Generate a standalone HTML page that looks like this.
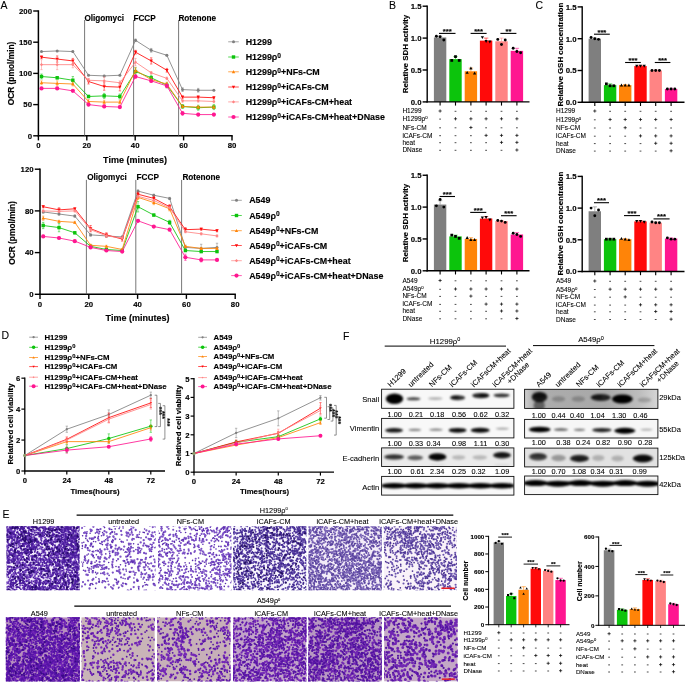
<!DOCTYPE html>
<html><head><meta charset="utf-8"><title>Figure</title>
<style>html,body{margin:0;padding:0;background:#fff}svg{display:block}text{font-family:"Liberation Sans",Arial,sans-serif;stroke:#000;stroke-width:0.08px}text[font-weight]{stroke-width:0.14px}</style></head><body>
<svg width="685" height="684" viewBox="0 0 685 684">
<defs><filter id="blur" x="-20%" y="-50%" width="140%" height="200%"><feGaussianBlur stdDeviation="0.9"/></filter><linearGradient id="gr1" x1="0" x2="1" y1="0" y2="0"><stop offset="0" stop-color="#cfcfcf"/><stop offset="0.07" stop-color="#adadad"/><stop offset="0.6" stop-color="#a8a8a8"/><stop offset="0.86" stop-color="#bdbdbd"/><stop offset="1" stop-color="#d6d6d6"/></linearGradient></defs>
<rect width="685" height="684" fill="#fff"/>
<text x="0.6" y="8.7" font-size="10.5">A</text>
<line x1="38.4" y1="10.3" x2="38.4" y2="136.5" stroke="#000" stroke-width="1.5"/>
<line x1="37.7" y1="135.8" x2="232.7" y2="135.8" stroke="#000" stroke-width="1.5"/>
<line x1="33.2" y1="135.8" x2="38.4" y2="135.8" stroke="#000" stroke-width="1.4"/>
<text x="32" y="138.6" font-size="7.8" text-anchor="end" font-weight="bold">0</text>
<line x1="33.2" y1="104.6" x2="38.4" y2="104.6" stroke="#000" stroke-width="1.4"/>
<text x="32" y="107.4" font-size="7.8" text-anchor="end" font-weight="bold">50</text>
<line x1="33.2" y1="73.4" x2="38.4" y2="73.4" stroke="#000" stroke-width="1.4"/>
<text x="32" y="76.2" font-size="7.8" text-anchor="end" font-weight="bold">100</text>
<line x1="33.2" y1="42.2" x2="38.4" y2="42.2" stroke="#000" stroke-width="1.4"/>
<text x="32" y="45" font-size="7.8" text-anchor="end" font-weight="bold">150</text>
<line x1="33.2" y1="11" x2="38.4" y2="11" stroke="#000" stroke-width="1.4"/>
<text x="32" y="13.8" font-size="7.8" text-anchor="end" font-weight="bold">200</text>
<line x1="38.4" y1="135.8" x2="38.4" y2="140.4" stroke="#000" stroke-width="1.4"/>
<text x="38.4" y="148.2" font-size="7.8" text-anchor="middle" font-weight="bold">0</text>
<line x1="86.8" y1="135.8" x2="86.8" y2="140.4" stroke="#000" stroke-width="1.4"/>
<text x="86.8" y="148.2" font-size="7.8" text-anchor="middle" font-weight="bold">20</text>
<line x1="135.2" y1="135.8" x2="135.2" y2="140.4" stroke="#000" stroke-width="1.4"/>
<text x="135.2" y="148.2" font-size="7.8" text-anchor="middle" font-weight="bold">40</text>
<line x1="183.6" y1="135.8" x2="183.6" y2="140.4" stroke="#000" stroke-width="1.4"/>
<text x="183.6" y="148.2" font-size="7.8" text-anchor="middle" font-weight="bold">60</text>
<line x1="232" y1="135.8" x2="232" y2="140.4" stroke="#000" stroke-width="1.4"/>
<text x="232" y="148.2" font-size="7.8" text-anchor="middle" font-weight="bold">80</text>
<line x1="84.6" y1="20" x2="84.6" y2="135.8" stroke="#555" stroke-width="0.8"/>
<text x="84.4" y="20.6" font-size="8.2" font-weight="bold">Oligomyci</text>
<line x1="133.6" y1="20" x2="133.6" y2="135.8" stroke="#555" stroke-width="0.8"/>
<text x="133.4" y="20.6" font-size="8.2" font-weight="bold">FCCP</text>
<line x1="178.6" y1="20" x2="178.6" y2="135.8" stroke="#555" stroke-width="0.8"/>
<text x="178.4" y="20.6" font-size="8.2" font-weight="bold">Rotenone</text>
<polyline fill="none" stroke="#7f7f7f" stroke-width="0.85" points="41.5,51.56 57.17,50.94 72.84,51.56 88.51,75.27 104.18,75.9 119.85,75.27 135.52,40.33 151.19,50.31 166.86,55.3 182.53,89.62 198.2,90.25 213.87,90.25"/>
<path d="M72.84 50.94V52.18M71.64 50.94h2.4M71.64 52.18h2.4M104.18 75.27V76.52M102.98 75.27h2.4M102.98 76.52h2.4M135.52 39.08V41.58M134.32 39.08h2.4M134.32 41.58h2.4M151.19 48.44V52.18M149.99 48.44h2.4M149.99 52.18h2.4M166.86 54.68V55.93M165.66 54.68h2.4M165.66 55.93h2.4M182.53 87.75V91.5M181.33 87.75h2.4M181.33 91.5h2.4M198.2 88.38V92.12M197 88.38h2.4M197 92.12h2.4" stroke="#7f7f7f" stroke-width="0.5" fill="none"/>
<circle cx="41.5" cy="51.56" r="1.5" fill="#7f7f7f"/>
<circle cx="57.17" cy="50.94" r="1.5" fill="#7f7f7f"/>
<circle cx="72.84" cy="51.56" r="1.5" fill="#7f7f7f"/>
<circle cx="88.51" cy="75.27" r="1.5" fill="#7f7f7f"/>
<circle cx="104.18" cy="75.9" r="1.5" fill="#7f7f7f"/>
<circle cx="119.85" cy="75.27" r="1.5" fill="#7f7f7f"/>
<circle cx="135.52" cy="40.33" r="1.5" fill="#7f7f7f"/>
<circle cx="151.19" cy="50.31" r="1.5" fill="#7f7f7f"/>
<circle cx="166.86" cy="55.3" r="1.5" fill="#7f7f7f"/>
<circle cx="182.53" cy="89.62" r="1.5" fill="#7f7f7f"/>
<circle cx="198.2" cy="90.25" r="1.5" fill="#7f7f7f"/>
<circle cx="213.87" cy="90.25" r="1.5" fill="#7f7f7f"/>
<polyline fill="none" stroke="#0cc40c" stroke-width="0.85" points="41.5,76.52 57.17,77.77 72.84,80.26 88.51,96.49 104.18,95.86 119.85,96.49 135.52,71.53 151.19,77.77 166.86,85.26 182.53,106.47 198.2,107.72 213.87,107.1"/>
<path d="M41.5 74.02V79.02M40.3 74.02h2.4M40.3 79.02h2.4M57.17 76.52V79.02M55.97 76.52h2.4M55.97 79.02h2.4M72.84 76.52V84.01M71.64 76.52h2.4M71.64 84.01h2.4M88.51 95.24V97.74M87.31 95.24h2.4M87.31 97.74h2.4M104.18 93.37V98.36M102.98 93.37h2.4M102.98 98.36h2.4M119.85 93.99V98.98M118.65 93.99h2.4M118.65 98.98h2.4M135.52 67.78V75.27M134.32 67.78h2.4M134.32 75.27h2.4M151.19 75.27V80.26M149.99 75.27h2.4M149.99 80.26h2.4M166.86 82.76V87.75M165.66 82.76h2.4M165.66 87.75h2.4M182.53 104.6V108.34M181.33 104.6h2.4M181.33 108.34h2.4M198.2 105.22V110.22M197 105.22h2.4M197 110.22h2.4M213.87 104.6V109.59M212.67 104.6h2.4M212.67 109.59h2.4" stroke="#0cc40c" stroke-width="0.5" fill="none"/>
<rect x="39.8" y="74.82" width="3.4" height="3.4" fill="#0cc40c"/>
<rect x="55.47" y="76.07" width="3.4" height="3.4" fill="#0cc40c"/>
<rect x="71.14" y="78.56" width="3.4" height="3.4" fill="#0cc40c"/>
<rect x="86.81" y="94.79" width="3.4" height="3.4" fill="#0cc40c"/>
<rect x="102.48" y="94.16" width="3.4" height="3.4" fill="#0cc40c"/>
<rect x="118.15" y="94.79" width="3.4" height="3.4" fill="#0cc40c"/>
<rect x="133.82" y="69.83" width="3.4" height="3.4" fill="#0cc40c"/>
<rect x="149.49" y="76.07" width="3.4" height="3.4" fill="#0cc40c"/>
<rect x="165.16" y="83.56" width="3.4" height="3.4" fill="#0cc40c"/>
<rect x="180.83" y="104.77" width="3.4" height="3.4" fill="#0cc40c"/>
<rect x="196.5" y="106.02" width="3.4" height="3.4" fill="#0cc40c"/>
<rect x="212.17" y="105.4" width="3.4" height="3.4" fill="#0cc40c"/>
<polyline fill="none" stroke="#ff8408" stroke-width="0.85" points="41.5,82.76 57.17,83.38 72.84,84.01 88.51,101.48 104.18,102.1 119.85,102.1 135.52,70.28 151.19,79.64 166.86,84.01 182.53,106.47 198.2,107.1 213.87,107.1"/>
<path d="M41.5 80.89V84.63M40.3 80.89h2.4M40.3 84.63h2.4M57.17 80.89V85.88M55.97 80.89h2.4M55.97 85.88h2.4M72.84 82.14V85.88M71.64 82.14h2.4M71.64 85.88h2.4M88.51 99.61V103.35M87.31 99.61h2.4M87.31 103.35h2.4M104.18 100.23V103.98M102.98 100.23h2.4M102.98 103.98h2.4M119.85 100.23V103.98M118.65 100.23h2.4M118.65 103.98h2.4M135.52 67.78V72.78M134.32 67.78h2.4M134.32 72.78h2.4M151.19 77.77V81.51M149.99 77.77h2.4M149.99 81.51h2.4M166.86 82.14V85.88M165.66 82.14h2.4M165.66 85.88h2.4M182.53 105.22V107.72M181.33 105.22h2.4M181.33 107.72h2.4M198.2 105.85V108.34M197 105.85h2.4M197 108.34h2.4M213.87 105.85V108.34M212.67 105.85h2.4M212.67 108.34h2.4" stroke="#ff8408" stroke-width="0.5" fill="none"/>
<path d="M41.5 81.06L43.2 84.12L39.8 84.12Z" fill="#ff8408"/>
<path d="M57.17 81.68L58.87 84.74L55.47 84.74Z" fill="#ff8408"/>
<path d="M72.84 82.31L74.54 85.37L71.14 85.37Z" fill="#ff8408"/>
<path d="M88.51 99.78L90.21 102.84L86.81 102.84Z" fill="#ff8408"/>
<path d="M104.18 100.4L105.88 103.46L102.48 103.46Z" fill="#ff8408"/>
<path d="M119.85 100.4L121.55 103.46L118.15 103.46Z" fill="#ff8408"/>
<path d="M135.52 68.58L137.22 71.64L133.82 71.64Z" fill="#ff8408"/>
<path d="M151.19 77.94L152.89 81L149.49 81Z" fill="#ff8408"/>
<path d="M166.86 82.31L168.56 85.37L165.16 85.37Z" fill="#ff8408"/>
<path d="M182.53 104.77L184.23 107.83L180.83 107.83Z" fill="#ff8408"/>
<path d="M198.2 105.4L199.9 108.46L196.5 108.46Z" fill="#ff8408"/>
<path d="M213.87 105.4L215.57 108.46L212.17 108.46Z" fill="#ff8408"/>
<polyline fill="none" stroke="#ff0a0a" stroke-width="0.85" points="41.5,57.18 57.17,59.05 72.84,60.92 88.51,81.51 104.18,86.5 119.85,87.13 135.52,52.18 151.19,60.92 166.86,70.28 182.53,97.11 198.2,97.11 213.87,97.74"/>
<path d="M41.5 55.93V58.42M40.3 55.93h2.4M40.3 58.42h2.4M57.17 55.93V62.17M55.97 55.93h2.4M55.97 62.17h2.4M72.84 58.42V63.42M71.64 58.42h2.4M71.64 63.42h2.4M88.51 79.02V84.01M87.31 79.02h2.4M87.31 84.01h2.4M104.18 82.76V90.25M102.98 82.76h2.4M102.98 90.25h2.4M119.85 83.38V90.87M118.65 83.38h2.4M118.65 90.87h2.4M135.52 50.31V54.06M134.32 50.31h2.4M134.32 54.06h2.4M151.19 57.8V64.04M149.99 57.8h2.4M149.99 64.04h2.4M166.86 68.41V72.15M165.66 68.41h2.4M165.66 72.15h2.4M182.53 95.86V98.36M181.33 95.86h2.4M181.33 98.36h2.4M198.2 95.86V98.36M197 95.86h2.4M197 98.36h2.4M213.87 96.49V98.98M212.67 96.49h2.4M212.67 98.98h2.4" stroke="#ff0a0a" stroke-width="0.5" fill="none"/>
<path d="M41.5 58.88L43.2 55.82L39.8 55.82Z" fill="#ff0a0a"/>
<path d="M57.17 60.75L58.87 57.69L55.47 57.69Z" fill="#ff0a0a"/>
<path d="M72.84 62.62L74.54 59.56L71.14 59.56Z" fill="#ff0a0a"/>
<path d="M88.51 83.21L90.21 80.15L86.81 80.15Z" fill="#ff0a0a"/>
<path d="M104.18 88.2L105.88 85.14L102.48 85.14Z" fill="#ff0a0a"/>
<path d="M119.85 88.83L121.55 85.77L118.15 85.77Z" fill="#ff0a0a"/>
<path d="M135.52 53.88L137.22 50.82L133.82 50.82Z" fill="#ff0a0a"/>
<path d="M151.19 62.62L152.89 59.56L149.49 59.56Z" fill="#ff0a0a"/>
<path d="M166.86 71.98L168.56 68.92L165.16 68.92Z" fill="#ff0a0a"/>
<path d="M182.53 98.81L184.23 95.75L180.83 95.75Z" fill="#ff0a0a"/>
<path d="M198.2 98.81L199.9 95.75L196.5 95.75Z" fill="#ff0a0a"/>
<path d="M213.87 99.44L215.57 96.38L212.17 96.38Z" fill="#ff0a0a"/>
<polyline fill="none" stroke="#ff8484" stroke-width="0.85" points="41.5,64.66 57.17,64.66 72.84,64.66 88.51,80.26 104.18,80.89 119.85,82.76 135.52,62.17 151.19,72.78 166.86,78.39 182.53,100.86 198.2,100.86 213.87,101.48"/>
<path d="M41.5 59.67V69.66M40.3 59.67h2.4M40.3 69.66h2.4M57.17 59.67V69.66M55.97 59.67h2.4M55.97 69.66h2.4M72.84 61.54V67.78M71.64 61.54h2.4M71.64 67.78h2.4M88.51 78.39V82.14M87.31 78.39h2.4M87.31 82.14h2.4M104.18 77.14V84.63M102.98 77.14h2.4M102.98 84.63h2.4M119.85 80.89V84.63M118.65 80.89h2.4M118.65 84.63h2.4M135.52 58.42V65.91M134.32 58.42h2.4M134.32 65.91h2.4M151.19 71.53V74.02M149.99 71.53h2.4M149.99 74.02h2.4M166.86 77.14V79.64M165.66 77.14h2.4M165.66 79.64h2.4M182.53 99.61V102.1M181.33 99.61h2.4M181.33 102.1h2.4M198.2 99.61V102.1M197 99.61h2.4M197 102.1h2.4M213.87 100.23V102.73M212.67 100.23h2.4M212.67 102.73h2.4" stroke="#ff8484" stroke-width="0.5" fill="none"/>
<path d="M41.5 63.06L43.1 64.66L41.5 66.26L39.9 64.66Z" fill="#ff8484"/>
<path d="M57.17 63.06L58.77 64.66L57.17 66.26L55.57 64.66Z" fill="#ff8484"/>
<path d="M72.84 63.06L74.44 64.66L72.84 66.26L71.24 64.66Z" fill="#ff8484"/>
<path d="M88.51 78.66L90.11 80.26L88.51 81.86L86.91 80.26Z" fill="#ff8484"/>
<path d="M104.18 79.29L105.78 80.89L104.18 82.49L102.58 80.89Z" fill="#ff8484"/>
<path d="M119.85 81.16L121.45 82.76L119.85 84.36L118.25 82.76Z" fill="#ff8484"/>
<path d="M135.52 60.57L137.12 62.17L135.52 63.77L133.92 62.17Z" fill="#ff8484"/>
<path d="M151.19 71.18L152.79 72.78L151.19 74.38L149.59 72.78Z" fill="#ff8484"/>
<path d="M166.86 76.79L168.46 78.39L166.86 79.99L165.26 78.39Z" fill="#ff8484"/>
<path d="M182.53 99.26L184.13 100.86L182.53 102.46L180.93 100.86Z" fill="#ff8484"/>
<path d="M198.2 99.26L199.8 100.86L198.2 102.46L196.6 100.86Z" fill="#ff8484"/>
<path d="M213.87 99.88L215.47 101.48L213.87 103.08L212.27 101.48Z" fill="#ff8484"/>
<polyline fill="none" stroke="#ff1690" stroke-width="0.85" points="41.5,88.38 57.17,88.38 72.84,90.87 88.51,104.6 104.18,106.47 119.85,107.1 135.52,76.52 151.19,80.89 166.86,85.88 182.53,113.34 198.2,114.58 213.87,114.58"/>
<path d="M41.5 87.75V89M40.3 87.75h2.4M40.3 89h2.4M57.17 87.75V89M55.97 87.75h2.4M55.97 89h2.4M72.84 90.25V91.5M71.64 90.25h2.4M71.64 91.5h2.4M88.51 103.35V105.85M87.31 103.35h2.4M87.31 105.85h2.4M104.18 105.22V107.72M102.98 105.22h2.4M102.98 107.72h2.4M119.85 105.85V108.34M118.65 105.85h2.4M118.65 108.34h2.4M135.52 74.65V78.39M134.32 74.65h2.4M134.32 78.39h2.4M151.19 79.64V82.14M149.99 79.64h2.4M149.99 82.14h2.4M166.86 84.01V87.75M165.66 84.01h2.4M165.66 87.75h2.4M182.53 111.46V115.21M181.33 111.46h2.4M181.33 115.21h2.4M198.2 113.34V115.83M197 113.34h2.4M197 115.83h2.4M213.87 113.34V115.83M212.67 113.34h2.4M212.67 115.83h2.4" stroke="#ff1690" stroke-width="0.5" fill="none"/>
<circle cx="41.5" cy="88.38" r="2.1" fill="#ff1690"/>
<circle cx="57.17" cy="88.38" r="2.1" fill="#ff1690"/>
<circle cx="72.84" cy="90.87" r="2.1" fill="#ff1690"/>
<circle cx="88.51" cy="104.6" r="2.1" fill="#ff1690"/>
<circle cx="104.18" cy="106.47" r="2.1" fill="#ff1690"/>
<circle cx="119.85" cy="107.1" r="2.1" fill="#ff1690"/>
<circle cx="135.52" cy="76.52" r="2.1" fill="#ff1690"/>
<circle cx="151.19" cy="80.89" r="2.1" fill="#ff1690"/>
<circle cx="166.86" cy="85.88" r="2.1" fill="#ff1690"/>
<circle cx="182.53" cy="113.34" r="2.1" fill="#ff1690"/>
<circle cx="198.2" cy="114.58" r="2.1" fill="#ff1690"/>
<circle cx="213.87" cy="114.58" r="2.1" fill="#ff1690"/>
<line x1="228.2" y1="41.8" x2="238.8" y2="41.8" stroke="#7f7f7f" stroke-width="0.7"/>
<circle cx="233.5" cy="41.8" r="1.5" fill="#7f7f7f"/>
<text x="245.7" y="44.9" font-size="8.9" font-weight="bold">H1299</text>
<line x1="228.2" y1="57" x2="238.8" y2="57" stroke="#0cc40c" stroke-width="0.7"/>
<rect x="231.8" y="55.3" width="3.4" height="3.4" fill="#0cc40c"/>
<text x="245.7" y="60.1" font-size="8.9" font-weight="bold">H1299ρ<tspan dy="-2.4" font-size="75%">0</tspan><tspan dy="2.4"></tspan></text>
<line x1="228.2" y1="71.8" x2="238.8" y2="71.8" stroke="#ff8408" stroke-width="0.7"/>
<path d="M233.5 70.1L235.2 73.16L231.8 73.16Z" fill="#ff8408"/>
<text x="245.7" y="74.9" font-size="8.9" font-weight="bold">H1299ρ<tspan dy="-2.4" font-size="75%">0</tspan><tspan dy="2.4">+NFs-CM</tspan></text>
<line x1="228.2" y1="87" x2="238.8" y2="87" stroke="#ff0a0a" stroke-width="0.7"/>
<path d="M233.5 88.7L235.2 85.64L231.8 85.64Z" fill="#ff0a0a"/>
<text x="245.7" y="90.1" font-size="8.9" font-weight="bold">H1299ρ<tspan dy="-2.4" font-size="75%">0</tspan><tspan dy="2.4">+iCAFs-CM</tspan></text>
<line x1="228.2" y1="101.9" x2="238.8" y2="101.9" stroke="#ff8484" stroke-width="0.7"/>
<path d="M233.5 100.3L235.1 101.9L233.5 103.5L231.9 101.9Z" fill="#ff8484"/>
<text x="245.7" y="105" font-size="8.9" font-weight="bold">H1299ρ<tspan dy="-2.4" font-size="75%">0</tspan><tspan dy="2.4">+iCAFs-CM+heat</tspan></text>
<line x1="228.2" y1="117" x2="238.8" y2="117" stroke="#ff1690" stroke-width="0.7"/>
<circle cx="233.5" cy="117" r="2.1" fill="#ff1690"/>
<text x="245.7" y="120.1" font-size="8.9" font-weight="bold">H1299ρ<tspan dy="-2.4" font-size="75%">0</tspan><tspan dy="2.4">+iCAFs-CM+heat+DNase</tspan></text>
<text x="13.7" y="73.5" font-size="8.4" text-anchor="middle" font-weight="bold" transform="rotate(-90 13.7 73.5)">OCR (pmol/min)</text>
<text x="135" y="162.5" font-size="9" text-anchor="middle" font-weight="bold">Time (minutes)</text>
<line x1="40" y1="168.5" x2="40" y2="295" stroke="#000" stroke-width="1.5"/>
<line x1="39.3" y1="294.3" x2="235.9" y2="294.3" stroke="#000" stroke-width="1.5"/>
<line x1="34.8" y1="294.3" x2="40" y2="294.3" stroke="#000" stroke-width="1.4"/>
<text x="33.6" y="297.1" font-size="7.8" text-anchor="end" font-weight="bold">0</text>
<line x1="34.8" y1="252.6" x2="40" y2="252.6" stroke="#000" stroke-width="1.4"/>
<text x="33.6" y="255.4" font-size="7.8" text-anchor="end" font-weight="bold">40</text>
<line x1="34.8" y1="210.9" x2="40" y2="210.9" stroke="#000" stroke-width="1.4"/>
<text x="33.6" y="213.7" font-size="7.8" text-anchor="end" font-weight="bold">80</text>
<line x1="34.8" y1="169.2" x2="40" y2="169.2" stroke="#000" stroke-width="1.4"/>
<text x="33.6" y="172" font-size="7.8" text-anchor="end" font-weight="bold">120</text>
<line x1="40" y1="294.3" x2="40" y2="298.9" stroke="#000" stroke-width="1.4"/>
<text x="40" y="306.7" font-size="7.8" text-anchor="middle" font-weight="bold">0</text>
<line x1="88.8" y1="294.3" x2="88.8" y2="298.9" stroke="#000" stroke-width="1.4"/>
<text x="88.8" y="306.7" font-size="7.8" text-anchor="middle" font-weight="bold">20</text>
<line x1="137.6" y1="294.3" x2="137.6" y2="298.9" stroke="#000" stroke-width="1.4"/>
<text x="137.6" y="306.7" font-size="7.8" text-anchor="middle" font-weight="bold">40</text>
<line x1="186.4" y1="294.3" x2="186.4" y2="298.9" stroke="#000" stroke-width="1.4"/>
<text x="186.4" y="306.7" font-size="7.8" text-anchor="middle" font-weight="bold">60</text>
<line x1="235.2" y1="294.3" x2="235.2" y2="298.9" stroke="#000" stroke-width="1.4"/>
<text x="235.2" y="306.7" font-size="7.8" text-anchor="middle" font-weight="bold">80</text>
<line x1="86.4" y1="179.9" x2="86.4" y2="294.3" stroke="#555" stroke-width="0.8"/>
<text x="87.2" y="179.9" font-size="8.2" font-weight="bold">Oligomyci</text>
<line x1="135.8" y1="179.9" x2="135.8" y2="294.3" stroke="#555" stroke-width="0.8"/>
<text x="136.6" y="179.9" font-size="8.2" font-weight="bold">FCCP</text>
<line x1="181.6" y1="179.9" x2="181.6" y2="294.3" stroke="#555" stroke-width="0.8"/>
<text x="182.4" y="179.9" font-size="8.2" font-weight="bold">Rotenone</text>
<polyline fill="none" stroke="#7f7f7f" stroke-width="0.85" points="43.2,211.94 59,214.03 74.8,216.11 90.6,234.88 106.4,235.92 122.2,236.96 138,191.09 153.8,195.26 169.6,198.39 185.4,247.39 201.2,248.43 217,247.39"/>
<path d="M43.2 210.9V212.98M42 210.9h2.4M42 212.98h2.4M59 212.99V215.07M57.8 212.99h2.4M57.8 215.07h2.4M74.8 215.07V217.16M73.6 215.07h2.4M73.6 217.16h2.4M90.6 233.84V235.92M89.4 233.84h2.4M89.4 235.92h2.4M106.4 234.88V236.96M105.2 234.88h2.4M105.2 236.96h2.4M122.2 235.92V238M121 235.92h2.4M121 238h2.4M138 190.05V192.14M136.8 190.05h2.4M136.8 192.14h2.4M153.8 194.22V196.31M152.6 194.22h2.4M152.6 196.31h2.4M169.6 197.35V199.43M168.4 197.35h2.4M168.4 199.43h2.4M185.4 245.3V249.47M184.2 245.3h2.4M184.2 249.47h2.4M201.2 244.26V252.6M200 244.26h2.4M200 252.6h2.4M217 243.22V251.56M215.8 243.22h2.4M215.8 251.56h2.4" stroke="#7f7f7f" stroke-width="0.5" fill="none"/>
<circle cx="43.2" cy="211.94" r="1.5" fill="#7f7f7f"/>
<circle cx="59" cy="214.03" r="1.5" fill="#7f7f7f"/>
<circle cx="74.8" cy="216.11" r="1.5" fill="#7f7f7f"/>
<circle cx="90.6" cy="234.88" r="1.5" fill="#7f7f7f"/>
<circle cx="106.4" cy="235.92" r="1.5" fill="#7f7f7f"/>
<circle cx="122.2" cy="236.96" r="1.5" fill="#7f7f7f"/>
<circle cx="138" cy="191.09" r="1.5" fill="#7f7f7f"/>
<circle cx="153.8" cy="195.26" r="1.5" fill="#7f7f7f"/>
<circle cx="169.6" cy="198.39" r="1.5" fill="#7f7f7f"/>
<circle cx="185.4" cy="247.39" r="1.5" fill="#7f7f7f"/>
<circle cx="201.2" cy="248.43" r="1.5" fill="#7f7f7f"/>
<circle cx="217" cy="247.39" r="1.5" fill="#7f7f7f"/>
<polyline fill="none" stroke="#0cc40c" stroke-width="0.85" points="43.2,225.5 59,227.58 74.8,232.79 90.6,246.35 106.4,249.47 122.2,250.52 138,206.73 153.8,215.07 169.6,222.37 185.4,250.52 201.2,251.56 217,251.56"/>
<path d="M43.2 222.37V228.62M42 222.37h2.4M42 228.62h2.4M59 223.41V231.75M57.8 223.41h2.4M57.8 231.75h2.4M74.8 231.75V233.84M73.6 231.75h2.4M73.6 233.84h2.4M90.6 245.3V247.39M89.4 245.3h2.4M89.4 247.39h2.4M106.4 248.43V250.52M105.2 248.43h2.4M105.2 250.52h2.4M122.2 249.47V251.56M121 249.47h2.4M121 251.56h2.4M138 201.52V211.94M136.8 201.52h2.4M136.8 211.94h2.4M153.8 214.03V216.11M152.6 214.03h2.4M152.6 216.11h2.4M169.6 220.28V224.45M168.4 220.28h2.4M168.4 224.45h2.4M185.4 249.47V251.56M184.2 249.47h2.4M184.2 251.56h2.4M201.2 250.52V252.6M200 250.52h2.4M200 252.6h2.4M217 250.52V252.6M215.8 250.52h2.4M215.8 252.6h2.4" stroke="#0cc40c" stroke-width="0.5" fill="none"/>
<rect x="41.5" y="223.8" width="3.4" height="3.4" fill="#0cc40c"/>
<rect x="57.3" y="225.88" width="3.4" height="3.4" fill="#0cc40c"/>
<rect x="73.1" y="231.09" width="3.4" height="3.4" fill="#0cc40c"/>
<rect x="88.9" y="244.65" width="3.4" height="3.4" fill="#0cc40c"/>
<rect x="104.7" y="247.77" width="3.4" height="3.4" fill="#0cc40c"/>
<rect x="120.5" y="248.82" width="3.4" height="3.4" fill="#0cc40c"/>
<rect x="136.3" y="205.03" width="3.4" height="3.4" fill="#0cc40c"/>
<rect x="152.1" y="213.37" width="3.4" height="3.4" fill="#0cc40c"/>
<rect x="167.9" y="220.67" width="3.4" height="3.4" fill="#0cc40c"/>
<rect x="183.7" y="248.82" width="3.4" height="3.4" fill="#0cc40c"/>
<rect x="199.5" y="249.86" width="3.4" height="3.4" fill="#0cc40c"/>
<rect x="215.3" y="249.86" width="3.4" height="3.4" fill="#0cc40c"/>
<polyline fill="none" stroke="#ff8408" stroke-width="0.85" points="43.2,218.2 59,221.33 74.8,222.37 90.6,245.3 106.4,246.35 122.2,249.47 138,197.35 153.8,202.56 169.6,208.81 185.4,246.35 201.2,248.43 217,248.43"/>
<path d="M43.2 216.11V220.28M42 216.11h2.4M42 220.28h2.4M59 220.28V222.37M57.8 220.28h2.4M57.8 222.37h2.4M74.8 221.33V223.41M73.6 221.33h2.4M73.6 223.41h2.4M90.6 244.26V246.34M89.4 244.26h2.4M89.4 246.34h2.4M106.4 245.3V247.39M105.2 245.3h2.4M105.2 247.39h2.4M122.2 248.43V250.52M121 248.43h2.4M121 250.52h2.4M138 195.26V199.43M136.8 195.26h2.4M136.8 199.43h2.4M153.8 200.47V204.65M152.6 200.47h2.4M152.6 204.65h2.4M169.6 206.73V210.9M168.4 206.73h2.4M168.4 210.9h2.4M185.4 245.3V247.39M184.2 245.3h2.4M184.2 247.39h2.4M201.2 247.39V249.47M200 247.39h2.4M200 249.47h2.4M217 247.39V249.47M215.8 247.39h2.4M215.8 249.47h2.4" stroke="#ff8408" stroke-width="0.5" fill="none"/>
<path d="M43.2 216.5L44.9 219.56L41.5 219.56Z" fill="#ff8408"/>
<path d="M59 219.63L60.7 222.69L57.3 222.69Z" fill="#ff8408"/>
<path d="M74.8 220.67L76.5 223.73L73.1 223.73Z" fill="#ff8408"/>
<path d="M90.6 243.6L92.3 246.66L88.9 246.66Z" fill="#ff8408"/>
<path d="M106.4 244.65L108.1 247.71L104.7 247.71Z" fill="#ff8408"/>
<path d="M122.2 247.77L123.9 250.83L120.5 250.83Z" fill="#ff8408"/>
<path d="M138 195.65L139.7 198.71L136.3 198.71Z" fill="#ff8408"/>
<path d="M153.8 200.86L155.5 203.92L152.1 203.92Z" fill="#ff8408"/>
<path d="M169.6 207.12L171.3 210.18L167.9 210.18Z" fill="#ff8408"/>
<path d="M185.4 244.65L187.1 247.71L183.7 247.71Z" fill="#ff8408"/>
<path d="M201.2 246.73L202.9 249.79L199.5 249.79Z" fill="#ff8408"/>
<path d="M217 246.73L218.7 249.79L215.3 249.79Z" fill="#ff8408"/>
<polyline fill="none" stroke="#ff0a0a" stroke-width="0.85" points="43.2,206.73 59,209.86 74.8,208.81 90.6,228.62 106.4,234.88 122.2,239.05 138,194.22 153.8,198.39 169.6,206.73 185.4,229.67 201.2,229.14 217,230.71"/>
<path d="M43.2 205.69V207.77M42 205.69h2.4M42 207.77h2.4M59 207.77V211.94M57.8 207.77h2.4M57.8 211.94h2.4M74.8 207.77V209.86M73.6 207.77h2.4M73.6 209.86h2.4M90.6 225.5V231.75M89.4 225.5h2.4M89.4 231.75h2.4M106.4 232.79V236.96M105.2 232.79h2.4M105.2 236.96h2.4M122.2 236.96V241.13M121 236.96h2.4M121 241.13h2.4M138 192.14V196.31M136.8 192.14h2.4M136.8 196.31h2.4M153.8 196.31V200.48M152.6 196.31h2.4M152.6 200.48h2.4M169.6 204.65V208.82M168.4 204.65h2.4M168.4 208.82h2.4M185.4 227.58V231.75M184.2 227.58h2.4M184.2 231.75h2.4M201.2 228.1V230.19M200 228.1h2.4M200 230.19h2.4M217 229.67V231.75M215.8 229.67h2.4M215.8 231.75h2.4" stroke="#ff0a0a" stroke-width="0.5" fill="none"/>
<path d="M43.2 208.43L44.9 205.37L41.5 205.37Z" fill="#ff0a0a"/>
<path d="M59 211.56L60.7 208.5L57.3 208.5Z" fill="#ff0a0a"/>
<path d="M74.8 210.51L76.5 207.45L73.1 207.45Z" fill="#ff0a0a"/>
<path d="M90.6 230.32L92.3 227.26L88.9 227.26Z" fill="#ff0a0a"/>
<path d="M106.4 236.58L108.1 233.52L104.7 233.52Z" fill="#ff0a0a"/>
<path d="M122.2 240.75L123.9 237.69L120.5 237.69Z" fill="#ff0a0a"/>
<path d="M138 195.92L139.7 192.86L136.3 192.86Z" fill="#ff0a0a"/>
<path d="M153.8 200.09L155.5 197.03L152.1 197.03Z" fill="#ff0a0a"/>
<path d="M169.6 208.43L171.3 205.37L167.9 205.37Z" fill="#ff0a0a"/>
<path d="M185.4 231.37L187.1 228.31L183.7 228.31Z" fill="#ff0a0a"/>
<path d="M201.2 230.84L202.9 227.78L199.5 227.78Z" fill="#ff0a0a"/>
<path d="M217 232.41L218.7 229.35L215.3 229.35Z" fill="#ff0a0a"/>
<polyline fill="none" stroke="#ff8484" stroke-width="0.85" points="43.2,210.9 59,211.42 74.8,210.9 90.6,229.67 106.4,235.92 122.2,238 138,196.31 153.8,200.48 169.6,207.77 185.4,231.75 201.2,233.84 217,235.92"/>
<path d="M43.2 209.86V211.94M42 209.86h2.4M42 211.94h2.4M59 210.38V212.46M57.8 210.38h2.4M57.8 212.46h2.4M74.8 209.86V211.94M73.6 209.86h2.4M73.6 211.94h2.4M90.6 228.62V230.71M89.4 228.62h2.4M89.4 230.71h2.4M106.4 234.88V236.96M105.2 234.88h2.4M105.2 236.96h2.4M122.2 236.96V239.05M121 236.96h2.4M121 239.05h2.4M138 195.26V197.35M136.8 195.26h2.4M136.8 197.35h2.4M153.8 199.43V201.52M152.6 199.43h2.4M152.6 201.52h2.4M169.6 206.73V208.81M168.4 206.73h2.4M168.4 208.81h2.4M185.4 230.71V232.79M184.2 230.71h2.4M184.2 232.79h2.4M201.2 232.79V234.88M200 232.79h2.4M200 234.88h2.4M217 234.88V236.96M215.8 234.88h2.4M215.8 236.96h2.4" stroke="#ff8484" stroke-width="0.5" fill="none"/>
<path d="M43.2 209.3L44.8 210.9L43.2 212.5L41.6 210.9Z" fill="#ff8484"/>
<path d="M59 209.82L60.6 211.42L59 213.02L57.4 211.42Z" fill="#ff8484"/>
<path d="M74.8 209.3L76.4 210.9L74.8 212.5L73.2 210.9Z" fill="#ff8484"/>
<path d="M90.6 228.07L92.2 229.67L90.6 231.27L89 229.67Z" fill="#ff8484"/>
<path d="M106.4 234.32L108 235.92L106.4 237.52L104.8 235.92Z" fill="#ff8484"/>
<path d="M122.2 236.41L123.8 238L122.2 239.6L120.6 238Z" fill="#ff8484"/>
<path d="M138 194.71L139.6 196.31L138 197.91L136.4 196.31Z" fill="#ff8484"/>
<path d="M153.8 198.88L155.4 200.48L153.8 202.08L152.2 200.48Z" fill="#ff8484"/>
<path d="M169.6 206.17L171.2 207.77L169.6 209.37L168 207.77Z" fill="#ff8484"/>
<path d="M185.4 230.15L187 231.75L185.4 233.35L183.8 231.75Z" fill="#ff8484"/>
<path d="M201.2 232.24L202.8 233.84L201.2 235.44L199.6 233.84Z" fill="#ff8484"/>
<path d="M217 234.32L218.6 235.92L217 237.52L215.4 235.92Z" fill="#ff8484"/>
<polyline fill="none" stroke="#ff1690" stroke-width="0.85" points="43.2,236.44 59,238 74.8,241.13 90.6,247.39 106.4,250.52 122.2,251.56 138,220.8 153.8,226.54 169.6,229.67 185.4,257.29 201.2,259.9 217,259.9"/>
<path d="M43.2 235.4V237.48M42 235.4h2.4M42 237.48h2.4M59 236.96V239.05M57.8 236.96h2.4M57.8 239.05h2.4M74.8 240.09V242.18M73.6 240.09h2.4M73.6 242.18h2.4M90.6 246.35V248.43M89.4 246.35h2.4M89.4 248.43h2.4M106.4 249.47V251.56M105.2 249.47h2.4M105.2 251.56h2.4M122.2 250.52V252.6M121 250.52h2.4M121 252.6h2.4M138 219.76V221.85M136.8 219.76h2.4M136.8 221.85h2.4M153.8 225.5V227.58M152.6 225.5h2.4M152.6 227.58h2.4M169.6 228.62V230.71M168.4 228.62h2.4M168.4 230.71h2.4M185.4 254.16V260.42M184.2 254.16h2.4M184.2 260.42h2.4M201.2 257.81V261.98M200 257.81h2.4M200 261.98h2.4M217 258.86V260.94M215.8 258.86h2.4M215.8 260.94h2.4" stroke="#ff1690" stroke-width="0.5" fill="none"/>
<circle cx="43.2" cy="236.44" r="2.1" fill="#ff1690"/>
<circle cx="59" cy="238" r="2.1" fill="#ff1690"/>
<circle cx="74.8" cy="241.13" r="2.1" fill="#ff1690"/>
<circle cx="90.6" cy="247.39" r="2.1" fill="#ff1690"/>
<circle cx="106.4" cy="250.52" r="2.1" fill="#ff1690"/>
<circle cx="122.2" cy="251.56" r="2.1" fill="#ff1690"/>
<circle cx="138" cy="220.8" r="2.1" fill="#ff1690"/>
<circle cx="153.8" cy="226.54" r="2.1" fill="#ff1690"/>
<circle cx="169.6" cy="229.67" r="2.1" fill="#ff1690"/>
<circle cx="185.4" cy="257.29" r="2.1" fill="#ff1690"/>
<circle cx="201.2" cy="259.9" r="2.1" fill="#ff1690"/>
<circle cx="217" cy="259.9" r="2.1" fill="#ff1690"/>
<line x1="231.2" y1="200.3" x2="241.8" y2="200.3" stroke="#7f7f7f" stroke-width="0.7"/>
<circle cx="236.5" cy="200.3" r="1.5" fill="#7f7f7f"/>
<text x="249.2" y="203.4" font-size="8.9" font-weight="bold">A549</text>
<line x1="231.2" y1="215.5" x2="241.8" y2="215.5" stroke="#0cc40c" stroke-width="0.7"/>
<rect x="234.8" y="213.8" width="3.4" height="3.4" fill="#0cc40c"/>
<text x="249.2" y="218.6" font-size="8.9" font-weight="bold">A549ρ<tspan dy="-2.4" font-size="75%">0</tspan><tspan dy="2.4"></tspan></text>
<line x1="231.2" y1="230.7" x2="241.8" y2="230.7" stroke="#ff8408" stroke-width="0.7"/>
<path d="M236.5 229L238.2 232.06L234.8 232.06Z" fill="#ff8408"/>
<text x="249.2" y="233.8" font-size="8.9" font-weight="bold">A549ρ<tspan dy="-2.4" font-size="75%">0</tspan><tspan dy="2.4">+NFs-CM</tspan></text>
<line x1="231.2" y1="245.5" x2="241.8" y2="245.5" stroke="#ff0a0a" stroke-width="0.7"/>
<path d="M236.5 247.2L238.2 244.14L234.8 244.14Z" fill="#ff0a0a"/>
<text x="249.2" y="248.6" font-size="8.9" font-weight="bold">A549ρ<tspan dy="-2.4" font-size="75%">0</tspan><tspan dy="2.4">+iCAFs-CM</tspan></text>
<line x1="231.2" y1="260.7" x2="241.8" y2="260.7" stroke="#ff8484" stroke-width="0.7"/>
<path d="M236.5 259.1L238.1 260.7L236.5 262.3L234.9 260.7Z" fill="#ff8484"/>
<text x="249.2" y="263.8" font-size="8.9" font-weight="bold">A549ρ<tspan dy="-2.4" font-size="75%">0</tspan><tspan dy="2.4">+iCAFs-CM+heat</tspan></text>
<line x1="231.2" y1="275.6" x2="241.8" y2="275.6" stroke="#ff1690" stroke-width="0.7"/>
<circle cx="236.5" cy="275.6" r="2.1" fill="#ff1690"/>
<text x="249.2" y="278.7" font-size="8.9" font-weight="bold">A549ρ<tspan dy="-2.4" font-size="75%">0</tspan><tspan dy="2.4">+iCAFs-CM+heat+DNase</tspan></text>
<text x="15.3" y="233" font-size="8.4" text-anchor="middle" font-weight="bold" transform="rotate(-90 15.3 233)">OCR (pmol/min)</text>
<text x="137.5" y="320.8" font-size="9" text-anchor="middle" font-weight="bold">Time (minutes)</text>
<text x="389" y="9.4" font-size="10.5">B</text>
<text x="535.4" y="8.8" font-size="10.5">C</text>
<rect x="433.9" y="37.46" width="12.4" height="64.44" fill="#7f7f7f"/>
<rect x="449.3" y="59.15" width="12.4" height="42.75" fill="#0cc40c"/>
<rect x="464.7" y="71.28" width="12.4" height="30.62" fill="#ff8408"/>
<rect x="479.9" y="40.65" width="12.4" height="61.25" fill="#ff0a0a"/>
<rect x="495.3" y="41.29" width="12.4" height="60.61" fill="#ff8484"/>
<rect x="510.7" y="50.86" width="12.4" height="51.04" fill="#ff1690"/>
<path d="M440.1 37.46V36.19M437.9 36.19h4.4" stroke="#7f7f7f" stroke-width="0.6" fill="none"/>
<circle cx="436.38" cy="36.19" r="1.45" fill="#000"/>
<circle cx="440.1" cy="36.82" r="1.45" fill="#000"/>
<circle cx="443.82" cy="40.01" r="1.45" fill="#000"/>
<path d="M455.5 59.15V56.6M453.3 56.6h4.4" stroke="#0cc40c" stroke-width="0.6" fill="none"/>
<rect x="450.4" y="59.05" width="2.75" height="2.75" fill="#000"/>
<rect x="454.12" y="55.22" width="2.75" height="2.75" fill="#000"/>
<rect x="457.84" y="59.05" width="2.75" height="2.75" fill="#000"/>
<path d="M470.9 71.28V68.09M468.7 68.09h4.4" stroke="#ff8408" stroke-width="0.6" fill="none"/>
<path d="M467.18 70.96L468.77 73.86L465.58 73.86Z" fill="#000"/>
<path d="M470.9 66.49L472.5 69.39L469.3 69.39Z" fill="#000"/>
<path d="M474.62 71.59L476.22 74.5L473.02 74.5Z" fill="#000"/>
<path d="M486.1 40.65V38.1M483.9 38.1h4.4" stroke="#ff0a0a" stroke-width="0.6" fill="none"/>
<path d="M482.38 39.06L483.97 36.16L480.78 36.16Z" fill="#000"/>
<path d="M486.1 42.89L487.69 39.99L484.5 39.99Z" fill="#000"/>
<path d="M489.82 43.52L491.42 40.62L488.22 40.62Z" fill="#000"/>
<path d="M501.5 41.29V38.1M499.3 38.1h4.4" stroke="#ff8484" stroke-width="0.6" fill="none"/>
<circle cx="497.78" cy="39.38" r="1.45" fill="#000"/>
<circle cx="501.5" cy="44.48" r="1.45" fill="#000"/>
<circle cx="505.22" cy="40.01" r="1.45" fill="#000"/>
<path d="M516.9 50.86V48.31M514.7 48.31h4.4" stroke="#ff1690" stroke-width="0.6" fill="none"/>
<circle cx="513.18" cy="48.31" r="1.45" fill="#000"/>
<circle cx="516.9" cy="51.5" r="1.45" fill="#000"/>
<circle cx="520.62" cy="52.77" r="1.45" fill="#000"/>
<line x1="427.2" y1="5.5" x2="427.2" y2="102.6" stroke="#000" stroke-width="1.4"/>
<line x1="426.5" y1="101.9" x2="529.5" y2="101.9" stroke="#000" stroke-width="1.4"/>
<line x1="422.6" y1="101.9" x2="427.2" y2="101.9" stroke="#000" stroke-width="1.4"/>
<text x="421.6" y="104.71" font-size="7.8" text-anchor="end" font-weight="bold">0.0</text>
<line x1="422.6" y1="70" x2="427.2" y2="70" stroke="#000" stroke-width="1.4"/>
<text x="421.6" y="72.81" font-size="7.8" text-anchor="end" font-weight="bold">0.5</text>
<line x1="422.6" y1="38.1" x2="427.2" y2="38.1" stroke="#000" stroke-width="1.4"/>
<text x="421.6" y="40.91" font-size="7.8" text-anchor="end" font-weight="bold">1.0</text>
<line x1="422.6" y1="6.2" x2="427.2" y2="6.2" stroke="#000" stroke-width="1.4"/>
<text x="421.6" y="9.01" font-size="7.8" text-anchor="end" font-weight="bold">1.5</text>
<line x1="440.1" y1="101.9" x2="440.1" y2="105.58" stroke="#000" stroke-width="1.12"/>
<line x1="455.5" y1="101.9" x2="455.5" y2="105.58" stroke="#000" stroke-width="1.12"/>
<line x1="470.9" y1="101.9" x2="470.9" y2="105.58" stroke="#000" stroke-width="1.12"/>
<line x1="486.1" y1="101.9" x2="486.1" y2="105.58" stroke="#000" stroke-width="1.12"/>
<line x1="501.5" y1="101.9" x2="501.5" y2="105.58" stroke="#000" stroke-width="1.12"/>
<line x1="516.9" y1="101.9" x2="516.9" y2="105.58" stroke="#000" stroke-width="1.12"/>
<line x1="439" y1="33.4" x2="455.5" y2="33.4" stroke="#000" stroke-width="1.1"/>
<text x="447.25" y="33.75" font-size="7.6" text-anchor="middle" font-weight="bold">***</text>
<line x1="470.6" y1="33.4" x2="486.6" y2="33.4" stroke="#000" stroke-width="1.1"/>
<text x="478.6" y="33.75" font-size="7.6" text-anchor="middle" font-weight="bold">***</text>
<line x1="500.4" y1="33.4" x2="516.4" y2="33.4" stroke="#000" stroke-width="1.1"/>
<text x="508.4" y="33.75" font-size="7.6" text-anchor="middle" font-weight="bold">**</text>
<text x="402.4" y="113.34" font-size="6.5">H1299</text>
<path d="M438.5 111h3.2M440.1 109.4v3.2" stroke="#000" stroke-width="0.7" fill="none"/>
<path d="M454.6 111.3h1.8" stroke="#000" stroke-width="0.7" fill="none"/>
<path d="M470 111.3h1.8" stroke="#000" stroke-width="0.7" fill="none"/>
<path d="M485.2 111.3h1.8" stroke="#000" stroke-width="0.7" fill="none"/>
<path d="M500.6 111.3h1.8" stroke="#000" stroke-width="0.7" fill="none"/>
<path d="M516 111.3h1.8" stroke="#000" stroke-width="0.7" fill="none"/>
<text x="402.4" y="121.14" font-size="6.5">H1299ρ<tspan dy="-2" font-size="65%">0</tspan></text>
<path d="M439.2 119.1h1.8" stroke="#000" stroke-width="0.7" fill="none"/>
<path d="M453.9 118.8h3.2M455.5 117.2v3.2" stroke="#000" stroke-width="0.7" fill="none"/>
<path d="M469.3 118.8h3.2M470.9 117.2v3.2" stroke="#000" stroke-width="0.7" fill="none"/>
<path d="M484.5 118.8h3.2M486.1 117.2v3.2" stroke="#000" stroke-width="0.7" fill="none"/>
<path d="M499.9 118.8h3.2M501.5 117.2v3.2" stroke="#000" stroke-width="0.7" fill="none"/>
<path d="M515.3 118.8h3.2M516.9 117.2v3.2" stroke="#000" stroke-width="0.7" fill="none"/>
<text x="402.4" y="129.84" font-size="6.5">NFs-CM</text>
<path d="M439.2 127.8h1.8" stroke="#000" stroke-width="0.7" fill="none"/>
<path d="M454.6 127.8h1.8" stroke="#000" stroke-width="0.7" fill="none"/>
<path d="M469.3 127.5h3.2M470.9 125.9v3.2" stroke="#000" stroke-width="0.7" fill="none"/>
<path d="M485.2 127.8h1.8" stroke="#000" stroke-width="0.7" fill="none"/>
<path d="M500.6 127.8h1.8" stroke="#000" stroke-width="0.7" fill="none"/>
<path d="M516 127.8h1.8" stroke="#000" stroke-width="0.7" fill="none"/>
<text x="402.4" y="137.74" font-size="6.5">iCAFs-CM</text>
<path d="M439.2 135.7h1.8" stroke="#000" stroke-width="0.7" fill="none"/>
<path d="M454.6 135.7h1.8" stroke="#000" stroke-width="0.7" fill="none"/>
<path d="M470 135.7h1.8" stroke="#000" stroke-width="0.7" fill="none"/>
<path d="M484.5 135.4h3.2M486.1 133.8v3.2" stroke="#000" stroke-width="0.7" fill="none"/>
<path d="M499.9 135.4h3.2M501.5 133.8v3.2" stroke="#000" stroke-width="0.7" fill="none"/>
<path d="M515.3 135.4h3.2M516.9 133.8v3.2" stroke="#000" stroke-width="0.7" fill="none"/>
<text x="402.4" y="144.74" font-size="6.5">heat</text>
<path d="M439.2 142.7h1.8" stroke="#000" stroke-width="0.7" fill="none"/>
<path d="M454.6 142.7h1.8" stroke="#000" stroke-width="0.7" fill="none"/>
<path d="M470 142.7h1.8" stroke="#000" stroke-width="0.7" fill="none"/>
<path d="M485.2 142.7h1.8" stroke="#000" stroke-width="0.7" fill="none"/>
<path d="M499.9 142.4h3.2M501.5 140.8v3.2" stroke="#000" stroke-width="0.7" fill="none"/>
<path d="M515.3 142.4h3.2M516.9 140.8v3.2" stroke="#000" stroke-width="0.7" fill="none"/>
<text x="402.4" y="152.34" font-size="6.5">DNase</text>
<path d="M439.2 150.3h1.8" stroke="#000" stroke-width="0.7" fill="none"/>
<path d="M454.6 150.3h1.8" stroke="#000" stroke-width="0.7" fill="none"/>
<path d="M470 150.3h1.8" stroke="#000" stroke-width="0.7" fill="none"/>
<path d="M485.2 150.3h1.8" stroke="#000" stroke-width="0.7" fill="none"/>
<path d="M500.6 150.3h1.8" stroke="#000" stroke-width="0.7" fill="none"/>
<path d="M515.3 150h3.2M516.9 148.4v3.2" stroke="#000" stroke-width="0.7" fill="none"/>
<text x="408.4" y="54" font-size="7.9" text-anchor="middle" font-weight="bold" transform="rotate(-90 408.4 54)">Relative SDH activity</text>
<rect x="588.6" y="38.7" width="12.4" height="63.6" fill="#7f7f7f"/>
<rect x="603.9" y="85.13" width="12.4" height="17.17" fill="#0cc40c"/>
<rect x="619" y="85.13" width="12.4" height="17.17" fill="#ff8408"/>
<rect x="634.3" y="66.05" width="12.4" height="36.25" fill="#ff0a0a"/>
<rect x="649.5" y="70.5" width="12.4" height="31.8" fill="#ff8484"/>
<rect x="664.9" y="88.94" width="12.4" height="13.36" fill="#ff1690"/>
<path d="M594.8 38.7V38.06M592.6 38.06h4.4" stroke="#7f7f7f" stroke-width="0.6" fill="none"/>
<circle cx="591.08" cy="37.43" r="1.45" fill="#000"/>
<circle cx="594.8" cy="38.7" r="1.45" fill="#000"/>
<circle cx="598.52" cy="39.34" r="1.45" fill="#000"/>
<path d="M610.1 85.13V83.86M607.9 83.86h4.4" stroke="#0cc40c" stroke-width="0.6" fill="none"/>
<rect x="605" y="82.48" width="2.75" height="2.75" fill="#000"/>
<rect x="608.72" y="84.39" width="2.75" height="2.75" fill="#000"/>
<rect x="612.44" y="84.39" width="2.75" height="2.75" fill="#000"/>
<path d="M625.2 85.13V84.49M623 84.49h4.4" stroke="#ff8408" stroke-width="0.6" fill="none"/>
<path d="M621.48 83.53L623.08 86.43L619.88 86.43Z" fill="#000"/>
<path d="M625.2 83.53L626.8 86.43L623.61 86.43Z" fill="#000"/>
<path d="M628.92 83.53L630.52 86.43L627.33 86.43Z" fill="#000"/>
<path d="M640.5 66.05V65.41M638.3 65.41h4.4" stroke="#ff0a0a" stroke-width="0.6" fill="none"/>
<path d="M636.78 67.64L638.38 64.74L635.18 64.74Z" fill="#000"/>
<path d="M640.5 67.64L642.1 64.74L638.9 64.74Z" fill="#000"/>
<path d="M644.22 67.64L645.82 64.74L642.62 64.74Z" fill="#000"/>
<path d="M655.7 70.5V69.86M653.5 69.86h4.4" stroke="#ff8484" stroke-width="0.6" fill="none"/>
<circle cx="651.98" cy="70.5" r="1.45" fill="#000"/>
<circle cx="655.7" cy="70.5" r="1.45" fill="#000"/>
<circle cx="659.42" cy="70.5" r="1.45" fill="#000"/>
<path d="M671.1 88.94V88.31M668.9 88.31h4.4" stroke="#ff1690" stroke-width="0.6" fill="none"/>
<circle cx="667.38" cy="88.94" r="1.45" fill="#000"/>
<circle cx="671.1" cy="88.94" r="1.45" fill="#000"/>
<circle cx="674.82" cy="88.94" r="1.45" fill="#000"/>
<line x1="582.2" y1="6.2" x2="582.2" y2="103" stroke="#000" stroke-width="1.4"/>
<line x1="581.5" y1="102.3" x2="684.5" y2="102.3" stroke="#000" stroke-width="1.4"/>
<line x1="577.6" y1="102.3" x2="582.2" y2="102.3" stroke="#000" stroke-width="1.4"/>
<text x="576.6" y="105.11" font-size="7.8" text-anchor="end" font-weight="bold">0.0</text>
<line x1="577.6" y1="70.5" x2="582.2" y2="70.5" stroke="#000" stroke-width="1.4"/>
<text x="576.6" y="73.31" font-size="7.8" text-anchor="end" font-weight="bold">0.5</text>
<line x1="577.6" y1="38.7" x2="582.2" y2="38.7" stroke="#000" stroke-width="1.4"/>
<text x="576.6" y="41.51" font-size="7.8" text-anchor="end" font-weight="bold">1.0</text>
<line x1="577.6" y1="6.9" x2="582.2" y2="6.9" stroke="#000" stroke-width="1.4"/>
<text x="576.6" y="9.71" font-size="7.8" text-anchor="end" font-weight="bold">1.5</text>
<line x1="594.8" y1="102.3" x2="594.8" y2="105.98" stroke="#000" stroke-width="1.12"/>
<line x1="610.1" y1="102.3" x2="610.1" y2="105.98" stroke="#000" stroke-width="1.12"/>
<line x1="625.2" y1="102.3" x2="625.2" y2="105.98" stroke="#000" stroke-width="1.12"/>
<line x1="640.5" y1="102.3" x2="640.5" y2="105.98" stroke="#000" stroke-width="1.12"/>
<line x1="655.7" y1="102.3" x2="655.7" y2="105.98" stroke="#000" stroke-width="1.12"/>
<line x1="671.1" y1="102.3" x2="671.1" y2="105.98" stroke="#000" stroke-width="1.12"/>
<line x1="594" y1="34.2" x2="609.8" y2="34.2" stroke="#000" stroke-width="1.1"/>
<text x="601.9" y="34.55" font-size="7.6" text-anchor="middle" font-weight="bold">***</text>
<line x1="625.1" y1="62.5" x2="640.8" y2="62.5" stroke="#000" stroke-width="1.1"/>
<text x="632.95" y="62.85" font-size="7.6" text-anchor="middle" font-weight="bold">***</text>
<line x1="654.8" y1="62.5" x2="670.4" y2="62.5" stroke="#000" stroke-width="1.1"/>
<text x="662.6" y="62.85" font-size="7.6" text-anchor="middle" font-weight="bold">***</text>
<text x="556" y="113.34" font-size="6.5">H1299</text>
<path d="M593.2 111h3.2M594.8 109.4v3.2" stroke="#000" stroke-width="0.7" fill="none"/>
<path d="M609.2 111.3h1.8" stroke="#000" stroke-width="0.7" fill="none"/>
<path d="M624.3 111.3h1.8" stroke="#000" stroke-width="0.7" fill="none"/>
<path d="M639.6 111.3h1.8" stroke="#000" stroke-width="0.7" fill="none"/>
<path d="M654.8 111.3h1.8" stroke="#000" stroke-width="0.7" fill="none"/>
<path d="M670.2 111.3h1.8" stroke="#000" stroke-width="0.7" fill="none"/>
<text x="556" y="121.84" font-size="6.5">H1299ρ<tspan dy="-2" font-size="65%">0</tspan></text>
<path d="M593.9 119.8h1.8" stroke="#000" stroke-width="0.7" fill="none"/>
<path d="M608.5 119.5h3.2M610.1 117.9v3.2" stroke="#000" stroke-width="0.7" fill="none"/>
<path d="M623.6 119.5h3.2M625.2 117.9v3.2" stroke="#000" stroke-width="0.7" fill="none"/>
<path d="M638.9 119.5h3.2M640.5 117.9v3.2" stroke="#000" stroke-width="0.7" fill="none"/>
<path d="M654.1 119.5h3.2M655.7 117.9v3.2" stroke="#000" stroke-width="0.7" fill="none"/>
<path d="M669.5 119.5h3.2M671.1 117.9v3.2" stroke="#000" stroke-width="0.7" fill="none"/>
<text x="556" y="130.04" font-size="6.5">NFs-CM</text>
<path d="M593.9 128h1.8" stroke="#000" stroke-width="0.7" fill="none"/>
<path d="M609.2 128h1.8" stroke="#000" stroke-width="0.7" fill="none"/>
<path d="M623.6 127.7h3.2M625.2 126.1v3.2" stroke="#000" stroke-width="0.7" fill="none"/>
<path d="M639.6 128h1.8" stroke="#000" stroke-width="0.7" fill="none"/>
<path d="M654.8 128h1.8" stroke="#000" stroke-width="0.7" fill="none"/>
<path d="M670.2 128h1.8" stroke="#000" stroke-width="0.7" fill="none"/>
<text x="556" y="138.24" font-size="6.5">iCAFs-CM</text>
<path d="M593.9 136.2h1.8" stroke="#000" stroke-width="0.7" fill="none"/>
<path d="M609.2 136.2h1.8" stroke="#000" stroke-width="0.7" fill="none"/>
<path d="M624.3 136.2h1.8" stroke="#000" stroke-width="0.7" fill="none"/>
<path d="M638.9 135.9h3.2M640.5 134.3v3.2" stroke="#000" stroke-width="0.7" fill="none"/>
<path d="M654.1 135.9h3.2M655.7 134.3v3.2" stroke="#000" stroke-width="0.7" fill="none"/>
<path d="M669.5 135.9h3.2M671.1 134.3v3.2" stroke="#000" stroke-width="0.7" fill="none"/>
<text x="556" y="145.64" font-size="6.5">heat</text>
<path d="M593.9 143.6h1.8" stroke="#000" stroke-width="0.7" fill="none"/>
<path d="M609.2 143.6h1.8" stroke="#000" stroke-width="0.7" fill="none"/>
<path d="M624.3 143.6h1.8" stroke="#000" stroke-width="0.7" fill="none"/>
<path d="M639.6 143.6h1.8" stroke="#000" stroke-width="0.7" fill="none"/>
<path d="M654.1 143.3h3.2M655.7 141.7v3.2" stroke="#000" stroke-width="0.7" fill="none"/>
<path d="M669.5 143.3h3.2M671.1 141.7v3.2" stroke="#000" stroke-width="0.7" fill="none"/>
<text x="556" y="153.14" font-size="6.5">DNase</text>
<path d="M593.9 151.1h1.8" stroke="#000" stroke-width="0.7" fill="none"/>
<path d="M609.2 151.1h1.8" stroke="#000" stroke-width="0.7" fill="none"/>
<path d="M624.3 151.1h1.8" stroke="#000" stroke-width="0.7" fill="none"/>
<path d="M639.6 151.1h1.8" stroke="#000" stroke-width="0.7" fill="none"/>
<path d="M654.8 151.1h1.8" stroke="#000" stroke-width="0.7" fill="none"/>
<path d="M669.5 150.8h3.2M671.1 149.2v3.2" stroke="#000" stroke-width="0.7" fill="none"/>
<text x="562.6" y="54.5" font-size="7.9" text-anchor="middle" font-weight="bold" transform="rotate(-90 562.6 54.5)">Relative GSH concentration</text>
<rect x="433.9" y="204.55" width="12.4" height="66.25" fill="#7f7f7f"/>
<rect x="449.3" y="236.4" width="12.4" height="34.4" fill="#0cc40c"/>
<rect x="464.7" y="238.95" width="12.4" height="31.85" fill="#ff8408"/>
<rect x="479.9" y="218.57" width="12.4" height="52.23" fill="#ff0a0a"/>
<rect x="495.3" y="221.11" width="12.4" height="49.69" fill="#ff8484"/>
<rect x="510.7" y="234.49" width="12.4" height="36.31" fill="#ff1690"/>
<path d="M440.1 204.55V200.73M437.9 200.73h4.4" stroke="#7f7f7f" stroke-width="0.6" fill="none"/>
<circle cx="436.38" cy="205.83" r="1.45" fill="#000"/>
<circle cx="440.1" cy="199.46" r="1.45" fill="#000"/>
<circle cx="443.82" cy="207.1" r="1.45" fill="#000"/>
<path d="M455.5 236.4V235.13M453.3 235.13h4.4" stroke="#0cc40c" stroke-width="0.6" fill="none"/>
<rect x="450.4" y="233.75" width="2.75" height="2.75" fill="#000"/>
<rect x="454.12" y="235.02" width="2.75" height="2.75" fill="#000"/>
<rect x="457.84" y="236.94" width="2.75" height="2.75" fill="#000"/>
<path d="M470.9 238.95V237.68M468.7 237.68h4.4" stroke="#ff8408" stroke-width="0.6" fill="none"/>
<path d="M467.18 236.08L468.77 238.98L465.58 238.98Z" fill="#000"/>
<path d="M470.9 237.99L472.5 240.89L469.3 240.89Z" fill="#000"/>
<path d="M474.62 237.99L476.22 240.89L473.02 240.89Z" fill="#000"/>
<path d="M486.1 218.57V216.66M483.9 216.66h4.4" stroke="#ff0a0a" stroke-width="0.6" fill="none"/>
<path d="M482.38 219.52L483.97 216.62L480.78 216.62Z" fill="#000"/>
<path d="M486.1 218.89L487.69 215.99L484.5 215.99Z" fill="#000"/>
<path d="M489.82 221.44L491.42 218.53L488.22 218.53Z" fill="#000"/>
<path d="M501.5 221.11V220.48M499.3 220.48h4.4" stroke="#ff8484" stroke-width="0.6" fill="none"/>
<circle cx="497.78" cy="220.48" r="1.45" fill="#000"/>
<circle cx="501.5" cy="221.11" r="1.45" fill="#000"/>
<circle cx="505.22" cy="222.39" r="1.45" fill="#000"/>
<path d="M516.9 234.49V232.58M514.7 232.58h4.4" stroke="#ff1690" stroke-width="0.6" fill="none"/>
<circle cx="513.18" cy="233.22" r="1.45" fill="#000"/>
<circle cx="516.9" cy="234.49" r="1.45" fill="#000"/>
<circle cx="520.62" cy="236.4" r="1.45" fill="#000"/>
<line x1="427.2" y1="174.55" x2="427.2" y2="271.5" stroke="#000" stroke-width="1.4"/>
<line x1="426.5" y1="270.8" x2="529.5" y2="270.8" stroke="#000" stroke-width="1.4"/>
<line x1="422.6" y1="270.8" x2="427.2" y2="270.8" stroke="#000" stroke-width="1.4"/>
<text x="421.6" y="273.61" font-size="7.8" text-anchor="end" font-weight="bold">0.0</text>
<line x1="422.6" y1="238.95" x2="427.2" y2="238.95" stroke="#000" stroke-width="1.4"/>
<text x="421.6" y="241.76" font-size="7.8" text-anchor="end" font-weight="bold">0.5</text>
<line x1="422.6" y1="207.1" x2="427.2" y2="207.1" stroke="#000" stroke-width="1.4"/>
<text x="421.6" y="209.91" font-size="7.8" text-anchor="end" font-weight="bold">1.0</text>
<line x1="422.6" y1="175.25" x2="427.2" y2="175.25" stroke="#000" stroke-width="1.4"/>
<text x="421.6" y="178.06" font-size="7.8" text-anchor="end" font-weight="bold">1.5</text>
<line x1="440.1" y1="270.8" x2="440.1" y2="274.48" stroke="#000" stroke-width="1.12"/>
<line x1="455.5" y1="270.8" x2="455.5" y2="274.48" stroke="#000" stroke-width="1.12"/>
<line x1="470.9" y1="270.8" x2="470.9" y2="274.48" stroke="#000" stroke-width="1.12"/>
<line x1="486.1" y1="270.8" x2="486.1" y2="274.48" stroke="#000" stroke-width="1.12"/>
<line x1="501.5" y1="270.8" x2="501.5" y2="274.48" stroke="#000" stroke-width="1.12"/>
<line x1="516.9" y1="270.8" x2="516.9" y2="274.48" stroke="#000" stroke-width="1.12"/>
<line x1="439.6" y1="196.5" x2="455" y2="196.5" stroke="#000" stroke-width="1.1"/>
<text x="447.3" y="196.85" font-size="7.6" text-anchor="middle" font-weight="bold">***</text>
<line x1="470.2" y1="212.4" x2="486.3" y2="212.4" stroke="#000" stroke-width="1.1"/>
<text x="478.25" y="212.75" font-size="7.6" text-anchor="middle" font-weight="bold">***</text>
<line x1="501" y1="215.7" x2="516.6" y2="215.7" stroke="#000" stroke-width="1.1"/>
<text x="508.8" y="216.05" font-size="7.6" text-anchor="middle" font-weight="bold">***</text>
<text x="402.4" y="282.84" font-size="6.5">A549</text>
<path d="M438.5 280.5h3.2M440.1 278.9v3.2" stroke="#000" stroke-width="0.7" fill="none"/>
<path d="M454.6 280.8h1.8" stroke="#000" stroke-width="0.7" fill="none"/>
<path d="M470 280.8h1.8" stroke="#000" stroke-width="0.7" fill="none"/>
<path d="M485.2 280.8h1.8" stroke="#000" stroke-width="0.7" fill="none"/>
<path d="M500.6 280.8h1.8" stroke="#000" stroke-width="0.7" fill="none"/>
<path d="M516 280.8h1.8" stroke="#000" stroke-width="0.7" fill="none"/>
<text x="402.4" y="291.34" font-size="6.5">A549ρ<tspan dy="-2" font-size="65%">0</tspan></text>
<path d="M439.2 289.3h1.8" stroke="#000" stroke-width="0.7" fill="none"/>
<path d="M453.9 289h3.2M455.5 287.4v3.2" stroke="#000" stroke-width="0.7" fill="none"/>
<path d="M469.3 289h3.2M470.9 287.4v3.2" stroke="#000" stroke-width="0.7" fill="none"/>
<path d="M484.5 289h3.2M486.1 287.4v3.2" stroke="#000" stroke-width="0.7" fill="none"/>
<path d="M499.9 289h3.2M501.5 287.4v3.2" stroke="#000" stroke-width="0.7" fill="none"/>
<path d="M515.3 289h3.2M516.9 287.4v3.2" stroke="#000" stroke-width="0.7" fill="none"/>
<text x="402.4" y="298.44" font-size="6.5">NFs-CM</text>
<path d="M439.2 296.4h1.8" stroke="#000" stroke-width="0.7" fill="none"/>
<path d="M454.6 296.4h1.8" stroke="#000" stroke-width="0.7" fill="none"/>
<path d="M469.3 296.1h3.2M470.9 294.5v3.2" stroke="#000" stroke-width="0.7" fill="none"/>
<path d="M485.2 296.4h1.8" stroke="#000" stroke-width="0.7" fill="none"/>
<path d="M500.6 296.4h1.8" stroke="#000" stroke-width="0.7" fill="none"/>
<path d="M516 296.4h1.8" stroke="#000" stroke-width="0.7" fill="none"/>
<text x="402.4" y="306.44" font-size="6.5">iCAFs-CM</text>
<path d="M439.2 304.4h1.8" stroke="#000" stroke-width="0.7" fill="none"/>
<path d="M454.6 304.4h1.8" stroke="#000" stroke-width="0.7" fill="none"/>
<path d="M470 304.4h1.8" stroke="#000" stroke-width="0.7" fill="none"/>
<path d="M484.5 304.1h3.2M486.1 302.5v3.2" stroke="#000" stroke-width="0.7" fill="none"/>
<path d="M499.9 304.1h3.2M501.5 302.5v3.2" stroke="#000" stroke-width="0.7" fill="none"/>
<path d="M515.3 304.1h3.2M516.9 302.5v3.2" stroke="#000" stroke-width="0.7" fill="none"/>
<text x="402.4" y="313.34" font-size="6.5">heat</text>
<path d="M439.2 311.3h1.8" stroke="#000" stroke-width="0.7" fill="none"/>
<path d="M454.6 311.3h1.8" stroke="#000" stroke-width="0.7" fill="none"/>
<path d="M470 311.3h1.8" stroke="#000" stroke-width="0.7" fill="none"/>
<path d="M485.2 311.3h1.8" stroke="#000" stroke-width="0.7" fill="none"/>
<path d="M499.9 311h3.2M501.5 309.4v3.2" stroke="#000" stroke-width="0.7" fill="none"/>
<path d="M515.3 311h3.2M516.9 309.4v3.2" stroke="#000" stroke-width="0.7" fill="none"/>
<text x="402.4" y="320.84" font-size="6.5">DNase</text>
<path d="M439.2 318.8h1.8" stroke="#000" stroke-width="0.7" fill="none"/>
<path d="M454.6 318.8h1.8" stroke="#000" stroke-width="0.7" fill="none"/>
<path d="M470 318.8h1.8" stroke="#000" stroke-width="0.7" fill="none"/>
<path d="M485.2 318.8h1.8" stroke="#000" stroke-width="0.7" fill="none"/>
<path d="M500.6 318.8h1.8" stroke="#000" stroke-width="0.7" fill="none"/>
<path d="M515.3 318.5h3.2M516.9 316.9v3.2" stroke="#000" stroke-width="0.7" fill="none"/>
<text x="408.4" y="223" font-size="7.9" text-anchor="middle" font-weight="bold" transform="rotate(-90 408.4 223)">Relative SDH activity</text>
<rect x="588.6" y="211.27" width="12.4" height="60.23" fill="#7f7f7f"/>
<rect x="603.9" y="239.17" width="12.4" height="32.33" fill="#0cc40c"/>
<rect x="619" y="239.17" width="12.4" height="32.33" fill="#ff8408"/>
<rect x="634.3" y="221.41" width="12.4" height="50.09" fill="#ff0a0a"/>
<rect x="649.5" y="222.68" width="12.4" height="48.82" fill="#ff8484"/>
<rect x="664.9" y="238.53" width="12.4" height="32.97" fill="#ff1690"/>
<path d="M594.8 211.27V206.83M592.6 206.83h4.4" stroke="#7f7f7f" stroke-width="0.6" fill="none"/>
<circle cx="591.08" cy="208.1" r="1.45" fill="#000"/>
<circle cx="594.8" cy="215.71" r="1.45" fill="#000"/>
<circle cx="598.52" cy="210" r="1.45" fill="#000"/>
<path d="M610.1 239.17V238.53M607.9 238.53h4.4" stroke="#0cc40c" stroke-width="0.6" fill="none"/>
<rect x="605" y="237.79" width="2.75" height="2.75" fill="#000"/>
<rect x="608.72" y="237.79" width="2.75" height="2.75" fill="#000"/>
<rect x="612.44" y="237.79" width="2.75" height="2.75" fill="#000"/>
<path d="M625.2 239.17V238.53M623 238.53h4.4" stroke="#ff8408" stroke-width="0.6" fill="none"/>
<path d="M621.48 236.94L623.08 239.84L619.88 239.84Z" fill="#000"/>
<path d="M625.2 237.57L626.8 240.47L623.61 240.47Z" fill="#000"/>
<path d="M628.92 238.21L630.52 241.11L627.33 241.11Z" fill="#000"/>
<path d="M640.5 221.41V220.78M638.3 220.78h4.4" stroke="#ff0a0a" stroke-width="0.6" fill="none"/>
<path d="M636.78 223.01L638.38 220.11L635.18 220.11Z" fill="#000"/>
<path d="M640.5 223.01L642.1 220.11L638.9 220.11Z" fill="#000"/>
<path d="M644.22 223.64L645.82 220.74L642.62 220.74Z" fill="#000"/>
<path d="M655.7 222.68V222.05M653.5 222.05h4.4" stroke="#ff8484" stroke-width="0.6" fill="none"/>
<circle cx="651.98" cy="222.05" r="1.45" fill="#000"/>
<circle cx="655.7" cy="222.68" r="1.45" fill="#000"/>
<circle cx="659.42" cy="222.68" r="1.45" fill="#000"/>
<path d="M671.1 238.53V237.9M668.9 237.9h4.4" stroke="#ff1690" stroke-width="0.6" fill="none"/>
<circle cx="667.38" cy="237.9" r="1.45" fill="#000"/>
<circle cx="671.1" cy="239.17" r="1.45" fill="#000"/>
<circle cx="674.82" cy="239.17" r="1.45" fill="#000"/>
<line x1="582.2" y1="175.7" x2="582.2" y2="272.2" stroke="#000" stroke-width="1.4"/>
<line x1="581.5" y1="271.5" x2="684.5" y2="271.5" stroke="#000" stroke-width="1.4"/>
<line x1="577.6" y1="271.5" x2="582.2" y2="271.5" stroke="#000" stroke-width="1.4"/>
<text x="576.6" y="274.31" font-size="7.8" text-anchor="end" font-weight="bold">0.0</text>
<line x1="577.6" y1="239.8" x2="582.2" y2="239.8" stroke="#000" stroke-width="1.4"/>
<text x="576.6" y="242.61" font-size="7.8" text-anchor="end" font-weight="bold">0.5</text>
<line x1="577.6" y1="208.1" x2="582.2" y2="208.1" stroke="#000" stroke-width="1.4"/>
<text x="576.6" y="210.91" font-size="7.8" text-anchor="end" font-weight="bold">1.0</text>
<line x1="577.6" y1="176.4" x2="582.2" y2="176.4" stroke="#000" stroke-width="1.4"/>
<text x="576.6" y="179.21" font-size="7.8" text-anchor="end" font-weight="bold">1.5</text>
<line x1="594.8" y1="271.5" x2="594.8" y2="275.18" stroke="#000" stroke-width="1.12"/>
<line x1="610.1" y1="271.5" x2="610.1" y2="275.18" stroke="#000" stroke-width="1.12"/>
<line x1="625.2" y1="271.5" x2="625.2" y2="275.18" stroke="#000" stroke-width="1.12"/>
<line x1="640.5" y1="271.5" x2="640.5" y2="275.18" stroke="#000" stroke-width="1.12"/>
<line x1="655.7" y1="271.5" x2="655.7" y2="275.18" stroke="#000" stroke-width="1.12"/>
<line x1="671.1" y1="271.5" x2="671.1" y2="275.18" stroke="#000" stroke-width="1.12"/>
<line x1="594" y1="202.7" x2="609" y2="202.7" stroke="#000" stroke-width="1.1"/>
<text x="601.5" y="203.05" font-size="7.6" text-anchor="middle" font-weight="bold">***</text>
<line x1="624" y1="215.6" x2="640" y2="215.6" stroke="#000" stroke-width="1.1"/>
<text x="632" y="215.95" font-size="7.6" text-anchor="middle" font-weight="bold">***</text>
<line x1="653.5" y1="218.9" x2="669.6" y2="218.9" stroke="#000" stroke-width="1.1"/>
<text x="661.55" y="219.25" font-size="7.6" text-anchor="middle" font-weight="bold">***</text>
<text x="556" y="283.34" font-size="6.5">A549</text>
<path d="M593.2 281h3.2M594.8 279.4v3.2" stroke="#000" stroke-width="0.7" fill="none"/>
<path d="M609.2 281.3h1.8" stroke="#000" stroke-width="0.7" fill="none"/>
<path d="M624.3 281.3h1.8" stroke="#000" stroke-width="0.7" fill="none"/>
<path d="M639.6 281.3h1.8" stroke="#000" stroke-width="0.7" fill="none"/>
<path d="M654.8 281.3h1.8" stroke="#000" stroke-width="0.7" fill="none"/>
<path d="M670.2 281.3h1.8" stroke="#000" stroke-width="0.7" fill="none"/>
<text x="556" y="291.54" font-size="6.5">A549ρ<tspan dy="-2" font-size="65%">0</tspan></text>
<path d="M593.9 289.5h1.8" stroke="#000" stroke-width="0.7" fill="none"/>
<path d="M608.5 289.2h3.2M610.1 287.6v3.2" stroke="#000" stroke-width="0.7" fill="none"/>
<path d="M623.6 289.2h3.2M625.2 287.6v3.2" stroke="#000" stroke-width="0.7" fill="none"/>
<path d="M638.9 289.2h3.2M640.5 287.6v3.2" stroke="#000" stroke-width="0.7" fill="none"/>
<path d="M654.1 289.2h3.2M655.7 287.6v3.2" stroke="#000" stroke-width="0.7" fill="none"/>
<path d="M669.5 289.2h3.2M671.1 287.6v3.2" stroke="#000" stroke-width="0.7" fill="none"/>
<text x="556" y="299.24" font-size="6.5">NFs-CM</text>
<path d="M593.9 297.2h1.8" stroke="#000" stroke-width="0.7" fill="none"/>
<path d="M609.2 297.2h1.8" stroke="#000" stroke-width="0.7" fill="none"/>
<path d="M623.6 296.9h3.2M625.2 295.3v3.2" stroke="#000" stroke-width="0.7" fill="none"/>
<path d="M639.6 297.2h1.8" stroke="#000" stroke-width="0.7" fill="none"/>
<path d="M654.8 297.2h1.8" stroke="#000" stroke-width="0.7" fill="none"/>
<path d="M670.2 297.2h1.8" stroke="#000" stroke-width="0.7" fill="none"/>
<text x="556" y="307.14" font-size="6.5">iCAFs-CM</text>
<path d="M593.9 305.1h1.8" stroke="#000" stroke-width="0.7" fill="none"/>
<path d="M609.2 305.1h1.8" stroke="#000" stroke-width="0.7" fill="none"/>
<path d="M624.3 305.1h1.8" stroke="#000" stroke-width="0.7" fill="none"/>
<path d="M638.9 304.8h3.2M640.5 303.2v3.2" stroke="#000" stroke-width="0.7" fill="none"/>
<path d="M654.1 304.8h3.2M655.7 303.2v3.2" stroke="#000" stroke-width="0.7" fill="none"/>
<path d="M669.5 304.8h3.2M671.1 303.2v3.2" stroke="#000" stroke-width="0.7" fill="none"/>
<text x="556" y="313.84" font-size="6.5">heat</text>
<path d="M593.9 311.8h1.8" stroke="#000" stroke-width="0.7" fill="none"/>
<path d="M609.2 311.8h1.8" stroke="#000" stroke-width="0.7" fill="none"/>
<path d="M624.3 311.8h1.8" stroke="#000" stroke-width="0.7" fill="none"/>
<path d="M639.6 311.8h1.8" stroke="#000" stroke-width="0.7" fill="none"/>
<path d="M654.1 311.5h3.2M655.7 309.9v3.2" stroke="#000" stroke-width="0.7" fill="none"/>
<path d="M669.5 311.5h3.2M671.1 309.9v3.2" stroke="#000" stroke-width="0.7" fill="none"/>
<text x="556" y="321.54" font-size="6.5">DNase</text>
<path d="M593.9 319.5h1.8" stroke="#000" stroke-width="0.7" fill="none"/>
<path d="M609.2 319.5h1.8" stroke="#000" stroke-width="0.7" fill="none"/>
<path d="M624.3 319.5h1.8" stroke="#000" stroke-width="0.7" fill="none"/>
<path d="M639.6 319.5h1.8" stroke="#000" stroke-width="0.7" fill="none"/>
<path d="M654.8 319.5h1.8" stroke="#000" stroke-width="0.7" fill="none"/>
<path d="M669.5 319.2h3.2M671.1 317.6v3.2" stroke="#000" stroke-width="0.7" fill="none"/>
<text x="562.6" y="223.5" font-size="7.9" text-anchor="middle" font-weight="bold" transform="rotate(-90 562.6 223.5)">Relative GSH concentration</text>
<text x="1.4" y="339.2" font-size="10.5">D</text>
<line x1="24.8" y1="377.58" x2="24.8" y2="471.6" stroke="#000" stroke-width="1.3"/>
<line x1="24.2" y1="471" x2="165" y2="471" stroke="#000" stroke-width="1.3"/>
<line x1="21.4" y1="471" x2="24.8" y2="471" stroke="#000" stroke-width="1.2"/>
<text x="20.4" y="473.8" font-size="7.7" text-anchor="end" font-weight="bold">0</text>
<line x1="21.4" y1="440.06" x2="24.8" y2="440.06" stroke="#000" stroke-width="1.2"/>
<text x="20.4" y="442.86" font-size="7.7" text-anchor="end" font-weight="bold">2</text>
<line x1="21.4" y1="409.12" x2="24.8" y2="409.12" stroke="#000" stroke-width="1.2"/>
<text x="20.4" y="411.92" font-size="7.7" text-anchor="end" font-weight="bold">4</text>
<line x1="21.4" y1="378.18" x2="24.8" y2="378.18" stroke="#000" stroke-width="1.2"/>
<text x="20.4" y="380.98" font-size="7.7" text-anchor="end" font-weight="bold">6</text>
<line x1="24.8" y1="471" x2="24.8" y2="474.4" stroke="#000" stroke-width="1.2"/>
<text x="24.8" y="483" font-size="7.7" text-anchor="middle" font-weight="bold">0</text>
<line x1="66.8" y1="471" x2="66.8" y2="474.4" stroke="#000" stroke-width="1.2"/>
<text x="66.8" y="483" font-size="7.7" text-anchor="middle" font-weight="bold">24</text>
<line x1="108.8" y1="471" x2="108.8" y2="474.4" stroke="#000" stroke-width="1.2"/>
<text x="108.8" y="483" font-size="7.7" text-anchor="middle" font-weight="bold">48</text>
<line x1="150.8" y1="471" x2="150.8" y2="474.4" stroke="#000" stroke-width="1.2"/>
<text x="150.8" y="483" font-size="7.7" text-anchor="middle" font-weight="bold">72</text>
<polyline fill="none" stroke="#7f7f7f" stroke-width="0.85" points="24.8,455.53 66.8,429.23 108.8,414.53 150.8,395.2"/>
<path d="M66.8 426.14V432.32M65.6 426.14h2.4M65.6 432.32h2.4M108.8 409.89V419.18M107.6 409.89h2.4M107.6 419.18h2.4M150.8 392.1V398.29M149.6 392.1h2.4M149.6 398.29h2.4" stroke="#7f7f7f" stroke-width="0.5" fill="none"/>
<circle cx="66.8" cy="429.23" r="1.15" fill="#7f7f7f"/>
<circle cx="108.8" cy="414.53" r="1.15" fill="#7f7f7f"/>
<circle cx="150.8" cy="395.2" r="1.15" fill="#7f7f7f"/>
<polyline fill="none" stroke="#0cc40c" stroke-width="0.85" points="24.8,455.53 66.8,448.57 108.8,438.51 150.8,426.14"/>
<path d="M66.8 444.7V452.44M65.6 444.7h2.4M65.6 452.44h2.4M108.8 433.87V443.15M107.6 433.87h2.4M107.6 443.15h2.4M150.8 419.95V432.32M149.6 419.95h2.4M149.6 432.32h2.4" stroke="#0cc40c" stroke-width="0.5" fill="none"/>
<circle cx="66.8" cy="448.57" r="1.75" fill="#0cc40c"/>
<circle cx="108.8" cy="438.51" r="1.75" fill="#0cc40c"/>
<circle cx="150.8" cy="426.14" r="1.75" fill="#0cc40c"/>
<polyline fill="none" stroke="#ff8408" stroke-width="0.85" points="24.8,455.53 66.8,441.61 108.8,441.61 150.8,427.68"/>
<path d="M66.8 439.29V443.93M65.6 439.29h2.4M65.6 443.93h2.4M108.8 440.06V443.15M107.6 440.06h2.4M107.6 443.15h2.4M150.8 425.36V430M149.6 425.36h2.4M149.6 430h2.4" stroke="#ff8408" stroke-width="0.5" fill="none"/>
<path d="M66.8 440.33L68.08 442.63L65.52 442.63Z" fill="#ff8408"/>
<path d="M108.8 440.33L110.08 442.63L107.52 442.63Z" fill="#ff8408"/>
<path d="M150.8 426.41L152.08 428.7L149.53 428.7Z" fill="#ff8408"/>
<polyline fill="none" stroke="#ff0a0a" stroke-width="0.85" points="24.8,455.53 66.8,439.29 108.8,417.63 150.8,402.93"/>
<path d="M66.8 436.97V441.61M65.6 436.97h2.4M65.6 441.61h2.4M108.8 412.99V422.27M107.6 412.99h2.4M107.6 422.27h2.4M150.8 398.29V407.57M149.6 398.29h2.4M149.6 407.57h2.4" stroke="#ff0a0a" stroke-width="0.5" fill="none"/>
<path d="M66.8 440.48L67.99 438.33L65.61 438.33Z" fill="#ff0a0a"/>
<path d="M108.8 418.82L109.99 416.68L107.61 416.68Z" fill="#ff0a0a"/>
<path d="M150.8 404.12L151.99 401.98L149.61 401.98Z" fill="#ff0a0a"/>
<polyline fill="none" stroke="#ff8484" stroke-width="0.85" points="24.8,455.53 66.8,440.06 108.8,419.18 150.8,404.48"/>
<path d="M66.8 438.51V441.61M65.6 438.51h2.4M65.6 441.61h2.4M108.8 415.31V423.04M107.6 415.31h2.4M107.6 423.04h2.4M150.8 399.84V409.12M149.6 399.84h2.4M149.6 409.12h2.4" stroke="#ff8484" stroke-width="0.5" fill="none"/>
<path d="M66.8 439.1L67.76 440.06L66.8 441.02L65.84 440.06Z" fill="#ff8484"/>
<path d="M108.8 418.22L109.76 419.18L108.8 420.14L107.84 419.18Z" fill="#ff8484"/>
<path d="M150.8 403.52L151.76 404.48L150.8 405.44L149.84 404.48Z" fill="#ff8484"/>
<polyline fill="none" stroke="#ff1690" stroke-width="0.85" points="24.8,455.53 66.8,450.12 108.8,446.71 150.8,438.98"/>
<path d="M66.8 447.02V453.21M65.6 447.02h2.4M65.6 453.21h2.4M108.8 445.94V447.49M107.6 445.94h2.4M107.6 447.49h2.4M150.8 436.66V441.3M149.6 436.66h2.4M149.6 441.3h2.4" stroke="#ff1690" stroke-width="0.5" fill="none"/>
<circle cx="66.8" cy="450.12" r="2.0" fill="#ff1690"/>
<circle cx="108.8" cy="446.71" r="2.0" fill="#ff1690"/>
<circle cx="150.8" cy="438.98" r="2.0" fill="#ff1690"/>
<circle cx="24.8" cy="455.53" r="1.7" fill="#8a9a6a"/>
<line x1="29.2" y1="337.2" x2="38" y2="337.2" stroke="#7f7f7f" stroke-width="0.7"/>
<circle cx="33.6" cy="337.2" r="1.15" fill="#7f7f7f"/>
<text x="44.4" y="340" font-size="7.8" font-weight="bold">H1299</text>
<line x1="29.2" y1="347.3" x2="38" y2="347.3" stroke="#0cc40c" stroke-width="0.7"/>
<circle cx="33.6" cy="347.3" r="1.75" fill="#0cc40c"/>
<text x="44.4" y="350.1" font-size="7.8" font-weight="bold">H1299ρ<tspan dy="-2" font-size="75%">0</tspan><tspan dy="2"></tspan></text>
<line x1="29.2" y1="357.5" x2="38" y2="357.5" stroke="#ff8408" stroke-width="0.7"/>
<path d="M33.6 356.23L34.88 358.52L32.33 358.52Z" fill="#ff8408"/>
<text x="44.4" y="360.3" font-size="7.8" font-weight="bold">H1299ρ<tspan dy="-2" font-size="75%">0</tspan><tspan dy="2">+NFs-CM</tspan></text>
<line x1="29.2" y1="366.6" x2="38" y2="366.6" stroke="#ff0a0a" stroke-width="0.7"/>
<path d="M33.6 367.79L34.79 365.65L32.41 365.65Z" fill="#ff0a0a"/>
<text x="44.4" y="369.4" font-size="7.8" font-weight="bold">H1299ρ<tspan dy="-2" font-size="75%">0</tspan><tspan dy="2">+iCAFs-CM</tspan></text>
<line x1="29.2" y1="377.2" x2="38" y2="377.2" stroke="#ff8484" stroke-width="0.7"/>
<path d="M33.6 376.24L34.56 377.2L33.6 378.16L32.64 377.2Z" fill="#ff8484"/>
<text x="44.4" y="380" font-size="7.8" font-weight="bold">H1299ρ<tspan dy="-2" font-size="75%">0</tspan><tspan dy="2">+iCAFs-CM+heat</tspan></text>
<line x1="29.2" y1="386.2" x2="38" y2="386.2" stroke="#ff1690" stroke-width="0.7"/>
<circle cx="33.6" cy="386.2" r="2.0" fill="#ff1690"/>
<text x="44.4" y="389" font-size="7.8" font-weight="bold">H1299ρ<tspan dy="-2" font-size="75%">0</tspan><tspan dy="2">+iCAFs-CM+heat+DNase</tspan></text>
<path d="M154.7 395.2h2.2V426.6h-2.2" stroke="#444" stroke-width="0.6" fill="none"/>
<text x="156.9" y="410.9" font-size="7" text-anchor="middle" font-weight="bold" transform="rotate(90 156.9 410.9)">***</text>
<path d="M158.2 403.4h2.2V426.6h-2.2" stroke="#444" stroke-width="0.6" fill="none"/>
<text x="160.4" y="415" font-size="7" text-anchor="middle" font-weight="bold" transform="rotate(90 160.4 415)">***</text>
<path d="M162.7 405.7h2.2V439.1h-2.2" stroke="#444" stroke-width="0.6" fill="none"/>
<text x="164.9" y="422.4" font-size="7" text-anchor="middle" font-weight="bold" transform="rotate(90 164.9 422.4)">***</text>
<text x="12.9" y="424" font-size="7.8" text-anchor="middle" font-weight="bold" transform="rotate(-90 12.9 424)">Relatived cell viability</text>
<text x="95" y="494" font-size="7.8" text-anchor="middle" font-weight="bold">Times(hours)</text>
<line x1="194" y1="378.1" x2="194" y2="472.8" stroke="#000" stroke-width="1.3"/>
<line x1="193.4" y1="472.2" x2="334" y2="472.2" stroke="#000" stroke-width="1.3"/>
<line x1="190.6" y1="472.2" x2="194" y2="472.2" stroke="#000" stroke-width="1.2"/>
<text x="189.6" y="475" font-size="7.7" text-anchor="end" font-weight="bold">0</text>
<line x1="190.6" y1="453.5" x2="194" y2="453.5" stroke="#000" stroke-width="1.2"/>
<text x="189.6" y="456.3" font-size="7.7" text-anchor="end" font-weight="bold">1</text>
<line x1="190.6" y1="434.8" x2="194" y2="434.8" stroke="#000" stroke-width="1.2"/>
<text x="189.6" y="437.6" font-size="7.7" text-anchor="end" font-weight="bold">2</text>
<line x1="190.6" y1="416.1" x2="194" y2="416.1" stroke="#000" stroke-width="1.2"/>
<text x="189.6" y="418.9" font-size="7.7" text-anchor="end" font-weight="bold">3</text>
<line x1="190.6" y1="397.4" x2="194" y2="397.4" stroke="#000" stroke-width="1.2"/>
<text x="189.6" y="400.2" font-size="7.7" text-anchor="end" font-weight="bold">4</text>
<line x1="190.6" y1="378.7" x2="194" y2="378.7" stroke="#000" stroke-width="1.2"/>
<text x="189.6" y="381.5" font-size="7.7" text-anchor="end" font-weight="bold">5</text>
<line x1="194" y1="472.2" x2="194" y2="475.6" stroke="#000" stroke-width="1.2"/>
<text x="194" y="484.2" font-size="7.7" text-anchor="middle" font-weight="bold">0</text>
<line x1="236.14" y1="472.2" x2="236.14" y2="475.6" stroke="#000" stroke-width="1.2"/>
<text x="236.14" y="484.2" font-size="7.7" text-anchor="middle" font-weight="bold">24</text>
<line x1="278.29" y1="472.2" x2="278.29" y2="475.6" stroke="#000" stroke-width="1.2"/>
<text x="278.29" y="484.2" font-size="7.7" text-anchor="middle" font-weight="bold">48</text>
<line x1="320.43" y1="472.2" x2="320.43" y2="475.6" stroke="#000" stroke-width="1.2"/>
<text x="320.43" y="484.2" font-size="7.7" text-anchor="middle" font-weight="bold">72</text>
<polyline fill="none" stroke="#7f7f7f" stroke-width="0.85" points="194,453.5 236.14,432.93 278.29,418.34 320.43,397.77"/>
<path d="M236.14 428.25V437.61M234.94 428.25h2.4M234.94 437.61h2.4M278.29 410.86V425.82M277.09 410.86h2.4M277.09 425.82h2.4M320.43 395.53V400.02M319.23 395.53h2.4M319.23 400.02h2.4" stroke="#7f7f7f" stroke-width="0.5" fill="none"/>
<circle cx="236.14" cy="432.93" r="1.15" fill="#7f7f7f"/>
<circle cx="278.29" cy="418.34" r="1.15" fill="#7f7f7f"/>
<circle cx="320.43" cy="397.77" r="1.15" fill="#7f7f7f"/>
<polyline fill="none" stroke="#0cc40c" stroke-width="0.85" points="194,453.5 236.14,442.28 278.29,436.67 320.43,418.9"/>
<path d="M236.14 440.41V444.15M234.94 440.41h2.4M234.94 444.15h2.4M278.29 434.8V438.54M277.09 434.8h2.4M277.09 438.54h2.4M320.43 417.03V420.77M319.23 417.03h2.4M319.23 420.77h2.4" stroke="#0cc40c" stroke-width="0.5" fill="none"/>
<circle cx="236.14" cy="442.28" r="1.75" fill="#0cc40c"/>
<circle cx="278.29" cy="436.67" r="1.75" fill="#0cc40c"/>
<circle cx="320.43" cy="418.9" r="1.75" fill="#0cc40c"/>
<polyline fill="none" stroke="#ff8408" stroke-width="0.85" points="194,453.5 236.14,445.08 278.29,437.61 320.43,422.64"/>
<path d="M236.14 444.15V446.02M234.94 444.15h2.4M234.94 446.02h2.4M278.29 435.74V439.48M277.09 435.74h2.4M277.09 439.48h2.4M320.43 420.77V424.51M319.23 420.77h2.4M319.23 424.51h2.4" stroke="#ff8408" stroke-width="0.5" fill="none"/>
<path d="M236.14 443.81L237.42 446.1L234.87 446.1Z" fill="#ff8408"/>
<path d="M278.29 436.33L279.56 438.62L277.01 438.62Z" fill="#ff8408"/>
<path d="M320.43 421.37L321.71 423.66L319.16 423.66Z" fill="#ff8408"/>
<polyline fill="none" stroke="#ff0a0a" stroke-width="0.85" points="194,453.5 236.14,441.91 278.29,433.3 320.43,408.25"/>
<path d="M236.14 440.04V443.78M234.94 440.04h2.4M234.94 443.78h2.4M278.29 431.43V435.17M277.09 431.43h2.4M277.09 435.17h2.4M320.43 402.64V413.86M319.23 402.64h2.4M319.23 413.86h2.4" stroke="#ff0a0a" stroke-width="0.5" fill="none"/>
<path d="M236.14 443.1L237.33 440.95L234.95 440.95Z" fill="#ff0a0a"/>
<path d="M278.29 434.49L279.48 432.35L277.1 432.35Z" fill="#ff0a0a"/>
<path d="M320.43 409.44L321.62 407.29L319.24 407.29Z" fill="#ff0a0a"/>
<polyline fill="none" stroke="#ff8484" stroke-width="0.85" points="194,453.5 236.14,443.21 278.29,432.93 320.43,410.49"/>
<path d="M236.14 441.34V445.08M234.94 441.34h2.4M234.94 445.08h2.4M278.29 429.19V436.67M277.09 429.19h2.4M277.09 436.67h2.4M320.43 405.81V415.17M319.23 405.81h2.4M319.23 415.17h2.4" stroke="#ff8484" stroke-width="0.5" fill="none"/>
<path d="M236.14 442.25L237.1 443.21L236.14 444.17L235.18 443.21Z" fill="#ff8484"/>
<path d="M278.29 431.97L279.25 432.93L278.29 433.89L277.33 432.93Z" fill="#ff8484"/>
<path d="M320.43 409.53L321.39 410.49L320.43 411.45L319.47 410.49Z" fill="#ff8484"/>
<polyline fill="none" stroke="#ff1690" stroke-width="0.85" points="194,453.5 236.14,444.15 278.29,438.91 320.43,435.74"/>
<path d="M236.14 443.21V445.08M234.94 443.21h2.4M234.94 445.08h2.4M278.29 437.98V439.85M277.09 437.98h2.4M277.09 439.85h2.4M320.43 434.8V436.67M319.23 434.8h2.4M319.23 436.67h2.4" stroke="#ff1690" stroke-width="0.5" fill="none"/>
<circle cx="236.14" cy="444.15" r="2.0" fill="#ff1690"/>
<circle cx="278.29" cy="438.91" r="2.0" fill="#ff1690"/>
<circle cx="320.43" cy="435.74" r="2.0" fill="#ff1690"/>
<circle cx="194" cy="453.5" r="1.7" fill="#8a9a6a"/>
<line x1="198.2" y1="337.3" x2="207" y2="337.3" stroke="#7f7f7f" stroke-width="0.7"/>
<circle cx="202.6" cy="337.3" r="1.15" fill="#7f7f7f"/>
<text x="213.6" y="340.1" font-size="7.8" font-weight="bold">A549</text>
<line x1="198.2" y1="347.2" x2="207" y2="347.2" stroke="#0cc40c" stroke-width="0.7"/>
<circle cx="202.6" cy="347.2" r="1.75" fill="#0cc40c"/>
<text x="213.6" y="350" font-size="7.8" font-weight="bold">A549ρ<tspan dy="-2" font-size="75%">0</tspan><tspan dy="2"></tspan></text>
<line x1="198.2" y1="356.5" x2="207" y2="356.5" stroke="#ff8408" stroke-width="0.7"/>
<path d="M202.6 355.23L203.88 357.52L201.32 357.52Z" fill="#ff8408"/>
<text x="213.6" y="359.3" font-size="7.8" font-weight="bold">A549ρ<tspan dy="-2" font-size="75%">0</tspan><tspan dy="2">+NFs-CM</tspan></text>
<line x1="198.2" y1="366.5" x2="207" y2="366.5" stroke="#ff0a0a" stroke-width="0.7"/>
<path d="M202.6 367.69L203.79 365.55L201.41 365.55Z" fill="#ff0a0a"/>
<text x="213.6" y="369.3" font-size="7.8" font-weight="bold">A549ρ<tspan dy="-2" font-size="75%">0</tspan><tspan dy="2">+iCAFs-CM</tspan></text>
<line x1="198.2" y1="377.6" x2="207" y2="377.6" stroke="#ff8484" stroke-width="0.7"/>
<path d="M202.6 376.64L203.56 377.6L202.6 378.56L201.64 377.6Z" fill="#ff8484"/>
<text x="213.6" y="380.4" font-size="7.8" font-weight="bold">A549ρ<tspan dy="-2" font-size="75%">0</tspan><tspan dy="2">+iCAFs-CM+heat</tspan></text>
<line x1="198.2" y1="386.6" x2="207" y2="386.6" stroke="#ff1690" stroke-width="0.7"/>
<circle cx="202.6" cy="386.6" r="2.0" fill="#ff1690"/>
<text x="213.6" y="389.4" font-size="7.8" font-weight="bold">A549ρ<tspan dy="-2" font-size="75%">0</tspan><tspan dy="2">+iCAFs-CM+heat+DNase</tspan></text>
<path d="M324.3 397.3h2.2V418.2h-2.2" stroke="#444" stroke-width="0.6" fill="none"/>
<text x="326.5" y="407.75" font-size="7" text-anchor="middle" font-weight="bold" transform="rotate(90 326.5 407.75)">***</text>
<path d="M327.5 406.7h2.2V419.5h-2.2" stroke="#444" stroke-width="0.6" fill="none"/>
<text x="329.7" y="413.1" font-size="7" text-anchor="middle" font-weight="bold" transform="rotate(90 329.7 413.1)">***</text>
<path d="M330.7 407.8h2.2V421.1h-2.2" stroke="#444" stroke-width="0.6" fill="none"/>
<text x="332.9" y="414.45" font-size="7" text-anchor="middle" font-weight="bold" transform="rotate(90 332.9 414.45)">***</text>
<path d="M334 405.4h2.2V435.1h-2.2" stroke="#444" stroke-width="0.6" fill="none"/>
<text x="336.2" y="420.25" font-size="7" text-anchor="middle" font-weight="bold" transform="rotate(90 336.2 420.25)">***</text>
<text x="180.8" y="425.7" font-size="7.8" text-anchor="middle" font-weight="bold" transform="rotate(-90 180.8 425.7)">Relatived cell viability</text>
<text x="264.5" y="494" font-size="7.8" text-anchor="middle" font-weight="bold">Times(hours)</text>
<text x="343" y="340.3" font-size="10.5">F</text>
<text x="445.1" y="343.6" font-size="7.8" text-anchor="middle">H1299ρ<tspan dy="-2.2" font-size="70%">0</tspan></text>
<line x1="384.7" y1="346.1" x2="506" y2="346.1" stroke="#000" stroke-width="1"/>
<text x="390.5" y="387.4" font-size="7.6" transform="rotate(-44 390.5 387.4)">H1299</text>
<text x="411" y="387.4" font-size="7.6" transform="rotate(-44 411 387.4)">untreated</text>
<text x="432" y="387.4" font-size="7.6" transform="rotate(-44 432 387.4)">NFs-CM</text>
<text x="452.5" y="387.4" font-size="7.6" transform="rotate(-44 452.5 387.4)">iCAFs-CM</text>
<text x="474" y="387.4" font-size="7.6" transform="rotate(-44 474 387.4)">iCAFsCM+heat</text>
<text x="495.5" y="387.4" font-size="7.6" transform="rotate(-44 495.5 387.4)">iCAFsCM+heat</text>
<text x="510" y="384.5" font-size="7.6" transform="rotate(-44 510 384.5)">+DNase</text>
<g>
<rect x="381.6" y="389.2" width="132.3" height="19.1" fill="#f8f8f8"/>
<clipPath id="c1"><rect x="381.6" y="389.2" width="132.3" height="19.1"/></clipPath>
<g clip-path="url(#c1)"><g filter="url(#blur)">
<ellipse cx="394.48" cy="398.76" rx="8.68" ry="5.25" fill="#000" opacity="1"/>
<ellipse cx="394.48" cy="398.76" rx="7.28" ry="4" fill="#000" opacity="1"/>
<ellipse cx="413.53" cy="398.76" rx="7" ry="1.6" fill="#000" opacity="0.75"/>
<ellipse cx="435.33" cy="398.55" rx="7.28" ry="1.4" fill="#000" opacity="0.3"/>
<ellipse cx="457.56" cy="397.7" rx="7.56" ry="2.5" fill="#000" opacity="0.8"/>
<ellipse cx="455.02" cy="397.28" rx="3.92" ry="2" fill="#000" opacity="0.5"/>
<ellipse cx="480.84" cy="395.58" rx="8.68" ry="2.6" fill="#000" opacity="0.85"/>
<ellipse cx="484.02" cy="395.16" rx="4.48" ry="2" fill="#000" opacity="0.6"/>
<ellipse cx="501.59" cy="395.37" rx="8.12" ry="1.8" fill="#000" opacity="0.8"/>
</g></g>
<rect x="381.6" y="389.2" width="132.3" height="19.1" fill="none" stroke="#111" stroke-width="0.9"/>
</g>
<g>
<rect x="381.6" y="418.4" width="132.3" height="19.5" fill="#f8f8f8"/>
<clipPath id="c2"><rect x="381.6" y="418.4" width="132.3" height="19.5"/></clipPath>
<g clip-path="url(#c2)"><g filter="url(#blur)">
<ellipse cx="394.05" cy="430.3" rx="8.96" ry="2.3" fill="#000" opacity="0.9"/>
<ellipse cx="414.8" cy="429.88" rx="6.16" ry="1.1" fill="#000" opacity="0.5"/>
<ellipse cx="435.97" cy="429.67" rx="6.72" ry="1.1" fill="#000" opacity="0.5"/>
<ellipse cx="457.56" cy="430.3" rx="8.96" ry="2.4" fill="#000" opacity="0.95"/>
<ellipse cx="480.21" cy="430.3" rx="9.52" ry="2.5" fill="#000" opacity="0.95"/>
<ellipse cx="502.43" cy="428.61" rx="6.72" ry="0.9" fill="#000" opacity="0.4"/>
</g></g>
<rect x="381.6" y="418.4" width="132.3" height="19.5" fill="none" stroke="#111" stroke-width="0.9"/>
</g>
<g>
<rect x="381.6" y="447.9" width="132.3" height="18.6" fill="#ebebeb"/>
<clipPath id="c3"><rect x="381.6" y="447.9" width="132.3" height="18.6"/></clipPath>
<g clip-path="url(#c3)"><g filter="url(#blur)">
<ellipse cx="394.05" cy="456.97" rx="10.08" ry="2.75" fill="#000" opacity="0.7"/>
<ellipse cx="394.05" cy="456.55" rx="8.4" ry="1.25" fill="#000" opacity="0.4"/>
<ellipse cx="415.22" cy="457.82" rx="7.84" ry="2.5" fill="#000" opacity="0.6"/>
<ellipse cx="437.45" cy="456.97" rx="8.96" ry="3.75" fill="#000" opacity="0.95"/>
<ellipse cx="437.45" cy="457.18" rx="7.28" ry="2.5" fill="#000" opacity="0.7"/>
<ellipse cx="458.62" cy="457.4" rx="6.72" ry="2.25" fill="#000" opacity="0.22"/>
<ellipse cx="479.78" cy="457.4" rx="7.28" ry="2.25" fill="#000" opacity="0.22"/>
<ellipse cx="502.01" cy="455.28" rx="8.96" ry="3.25" fill="#000" opacity="0.85"/>
<ellipse cx="502.01" cy="454.86" rx="7.28" ry="1.75" fill="#000" opacity="0.5"/>
<ellipse cx="502.01" cy="465.02" rx="7.84" ry="0.6" fill="#000" opacity="0.15"/>
<ellipse cx="437.45" cy="465.02" rx="7.84" ry="0.6" fill="#000" opacity="0.12"/>
</g></g>
<rect x="381.6" y="447.9" width="132.3" height="18.6" fill="none" stroke="#111" stroke-width="0.9"/>
</g>
<g>
<rect x="381.6" y="476.4" width="132.3" height="18.7" fill="#f8f8f8"/>
<clipPath id="c4"><rect x="381.6" y="476.4" width="132.3" height="18.7"/></clipPath>
<g clip-path="url(#c4)"><g filter="url(#blur)">
<ellipse cx="394.05" cy="485.76" rx="13.16" ry="2.8" fill="#000" opacity="1"/>
<ellipse cx="415.64" cy="485.76" rx="13.16" ry="2.8" fill="#000" opacity="1"/>
<ellipse cx="437.24" cy="485.76" rx="13.16" ry="2.8" fill="#000" opacity="1"/>
<ellipse cx="458.83" cy="485.76" rx="13.16" ry="2.8" fill="#000" opacity="1"/>
<ellipse cx="480.42" cy="485.76" rx="13.16" ry="2.8" fill="#000" opacity="1"/>
<ellipse cx="502.01" cy="485.76" rx="13.16" ry="2.8" fill="#000" opacity="1"/>
<ellipse cx="448.03" cy="485.76" rx="66.08" ry="1.5" fill="#000" opacity="1"/>
</g></g>
<rect x="381.6" y="476.4" width="132.3" height="18.7" fill="none" stroke="#111" stroke-width="0.9"/>
</g>
<text x="379.2" y="401.6" font-size="7.6" text-anchor="end">Snail</text>
<text x="379.2" y="430.8" font-size="7.6" text-anchor="end">Vimentin</text>
<text x="379.2" y="461" font-size="7.6" text-anchor="end">E-cadherin</text>
<text x="379.2" y="489.6" font-size="7.6" text-anchor="end">Actin</text>
<text x="394.7" y="416.7" font-size="7.3" text-anchor="middle">1.00</text>
<text x="415.9" y="416.7" font-size="7.3" text-anchor="middle">0.21</text>
<text x="437.2" y="416.7" font-size="7.3" text-anchor="middle">0.18</text>
<text x="459" y="416.7" font-size="7.3" text-anchor="middle">0.56</text>
<text x="480.6" y="416.7" font-size="7.3" text-anchor="middle">0.62</text>
<text x="502.1" y="416.7" font-size="7.3" text-anchor="middle">0.32</text>
<text x="394.7" y="445.6" font-size="7.3" text-anchor="middle">1.00</text>
<text x="415.9" y="445.6" font-size="7.3" text-anchor="middle">0.33</text>
<text x="433.5" y="445.6" font-size="7.3" text-anchor="middle">0.34</text>
<text x="459" y="445.6" font-size="7.3" text-anchor="middle">0.98</text>
<text x="480.6" y="445.6" font-size="7.3" text-anchor="middle">1.11</text>
<text x="502.1" y="445.6" font-size="7.3" text-anchor="middle">0.30</text>
<text x="394.7" y="474.2" font-size="7.3" text-anchor="middle">1.00</text>
<text x="417.5" y="474.2" font-size="7.3" text-anchor="middle">0.61</text>
<text x="437.2" y="474.2" font-size="7.3" text-anchor="middle">2.34</text>
<text x="459" y="474.2" font-size="7.3" text-anchor="middle">0.25</text>
<text x="478.5" y="474.2" font-size="7.3" text-anchor="middle">0.32</text>
<text x="502.1" y="474.2" font-size="7.3" text-anchor="middle">1.09</text>
<text x="591" y="342.4" font-size="7.8" text-anchor="middle">A549ρ<tspan dy="-2.2" font-size="70%">0</tspan></text>
<line x1="533" y1="345.6" x2="654.4" y2="345.6" stroke="#000" stroke-width="1"/>
<text x="539" y="387.6" font-size="7.6" transform="rotate(-44 539 387.6)">A549</text>
<text x="558" y="387.6" font-size="7.6" transform="rotate(-44 558 387.6)">untreated</text>
<text x="579" y="387.6" font-size="7.6" transform="rotate(-44 579 387.6)">NFs-CM</text>
<text x="599.5" y="387.6" font-size="7.6" transform="rotate(-44 599.5 387.6)">iCAFs-CM</text>
<text x="620.5" y="387.6" font-size="7.6" transform="rotate(-44 620.5 387.6)">iCAFsCM+heat</text>
<text x="643" y="387.6" font-size="7.6" transform="rotate(-44 643 387.6)">iCAFsCM+heat</text>
<text x="659.5" y="383.2" font-size="7.6" transform="rotate(-44 659.5 383.2)">+DNase</text>
<g>
<rect x="524.6" y="389.3" width="133.3" height="19.1" fill="#a2a2a2"/>
<rect x="524.6" y="389.3" width="133.3" height="19.1" fill="url(#gr1)"/>
<clipPath id="c5"><rect x="524.6" y="389.3" width="133.3" height="19.1"/></clipPath>
<g clip-path="url(#c5)"><g filter="url(#blur)">
<ellipse cx="539.51" cy="397.04" rx="7.84" ry="5.25" fill="#000" opacity="0.85"/>
<ellipse cx="539.51" cy="395.84" rx="6.16" ry="2.5" fill="#000" opacity="0.5"/>
<ellipse cx="539.27" cy="405.47" rx="5.6" ry="5.5" fill="#000" opacity="0.45"/>
<ellipse cx="558.54" cy="398.97" rx="6.72" ry="2.75" fill="#000" opacity="0.22"/>
<ellipse cx="578.29" cy="398.97" rx="6.72" ry="2.75" fill="#000" opacity="0.22"/>
<ellipse cx="600.68" cy="397.52" rx="10.08" ry="3.5" fill="#000" opacity="0.8"/>
<ellipse cx="597.07" cy="397.04" rx="5.04" ry="2.25" fill="#000" opacity="0.4"/>
<ellipse cx="622.36" cy="398.97" rx="10.36" ry="4.5" fill="#000" opacity="1"/>
<ellipse cx="622.36" cy="398.97" rx="8.4" ry="3" fill="#000" opacity="0.8"/>
<ellipse cx="644.52" cy="399.93" rx="6.72" ry="2.5" fill="#000" opacity="0.2"/>
</g></g>
<rect x="524.6" y="389.3" width="133.3" height="19.1" fill="none" stroke="#111" stroke-width="0.9"/>
</g>
<g>
<rect x="524.6" y="419.4" width="133.3" height="18.6" fill="#f6f6f6"/>
<clipPath id="c6"><rect x="524.6" y="419.4" width="133.3" height="18.6"/></clipPath>
<g clip-path="url(#c6)"><g filter="url(#blur)">
<ellipse cx="539.75" cy="429.56" rx="10.92" ry="2.8" fill="#000" opacity="1"/>
<ellipse cx="538.79" cy="429.32" rx="7.84" ry="1.8" fill="#000" opacity="0.8"/>
<ellipse cx="560.94" cy="429.56" rx="7.28" ry="1.3" fill="#000" opacity="0.65"/>
<ellipse cx="579.49" cy="429.8" rx="5.6" ry="1.1" fill="#000" opacity="0.55"/>
<ellipse cx="601.89" cy="430.04" rx="9.8" ry="2.1" fill="#000" opacity="0.85"/>
<ellipse cx="624.77" cy="430.76" rx="10.64" ry="2.9" fill="#000" opacity="1"/>
<ellipse cx="623.56" cy="431" rx="7.84" ry="1.8" fill="#000" opacity="0.8"/>
<ellipse cx="646.45" cy="429.56" rx="6.16" ry="0.9" fill="#000" opacity="0.35"/>
</g></g>
<rect x="524.6" y="419.4" width="133.3" height="18.6" fill="none" stroke="#111" stroke-width="0.9"/>
</g>
<g>
<rect x="524.6" y="448.1" width="133.3" height="18.8" fill="#e2e2e2"/>
<clipPath id="c7"><rect x="524.6" y="448.1" width="133.3" height="18.8"/></clipPath>
<g clip-path="url(#c7)"><g filter="url(#blur)">
<ellipse cx="538.06" cy="456.77" rx="8.96" ry="3.75" fill="#000" opacity="0.7"/>
<ellipse cx="538.06" cy="455.57" rx="7.28" ry="1.5" fill="#000" opacity="0.4"/>
<ellipse cx="558.54" cy="457.98" rx="7.28" ry="3.25" fill="#000" opacity="0.32"/>
<ellipse cx="579.49" cy="458.46" rx="9.52" ry="3.75" fill="#000" opacity="0.8"/>
<ellipse cx="579.49" cy="458.7" rx="7.28" ry="1.75" fill="#000" opacity="0.5"/>
<ellipse cx="598.28" cy="457.98" rx="6.16" ry="3" fill="#000" opacity="0.22"/>
<ellipse cx="617.54" cy="458.46" rx="6.16" ry="3" fill="#000" opacity="0.22"/>
<ellipse cx="642.83" cy="458.46" rx="10.08" ry="4" fill="#000" opacity="0.9"/>
<ellipse cx="642.83" cy="458.46" rx="7.84" ry="2.5" fill="#000" opacity="0.6"/>
</g></g>
<rect x="524.6" y="448.1" width="133.3" height="18.8" fill="none" stroke="#111" stroke-width="0.9"/>
</g>
<g>
<rect x="524.6" y="476" width="133.3" height="18.6" fill="#f6f6f6"/>
<clipPath id="c8"><rect x="524.6" y="476" width="133.3" height="18.6"/></clipPath>
<g clip-path="url(#c8)"><g filter="url(#blur)">
<ellipse cx="535.66" cy="483.03" rx="12.6" ry="3" fill="#000" opacity="1"/>
<ellipse cx="558.05" cy="483.63" rx="12.6" ry="3" fill="#000" opacity="1"/>
<ellipse cx="580.45" cy="483.03" rx="12.6" ry="3" fill="#000" opacity="1"/>
<ellipse cx="602.85" cy="483.63" rx="12.6" ry="3" fill="#000" opacity="1"/>
<ellipse cx="625.25" cy="483.03" rx="12.6" ry="3" fill="#000" opacity="1"/>
<ellipse cx="647.65" cy="483.63" rx="12.6" ry="3" fill="#000" opacity="1"/>
<ellipse cx="591.05" cy="483.27" rx="71.68" ry="1.8" fill="#000" opacity="1"/>
</g></g>
<rect x="524.6" y="476" width="133.3" height="18.6" fill="none" stroke="#111" stroke-width="0.9"/>
</g>
<text x="659.2" y="399.7" font-size="7.5">29kDa</text>
<text x="659.2" y="431.8" font-size="7.5">55kDa</text>
<text x="659.2" y="460.4" font-size="7.5">125kDa</text>
<text x="659.2" y="487.2" font-size="7.5">42kDa</text>
<text x="538.8" y="417.7" font-size="7.3" text-anchor="middle">1.00</text>
<text x="558.5" y="417.7" font-size="7.3" text-anchor="middle">0.44</text>
<text x="577.1" y="417.7" font-size="7.3" text-anchor="middle">0.40</text>
<text x="597.6" y="417.7" font-size="7.3" text-anchor="middle">1.04</text>
<text x="619.2" y="417.7" font-size="7.3" text-anchor="middle">1.30</text>
<text x="640.4" y="417.7" font-size="7.3" text-anchor="middle">0.46</text>
<text x="538.8" y="445.4" font-size="7.3" text-anchor="middle">1.00</text>
<text x="563.4" y="445.4" font-size="7.3" text-anchor="middle">0.38</text>
<text x="583.1" y="445.4" font-size="7.3" text-anchor="middle">0.24</text>
<text x="603.1" y="445.4" font-size="7.3" text-anchor="middle">0.82</text>
<text x="624.8" y="445.4" font-size="7.3" text-anchor="middle">0.90</text>
<text x="645.2" y="445.4" font-size="7.3" text-anchor="middle">0.28</text>
<text x="538.8" y="473.6" font-size="7.3" text-anchor="middle">1.00</text>
<text x="558.5" y="473.6" font-size="7.3" text-anchor="middle">0.70</text>
<text x="579" y="473.6" font-size="7.3" text-anchor="middle">1.08</text>
<text x="597.6" y="473.6" font-size="7.3" text-anchor="middle">0.34</text>
<text x="616.3" y="473.6" font-size="7.3" text-anchor="middle">0.31</text>
<text x="639.7" y="473.6" font-size="7.3" text-anchor="middle">0.99</text>
<text x="2.4" y="517.8" font-size="10.5">E</text>
<clipPath id="c9"><rect x="6.5" y="526.2" width="73" height="64"/></clipPath>
<g clip-path="url(#c9)" stroke-linecap="round" fill="none">
<rect x="6.5" y="526.2" width="73" height="64" fill="#f3ecfb"/>
<path d="M17.3 526.2h0M10.0 537.8h0M7.8 555.8h0M68.7 559.5h0M43.0 568.9h0M68.5 571.9h0M22.7 544.3h0M40.7 589.9h0M25.7 531.0h0M77.8 575.2h0M24.0 531.9h0M65.3 536.9h0M15.3 567.7h0M37.1 539.2h0M78.3 578.2h0M71.9 539.1h0M69.6 567.6h0M79.7 539.3h0M63.5 546.9h0M11.0 531.1h0M23.7 564.9h0M39.5 588.5h0M48.6 582.4h0M24.2 537.7h0M71.7 565.0h0M23.4 571.7h0M67.3 564.6h0M18.7 572.7h0M20.8 526.3h0M38.9 529.2h0M33.2 563.0h0M54.8 570.8h0M16.0 527.5h0M7.1 567.2h0M65.0 585.6h0M48.5 566.4h0M49.2 565.4h0M60.1 550.8h0M11.8 574.7h0M50.6 556.9h0M57.9 558.0h0M74.5 542.1h0M28.1 570.0h0M38.6 584.1h0M55.4 538.3h0M34.3 563.7h0M26.3 536.4h0M26.1 539.3h0M52.4 557.8h0M68.4 590.0h0M28.7 577.4h0M15.7 555.2h0M67.7 540.9h0M9.0 566.7h0M77.4 570.4h0M41.1 537.0h0M40.9 572.3h0M73.7 550.1h0M40.3 568.2h0M59.6 579.2h0M79.0 589.7h0M69.7 548.2h0M10.3 578.0h0M30.6 577.2h0M42.4 587.8h0M22.1 560.0h0M60.2 567.4h0M68.8 562.2h0M44.8 563.0h0M7.6 589.2h0M35.5 578.1h0M42.3 570.8h0M74.8 543.0h0M73.0 556.7h0M15.2 576.6h0M20.1 540.2h0M29.7 548.7h0M13.4 573.4h0M43.8 541.7h0M45.3 554.0h0M36.5 560.1h0M45.2 581.4h0M69.8 540.6h0M66.3 584.8h0M29.1 586.1h0M80.4 583.8h0M23.5 573.2h0M12.8 580.1h0M64.7 533.5h0M56.9 526.4h0M43.2 570.5h0M10.8 532.2h0M16.5 537.4h0M40.2 575.7h0M40.5 559.2h0M68.8 537.2h0M61.0 551.9h0M17.9 559.0h0M70.1 566.7h0M35.9 572.9h0M31.1 556.1h0M79.0 526.7h0M60.9 542.1h0M9.3 538.1h0M48.1 590.9h0M66.2 530.2h0M17.5 556.3h0M42.7 565.5h0M76.4 553.0h0M50.3 549.3h0M54.6 562.2h0M59.2 544.7h0M23.9 528.0h0M66.8 565.0h0M52.3 555.3h0M9.4 560.1h0M38.7 569.3h0M25.2 563.6h0M76.9 573.7h0M52.4 548.9h0M56.9 562.5h0M53.0 574.9h0M71.4 527.8h0M13.2 560.9h0M52.8 549.8h0M68.4 530.1h0M21.5 553.2h0M66.2 549.6h0M79.7 546.7h0M61.5 586.0h0M11.4 530.7h0M41.9 570.4h0M63.7 530.2h0M55.2 530.6h0M59.9 571.0h0M74.0 554.1h0M28.4 546.2h0M75.6 584.3h0M32.6 549.3h0M35.2 550.8h0M47.8 577.8h0M68.2 562.3h0M62.4 583.3h0M7.2 559.2h0M48.1 589.0h0M65.8 529.4h0M64.6 530.7h0M60.8 584.5h0M54.2 541.4h0M62.9 559.6h0M55.9 557.8h0M36.3 579.7h0M72.1 588.4h0M37.1 553.0h0M61.1 590.6h0M18.1 538.7h0M27.4 589.2h0M28.6 532.8h0M63.7 537.0h0M8.2 532.4h0M21.8 540.7h0M50.1 540.0h0M74.1 547.8h0M77.3 557.1h0M34.4 560.0h0M26.1 590.6h0M23.3 525.9h0M51.0 535.6h0M25.5 560.5h0M69.0 579.5h0M25.7 572.5h0M49.5 581.8h0M12.3 579.7h0M46.3 559.9h0M67.9 545.8h0M11.2 545.4h0M59.1 548.9h0M13.4 551.2h0M23.3 562.4h0M21.0 565.9h0M33.7 560.8h0M24.7 538.4h0M30.2 587.6h0M12.4 534.5h0M56.3 571.9h0M35.7 580.4h0M12.3 540.2h0M14.8 552.1h0M74.5 553.4h0M34.4 547.1h0M51.1 526.4h0M31.2 568.1h0M67.4 565.6h0M63.0 584.8h0M31.9 558.2h0M59.0 590.3h0M59.2 580.3h0M76.4 566.6h0M11.7 541.3h0M32.6 555.8h0M66.8 564.9h0M19.4 561.4h0M76.0 568.7h0M55.8 573.9h0M49.9 578.3h0M20.5 556.1h0M34.5 562.8h0M44.5 542.6h0M30.4 567.6h0M50.5 556.2h0M68.4 581.6h0M44.9 559.9h0M73.3 546.4h0M50.3 574.8h0M50.0 529.8h0M39.0 558.4h0M9.4 571.1h0M23.4 545.4h0M37.1 578.3h0M12.9 577.5h0M45.8 588.0h0M23.8 545.0h0M78.8 556.4h0M20.2 580.5h0M80.2 538.5h0M19.9 583.3h0M13.5 573.1h0M38.9 530.4h0M28.5 572.1h0M19.1 540.7h0M64.8 549.8h0M71.8 564.1h0M28.1 586.4h0M26.3 567.4h0M79.2 554.3h0M23.9 543.6h0M34.4 586.5h0M18.5 576.7h0M51.1 540.7h0M23.2 557.5h0M49.0 558.1h0M50.3 572.4h0M71.0 537.1h0M6.8 557.9h0M10.9 585.1h0M46.2 577.4h0M16.5 545.7h0M25.4 564.1h0M67.0 536.5h0M64.5 529.2h0M79.5 534.7h0M61.4 527.8h0M72.3 534.5h0M27.9 553.2h0M60.6 540.4h0M46.9 541.2h0M75.4 549.2h0M79.1 565.5h0M35.7 568.1h0M49.8 583.7h0M35.0 580.8h0M64.1 539.4h0M19.3 561.5h0M20.8 539.4h0M56.4 582.1h0M32.7 543.3h0M19.2 542.5h0M74.8 572.4h0M73.5 526.5h0M29.9 576.1h0M9.6 551.2h0M8.6 535.2h0M7.9 545.8h0M16.5 538.7h0M59.0 552.0h0M70.4 540.1h0M31.4 539.4h0M66.2 589.6h0M55.8 585.9h0M70.6 540.7h0M12.2 553.4h0M10.0 550.5h0M42.8 543.7h0M35.7 556.6h0M55.4 541.0h0M31.1 553.1h0M49.2 571.5h0M58.0 526.7h0M32.8 529.4h0M40.7 546.7h0M77.1 549.1h0M52.1 552.3h0M34.1 585.2h0M15.7 558.7h0M32.5 589.7h0M19.9 540.3h0M23.1 525.3h0M35.0 541.0h0M54.3 561.4h0M47.8 549.6h0M61.7 560.4h0M24.2 546.6h0M44.0 533.5h0M10.7 531.9h0M70.7 528.7h0M43.6 577.8h0M59.2 541.8h0M68.7 579.9h0M67.8 578.1h0M33.8 569.4h0M19.3 526.1h0M76.1 589.2h0M57.1 552.9h0M9.2 572.3h0M80.0 533.1h0M7.5 561.0h0M68.4 543.9h0M34.7 571.0h0M65.5 534.9h0M13.5 586.8h0M42.1 533.1h0M6.9 562.6h0M52.4 543.3h0M41.7 549.3h0M28.7 530.4h0M41.8 591.0h0M70.5 557.2h0M66.0 551.3h0M59.9 536.8h0M18.2 533.0h0M32.4 574.9h0M44.1 525.9h0M77.4 525.9h0M63.1 590.3h0M76.8 551.7h0M24.3 585.2h0M48.8 540.2h0M32.9 567.3h0M26.4 584.9h0M56.5 536.9h0M16.2 548.3h0M6.2 558.4h0M20.9 583.3h0M37.8 588.7h0M36.1 571.8h0M29.7 537.3h0M79.7 535.0h0M33.9 567.7h0M52.6 558.5h0M39.5 569.1h0M34.3 540.4h0M48.5 559.2h0M52.5 554.7h0M50.1 586.7h0M40.7 590.7h0M35.7 582.5h0M79.8 557.6h0M67.7 577.8h0M20.2 543.7h0M69.6 576.1h0M73.4 577.8h0M32.9 531.8h0M14.3 537.2h0M10.9 590.4h0M20.3 569.3h0M6.7 547.6h0M52.7 543.6h0M57.6 537.1h0M57.5 556.0h0M57.4 573.8h0M28.8 552.1h0M36.2 555.3h0M76.1 548.1h0M23.1 563.4h0M70.9 544.1h0M39.1 529.4h0M23.9 552.4h0M72.7 541.8h0M49.8 561.2h0M72.7 531.0h0M7.2 567.0h0M32.6 555.9h0M78.7 590.7h0M67.7 568.1h0M80.3 529.6h0M35.6 568.5h0M79.7 539.0h0M11.8 536.2h0M52.2 574.2h0M14.5 556.1h0M7.3 548.4h0M28.1 558.7h0M48.1 533.8h0M24.0 552.5h0M21.8 555.0h0M40.0 581.3h0M70.3 588.8h0M60.6 572.2h0M45.3 527.1h0M28.1 589.0h0M69.1 528.2h0M11.4 542.4h0M74.4 546.9h0M24.9 549.5h0M41.3 548.9h0M35.5 539.9h0M33.4 546.0h0M22.8 574.7h0M32.9 564.7h0M29.1 558.0h0M62.0 528.7h0M37.4 582.0h0M26.9 570.1h0M79.3 580.1h0M75.0 567.4h0M75.6 574.9h0M5.9 573.8h0M11.1 576.8h0M61.9 550.1h0M38.3 533.0h0M60.6 529.9h0M68.1 569.2h0M14.0 533.0h0M21.3 552.6h0M40.9 527.3h0M42.5 570.7h0M63.9 532.1h0M18.0 563.9h0M31.5 536.0h0M49.9 559.5h0M48.6 580.8h0M30.1 571.2h0M33.8 572.5h0M73.7 555.3h0M22.8 574.9h0M28.5 581.1h0M57.9 562.7h0M62.9 578.4h0M64.3 539.6h0M45.6 565.4h0M74.8 570.7h0M76.8 572.6h0M69.8 573.2h0M24.2 526.5h0M24.5 544.5h0M15.4 557.2h0M26.9 543.5h0M69.6 565.4h0M60.5 560.5h0M74.4 576.4h0M9.6 587.0h0M64.5 540.6h0M43.4 562.6h0M22.9 587.9h0M76.0 568.6h0M73.1 531.9h0M14.5 590.5h0M70.9 529.3h0M10.6 527.2h0M64.4 559.6h0M45.0 537.4h0M32.1 558.1h0M58.4 552.7h0M78.4 562.3h0M56.9 565.6h0M75.5 530.9h0M77.5 527.3h0M70.7 588.4h0M66.1 525.2h0M36.1 547.3h0M6.6 576.0h0M49.4 559.9h0M56.1 555.2h0M71.6 536.8h0M30.5 540.9h0M25.0 559.7h0M71.3 537.4h0M56.1 577.4h0M11.4 575.6h0M79.8 550.8h0M64.7 576.8h0M64.8 550.2h0M50.0 574.1h0M66.9 526.1h0M77.5 586.7h0M75.3 534.6h0M76.4 537.9h0M76.7 555.1h0M10.9 537.4h0M9.2 545.5h0M48.1 575.5h0M76.5 530.6h0M74.8 558.5h0M30.3 562.7h0M65.0 589.4h0M50.7 581.0h0M7.3 575.5h0M9.4 535.9h0M60.7 539.2h0M22.0 577.9h0M54.5 555.9h0M6.6 545.3h0M25.0 566.0h0M41.0 566.4h0M32.2 583.5h0M36.8 560.8h0M30.4 585.5h0M27.1 536.5h0M23.1 563.7h0M76.6 543.9h0M57.0 548.1h0M42.8 586.1h0M33.9 525.3h0M40.2 531.1h0M26.5 554.4h0M65.5 540.7h0M76.4 557.5h0M27.3 580.7h0M31.2 538.2h0M18.7 579.0h0M23.8 585.9h0M28.8 537.5h0M62.4 590.2h0M14.9 573.2h0M53.4 557.7h0M32.0 526.7h0M65.2 540.3h0M63.6 571.0h0M29.2 543.2h0M27.3 588.0h0M77.7 576.3h0M26.4 559.7h0M8.2 582.1h0M41.0 574.3h0M20.4 563.5h0M30.1 529.8h0M53.5 552.6h0M62.7 561.8h0M75.9 584.8h0M46.1 591.0h0M19.7 575.8h0M16.8 561.6h0M59.5 573.2h0M63.0 567.9h0M39.7 553.7h0M9.7 529.9h0M57.6 554.1h0M15.1 528.8h0M6.8 530.0h0M69.4 557.3h0M29.2 590.1h0M43.7 552.3h0M72.0 542.2h0M58.6 554.8h0M38.3 555.1h0M52.3 552.3h0M63.5 555.2h0M71.5 555.2h0M54.7 569.3h0M45.9 589.9h0M58.9 526.3h0M63.0 542.3h0M20.2 585.4h0M62.6 574.5h0M46.3 590.3h0M64.0 546.6h0M76.8 543.3h0M45.1 557.9h0M52.4 584.2h0M27.2 578.4h0M16.4 565.2h0M45.2 590.6h0M77.0 548.5h0M57.3 579.9h0M26.0 548.9h0M75.5 541.7h0M14.3 530.9h0M60.9 542.7h0M70.0 539.1h0M21.9 556.5h0M38.6 578.8h0M51.2 590.3h0M22.2 566.1h0M77.8 547.7h0M56.3 536.5h0M70.9 540.1h0M22.7 572.6h0M46.2 563.7h0M50.5 582.1h0M13.1 526.6h0M18.7 543.2h0M57.7 546.5h0M27.2 562.2h0M32.5 541.6h0M25.1 526.3h0M49.9 542.9h0M69.0 556.2h0M43.0 552.5h0M43.3 556.1h0M22.3 526.7h0M68.2 570.3h0M61.3 555.2h0M74.3 580.3h0M24.0 589.3h0M44.3 590.6h0M80.0 526.1h0M34.7 567.4h0M47.7 587.2h0M62.7 564.3h0M56.1 539.5h0M46.3 547.4h0M52.9 526.4h0M54.8 539.3h0M62.4 529.0h0M65.3 534.5h0M7.7 536.0h0M77.4 546.4h0M67.6 537.4h0M51.6 586.9h0M24.4 572.4h0M42.6 589.1h0M10.4 537.5h0M79.0 569.4h0M34.2 572.5h0M9.9 557.7h0M45.3 528.4h0M79.2 549.7h0M19.0 558.2h0M62.9 562.5h0M19.7 573.0h0M70.4 527.4h0M40.6 580.9h0M9.4 579.7h0M17.7 527.7h0M71.3 550.3h0M74.2 527.7h0M27.0 537.8h0M20.5 567.5h0M18.1 560.5h0M34.6 556.5h0M51.6 538.0h0M6.2 583.8h0M8.6 544.0h0M74.9 537.5h0M69.5 575.7h0M77.5 534.7h0M10.2 566.7h0M29.7 565.3h0M19.7 581.2h0M47.3 547.6h0M5.6 525.3h0M26.1 590.6h0M10.4 572.5h0M75.6 553.0h0M40.2 570.4h0M64.2 589.0h0M51.7 535.9h0M9.9 531.7h0M46.6 581.7h0M14.0 567.5h0M22.7 527.2h0M10.3 560.3h0M50.8 579.6h0M71.8 561.8h0M40.6 525.9h0M43.8 529.1h0M65.0 544.3h0M43.4 578.3h0M74.5 557.1h0M9.0 551.6h0M56.3 535.1h0M38.8 544.7h0M72.1 539.3h0M71.9 557.1h0M10.3 569.8h0M38.9 565.1h0M75.7 547.3h0M64.0 532.4h0M64.8 538.8h0M50.8 556.2h0M74.3 539.0h0M73.3 577.7h0M43.3 534.4h0M76.8 582.3h0M46.9 546.2h0M61.3 575.3h0M40.3 533.0h0M18.2 579.7h0M53.8 549.3h0M51.5 576.0h0M71.2 589.2h0M54.1 549.9h0M33.0 567.9h0M56.2 580.9h0M53.7 541.8h0M28.2 550.2h0M22.4 583.1h0M41.0 538.5h0M30.0 537.8h0M29.5 527.5h0M32.0 589.4h0M74.7 582.5h0M14.9 578.5h0M47.3 531.6h0M62.3 567.8h0M63.8 569.4h0M45.3 552.5h0M59.0 570.7h0M64.7 579.7h0M16.4 528.3h0M77.4 545.6h0M40.4 562.5h0M63.9 547.1h0M65.8 525.3h0M12.5 583.5h0M55.5 552.5h0M20.7 555.7h0M56.2 532.2h0M78.8 537.0h0M66.8 587.1h0M14.5 536.1h0M73.0 585.3h0M15.1 548.5h0M38.3 555.4h0M58.8 546.7h0M16.4 528.2h0M32.4 527.3h0M7.8 546.1h0M28.8 534.2h0M68.4 550.4h0M13.4 526.2h0M11.8 537.7h0M63.2 573.8h0M39.4 548.6h0M65.0 542.5h0M20.5 578.3h0M70.4 558.9h0M26.9 544.5h0M31.0 540.2h0M9.3 552.4h0M35.5 562.5h0M6.8 569.7h0M42.4 550.1h0M9.4 544.8h0M14.1 527.1h0M7.0 583.2h0M38.8 559.9h0M72.5 573.1h0M50.4 585.1h0M17.8 562.4h0M62.0 557.5h0M28.5 583.5h0M63.8 543.4h0M58.7 573.5h0M75.6 560.0h0M41.5 547.5h0M71.9 586.9h0M13.7 547.2h0M67.7 540.3h0M31.7 590.7h0M7.0 531.2h0M60.3 580.7h0M72.8 542.6h0M43.7 543.1h0M55.2 546.6h0M16.5 589.3h0M67.1 562.6h0M8.8 529.2h0M57.5 549.5h0M65.7 555.7h0M39.3 570.1h0M13.6 525.4h0M23.9 540.2h0M32.1 547.6h0M73.8 569.3h0M79.8 555.5h0M51.4 549.2h0M35.3 525.9h0M31.8 590.7h0M26.1 570.8h0M28.4 551.3h0M31.0 589.7h0M45.3 540.1h0M28.1 584.3h0M42.1 559.8h0M45.6 529.5h0M61.1 528.8h0M63.6 535.6h0M52.3 565.1h0M78.1 558.9h0M79.1 550.6h0M55.7 542.3h0M28.2 565.3h0M72.2 586.0h0M67.3 531.1h0M5.6 577.5h0M72.0 579.2h0M58.1 546.9h0M48.9 552.5h0M31.7 576.1h0M61.9 590.0h0M10.2 536.0h0M27.7 540.6h0M16.5 527.1h0M29.0 579.8h0M13.2 527.2h0M71.1 528.5h0M60.0 541.3h0M46.1 528.6h0M73.8 529.6h0M8.7 583.3h0M11.7 548.7h0M12.7 560.5h0M38.6 578.5h0M67.2 541.3h0M64.9 525.4h0M57.6 540.0h0M41.6 543.8h0M12.2 571.0h0M69.2 583.4h0M79.3 536.4h0M76.1 539.0h0M15.0 530.7h0M51.0 556.6h0M53.7 534.2h0M67.5 534.3h0M16.3 557.6h0M67.7 578.4h0M41.0 590.3h0M25.9 565.9h0M56.2 588.1h0M16.4 562.8h0M40.1 530.5h0M39.8 554.3h0M64.7 562.8h0M16.4 555.5h0M14.5 530.4h0M70.5 561.7h0M26.2 580.6h0M54.0 566.9h0M76.3 564.2h0M9.0 562.1h0M75.3 538.8h0M70.8 535.3h0M48.7 541.5h0M73.9 574.5h0M28.8 532.7h0M51.3 541.2h0M63.7 534.6h0M50.8 586.9h0M49.2 546.6h0M70.3 572.7h0M7.6 549.4h0M69.0 561.3h0M47.3 561.7h0M76.5 544.6h0M44.4 555.2h0M64.7 530.8h0M26.4 538.6h0M11.5 559.8h0M41.5 565.6h0M40.3 570.6h0M27.1 549.8h0M60.6 572.7h0M77.1 590.0h0M80.2 566.2h0M12.0 526.3h0M41.6 536.2h0M18.8 572.2h0M44.3 591.0h0M73.6 554.8h0M40.0 536.0h0M38.6 582.6h0M64.9 564.8h0M77.1 564.7h0M46.6 582.4h0M54.1 557.4h0M17.5 540.5h0M37.1 564.9h0M46.5 547.3h0M59.0 554.0h0M24.7 582.0h0M70.8 554.1h0M48.8 559.7h0M47.5 587.9h0M12.4 590.4h0M9.5 579.2h0M7.7 536.8h0M68.8 526.5h0M6.5 528.7h0M42.3 589.1h0M56.0 541.0h0M41.7 538.4h0M65.9 543.2h0M12.4 541.1h0M43.4 570.6h0M39.6 558.8h0M11.9 567.8h0M8.1 530.8h0M80.1 566.3h0M64.4 541.6h0M13.3 533.7h0M19.3 562.2h0M76.3 553.8h0M76.4 555.1h0M42.4 551.6h0M54.9 586.0h0M29.3 559.9h0M34.8 576.2h0M41.6 559.0h0M60.4 541.9h0M24.1 564.6h0M46.8 532.1h0M41.5 574.0h0M52.7 533.0h0M77.8 549.5h0M60.5 568.9h0M63.0 529.7h0M63.9 575.8h0M43.6 578.0h0M44.9 537.4h0M46.9 541.5h0M55.1 541.6h0M46.7 565.3h0M71.9 546.2h0M59.9 589.3h0M39.0 568.2h0M67.7 552.8h0M44.5 549.2h0M64.8 543.6h0M71.5 529.7h0M68.0 537.0h0M12.6 550.2h0M66.8 544.3h0M16.1 542.1h0M37.0 587.0h0M48.1 582.8h0M77.2 570.0h0M76.3 556.0h0M46.8 542.1h0M16.7 541.9h0M35.7 584.7h0M31.6 581.0h0M76.9 570.3h0M60.4 535.5h0M33.9 547.3h0M17.5 551.6h0M65.2 548.6h0M75.3 552.5h0M10.7 549.2h0M11.1 553.1h0M68.6 566.9h0M55.5 540.7h0M36.5 588.3h0M31.6 541.2h0M55.8 587.3h0M30.2 572.9h0M57.3 569.7h0M9.3 536.9h0M19.2 544.1h0M17.5 531.4h0M11.5 534.4h0M27.8 577.0h0M44.8 549.9h0M67.1 550.9h0M13.4 553.7h0M75.9 591.2h0M60.5 564.9h0M18.4 567.6h0M56.4 528.0h0M14.0 575.6h0M27.0 576.8h0M27.3 551.1h0M46.0 570.2h0M38.2 565.5h0M54.5 547.9h0M21.1 557.5h0M45.0 528.8h0M59.2 536.2h0M63.3 589.1h0M35.2 575.0h0M40.7 543.1h0M60.4 582.0h0M57.4 530.4h0M75.2 565.8h0M43.8 552.4h0M20.3 577.6h0M19.1 558.7h0M17.9 542.8h0M18.1 527.9h0M61.0 545.5h0M60.4 574.6h0M14.3 574.3h0M65.3 566.2h0M13.8 527.7h0M69.4 566.8h0M58.1 538.9h0M6.2 536.6h0M77.3 527.5h0M60.5 575.5h0M73.6 562.6h0M31.5 527.1h0M52.0 588.5h0M59.8 575.3h0M55.5 554.1h0M46.9 546.4h0M64.5 529.4h0M20.8 526.2h0M9.3 527.1h0M50.8 561.0h0M47.6 559.7h0M22.2 535.5h0M26.2 565.3h0M61.4 538.7h0M60.7 578.0h0M32.4 542.8h0M15.1 536.9h0M66.0 560.3h0M29.5 528.7h0M70.9 544.9h0M79.0 550.3h0M39.5 589.1h0M41.0 567.9h0M74.3 547.5h0M11.4 530.4h0M48.0 536.5h0M11.6 553.7h0M35.4 548.3h0M57.7 549.7h0M66.9 530.2h0M32.0 586.7h0M20.3 555.5h0M44.1 529.8h0M43.6 560.7h0M9.4 580.7h0M18.5 544.4h0M12.6 585.4h0M36.3 530.0h0M77.6 537.5h0M46.5 567.4h0M21.9 565.1h0M66.0 581.6h0M52.5 561.7h0M23.4 530.8h0M52.3 525.6h0M32.6 545.6h0M23.8 526.3h0M71.9 558.2h0M31.9 574.1h0M18.5 552.9h0M59.4 541.8h0M57.3 585.8h0M55.1 561.5h0M76.1 545.0h0M53.2 525.3h0M78.5 531.3h0M51.5 565.6h0M65.9 591.1h0M74.8 540.1h0M72.2 572.9h0M72.5 586.2h0M77.9 544.4h0M62.0 544.6h0M77.2 573.1h0M13.1 536.6h0M48.3 546.5h0M60.7 547.8h0M76.0 529.2h0M53.5 588.1h0M47.8 568.7h0M12.3 531.2h0M36.6 547.2h0M53.1 585.9h0M77.2 534.3h0M11.9 562.2h0M57.9 548.7h0M72.1 533.5h0M59.2 532.9h0M15.1 560.2h0M26.6 554.9h0M54.5 586.4h0M33.0 539.2h0M37.0 580.4h0M66.5 556.3h0M11.8 555.2h0M27.3 547.5h0M48.7 527.9h0M57.0 583.8h0M19.6 545.9h0M6.8 527.0h0M37.6 525.6h0M15.1 582.9h0M13.9 554.2h0M77.9 567.1h0M9.2 561.1h0M23.7 590.2h0M65.2 574.1h0M7.2 587.0h0M63.4 560.8h0M35.1 581.5h0M31.7 546.4h0M66.8 556.8h0M25.2 576.2h0M15.0 550.1h0M24.7 574.7h0M74.1 561.2h0M66.6 583.5h0M71.7 588.5h0M64.8 572.7h0M64.2 587.6h0M48.3 571.8h0M59.0 547.2h0M66.4 531.4h0M52.9 583.5h0M36.1 544.5h0M60.8 531.2h0M33.5 541.3h0M53.1 553.6h0M42.6 558.6h0M73.5 528.9h0M65.1 546.0h0M31.3 573.3h0M52.2 532.0h0M47.6 565.6h0M25.9 538.9h0M22.9 531.9h0M76.2 567.5h0M31.2 531.2h0M52.7 585.3h0M20.9 531.8h0M74.0 556.1h0M54.7 527.1h0M79.3 550.0h0M41.8 566.3h0M26.1 544.4h0M57.6 531.0h0M43.5 590.5h0M55.7 574.1h0M43.8 526.4h0M7.9 532.8h0M31.4 556.6h0M79.4 585.5h0M20.6 583.2h0M74.9 580.9h0M58.1 553.1h0M75.2 562.9h0M39.1 582.7h0M41.7 586.9h0M6.0 587.0h0M69.1 526.0h0M28.3 539.6h0M14.0 544.1h0M70.9 560.2h0M66.9 559.5h0M69.5 580.1h0M17.8 535.4h0M74.1 554.5h0M23.0 581.1h0M29.6 564.2h0M10.4 580.6h0M65.6 527.6h0M22.7 579.1h0M7.2 550.1h0M69.0 581.9h0M61.2 548.8h0M55.0 529.8h0M57.3 551.7h0M67.5 570.1h0M57.9 549.5h0M43.1 588.1h0M18.9 562.7h0M56.5 576.3h0M64.2 581.9h0M15.0 549.8h0M35.5 555.0h0M78.9 560.4h0M36.2 557.8h0M56.3 564.3h0M61.2 566.0h0M14.0 573.4h0M34.0 563.7h0M7.2 555.8h0M76.0 554.3h0M61.7 561.8h0M74.6 540.1h0M66.7 565.5h0M27.3 536.1h0M65.5 561.1h0M32.5 574.4h0M57.5 558.5h0M74.6 584.0h0M12.6 558.8h0M54.1 536.2h0M24.4 543.7h0M70.2 567.5h0M62.6 551.0h0M74.6 583.3h0M74.2 540.0h0M51.8 548.1h0M51.1 560.6h0M40.8 567.4h0M23.1 588.5h0M17.0 541.8h0M32.7 547.9h0M74.3 554.4h0M23.9 587.0h0M57.8 529.5h0M29.9 588.0h0M68.4 527.1h0M79.5 549.6h0M25.0 549.1h0M34.1 545.3h0M40.7 537.3h0M14.3 545.2h0M15.3 553.7h0M76.0 532.7h0M42.6 582.6h0M36.5 572.0h0M72.4 540.7h0M8.4 558.2h0M43.4 550.5h0M26.3 538.3h0M30.0 553.2h0M62.9 590.0h0M27.6 559.4h0M53.1 527.7h0M28.9 526.3h0M32.0 583.5h0M52.9 570.7h0M6.6 547.0h0M10.4 526.4h0M71.6 561.5h0M50.3 574.4h0M71.8 576.0h0M53.5 529.9h0M37.6 564.7h0M73.3 557.1h0M25.0 583.8h0M47.7 560.5h0M39.8 543.0h0M25.3 530.3h0M7.5 569.0h0M73.4 546.1h0M28.3 586.0h0M25.3 567.6h0M43.6 543.3h0M54.2 581.0h0M25.1 550.1h0M78.4 575.1h0M29.6 586.0h0M71.3 577.8h0M7.7 560.2h0M69.9 560.6h0M72.0 572.6h0M75.9 542.6h0M62.8 562.1h0M23.9 573.4h0M33.7 586.7h0M16.9 568.1h0M64.7 549.3h0M67.4 537.0h0M31.1 565.6h0M15.3 569.0h0M41.0 539.6h0M68.9 565.1h0M60.9 551.7h0M28.2 568.4h0M64.3 544.5h0M11.7 527.8h0M6.8 553.2h0M12.6 580.0h0M23.9 565.5h0M6.7 533.8h0M59.5 590.8h0M63.2 547.8h0M39.4 578.9h0M34.0 591.1h0M41.0 574.6h0M55.8 582.3h0M61.0 571.1h0M63.3 557.2h0M44.7 574.9h0M40.1 580.3h0M70.2 548.4h0M57.9 563.1h0M57.0 585.5h0M16.4 580.9h0M52.4 540.1h0M40.9 561.6h0M49.1 529.3h0" stroke="#7040bc" stroke-width="2"/>
<path d="M67.7 544.3h0M35.9 546.9h0M69.7 570.1h0M76.2 536.2h0M32.3 527.6h0M24.6 583.8h0M55.6 554.0h0M63.4 586.9h0M21.3 549.8h0M21.0 574.9h0M45.8 534.0h0M24.5 537.6h0M63.3 573.0h0M61.0 578.1h0M38.8 588.0h0M68.7 581.1h0M58.4 559.9h0M59.8 562.9h0M29.6 546.9h0M33.6 549.4h0M47.1 540.6h0M32.7 557.2h0M61.3 586.8h0M77.5 579.0h0M44.7 570.8h0M9.0 559.4h0M28.0 540.4h0M58.8 583.6h0M10.0 527.7h0M15.1 536.8h0M16.8 581.3h0M41.5 577.0h0M43.1 527.9h0M75.1 562.6h0M53.0 558.3h0M56.7 578.0h0M20.3 580.8h0M7.0 574.4h0M25.9 586.0h0M67.5 542.8h0M59.3 538.9h0M17.0 552.5h0M49.2 536.8h0M78.9 554.6h0M7.9 542.5h0M52.0 535.4h0M27.4 546.0h0M46.6 562.8h0M17.0 566.5h0M55.4 536.8h0M10.7 581.8h0M21.9 580.1h0M44.9 563.1h0M79.5 561.2h0M62.1 527.1h0M68.1 567.4h0M13.5 583.6h0M29.8 539.0h0M21.3 570.2h0M74.3 562.2h0M62.5 562.3h0M40.3 590.4h0M61.1 536.0h0M24.2 528.2h0M25.6 536.3h0M17.8 542.3h0M56.9 532.2h0M40.8 559.6h0M77.0 566.6h0M44.7 543.1h0M47.0 571.2h0M76.2 572.6h0M13.9 554.0h0M21.3 576.8h0M17.8 552.7h0M8.9 562.4h0M38.4 544.9h0M28.0 535.9h0M57.4 548.5h0M8.4 577.2h0M62.7 526.3h0M68.1 556.6h0M79.4 539.2h0M7.0 526.5h0M55.4 588.5h0M55.6 569.8h0M73.2 545.9h0M64.9 561.1h0M9.8 566.3h0M67.3 576.3h0M59.2 549.0h0M80.5 529.4h0M50.1 590.7h0M21.2 526.5h0M32.7 548.2h0M20.2 571.2h0M40.2 558.2h0M64.3 539.7h0M62.9 566.7h0M70.7 534.2h0M10.2 570.9h0M57.9 536.1h0M76.8 537.8h0M9.3 536.9h0M78.8 557.9h0M62.2 537.4h0M79.6 551.6h0M54.7 572.7h0M34.0 536.9h0M30.3 577.1h0M67.2 548.7h0M66.0 526.8h0M47.4 555.2h0M68.6 580.5h0M78.1 555.5h0M16.8 541.0h0M26.6 561.1h0M25.7 532.5h0M73.8 554.1h0M15.3 590.1h0M64.3 528.1h0M48.3 571.5h0M27.5 543.3h0M36.9 532.3h0M10.1 528.8h0M77.8 564.4h0M51.3 557.9h0M65.8 542.6h0M41.4 573.3h0M25.4 548.6h0M28.6 559.2h0M34.6 532.8h0M72.5 554.6h0M69.1 533.1h0M57.8 561.2h0M74.9 549.4h0M35.5 549.5h0M44.6 569.5h0M20.3 537.6h0M45.5 584.2h0M75.5 580.0h0M7.7 591.1h0M63.9 582.1h0M35.4 568.8h0M57.1 548.9h0M44.1 582.3h0M45.9 539.7h0M23.4 545.3h0M76.1 543.1h0M61.1 587.1h0M27.9 552.6h0M12.5 561.6h0M23.0 578.4h0M74.6 589.2h0M61.0 526.8h0M24.7 533.7h0M49.8 530.3h0M20.3 546.5h0M54.9 545.4h0M42.9 586.6h0M34.8 568.1h0M22.2 568.0h0M44.3 590.1h0M55.7 562.4h0M79.4 550.3h0M37.4 552.6h0M44.6 544.1h0M39.6 586.1h0M57.5 535.9h0M79.0 578.9h0M26.8 525.3h0M72.0 570.5h0M46.2 573.4h0M65.4 535.5h0M52.7 529.7h0M74.1 531.0h0M53.3 564.6h0M38.5 564.9h0M65.4 561.3h0M66.6 572.0h0M5.5 533.2h0M43.5 530.3h0M32.5 557.2h0M15.3 563.3h0M78.9 539.5h0M80.4 568.7h0M79.1 584.1h0M78.1 568.0h0M30.3 536.7h0M15.3 565.1h0M67.2 576.1h0M76.6 563.0h0M78.7 559.6h0M26.6 590.3h0M19.8 581.4h0M20.4 560.1h0M11.1 544.3h0M57.7 539.5h0M8.0 562.6h0M73.6 538.0h0M70.7 529.2h0M41.9 544.4h0M42.9 527.1h0M26.9 550.1h0M58.8 552.6h0M47.6 571.0h0M11.2 580.3h0M8.5 574.2h0M76.5 552.7h0M72.8 555.4h0M47.6 561.6h0M7.4 539.7h0M66.7 569.5h0M53.6 572.4h0M74.2 584.5h0M18.2 578.4h0M80.2 566.6h0M23.5 537.6h0M59.5 539.9h0M50.8 563.0h0M36.3 526.2h0M12.3 528.6h0M56.2 557.7h0M29.9 564.3h0M21.0 573.6h0M6.1 535.5h0M45.4 580.4h0M42.6 564.5h0M13.8 558.4h0M64.8 585.2h0M30.9 564.9h0M73.1 549.3h0M39.3 590.3h0M74.3 589.1h0M63.4 532.6h0M52.7 530.4h0M57.4 548.2h0M35.2 535.3h0M76.1 567.2h0M35.6 560.8h0M10.3 586.2h0M33.4 581.4h0M73.9 526.6h0M72.7 579.3h0M79.9 528.3h0M31.7 526.8h0M80.0 589.2h0M80.5 573.9h0M50.7 538.7h0M59.3 538.9h0M5.9 546.4h0M14.0 531.6h0M11.6 587.0h0M19.7 530.2h0M73.9 585.8h0M17.5 557.1h0M48.1 541.8h0M24.7 526.2h0M64.7 554.7h0M55.0 542.0h0M40.0 565.3h0M45.4 575.4h0M64.4 546.2h0M7.8 537.6h0M59.5 565.0h0M46.3 543.7h0M43.5 589.5h0M62.5 566.3h0M46.7 590.4h0M75.5 581.2h0M40.6 560.2h0M28.8 565.3h0M19.5 562.7h0M61.4 577.2h0M57.9 529.2h0M26.0 526.3h0M30.1 533.9h0M28.1 555.7h0M49.2 530.6h0M72.0 553.2h0M72.6 564.4h0M22.1 539.2h0M79.5 589.3h0M53.1 544.3h0M26.6 590.9h0M11.9 579.9h0M23.2 528.0h0M77.2 549.1h0M61.3 540.4h0M78.0 581.7h0M25.2 553.0h0M40.0 530.4h0M78.7 525.8h0M77.0 545.7h0M44.3 561.5h0M30.7 589.2h0M8.8 556.3h0M34.9 539.8h0M38.3 533.1h0M33.7 549.4h0M18.9 587.1h0M38.1 564.1h0M29.4 582.1h0M26.5 590.0h0M72.3 542.0h0M40.7 542.9h0M72.2 557.5h0M65.6 576.3h0M72.5 554.3h0M11.0 528.4h0M39.0 579.5h0M54.0 588.3h0M50.6 542.5h0M47.0 536.1h0M77.4 537.3h0M30.1 575.2h0M80.1 585.8h0M33.4 556.5h0M49.9 570.8h0M54.2 579.5h0M25.7 541.9h0M14.5 539.1h0M57.2 574.2h0M16.6 548.5h0M24.0 543.4h0M34.6 570.5h0M29.7 533.7h0M68.3 536.4h0M67.3 528.0h0M20.2 534.7h0M79.7 590.4h0M15.4 525.9h0M19.1 551.4h0M17.3 529.0h0M78.5 556.4h0M47.0 580.3h0M74.5 588.3h0M48.9 588.3h0M79.9 558.2h0M20.9 589.3h0M48.0 576.6h0M29.3 547.6h0M62.4 534.7h0M15.0 559.4h0M75.3 538.8h0M63.1 543.9h0M22.8 571.7h0M76.4 535.5h0M42.6 547.3h0M33.2 590.2h0M32.7 549.4h0M12.6 556.4h0M65.2 530.4h0M73.6 549.0h0M71.3 543.7h0M64.0 545.2h0M5.6 563.7h0M72.9 545.7h0M30.9 548.0h0M77.5 526.3h0M46.6 565.5h0M59.6 553.5h0M73.8 538.9h0M75.2 536.4h0M44.9 583.0h0M61.5 537.0h0M6.6 589.3h0M23.9 564.9h0M79.2 568.7h0M44.2 535.2h0M19.6 566.5h0M57.9 534.9h0M61.4 538.7h0M41.4 536.4h0M17.3 539.2h0M36.4 547.5h0M18.9 551.8h0M27.8 528.1h0M14.7 556.2h0M56.7 589.5h0M11.9 538.1h0M71.9 530.7h0M63.3 580.2h0M41.8 571.8h0M68.7 564.7h0M9.0 551.7h0M15.5 543.5h0M11.0 591.1h0M50.0 561.4h0M46.7 547.0h0M73.6 565.1h0M62.2 550.0h0M72.2 554.0h0M55.6 553.0h0M69.7 539.1h0M45.1 541.6h0M39.3 586.6h0M65.1 541.1h0M19.6 540.7h0M16.0 525.8h0M51.7 585.1h0M65.9 535.3h0M57.2 566.1h0M46.0 539.1h0M17.3 558.7h0M71.8 544.5h0M38.9 585.6h0M75.5 577.7h0M34.6 555.6h0M31.7 533.7h0M76.1 575.5h0M75.9 562.4h0M21.0 546.5h0M25.4 543.3h0M13.3 561.9h0M73.8 532.5h0M75.0 530.7h0M71.4 534.6h0M13.5 582.3h0M48.2 548.9h0M53.1 587.3h0M52.5 543.7h0M49.6 564.6h0M61.8 589.2h0M53.7 560.2h0M73.5 530.1h0M74.8 563.0h0M33.1 544.0h0M67.6 526.7h0M65.9 537.8h0M63.5 557.9h0M21.0 540.6h0M55.3 578.9h0M20.1 553.7h0M62.3 541.5h0M14.2 534.4h0M55.7 568.4h0M26.7 581.4h0M60.4 579.9h0M42.1 533.4h0M37.3 570.1h0M23.6 538.4h0M48.3 576.0h0M38.9 532.9h0M13.4 559.0h0M29.2 548.8h0M31.2 533.7h0M74.3 570.0h0M61.8 578.5h0M54.1 582.7h0M69.1 534.9h0M49.5 548.1h0M36.1 539.4h0M50.5 526.9h0M61.8 567.7h0M19.9 535.0h0M56.8 555.7h0M11.5 587.8h0M42.1 533.0h0M30.8 525.4h0M9.4 553.8h0M50.3 538.8h0M63.3 534.8h0M13.7 553.3h0M32.2 552.2h0M13.8 560.0h0M58.1 527.6h0M61.4 555.3h0M62.1 530.3h0M41.5 536.6h0M31.8 534.4h0M38.2 533.5h0M22.4 562.7h0M59.4 564.7h0M30.7 575.3h0M61.9 553.3h0M12.0 544.6h0M65.3 577.0h0M62.8 553.6h0M32.2 526.1h0M34.5 542.0h0M37.8 545.6h0M37.0 540.7h0M30.5 566.1h0M52.1 575.8h0M71.6 578.8h0M42.5 577.2h0M14.6 550.4h0M9.6 551.9h0M56.7 574.9h0M59.2 528.5h0M75.0 539.5h0M75.6 575.8h0M37.6 551.7h0M64.4 559.5h0M41.5 540.8h0M34.4 589.6h0M32.2 539.9h0M24.1 558.9h0M40.7 580.3h0M50.2 586.6h0M10.2 571.6h0M21.5 533.9h0M11.0 587.6h0M29.2 528.8h0M70.8 554.2h0M53.3 552.1h0M24.0 535.0h0M25.5 538.7h0M13.4 579.4h0M19.8 588.1h0M75.0 552.2h0M55.1 580.5h0M28.0 539.2h0M25.1 584.4h0M34.7 551.9h0M22.7 582.5h0M71.3 550.2h0M51.9 562.6h0M74.2 552.8h0M16.4 587.2h0M15.8 572.9h0M65.9 553.3h0M59.4 582.9h0M13.9 556.9h0M65.1 547.7h0M11.9 543.3h0M25.4 539.1h0M59.8 533.3h0M62.3 541.4h0M11.0 582.9h0M39.2 555.0h0M62.3 531.9h0M35.0 589.1h0M13.2 544.2h0M73.7 533.9h0M64.8 557.4h0M80.4 578.2h0M65.5 536.5h0M36.0 588.9h0M66.5 544.6h0M70.9 590.5h0M44.7 555.7h0M34.8 556.9h0M12.4 526.5h0M55.6 563.1h0M49.1 569.2h0M65.4 539.6h0M49.3 588.0h0M65.7 565.2h0M6.5 551.4h0M50.1 576.3h0M79.3 550.7h0M60.3 554.3h0M68.1 538.6h0M48.7 570.9h0M7.9 541.3h0M70.5 565.9h0M57.6 583.2h0M15.3 577.2h0M48.4 567.7h0M26.5 533.1h0M45.4 529.3h0M79.5 566.9h0M10.9 550.2h0M22.2 535.1h0M30.9 590.2h0M58.6 549.2h0M10.0 590.1h0M61.0 546.5h0M21.6 528.5h0M61.5 525.6h0M20.9 583.4h0M32.6 540.1h0M23.1 528.5h0M69.1 544.7h0M38.8 528.4h0M43.8 581.6h0M71.6 546.9h0M57.8 574.0h0M23.0 580.6h0M12.6 538.1h0M73.9 535.9h0M63.9 562.7h0M77.5 537.3h0M71.9 579.7h0M71.0 537.4h0M42.6 525.5h0M70.9 589.6h0M44.3 532.6h0M75.4 545.6h0M66.7 555.2h0M59.0 536.9h0M22.8 529.4h0M67.9 574.6h0M14.1 559.1h0M52.7 581.7h0M75.6 531.7h0M71.3 536.9h0M77.2 550.7h0M21.3 559.0h0M52.5 534.6h0M7.3 589.7h0M42.3 562.6h0M20.8 528.5h0M21.8 527.7h0M41.5 553.4h0M58.3 528.5h0M44.5 540.6h0M79.8 580.1h0M11.0 586.3h0M55.9 583.4h0M11.9 569.9h0M66.1 584.4h0M58.4 528.4h0M55.0 585.8h0M39.2 589.3h0M70.8 532.6h0M64.8 531.4h0M10.5 554.8h0M65.0 528.9h0M6.1 582.1h0M8.0 566.1h0M77.5 578.2h0M64.0 584.0h0M58.9 566.0h0M39.9 527.7h0M49.9 535.5h0M36.2 534.6h0M39.2 585.4h0M24.3 526.1h0M30.1 569.1h0M18.0 572.8h0M50.1 549.7h0M74.1 562.8h0M68.8 532.4h0M45.4 528.8h0M11.4 560.9h0M34.5 537.9h0M14.4 569.7h0M70.9 541.3h0M70.6 559.2h0M32.2 560.5h0M70.9 553.3h0M13.2 559.1h0M79.3 530.1h0M11.4 538.5h0M63.0 547.7h0M24.1 528.5h0M23.9 540.5h0M69.8 583.0h0M7.2 571.9h0M47.7 581.6h0M43.9 588.0h0M53.4 534.4h0M76.2 561.7h0M39.9 587.5h0M21.4 528.2h0M7.4 557.6h0M24.8 590.1h0M27.6 567.4h0M18.4 547.3h0M67.1 564.1h0M47.8 590.0h0M14.0 527.7h0M22.9 550.1h0M38.4 576.1h0M64.7 575.7h0M72.8 526.1h0M50.7 528.9h0M38.0 564.6h0M71.3 544.7h0M64.6 549.8h0M12.9 588.7h0M40.8 536.1h0M31.9 537.5h0M32.1 567.5h0M80.0 580.9h0M39.6 573.7h0M72.3 589.1h0M29.7 589.1h0M60.8 578.1h0M11.4 569.4h0M33.8 564.2h0M61.2 589.6h0M72.8 546.4h0M57.6 565.1h0M50.6 540.3h0M45.0 586.7h0M23.0 568.7h0M66.4 562.6h0M15.7 548.8h0M17.4 532.4h0M79.3 579.0h0M50.2 530.5h0M61.7 549.5h0M13.8 533.7h0M19.7 538.0h0M22.2 525.5h0M36.4 568.2h0M11.0 554.3h0M77.2 573.6h0M43.3 559.8h0M32.6 541.7h0M58.3 557.3h0M11.8 566.9h0M69.0 555.5h0M25.8 585.1h0M27.9 587.2h0M10.0 544.2h0M18.7 541.9h0M77.5 564.6h0M72.6 588.7h0M70.3 553.3h0M24.6 574.3h0M29.2 554.5h0M66.9 525.3h0M72.8 576.3h0M22.0 552.4h0M9.4 571.3h0M70.0 545.6h0M5.9 537.2h0M31.3 541.7h0M10.2 537.4h0M15.7 580.5h0M12.1 582.4h0M39.1 563.5h0M45.4 571.2h0M70.2 559.3h0M30.3 587.7h0M14.5 590.2h0M48.6 549.1h0M29.7 586.8h0M58.9 565.7h0M73.5 585.8h0M9.1 573.1h0M70.5 557.4h0M26.2 561.8h0M9.1 539.3h0M40.8 568.4h0M73.7 586.0h0M20.4 548.0h0M54.1 530.4h0M23.2 532.3h0M55.7 574.3h0M37.7 549.2h0M49.1 534.2h0M43.1 575.4h0M77.4 572.9h0M43.1 536.5h0M28.7 556.6h0M7.1 591.0h0M31.1 544.3h0M68.6 586.7h0M50.8 583.6h0M34.2 587.7h0M13.3 585.5h0M57.2 546.6h0M35.0 578.6h0M38.5 576.3h0M64.6 561.8h0M52.0 548.8h0M20.9 527.5h0M15.8 527.2h0M13.2 539.6h0M28.6 532.2h0M22.8 568.2h0M37.6 541.9h0M80.4 542.2h0M51.7 528.9h0M22.6 538.6h0M34.1 584.6h0M71.8 553.7h0M49.0 591.1h0M56.6 579.6h0M14.8 591.1h0M74.6 556.5h0M45.5 544.7h0M72.3 584.7h0M54.7 569.1h0M65.7 583.7h0M40.5 535.2h0M11.0 582.5h0M70.6 527.6h0M31.8 534.3h0M24.2 575.1h0M20.3 530.0h0M77.8 525.6h0M43.2 559.3h0M28.6 541.4h0M14.6 540.6h0M18.8 533.9h0M6.1 564.9h0M16.2 574.1h0M46.6 583.6h0M13.7 547.2h0M72.1 540.9h0M7.2 539.9h0M74.7 563.9h0M53.3 535.1h0M52.0 587.7h0M24.5 530.9h0M32.0 545.9h0M55.9 565.1h0M55.6 568.6h0M31.5 586.8h0M73.8 542.4h0M77.8 567.4h0M6.2 551.2h0M48.0 589.8h0M75.2 586.2h0M71.9 572.1h0M15.0 571.7h0M18.2 555.4h0M79.6 528.1h0M66.9 554.7h0M58.4 527.9h0M32.7 590.6h0M75.2 552.7h0M45.2 531.1h0M22.3 543.6h0M52.7 545.4h0M23.8 583.2h0M45.7 555.1h0M56.8 575.8h0M57.6 583.0h0M40.8 555.8h0M51.1 542.6h0M75.2 544.2h0M15.0 542.5h0M67.9 538.2h0M19.6 555.1h0M42.6 583.7h0M27.7 569.7h0M39.0 553.4h0M26.2 542.4h0M30.9 562.7h0M59.6 583.1h0M68.1 555.8h0M72.7 538.3h0M61.5 531.4h0M37.6 528.6h0M36.9 562.1h0M50.4 589.2h0M9.7 553.4h0M46.5 541.7h0M36.5 541.3h0M15.9 585.4h0M21.4 548.6h0M52.8 572.9h0M20.2 569.7h0M18.5 528.4h0M31.7 545.2h0M39.8 580.9h0M7.6 562.8h0M80.2 526.2h0M30.9 549.9h0M8.9 556.1h0M78.4 584.4h0M32.0 589.4h0M35.5 565.4h0M68.8 531.2h0M73.9 527.1h0M19.4 578.5h0M13.4 569.1h0M69.0 529.2h0M11.7 554.8h0M64.8 551.6h0M25.0 570.8h0M58.4 532.8h0M68.6 554.0h0M33.8 548.0h0M38.3 534.6h0M11.2 534.6h0M36.7 534.8h0M49.1 562.6h0M58.4 560.3h0M70.2 562.8h0M42.9 528.3h0M72.0 551.1h0M24.0 565.1h0M70.7 552.4h0M65.3 539.7h0M17.3 576.1h0M80.2 584.9h0M73.9 555.1h0M73.5 526.7h0M20.5 529.8h0M37.0 542.7h0M38.5 541.3h0M37.2 528.1h0M59.1 560.0h0M77.4 544.8h0M47.9 574.3h0M70.4 561.5h0M34.3 572.6h0M75.7 549.7h0M13.3 569.7h0M8.4 586.3h0M38.4 542.7h0M10.7 532.7h0M23.9 545.9h0M36.2 580.6h0M34.1 540.2h0M42.4 590.1h0M11.0 584.2h0M29.3 545.3h0M34.4 539.2h0M9.5 531.9h0M41.1 591.1h0M62.4 562.4h0M47.7 568.3h0M36.8 587.9h0M52.1 588.1h0M15.4 525.9h0M22.8 557.3h0M73.3 562.7h0M77.6 544.8h0M26.7 584.6h0M14.1 561.2h0M14.2 589.6h0M15.6 582.3h0M68.9 550.1h0M11.1 529.1h0M76.7 542.9h0M32.9 527.0h0M32.6 587.1h0M11.1 536.6h0M79.9 526.6h0M63.7 580.8h0M26.8 546.6h0M65.3 557.4h0M61.9 577.7h0M9.1 555.0h0M40.3 584.2h0M77.2 551.2h0M23.7 568.2h0M77.7 533.4h0M15.3 527.3h0M36.4 564.8h0M10.1 533.5h0M51.4 544.0h0M31.0 582.4h0M22.2 577.5h0M51.4 586.1h0M31.3 548.2h0M20.1 529.0h0M78.4 527.5h0M62.7 577.5h0M58.6 581.4h0M6.8 562.1h0M67.3 538.2h0M16.8 532.6h0M66.7 556.5h0M30.1 525.8h0M5.7 589.5h0M25.0 586.4h0M7.6 568.9h0M39.1 545.6h0M36.7 573.9h0M26.6 590.8h0M77.6 572.3h0M55.5 579.8h0M75.4 566.9h0M78.0 564.1h0M44.2 550.6h0M17.8 550.9h0M54.5 534.4h0M33.6 529.8h0M68.6 584.7h0M22.4 585.3h0M66.7 536.8h0M15.2 527.1h0M44.1 582.7h0M73.4 529.1h0M48.2 525.2h0M14.3 556.3h0M7.0 550.8h0M33.5 534.7h0M14.3 561.4h0M39.2 584.2h0M34.4 527.4h0M9.7 532.9h0M73.4 547.5h0M19.1 534.4h0M32.1 544.1h0M20.4 565.0h0M52.7 537.1h0M20.2 579.8h0M28.1 533.5h0M26.0 570.1h0M24.1 581.5h0M47.0 570.3h0M28.6 552.2h0M61.9 532.6h0M64.8 559.9h0M49.5 526.9h0M67.5 554.1h0M24.2 574.6h0M62.4 543.9h0M47.7 544.0h0M26.2 537.9h0M9.8 573.2h0M36.6 583.6h0M14.5 583.4h0M74.0 563.3h0M63.9 542.8h0M73.6 530.9h0M75.1 557.2h0M70.2 532.5h0M25.6 576.7h0M75.4 583.7h0M18.6 553.5h0M44.2 557.2h0M70.6 553.6h0M34.9 530.8h0M24.8 588.3h0M62.1 526.6h0M35.1 582.8h0M46.3 559.1h0M74.0 587.6h0M76.0 544.7h0M10.6 544.5h0M71.1 526.5h0M7.3 537.2h0M23.2 532.9h0M71.2 543.0h0M12.3 525.4h0M37.9 572.2h0M50.7 526.9h0M59.5 536.7h0M64.6 580.9h0M61.6 534.7h0M37.0 557.5h0M8.8 551.0h0M6.0 539.0h0M29.0 574.8h0M44.4 531.8h0M21.5 532.0h0M24.5 541.1h0M19.9 574.3h0M51.9 553.7h0M15.9 535.8h0M41.7 527.4h0M37.9 529.4h0M49.8 552.6h0M68.1 540.9h0M61.5 529.6h0M63.4 552.6h0M75.4 582.0h0M13.3 543.2h0M69.9 555.1h0M42.6 568.7h0M27.5 527.4h0M13.4 584.4h0M23.7 530.2h0M75.1 535.6h0M20.4 552.8h0M48.3 533.3h0M45.8 558.1h0M34.1 546.7h0M79.7 554.5h0M10.5 534.4h0M47.1 567.1h0M67.2 590.2h0M69.1 559.4h0M65.9 533.6h0M30.0 588.1h0M78.5 577.9h0M29.4 542.8h0M44.3 566.2h0M74.0 527.6h0M37.6 587.8h0M40.3 555.0h0M24.7 541.6h0M49.3 561.1h0M69.7 540.9h0M51.4 576.5h0M10.9 534.5h0M72.7 537.0h0M70.1 570.2h0M76.2 576.5h0M13.2 584.7h0M63.5 539.5h0M59.1 545.7h0M62.5 552.1h0M31.9 543.6h0M8.4 547.5h0M32.3 571.1h0M37.8 578.7h0M36.4 546.1h0M68.8 527.7h0M14.5 553.4h0M54.3 577.9h0M47.4 573.9h0M75.6 581.3h0M55.3 547.4h0M50.6 586.7h0M49.4 562.5h0M40.9 582.7h0M67.2 556.5h0M71.7 538.2h0M67.7 526.2h0M70.2 575.0h0M77.1 555.2h0M47.7 549.7h0M68.2 538.2h0M8.3 574.5h0M58.2 564.0h0M66.3 525.3h0M25.2 550.8h0M73.2 546.1h0M8.3 531.3h0M62.0 534.8h0M17.8 559.1h0M12.1 533.0h0M33.7 564.1h0M74.0 585.1h0M76.7 570.3h0M62.0 532.7h0M64.8 548.4h0M8.3 560.5h0M75.5 583.6h0M70.9 574.5h0M11.5 582.2h0M66.4 552.7h0M28.4 527.4h0M36.0 538.4h0M38.1 528.6h0M39.8 565.1h0M20.6 546.4h0M12.5 585.1h0M50.7 555.2h0M19.9 582.9h0M19.7 569.4h0M28.9 544.4h0M57.1 572.0h0M15.8 534.6h0M24.0 539.6h0M73.9 567.5h0M69.6 544.8h0M77.0 569.0h0M47.5 570.2h0M75.3 541.4h0M71.3 549.4h0M60.5 542.8h0M51.1 583.5h0M24.1 587.6h0M14.8 528.3h0M56.9 570.9h0M58.2 586.5h0M76.3 537.6h0M33.5 577.5h0M19.2 583.6h0M68.1 560.5h0M8.7 545.2h0M13.7 540.1h0M27.0 551.9h0M24.5 531.3h0M49.4 559.4h0M72.1 568.0h0M71.4 546.2h0M66.4 569.5h0M54.9 545.1h0M72.9 564.2h0M18.1 527.1h0M49.8 586.8h0M76.3 537.4h0M62.2 570.7h0M46.4 568.2h0M62.6 583.9h0M17.8 527.4h0M22.6 576.9h0M58.8 557.1h0M27.6 535.6h0M9.9 562.8h0M49.2 529.0h0M79.2 587.0h0M6.1 574.4h0M73.3 533.3h0M35.5 548.2h0M75.8 549.4h0M62.9 561.5h0M63.4 559.5h0M59.3 536.7h0M10.2 533.0h0M47.4 546.5h0M35.0 532.7h0M29.5 549.1h0M44.9 527.1h0M76.4 587.3h0M29.0 545.8h0M23.4 556.6h0M49.6 552.8h0M56.1 577.3h0M50.9 564.2h0M72.7 568.4h0M62.3 585.6h0M40.9 588.5h0M62.7 576.3h0M27.0 575.1h0M68.3 532.3h0M46.4 528.8h0M67.1 554.3h0M42.7 532.1h0M24.9 525.5h0M68.1 591.1h0M48.3 568.5h0M56.1 552.0h0M30.1 589.4h0M53.8 572.9h0M17.6 587.0h0M34.4 585.5h0M57.7 559.7h0M15.9 577.1h0M59.4 589.5h0M65.4 528.3h0M20.2 580.5h0M39.6 588.4h0M23.2 544.4h0M72.4 545.4h0M72.6 591.0h0M58.0 549.9h0M23.9 525.4h0M25.9 532.3h0M24.8 551.7h0M74.6 536.4h0M8.8 572.7h0M75.6 555.6h0M36.8 558.7h0M45.0 544.9h0M60.8 556.9h0M63.4 552.1h0M63.1 547.7h0M70.9 552.8h0M55.6 570.7h0M57.5 589.3h0M33.7 559.2h0M12.1 571.1h0M53.2 573.9h0M68.0 587.0h0M7.0 571.6h0M67.7 580.8h0M38.3 562.1h0M68.1 556.3h0M76.9 581.0h0M69.3 531.9h0M62.5 568.0h0M46.3 546.4h0M55.1 561.9h0M31.1 551.2h0M40.1 569.3h0M64.6 525.9h0M35.9 582.5h0M36.4 527.3h0M5.6 591.0h0M13.5 557.2h0M66.6 585.8h0M15.5 528.1h0M22.4 553.9h0M24.6 566.4h0M7.0 556.3h0M12.6 532.7h0M22.3 546.0h0M78.2 579.5h0M72.3 572.3h0M9.8 544.9h0M63.4 574.5h0M15.9 582.5h0M31.5 571.4h0M59.5 544.4h0M34.6 590.2h0M77.2 589.4h0M77.1 576.2h0M10.2 584.5h0M30.3 551.3h0M77.7 534.4h0M39.6 582.6h0M64.9 554.6h0M24.4 589.0h0M66.8 528.5h0M44.1 589.9h0M62.3 563.1h0M26.2 551.3h0M61.9 539.3h0M38.3 589.4h0M67.5 576.7h0M50.8 551.6h0M31.7 530.8h0M64.9 530.3h0M20.8 575.8h0M63.6 552.8h0M39.2 536.5h0M52.5 550.3h0M7.6 530.6h0M28.9 544.4h0M74.4 576.0h0M42.1 535.0h0M53.0 528.6h0M6.6 541.7h0M61.2 538.8h0M73.7 575.0h0M71.0 536.7h0M56.5 568.3h0M78.2 537.1h0M5.9 574.5h0M21.7 533.5h0M15.6 569.8h0M67.8 529.5h0M8.9 566.9h0M38.1 544.5h0M43.8 551.8h0M66.7 537.1h0M25.2 553.5h0M50.2 583.6h0M28.3 585.9h0M65.9 552.8h0M53.3 541.7h0M72.6 553.1h0M14.7 560.5h0M78.9 542.0h0M24.3 552.4h0M35.2 547.5h0M52.1 548.4h0M8.8 563.0h0M20.8 536.3h0M15.8 552.3h0M32.8 570.1h0M63.8 527.8h0M7.9 529.2h0M43.2 584.1h0M69.0 549.6h0M77.6 577.6h0M58.3 535.6h0M68.3 582.7h0M56.0 565.9h0M26.5 577.8h0M32.9 527.9h0M56.2 574.6h0M11.1 532.5h0M6.4 527.5h0M73.4 575.5h0M15.5 536.0h0M76.6 549.1h0M13.4 534.1h0M21.3 540.6h0M57.3 549.7h0" stroke="#4a1c9c" stroke-width="1.8"/>
<path d="M79.8 562.8h0M32.2 525.3h0M29.7 573.4h0M41.4 569.1h0M79.4 545.8h0M12.7 555.5h0M32.1 559.4h0M17.4 565.8h0M23.8 549.4h0M30.3 540.5h0M24.2 578.7h0M13.0 576.6h0M31.3 570.9h0M59.8 567.4h0M49.0 571.4h0M17.0 584.5h0M33.6 562.8h0M72.6 582.9h0M25.7 531.7h0M13.9 563.3h0M13.3 525.7h0M49.9 532.7h0M76.5 540.8h0M56.3 535.7h0M29.4 535.4h0M71.7 535.4h0M35.4 539.7h0M60.8 586.7h0M28.6 542.5h0M27.3 561.9h0M70.8 576.5h0M77.2 584.3h0M78.1 579.8h0M57.2 541.5h0M55.2 578.2h0M29.2 583.1h0M72.7 579.4h0M67.1 587.4h0M60.0 541.3h0M67.2 539.3h0M48.7 556.1h0M52.9 564.0h0M48.6 581.2h0M57.4 551.6h0M66.3 546.5h0M49.6 535.9h0M67.5 565.7h0M22.9 539.2h0M59.8 529.8h0M63.4 553.3h0M76.9 528.2h0M31.2 549.8h0M40.1 534.7h0M51.0 539.2h0M31.1 552.4h0M74.4 527.7h0M6.4 535.0h0M36.0 586.2h0M32.4 587.2h0M67.6 553.0h0M78.6 547.8h0M73.0 552.1h0M29.1 572.7h0M47.8 532.0h0M55.1 530.2h0M6.4 554.6h0M71.7 582.6h0M16.5 543.6h0M58.4 576.1h0M15.8 527.3h0M30.0 542.4h0M58.8 569.2h0M58.0 526.1h0M14.0 567.3h0M49.3 553.7h0M15.1 550.2h0M31.6 541.4h0M28.7 569.6h0M7.1 534.8h0M35.9 555.9h0M47.4 573.5h0M49.4 585.4h0M25.0 532.1h0M67.3 564.9h0M35.6 587.3h0M69.0 534.8h0M58.4 539.6h0M46.8 589.5h0M77.7 546.5h0M35.2 540.4h0M53.9 554.2h0M33.2 571.4h0M26.4 553.3h0M54.9 591.2h0M63.7 557.6h0M15.0 552.0h0M68.3 560.7h0M53.2 569.6h0M10.4 533.2h0M59.6 551.1h0M27.8 549.9h0M12.7 546.5h0M21.9 526.2h0M25.8 539.8h0M22.7 536.6h0M65.7 582.7h0M34.7 555.6h0M26.9 558.2h0M33.6 526.6h0M52.2 583.9h0M21.6 546.2h0M59.5 561.5h0M65.5 574.9h0M17.9 537.5h0M30.3 539.4h0M48.2 555.2h0M77.4 587.4h0M31.5 572.3h0M22.5 564.9h0M44.2 574.5h0M5.7 552.6h0M56.4 529.4h0M60.3 587.9h0M10.6 545.8h0M48.2 529.1h0M18.2 577.4h0M14.9 528.4h0M46.4 549.2h0M61.9 527.1h0M25.5 536.3h0M59.3 550.2h0M23.9 531.5h0M63.5 578.6h0M20.7 570.1h0M20.5 580.6h0M48.3 540.5h0M35.6 527.2h0M65.6 548.9h0M49.0 548.6h0M55.4 582.1h0M77.6 549.2h0M17.4 527.1h0M51.4 537.7h0M68.2 538.0h0M12.5 543.9h0M75.1 575.9h0M22.0 525.6h0M67.0 588.9h0M12.5 527.9h0M65.9 574.0h0M46.9 589.9h0M36.5 527.8h0M23.7 574.8h0M14.9 578.6h0M32.4 589.3h0M43.6 569.1h0M80.3 539.0h0M46.9 535.1h0M51.9 530.8h0M73.0 581.0h0M47.8 546.5h0M77.5 544.1h0M54.4 559.5h0M7.8 540.1h0M44.6 590.7h0M21.3 534.4h0M79.9 583.7h0M80.5 574.7h0M24.5 559.9h0M68.3 550.0h0M64.7 557.6h0M64.9 576.4h0M53.1 551.1h0M31.1 529.8h0M25.4 537.9h0M45.1 544.7h0M24.7 541.1h0M75.8 572.0h0M56.8 547.8h0M15.2 528.3h0M18.2 537.0h0M35.8 589.9h0M77.7 536.2h0M70.5 566.4h0M8.9 589.3h0" stroke="#280a6c" stroke-width="2.2"/>
</g>
<clipPath id="c10"><rect x="81.2" y="526.2" width="74.4" height="64"/></clipPath>
<g clip-path="url(#c10)" stroke-linecap="round" fill="none">
<rect x="81.2" y="526.2" width="74.4" height="64" fill="#ffffff"/>
<path d="M152.5 532.6h0M90.5 545.8h0M92.7 571.2h0M93.3 579.0h0M112.2 564.5h0M107.4 549.2h0M131.7 532.7h0M113.1 559.5h0M112.8 550.8h0M88.0 561.5h0M133.4 527.6h0M106.5 567.2h0M115.3 539.0h0M108.0 537.7h0M149.9 525.6h0M139.1 547.8h0M155.4 591.1h0M143.8 567.4h0M120.5 556.7h0M133.4 571.7h0M102.0 542.0h0M112.3 541.1h0M155.0 562.2h0M140.5 563.5h0M121.1 577.3h0M87.7 548.5h0M151.6 570.7h0M127.7 533.4h0M133.7 551.2h0M111.3 546.6h0M91.0 531.2h0M151.6 549.3h0M117.5 554.5h0M131.2 547.7h0M105.2 587.5h0M107.7 543.7h0M118.5 571.3h0M143.7 540.2h0M138.4 551.3h0M130.9 589.4h0M104.8 558.2h0M103.7 534.2h0M121.8 541.8h0M148.7 546.4h0M140.1 552.4h0M100.3 552.1h0M109.6 551.6h0M93.2 538.7h0M154.4 559.7h0M107.6 573.7h0M96.3 583.3h0M103.8 526.1h0M92.7 572.4h0M94.7 537.3h0M146.1 565.3h0M132.5 560.6h0M118.8 567.1h0M128.6 550.8h0M119.7 572.4h0M112.8 552.0h0M137.8 580.6h0M85.0 532.3h0M84.5 525.8h0M88.8 570.4h0M152.8 527.1h0M151.0 556.6h0M138.0 553.2h0M104.3 541.2h0M138.7 586.8h0M131.3 526.0h0M138.1 547.6h0M146.1 590.5h0M95.1 566.4h0M107.8 540.4h0M127.0 533.6h0M153.0 574.4h0M112.2 532.0h0M128.5 536.6h0M125.7 563.3h0M105.4 558.4h0M93.4 551.6h0M104.8 549.4h0M151.9 544.8h0M130.4 551.4h0M129.7 530.1h0M155.8 569.7h0M98.0 538.2h0M128.9 564.1h0M110.1 555.9h0M134.8 574.8h0M120.4 573.1h0M107.3 545.4h0M148.2 577.3h0M154.1 584.8h0M144.1 553.0h0M100.0 552.5h0M84.1 532.9h0M109.2 557.6h0M151.5 534.8h0M120.6 549.4h0M149.8 575.7h0M140.7 542.4h0M129.4 554.0h0M117.9 548.9h0M108.7 584.6h0M141.0 560.0h0M155.9 539.7h0M141.3 574.5h0M129.9 549.2h0M86.5 533.3h0M154.9 539.9h0M130.7 543.8h0M113.3 536.4h0M127.7 548.8h0M117.6 552.6h0M123.5 560.8h0M155.6 584.9h0M130.7 571.8h0M89.5 588.5h0M113.6 585.4h0M130.6 556.9h0M97.0 529.7h0M119.5 569.7h0M144.8 569.9h0M93.1 556.3h0M92.0 538.5h0M93.6 566.4h0M155.7 570.4h0M113.4 551.0h0M129.9 534.7h0M93.0 546.6h0M117.2 583.9h0M133.2 561.9h0M91.4 543.4h0M99.1 581.9h0M86.2 536.0h0M89.8 538.4h0M146.1 537.3h0M90.9 544.9h0M121.1 531.0h0M91.7 530.5h0M89.3 568.6h0M116.6 525.5h0M92.2 554.6h0M137.1 579.7h0M103.0 573.2h0M146.9 546.0h0M104.1 572.3h0M90.5 529.6h0M127.8 590.5h0M115.5 548.7h0M106.5 532.3h0M100.5 529.1h0M142.4 573.9h0M121.1 531.0h0M154.1 566.3h0M86.4 574.7h0M116.7 534.2h0M118.2 553.4h0M91.7 554.6h0M84.9 556.5h0M152.9 536.1h0M153.8 576.6h0M124.4 561.3h0M98.1 557.0h0M135.7 530.0h0M94.2 566.1h0M123.0 583.4h0M97.3 564.6h0M113.6 537.0h0M81.8 586.4h0M152.7 577.3h0M134.8 562.4h0M128.1 555.3h0M134.1 582.4h0M121.6 534.8h0M89.6 550.6h0M109.6 536.8h0M128.9 543.7h0M132.6 538.9h0M150.8 538.9h0M138.6 566.5h0M87.2 563.1h0M137.9 550.0h0M131.3 528.9h0M100.5 557.2h0M152.4 547.1h0M98.5 558.3h0M145.6 559.2h0M103.6 535.0h0M153.6 584.0h0M126.2 556.7h0M87.8 575.0h0M154.9 532.1h0M104.2 581.1h0M149.8 577.6h0M138.5 570.0h0M110.4 545.0h0M138.9 563.7h0M153.5 542.9h0M131.8 567.8h0M126.2 584.2h0M102.3 582.3h0M95.3 566.2h0M124.3 574.7h0M128.2 533.0h0M112.8 572.6h0M124.2 546.6h0M127.1 559.7h0M93.5 567.9h0M106.5 559.0h0M129.7 576.9h0M104.5 531.2h0M101.3 552.1h0M112.8 588.7h0M88.1 580.6h0M101.6 554.5h0M97.0 532.2h0M130.4 562.2h0M146.0 553.6h0M147.8 534.0h0M112.6 567.3h0M98.6 540.2h0M111.1 547.8h0M148.6 538.8h0M149.4 569.0h0M119.2 547.6h0M104.3 568.9h0M106.5 568.2h0M120.1 573.4h0M128.0 578.9h0M149.5 549.2h0M148.4 579.7h0M123.0 526.0h0M84.7 559.9h0M126.6 535.6h0M139.0 563.4h0M155.4 526.6h0M134.7 563.6h0M149.2 531.5h0M99.4 564.8h0M128.3 578.0h0M112.5 561.9h0M149.9 550.9h0M134.3 560.3h0M139.6 566.2h0M123.2 569.4h0M102.5 568.9h0M106.2 544.8h0M144.1 543.4h0M99.6 561.9h0M146.4 530.4h0M144.0 577.6h0M104.5 574.3h0M85.1 584.4h0M93.4 526.8h0M126.5 532.5h0M109.4 528.7h0M100.1 549.3h0M137.5 559.2h0M132.7 534.8h0M149.7 539.7h0M83.0 582.1h0M118.1 559.1h0M104.9 557.6h0M150.9 539.3h0M146.9 546.4h0M118.1 582.1h0M100.9 551.2h0M116.9 570.9h0M104.5 567.8h0M127.9 562.2h0M153.0 566.2h0M92.5 580.0h0M91.4 563.4h0M136.7 537.1h0M153.2 536.6h0M110.3 533.8h0M104.2 561.4h0M128.7 549.9h0M145.2 574.2h0M100.0 558.8h0M138.3 568.9h0M143.3 545.7h0M85.8 545.4h0M114.3 525.8h0M146.0 557.8h0M148.6 575.1h0M133.7 587.1h0M97.5 550.6h0M98.8 533.6h0M115.5 555.1h0M156.5 547.2h0M85.5 560.5h0M139.7 552.2h0M132.2 539.8h0M138.0 567.9h0M107.0 578.7h0M129.6 571.8h0M122.4 586.2h0M85.3 571.0h0M90.1 585.1h0M115.8 545.5h0M102.4 565.6h0M137.3 535.2h0M115.5 552.9h0M96.7 566.8h0M100.3 565.5h0M81.9 528.0h0M151.2 563.3h0M91.5 562.0h0M85.3 547.2h0M140.0 562.4h0M101.5 551.1h0" stroke="#7c52c6" stroke-width="2.3"/>
<path d="M142.2 559.9h0M90.9 563.5h0M82.6 566.1h0M107.0 538.8h0M155.9 566.0h0M95.6 572.4h0M134.1 539.0h0M91.2 569.1h0M98.8 529.9h0M101.0 543.7h0M138.9 590.1h0M151.5 551.4h0M95.7 541.8h0M123.3 542.1h0M112.8 539.7h0M104.6 527.6h0M112.4 565.9h0M82.4 545.5h0M131.7 531.1h0M143.1 585.8h0M87.7 547.7h0M105.6 539.8h0M82.1 548.5h0M137.8 581.1h0M108.1 581.2h0M138.0 537.1h0M123.1 578.3h0M99.8 531.7h0M95.0 562.2h0M82.6 535.8h0M144.6 529.0h0M138.1 566.6h0M129.9 572.2h0M87.6 567.6h0M92.6 546.8h0M143.1 562.1h0M146.5 579.9h0M82.7 564.0h0M98.4 551.1h0M110.9 532.8h0M98.4 567.0h0M91.8 539.2h0M85.8 538.4h0M99.1 531.8h0M105.6 581.7h0M118.5 588.0h0M147.6 563.1h0M140.0 548.8h0M153.3 556.1h0M147.6 585.0h0M136.9 591.2h0M119.0 587.2h0M133.9 538.7h0M125.7 551.7h0M149.9 576.6h0M126.0 569.2h0M139.8 532.0h0M91.5 544.2h0M88.0 550.3h0M154.0 583.5h0M129.0 590.8h0M81.1 562.1h0M110.9 586.9h0M116.6 580.2h0M121.7 549.0h0M97.8 573.0h0M91.0 543.6h0M101.5 535.8h0M102.6 580.7h0M103.6 525.3h0M96.9 565.1h0M151.3 547.7h0M141.0 537.9h0M155.9 538.5h0M92.9 584.5h0M95.9 577.3h0M112.6 542.5h0M118.6 581.3h0M108.7 562.5h0M95.4 533.1h0M83.8 542.2h0M125.3 583.6h0M134.8 573.0h0M85.6 545.0h0M136.9 580.9h0M124.4 560.7h0M82.4 546.5h0M112.4 532.0h0M101.0 569.5h0M98.9 578.8h0M139.2 534.2h0M93.6 541.5h0M102.4 544.6h0M156.4 560.4h0M97.9 529.5h0M96.4 560.9h0M99.8 543.3h0M136.0 572.7h0M95.2 565.4h0M145.2 585.0h0M95.2 537.3h0M101.9 567.4h0M125.0 552.2h0M87.0 531.8h0M144.8 582.5h0M135.9 549.6h0M149.0 563.9h0M150.3 544.3h0M85.1 558.4h0M119.1 528.6h0M116.4 582.2h0M91.5 563.4h0M126.3 571.1h0M119.8 539.2h0M133.0 547.7h0M86.5 533.7h0M95.8 550.8h0M111.7 529.5h0M145.7 564.1h0M120.5 564.8h0M83.4 562.3h0M138.1 544.4h0M139.0 537.5h0M143.1 532.3h0M88.6 560.1h0M116.2 579.3h0M119.7 527.0h0M87.0 555.1h0M108.9 568.9h0M127.1 540.1h0M96.4 554.8h0M104.0 564.7h0M91.5 566.7h0M92.0 583.6h0M127.3 549.6h0M113.4 540.7h0M87.2 540.1h0M145.7 545.2h0M106.0 567.4h0M121.2 541.4h0M148.0 566.9h0M140.7 550.7h0M107.0 536.0h0M98.4 536.4h0M106.9 547.3h0M98.1 567.0h0M109.1 575.4h0M139.0 570.9h0M114.5 525.7h0M95.6 588.4h0M126.9 552.2h0M155.2 585.7h0M90.1 533.2h0M131.1 560.0h0M92.3 551.6h0M84.6 557.3h0M105.8 553.9h0M100.9 573.4h0M115.2 528.9h0M109.9 529.5h0M121.3 585.0h0M133.6 543.7h0M141.2 577.0h0M152.8 580.0h0M114.6 532.1h0M88.1 541.4h0M145.1 567.0h0M90.5 583.9h0M116.0 566.5h0M102.6 532.6h0M109.7 553.7h0M141.3 572.3h0M145.3 562.0h0M133.9 578.0h0M132.2 562.6h0M125.1 578.8h0M112.1 588.0h0M131.0 546.4h0M117.4 550.1h0M114.9 579.1h0M146.5 573.0h0M151.4 536.2h0M155.8 534.6h0M123.1 528.0h0M88.4 554.0h0M99.3 580.0h0M129.4 552.5h0M93.0 570.7h0M110.9 547.1h0M83.5 570.3h0M94.1 557.8h0M142.7 586.7h0M89.2 572.3h0M128.0 562.2h0M123.5 550.0h0M155.1 547.6h0M115.0 534.1h0M144.2 590.3h0M133.1 561.7h0M111.9 546.8h0M99.2 581.8h0M128.7 547.5h0M125.6 565.9h0M111.7 541.9h0M148.4 546.7h0M93.3 555.6h0M113.5 525.8h0M129.0 544.9h0M82.0 542.9h0M141.7 549.0h0M96.6 574.0h0M127.5 556.4h0M131.6 561.3h0M146.4 584.6h0M116.6 560.8h0M143.1 579.1h0M156.2 574.6h0M154.9 547.7h0M144.3 532.6h0M112.5 551.9h0M138.7 588.4h0M144.6 562.4h0M149.9 557.4h0" stroke="#5a2cae" stroke-width="1.6"/>
</g>
<clipPath id="c11"><rect x="158" y="526.2" width="73.5" height="64"/></clipPath>
<g clip-path="url(#c11)" stroke-linecap="round" fill="none">
<rect x="158" y="526.2" width="73.5" height="64" fill="#ffffff"/>
<path d="M176.4 581.3h0M214.0 562.4h0M184.5 553.6h0M190.5 536.9h0M202.7 551.3h0M194.1 540.7h0M171.7 549.4h0M206.2 588.1h0M211.3 586.8h0M172.3 581.5h0M202.6 572.9h0M184.1 573.2h0M165.5 540.1h0M159.9 554.2h0M166.2 545.1h0M202.1 530.3h0M184.7 580.3h0M179.4 527.3h0M225.7 573.9h0M208.6 581.2h0M201.4 548.7h0M178.7 538.7h0M159.9 551.4h0M214.2 564.8h0M198.9 547.2h0M165.5 579.6h0M179.9 550.8h0M166.7 549.0h0M223.2 590.5h0M181.4 584.1h0M166.5 525.5h0M222.5 535.1h0M220.4 584.4h0M179.5 530.9h0M159.3 573.2h0M219.9 572.5h0M214.5 532.4h0M232.2 556.3h0M216.3 554.9h0M159.2 542.3h0M214.5 557.1h0M191.8 584.7h0M171.6 550.0h0M171.4 563.0h0M219.0 537.0h0M189.3 588.5h0M168.6 528.7h0M226.9 542.2h0M182.7 539.7h0M201.6 542.2h0M211.8 564.6h0M215.5 583.0h0M188.2 586.8h0M225.9 570.3h0M162.9 556.8h0M213.6 530.5h0M168.0 546.6h0M163.7 532.6h0M162.1 550.7h0M170.2 571.8h0M188.8 541.4h0M178.2 572.4h0M173.6 545.4h0M174.6 547.1h0M157.2 583.7h0M190.8 553.0h0M157.1 559.6h0M168.4 585.0h0M202.2 576.0h0M182.7 553.5h0M199.1 561.8h0M224.9 528.0h0M169.1 576.1h0M199.8 529.0h0M187.4 582.9h0M195.7 558.8h0M217.2 567.4h0M222.7 555.9h0M194.7 588.8h0M216.9 572.7h0M229.6 569.2h0M165.8 572.8h0M205.0 536.8h0M210.7 562.9h0M211.5 559.0h0M203.7 541.4h0M191.1 574.8h0M192.0 539.6h0M209.3 543.1h0M223.3 554.4h0M224.3 532.4h0M211.1 588.4h0M201.9 587.9h0M188.5 538.2h0M200.6 550.6h0M180.1 589.5h0M208.6 553.3h0M203.2 539.1h0M203.6 569.8h0M228.4 526.6h0M167.1 588.6h0M195.9 538.8h0M231.7 528.9h0M220.5 566.8h0M165.0 538.8h0M184.7 552.5h0M164.8 572.6h0M221.0 551.3h0M222.1 554.8h0M184.7 537.8h0M220.3 588.9h0M176.8 537.2h0M163.5 534.9h0M206.2 586.5h0M179.1 563.9h0M163.7 563.1h0M183.5 552.6h0M176.6 536.9h0M162.3 579.0h0M188.3 536.5h0M187.1 577.0h0M179.2 584.3h0M176.3 584.9h0M212.2 554.4h0M222.9 560.0h0M180.9 543.0h0M226.7 561.7h0M221.6 575.3h0M189.2 587.7h0M206.0 528.5h0M226.1 530.2h0M198.6 545.3h0M226.0 558.6h0M190.7 570.8h0M196.4 534.6h0M160.2 587.7h0M204.9 566.3h0M172.8 562.3h0M162.8 536.8h0M203.7 588.3h0M158.9 564.1h0M196.2 536.7h0M173.5 536.3h0M231.8 581.2h0M204.9 534.9h0M232.2 547.6h0M228.5 559.0h0M195.0 551.0h0M210.7 546.6h0M188.1 553.5h0M219.8 570.8h0M215.8 585.4h0M179.2 569.4h0M205.9 555.0h0M206.2 574.9h0M170.3 560.3h0M206.0 582.8h0M164.2 561.6h0M230.9 540.6h0M229.4 555.4h0M189.2 543.5h0M232.2 590.1h0M199.2 583.9h0M165.3 531.7h0M165.7 583.5h0M224.2 526.0h0M186.3 589.4h0M165.2 531.4h0M183.1 582.6h0M184.3 528.7h0M158.2 541.9h0M193.4 571.8h0M178.2 573.6h0M168.3 566.3h0M184.2 586.8h0M172.8 558.6h0M202.6 561.2h0M177.7 587.1h0M185.7 572.3h0M219.5 532.7h0M158.0 561.9h0M173.3 534.9h0M219.9 578.8h0M177.8 560.3h0M168.7 562.5h0M193.4 587.9h0M230.6 572.8h0M167.9 578.6h0M170.2 534.6h0M214.6 579.5h0M212.0 570.2h0M208.6 581.2h0M158.1 565.4h0M169.3 574.2h0M208.4 530.6h0M184.2 582.4h0M206.4 583.7h0M205.4 570.8h0M196.9 534.3h0M224.6 573.6h0M201.4 527.3h0M213.4 582.8h0M190.9 582.7h0M208.0 529.9h0M228.0 545.4h0M200.8 550.4h0M217.5 587.1h0M182.2 576.4h0M224.4 549.8h0M178.5 584.5h0M170.5 552.6h0M168.8 548.0h0M168.6 571.1h0M227.3 573.6h0M219.5 530.5h0M206.7 559.4h0M212.4 562.0h0M195.7 569.4h0M198.8 590.6h0M171.3 570.3h0M213.5 561.7h0M184.3 584.1h0M199.4 588.2h0M204.1 534.1h0M188.6 549.3h0M231.5 557.2h0M207.0 531.2h0M228.2 569.2h0M167.1 573.1h0M197.0 533.5h0M225.8 558.8h0M225.0 526.8h0M172.6 571.4h0M199.5 577.6h0M207.3 528.0h0M185.3 569.8h0M170.0 572.8h0M213.2 569.9h0M221.5 528.7h0M160.8 576.0h0M190.2 587.0h0M206.4 571.2h0M213.9 547.3h0M211.8 588.5h0M229.8 554.4h0M171.5 587.3h0M191.0 581.9h0M165.4 563.9h0M230.3 557.4h0M206.4 580.5h0M214.3 557.0h0M215.5 579.9h0M229.7 570.3h0M229.8 576.8h0M180.2 548.6h0M216.5 532.4h0M218.2 574.3h0M175.7 590.1h0M228.4 544.7h0M198.5 577.7h0M160.9 554.9h0M188.5 542.3h0M162.3 548.8h0M179.0 565.2h0M184.1 549.7h0M183.4 552.6h0M226.3 554.6h0M176.7 535.8h0M188.2 577.6h0M169.1 535.3h0M184.4 580.9h0M218.0 570.1h0M189.2 586.4h0M169.3 558.8h0M190.3 544.0h0M208.9 578.2h0M210.8 589.1h0M207.3 586.8h0M223.4 554.1h0M195.6 563.9h0M214.9 564.5h0M212.9 569.4h0M170.2 587.1h0M195.9 540.1h0M194.4 552.0h0M225.3 556.9h0M177.4 555.5h0M194.7 584.9h0M168.9 589.2h0M159.6 564.3h0M184.0 566.4h0M159.8 546.7h0M228.4 586.5h0M223.2 533.2h0M213.3 554.4h0M206.9 532.5h0M214.5 567.9h0M167.2 589.6h0M223.5 574.0h0M177.5 550.6h0M171.3 590.5h0M220.3 577.8h0M213.3 578.8h0M174.8 585.3h0M192.5 571.1h0M184.7 579.3h0M161.2 528.6h0M198.7 579.0h0M189.4 582.7h0M215.1 573.0h0M191.3 537.5h0M199.6 540.5h0M206.0 583.8h0M227.5 527.6h0M167.1 555.9h0M210.7 549.4h0M232.1 548.5h0M224.8 545.9h0M196.7 585.2h0M185.2 557.8h0M222.6 581.5h0M216.7 539.0h0M218.8 562.8h0M227.8 536.3h0M158.9 539.8h0M199.6 568.9h0M217.2 527.9h0M206.3 575.9h0M188.8 550.7h0M158.5 558.6h0M161.6 530.6h0M204.9 589.4h0M159.8 538.8h0M160.9 575.3h0M169.6 575.3h0M179.4 577.4h0M177.7 568.6h0M164.5 552.3h0M210.7 525.8h0M187.8 582.0h0M185.8 544.4h0M214.5 541.6h0M210.4 572.1h0M216.0 569.2h0M227.1 568.8h0M165.1 582.3h0M209.0 586.5h0M159.9 537.5h0M220.9 552.0h0M195.4 584.6h0M185.7 539.0h0M225.8 532.0h0M228.3 553.1h0M213.5 582.0h0M174.9 525.3h0M231.3 568.8h0M181.5 588.8h0M225.4 566.5h0M166.0 554.8h0M176.0 578.3h0M190.4 533.8h0M228.3 554.4h0M223.9 556.6h0M180.9 566.8h0M160.1 587.9h0M206.6 539.9h0M231.2 565.0h0M214.0 531.1h0M227.4 574.7h0M216.5 560.1h0M178.3 551.1h0M199.5 585.4h0M226.7 561.6h0M210.1 552.9h0M185.4 525.5h0M160.9 587.1h0M223.0 534.4h0M209.3 533.6h0M189.2 526.5h0M230.5 554.6h0M222.4 537.2h0M216.2 573.9h0M166.6 539.4h0M195.6 526.0h0M182.0 570.0h0M167.6 540.2h0M162.2 576.1h0M164.7 582.8h0M192.1 577.0h0M180.4 578.6h0M216.1 561.3h0M226.1 574.6h0M229.8 537.4h0M168.1 540.3h0M205.6 535.4h0M219.7 574.6h0M202.6 571.7h0M169.4 574.5h0M167.4 552.7h0M171.2 588.4h0M178.2 566.0h0M173.7 552.7h0M189.9 527.8h0M165.9 578.0h0M191.6 529.4h0M231.3 564.1h0M170.8 588.6h0M203.5 552.3h0M184.2 589.5h0M195.2 582.9h0M190.9 568.6h0M184.4 538.4h0M195.3 581.9h0M200.4 553.4h0M187.3 582.1h0M211.4 581.7h0M198.6 564.7h0M184.4 544.9h0M171.0 558.4h0M172.0 583.7h0M182.6 525.4h0M204.4 554.4h0M194.7 546.8h0M165.2 538.1h0M159.2 579.9h0M232.1 547.4h0M223.6 556.1h0M185.9 569.3h0M215.0 536.0h0M161.2 556.2h0M176.3 562.8h0M231.5 535.8h0M162.2 536.5h0M159.5 559.6h0M224.6 559.6h0M167.8 545.4h0M227.6 535.6h0M198.3 567.7h0M221.5 588.4h0M208.9 590.5h0M204.2 579.2h0M166.0 583.7h0M227.4 548.9h0M192.0 540.0h0M228.1 543.9h0M158.7 555.1h0M219.9 560.3h0M226.4 535.3h0M179.7 527.8h0M211.2 576.6h0M178.8 545.5h0M186.0 525.7h0M196.0 571.8h0M232.4 543.7h0M231.5 572.6h0M223.9 528.1h0M160.4 568.0h0M170.7 549.1h0M214.3 562.4h0M225.6 569.4h0M178.5 558.4h0M207.1 588.6h0M229.0 573.3h0M222.3 551.7h0M221.0 546.5h0M175.8 548.6h0M180.1 545.9h0M171.0 565.6h0M197.7 546.3h0M220.6 536.4h0M167.2 526.9h0M159.3 545.8h0M161.9 528.5h0M220.7 562.9h0M225.9 541.8h0M221.2 589.5h0M227.5 528.9h0M202.3 540.6h0M172.5 541.2h0M171.2 568.3h0M201.5 587.9h0M193.7 528.5h0M230.9 536.7h0M211.4 540.6h0M230.4 565.3h0M161.7 526.4h0M183.2 540.9h0M217.2 535.3h0M230.1 561.5h0M161.3 536.5h0M223.2 558.1h0M212.0 561.5h0M198.8 579.6h0M173.2 529.7h0M222.6 550.8h0M170.0 538.9h0M226.2 579.6h0M217.7 573.5h0M175.9 533.8h0M172.7 552.2h0M201.6 533.9h0M226.5 530.3h0M179.3 577.5h0" stroke="#7c52c6" stroke-width="2.1"/>
<path d="M223.3 560.2h0M181.1 550.5h0M204.2 530.7h0M162.8 577.2h0M211.7 574.7h0M227.0 580.2h0M224.5 556.0h0M225.5 577.6h0M224.5 590.4h0M173.4 585.1h0M177.0 574.5h0M202.5 539.0h0M202.4 531.6h0M179.0 553.3h0M179.5 541.4h0M225.0 531.9h0M201.4 527.1h0M197.2 578.9h0M213.5 552.7h0M158.5 561.2h0M212.8 538.4h0M214.5 564.6h0M174.5 542.3h0M221.2 579.9h0M203.7 580.9h0M231.0 547.2h0M205.2 577.8h0M201.3 563.3h0M157.5 581.7h0M161.6 541.3h0M196.9 587.3h0M223.1 571.5h0M172.4 561.5h0M228.5 563.0h0M188.4 571.6h0M199.6 580.9h0M220.1 531.5h0M220.0 590.7h0M228.1 531.2h0M229.3 530.6h0M224.4 527.0h0M217.5 539.8h0M167.7 580.0h0M229.3 555.0h0M214.3 582.1h0M228.7 556.9h0M173.5 578.8h0M175.0 567.3h0M230.0 556.4h0M227.5 574.4h0M187.3 543.2h0M182.5 539.7h0M193.2 539.9h0M232.3 526.1h0M197.8 590.2h0M199.2 526.8h0M197.3 530.4h0M163.5 543.5h0M227.8 544.3h0M161.1 526.6h0M183.8 577.1h0M228.6 542.2h0M169.1 552.1h0M164.4 549.6h0M219.8 569.8h0M221.0 529.5h0M198.6 558.0h0M197.2 565.7h0M200.1 569.6h0M231.2 590.9h0M220.4 581.0h0M219.3 555.3h0M157.3 546.4h0M210.7 530.0h0M198.7 525.6h0M172.0 555.5h0M159.3 555.7h0M230.8 566.6h0M159.9 581.0h0M216.5 528.9h0M219.6 586.9h0M163.5 532.2h0M210.5 565.6h0M219.9 587.4h0M159.8 572.7h0M226.0 546.6h0M190.2 525.6h0M201.4 573.0h0M165.9 553.4h0M206.0 560.5h0M200.2 563.8h0M227.4 532.3h0M165.7 572.5h0M166.5 544.2h0M165.3 575.5h0M207.5 533.7h0M225.0 562.1h0M214.9 578.1h0M168.5 526.0h0M224.3 586.4h0M213.1 562.0h0M229.2 575.8h0M182.3 587.7h0M174.2 558.4h0M222.4 528.0h0M171.1 587.0h0M207.2 530.6h0M168.4 544.5h0M166.8 543.6h0M220.7 538.1h0M199.3 549.8h0M185.6 532.5h0M199.6 529.1h0M230.4 533.2h0M218.8 546.4h0M223.9 566.0h0M203.4 529.9h0M162.6 588.2h0M225.5 583.5h0M158.8 582.7h0M195.7 566.8h0M180.1 566.4h0M159.7 578.2h0M194.0 547.6h0M214.4 544.7h0M212.1 531.7h0M176.2 540.0h0M190.5 527.5h0M192.6 560.4h0M181.0 550.3h0M230.9 582.7h0M197.3 575.4h0M225.9 535.4h0M160.4 571.0h0M191.0 553.9h0M162.6 544.4h0M221.9 562.5h0M216.7 555.6h0M187.5 542.4h0M221.7 549.7h0M190.8 580.1h0M230.8 549.0h0M211.9 530.9h0M185.9 565.0h0M211.8 545.9h0M165.0 542.9h0M159.4 554.2h0M195.9 578.8h0M231.4 554.0h0M191.0 587.9h0M162.9 585.0h0M215.8 540.8h0M221.3 586.8h0M168.0 569.4h0M226.9 564.4h0M174.4 541.4h0M166.6 578.9h0M227.2 528.4h0M182.6 576.7h0M179.6 570.9h0M195.3 587.3h0M221.9 541.4h0M172.9 554.8h0M195.1 529.5h0M192.6 583.8h0M180.9 532.5h0M199.3 527.0h0M172.0 556.2h0M196.3 580.4h0M203.0 578.9h0M223.1 580.3h0M174.1 541.8h0M219.7 569.1h0M186.5 589.2h0M218.6 540.9h0M231.9 567.3h0M219.6 576.3h0M183.7 587.0h0M157.3 555.0h0M217.9 559.3h0M159.2 545.1h0M181.5 540.3h0M179.8 571.0h0M186.7 566.7h0M158.8 565.8h0M171.1 575.8h0M210.3 527.2h0M184.9 529.8h0M226.5 563.1h0M230.0 559.7h0M185.1 562.8h0M177.3 561.6h0M162.6 534.1h0M224.1 527.5h0M223.7 529.4h0M209.3 583.4h0M200.4 581.2h0M160.0 579.0h0M173.2 526.1h0M218.3 534.0h0M176.6 531.1h0M225.0 562.3h0M207.1 585.5h0M169.4 551.8h0M172.6 589.9h0M232.5 566.5h0M170.9 543.9h0M172.1 564.1h0M185.6 577.1h0M203.5 528.7h0M174.8 590.4h0M208.9 563.3h0M186.2 538.1h0M181.6 580.1h0M202.5 588.6h0M199.5 538.1h0M230.2 526.9h0M223.4 526.9h0M204.8 574.1h0M158.2 567.0h0M217.8 534.6h0M166.9 584.8h0M162.0 588.1h0M183.5 575.8h0M180.3 576.1h0M202.9 544.3h0M175.3 534.9h0M171.4 566.5h0M204.4 562.2h0M159.4 533.3h0M189.4 563.1h0M199.6 539.1h0M218.4 563.8h0M217.3 563.0h0M195.7 578.6h0M162.8 540.4h0M158.3 551.9h0M209.6 556.4h0M213.9 564.7h0M204.1 572.0h0M229.4 572.0h0M202.7 554.0h0M178.0 585.4h0M224.7 556.7h0M168.8 583.6h0M200.8 571.5h0M194.0 544.4h0M161.2 570.1h0M194.6 545.2h0M186.0 528.5h0M208.0 585.3h0M211.0 585.3h0M219.2 550.9h0M162.6 562.3h0M173.9 584.3h0M157.7 531.0h0M176.5 581.3h0M199.0 573.0h0M218.3 566.4h0M197.7 587.8h0M183.5 539.7h0M187.1 589.6h0M171.5 574.2h0M227.8 530.9h0M206.3 564.1h0M164.0 565.5h0M206.0 561.9h0M224.3 575.7h0M199.9 562.8h0M186.8 568.9h0M179.1 538.6h0M167.4 553.4h0M191.3 569.3h0M214.8 538.8h0M198.9 567.5h0M186.7 582.9h0M216.0 549.0h0M203.7 530.5h0M217.7 583.0h0M194.5 535.5h0M169.9 580.2h0M172.0 543.7h0M227.5 575.7h0M189.3 590.7h0M195.4 585.2h0M217.8 580.4h0M191.0 566.4h0M217.0 530.0h0M195.9 530.5h0M213.6 537.7h0M228.6 526.1h0M187.4 542.9h0M187.4 553.8h0M215.1 577.8h0M219.0 564.6h0M195.4 560.8h0M228.6 571.5h0M200.1 535.5h0M218.8 560.2h0" stroke="#5a2cae" stroke-width="1.6"/>
</g>
<clipPath id="c12"><rect x="233.2" y="526.2" width="73.2" height="64"/></clipPath>
<g clip-path="url(#c12)" stroke-linecap="round" fill="none">
<rect x="233.2" y="526.2" width="73.2" height="64" fill="#f8f5fd"/>
<path d="M273.7 569.0h0M281.2 533.3h0M262.6 590.6h0M240.6 564.1h0M270.8 538.0h0M248.6 577.9h0M239.9 579.2h0M240.8 559.9h0M268.3 570.4h0M266.4 557.2h0M277.0 531.5h0M303.2 553.1h0M275.0 587.2h0M254.9 537.7h0M267.5 542.1h0M259.1 541.8h0M243.2 538.3h0M297.8 542.7h0M277.6 585.7h0M289.5 549.5h0M270.4 580.7h0M267.5 547.6h0M242.8 542.3h0M251.5 549.5h0M241.9 539.9h0M286.7 534.9h0M248.9 567.9h0M274.1 528.3h0M297.2 529.3h0M302.5 561.0h0M237.3 577.6h0M242.4 550.2h0M269.4 560.1h0M305.3 541.6h0M300.0 581.6h0M271.6 580.3h0M299.9 529.8h0M275.6 577.6h0M283.4 589.1h0M268.0 550.8h0M241.3 539.9h0M251.4 581.9h0M239.0 582.4h0M234.3 569.8h0M281.1 576.3h0M285.1 537.3h0M284.2 550.6h0M267.8 575.0h0M269.6 579.9h0M245.4 567.2h0M272.3 535.4h0M259.9 588.5h0M292.2 526.8h0M300.2 545.6h0M268.0 565.1h0M264.7 526.2h0M299.7 536.5h0M249.2 550.8h0M240.6 576.3h0M290.1 575.6h0M294.1 579.4h0M276.7 538.8h0M288.7 550.1h0M239.0 561.9h0M300.0 532.2h0M267.6 550.7h0M282.3 589.4h0M299.8 547.6h0M279.8 527.8h0M233.3 529.3h0M250.5 532.1h0M272.9 571.2h0M250.6 544.8h0M304.4 533.1h0M279.8 538.7h0M251.2 540.7h0M287.8 568.7h0M299.8 562.1h0M266.2 541.1h0M234.3 589.4h0M264.1 544.4h0M272.6 578.1h0M261.3 550.6h0M250.0 571.7h0M267.8 574.6h0M249.7 586.5h0M276.9 582.5h0M235.2 546.7h0M247.7 582.7h0M238.6 591.0h0M278.7 580.0h0M234.1 531.4h0M278.9 526.1h0M239.9 546.5h0M293.6 589.1h0M270.7 577.0h0M252.7 556.7h0M282.9 547.3h0M291.8 559.9h0M301.6 587.1h0M273.3 525.2h0M234.4 526.3h0M289.5 565.1h0M260.9 533.8h0M241.3 578.6h0M260.6 581.4h0M238.8 567.8h0M297.6 539.5h0M253.3 544.5h0M273.6 533.9h0M293.9 570.6h0M268.3 531.4h0M289.4 525.2h0M301.5 543.7h0M283.4 535.5h0M278.6 559.4h0M247.3 570.4h0M239.9 561.3h0M240.5 552.5h0M262.6 527.2h0M251.1 578.0h0M262.3 588.5h0M248.0 552.2h0M282.2 563.3h0M302.4 527.9h0M242.0 532.4h0M303.3 526.6h0M241.4 586.2h0M275.4 570.7h0M274.9 571.3h0M240.9 531.6h0M287.6 538.6h0M257.9 533.9h0M264.9 544.5h0M237.8 537.8h0M274.7 529.6h0M268.5 587.6h0M238.1 552.7h0M290.4 528.2h0M234.6 554.4h0M267.2 542.4h0M301.7 579.0h0M277.8 581.6h0M290.8 526.0h0M288.1 553.5h0M305.2 578.8h0M287.1 536.3h0M285.7 564.7h0M294.2 552.4h0M249.8 562.3h0M248.9 538.6h0M253.6 587.6h0M235.0 579.7h0M306.4 526.9h0M242.2 529.1h0M239.7 587.7h0M247.4 546.5h0M266.2 546.4h0M288.9 530.6h0M240.5 532.2h0M296.8 527.0h0M277.2 525.5h0M244.1 584.1h0M282.1 554.4h0M272.6 542.0h0M239.5 579.3h0M305.4 563.0h0M271.3 561.2h0M261.2 563.8h0M292.1 547.8h0M233.0 574.5h0M297.9 559.3h0M261.4 561.6h0M244.0 560.5h0M281.0 526.5h0M256.2 537.2h0M299.5 577.5h0M296.9 559.3h0M254.3 556.7h0M284.5 556.3h0M269.3 560.8h0M249.1 563.7h0M286.7 550.9h0M266.8 589.7h0M307.0 533.8h0M295.6 532.8h0M239.6 548.0h0M282.0 545.0h0M240.7 578.9h0M238.6 556.4h0M304.3 539.1h0M262.0 589.1h0M271.7 533.6h0M270.0 569.5h0M246.0 539.6h0M262.1 558.4h0M251.2 562.4h0M279.4 566.2h0M288.6 540.4h0M306.4 559.2h0M301.2 562.5h0M258.7 525.8h0M305.3 575.3h0M273.8 590.2h0M258.3 548.5h0M266.9 537.9h0M298.7 548.8h0M286.4 559.5h0M297.4 574.4h0M297.5 583.3h0M272.5 549.2h0M305.7 542.2h0M247.1 585.8h0M294.2 590.9h0M295.6 532.1h0M282.9 545.7h0M270.3 577.5h0M273.6 575.3h0M270.4 527.7h0M233.6 557.2h0M233.0 586.3h0M289.9 525.5h0M283.3 590.7h0M262.0 570.1h0M287.3 528.3h0M292.7 578.2h0M255.1 529.9h0M292.6 546.6h0M290.2 560.2h0M303.3 542.1h0M301.6 526.3h0M304.4 567.5h0M254.9 534.5h0M242.8 573.1h0M266.4 529.0h0M251.7 560.8h0M306.7 535.7h0M286.9 571.1h0M280.4 549.8h0M251.7 578.3h0M260.1 570.5h0M252.6 567.4h0M270.7 570.4h0M274.8 561.7h0M259.6 537.7h0M285.0 531.7h0M291.1 579.8h0M265.5 535.2h0M266.6 543.9h0M266.7 572.6h0M244.8 555.7h0M292.7 532.9h0M265.4 529.5h0M307.4 532.2h0M237.9 550.4h0M286.3 577.5h0M276.2 541.6h0M246.3 546.9h0M279.5 568.9h0M245.0 542.1h0M277.7 535.8h0M234.3 573.2h0M244.4 555.4h0M291.3 568.5h0M264.3 561.9h0M303.9 526.8h0M240.8 587.8h0M269.4 554.9h0M282.7 566.4h0M268.9 581.2h0M266.8 544.3h0M261.4 537.6h0M237.3 541.5h0M293.0 553.5h0M297.3 574.9h0M279.7 543.3h0M239.7 558.9h0M251.5 548.9h0M289.5 578.0h0M286.2 541.9h0M245.8 543.6h0M290.7 537.0h0M259.1 533.3h0M301.1 552.4h0M245.3 573.9h0M270.7 554.0h0M258.7 585.6h0M289.2 535.2h0M239.8 543.2h0M250.0 536.6h0M293.1 584.5h0M301.1 563.2h0M262.5 559.3h0M250.0 535.5h0M278.5 571.4h0M260.8 527.5h0M269.7 581.6h0M245.8 584.5h0M260.5 533.0h0M286.5 530.3h0M236.0 553.3h0M276.4 570.1h0M239.8 576.5h0M298.8 534.7h0M236.5 573.8h0M278.1 554.9h0M266.6 562.4h0M294.0 551.6h0M246.4 538.0h0M266.1 533.1h0M266.9 541.0h0M244.7 580.8h0M297.6 532.1h0M248.7 574.0h0M275.7 591.2h0M273.3 537.5h0M280.3 564.2h0M239.0 556.4h0M280.9 566.4h0M275.8 569.2h0M304.3 591.1h0M306.1 560.7h0M233.4 532.6h0M254.9 585.6h0M253.0 562.9h0M265.8 527.1h0M243.7 571.4h0M265.9 527.0h0M233.0 568.5h0M254.1 574.3h0M304.9 546.9h0M242.3 544.0h0M267.3 546.1h0M296.0 545.6h0M246.9 552.9h0M261.6 561.9h0M254.6 537.7h0M270.0 533.1h0M274.1 545.9h0M242.8 577.0h0M270.5 554.8h0M243.3 576.8h0M302.6 551.4h0M270.4 583.8h0M306.4 533.8h0M266.8 557.7h0M273.8 545.5h0M242.6 574.1h0M279.2 535.2h0M302.7 539.1h0M298.5 566.3h0M262.1 543.7h0M281.6 556.1h0M251.0 560.1h0M247.0 544.0h0M292.7 550.8h0M246.0 562.9h0M244.0 577.7h0M243.5 539.4h0M305.4 567.7h0M286.0 573.3h0M236.7 533.7h0M235.7 555.9h0M274.5 528.3h0M252.1 543.7h0M263.2 538.3h0M259.9 588.5h0M266.1 535.7h0M289.4 586.7h0M246.3 539.8h0M243.1 546.7h0M263.8 530.4h0M267.2 527.6h0M248.9 530.9h0M251.8 583.7h0M302.5 540.0h0M269.4 562.3h0M288.9 528.5h0M302.9 580.3h0M237.1 550.4h0M301.6 560.1h0M286.5 530.4h0M262.2 553.9h0M294.9 546.3h0M274.8 535.4h0M255.0 578.6h0M295.7 536.8h0M300.6 530.3h0M271.9 571.8h0M249.6 552.6h0M232.3 573.4h0M296.4 553.3h0M271.0 579.7h0M273.2 553.9h0M239.2 575.0h0M246.0 548.4h0M297.8 534.2h0M264.9 586.2h0M232.4 537.3h0M257.3 549.2h0M271.3 552.1h0M272.0 571.0h0M241.0 590.3h0M303.9 548.2h0M303.7 566.0h0M290.4 536.2h0M285.8 591.1h0M302.0 564.2h0M268.4 542.3h0M276.6 558.6h0M235.3 541.6h0M262.6 551.4h0M302.8 546.9h0M262.1 572.2h0M293.3 528.0h0M259.9 533.9h0M289.7 557.4h0M276.2 539.4h0M287.4 578.6h0M288.2 549.0h0M269.9 552.9h0M262.7 540.8h0M235.1 564.9h0M248.0 582.8h0M273.4 535.0h0M298.2 537.6h0M270.6 583.4h0M241.1 526.5h0M298.7 567.2h0M300.3 535.8h0M305.5 543.6h0M270.7 551.8h0M303.5 558.0h0M233.1 560.8h0M264.7 553.6h0M283.7 579.3h0M304.1 556.8h0M283.5 571.3h0M282.9 540.0h0M272.3 589.0h0M271.9 575.3h0M255.2 552.6h0M255.6 562.0h0M258.1 550.0h0M272.5 528.6h0M278.5 548.1h0M279.8 569.3h0M292.9 545.9h0M257.0 557.5h0M262.6 532.1h0M263.4 529.3h0M254.7 535.8h0M288.4 563.7h0M249.8 589.0h0M259.2 529.5h0M252.6 532.6h0M305.3 526.7h0M268.6 584.7h0M249.8 551.1h0M277.1 526.8h0M268.4 551.6h0M291.6 540.6h0M242.1 551.8h0M244.0 584.1h0M300.7 539.4h0M287.9 536.7h0M248.0 588.5h0M278.3 579.7h0M270.1 581.0h0M287.8 535.3h0M275.8 550.0h0M261.2 578.1h0M235.7 568.2h0M281.4 562.3h0M235.7 584.2h0M260.0 558.8h0M278.4 543.9h0M303.8 557.8h0M282.6 560.3h0M302.5 540.2h0M252.9 585.4h0M269.4 543.8h0M287.8 542.1h0M298.7 554.0h0M301.2 543.3h0M268.0 539.2h0M271.2 589.8h0M283.4 560.4h0M259.8 590.3h0M297.0 559.1h0M246.1 556.8h0M275.0 581.7h0M266.8 539.7h0M286.1 566.1h0M291.9 577.3h0M256.1 527.4h0M300.1 558.7h0M299.6 577.4h0M270.0 537.2h0M297.6 587.1h0M256.4 556.9h0M304.9 552.0h0M307.0 580.1h0M254.4 567.3h0M246.7 537.0h0M301.0 534.4h0M279.2 555.6h0M290.0 533.6h0M302.7 543.0h0M287.7 558.0h0M247.1 552.6h0M260.6 530.7h0M259.4 550.0h0M307.2 530.2h0M238.0 579.6h0M280.1 562.3h0M279.7 535.4h0M261.7 566.8h0M287.9 565.4h0M292.7 552.2h0M290.0 525.8h0M252.0 557.8h0M288.0 535.9h0M287.9 574.3h0M254.2 554.8h0M242.7 574.0h0M293.0 572.6h0M267.1 557.1h0M245.4 535.0h0M297.0 553.5h0M238.2 565.0h0M263.4 566.2h0M274.1 556.8h0M299.8 545.1h0M268.1 567.4h0M296.1 536.6h0M279.9 553.6h0M241.7 560.6h0M287.1 565.4h0M295.9 545.7h0M289.7 584.3h0M235.4 554.8h0M299.0 539.2h0M258.9 589.7h0M294.8 550.9h0M287.9 587.2h0M284.1 543.6h0M306.2 589.5h0M304.3 573.0h0M303.1 532.1h0M275.4 548.2h0M287.8 544.1h0M258.2 557.8h0M263.0 588.3h0M247.5 548.5h0M234.5 577.7h0M261.4 570.7h0M282.0 584.5h0M302.2 534.4h0M282.5 572.5h0M257.6 583.8h0M293.8 541.7h0M287.0 529.7h0M297.9 568.7h0M274.7 559.2h0M248.0 586.5h0M237.7 548.2h0M274.0 538.3h0M267.0 535.1h0M286.9 529.6h0M295.3 563.2h0M298.8 527.7h0M291.2 561.3h0M238.9 581.9h0M297.4 577.9h0M297.6 536.9h0M253.9 561.4h0M287.9 569.6h0M247.3 540.5h0M237.9 546.1h0M267.0 574.9h0M241.7 581.6h0M292.1 545.2h0M293.8 572.3h0M243.8 530.0h0M294.2 582.5h0M258.1 576.1h0M269.2 570.9h0M273.6 545.4h0M260.6 577.0h0M305.5 572.5h0M298.4 575.3h0M299.7 547.3h0M302.7 528.8h0M275.0 549.7h0M291.7 551.6h0M284.6 546.9h0M284.7 567.8h0M302.8 552.5h0M235.0 562.7h0M285.6 587.9h0M299.0 530.1h0M246.4 573.4h0M300.7 552.5h0M266.3 557.5h0M265.2 526.3h0M291.0 573.7h0M296.9 577.3h0M291.1 550.8h0M292.0 540.7h0M242.4 576.2h0M296.2 566.9h0M244.7 554.7h0M259.1 546.3h0M263.9 565.5h0M238.4 579.7h0M238.9 576.2h0M297.9 550.4h0M276.9 532.7h0M242.4 531.0h0M266.2 561.4h0M304.5 569.4h0M252.2 557.6h0M249.6 569.6h0M305.1 540.3h0M273.7 530.6h0M248.7 532.2h0M287.8 580.3h0M258.4 556.7h0M270.1 589.2h0M233.1 579.7h0M277.1 581.4h0M302.6 533.0h0M271.6 536.9h0M301.1 555.5h0M248.2 558.6h0M283.7 551.6h0M256.0 541.6h0M300.9 537.9h0M300.0 529.0h0M264.4 569.3h0M262.3 555.2h0M294.3 585.3h0M235.2 536.9h0M285.6 554.4h0M245.7 534.9h0M295.6 553.7h0M248.1 576.4h0M278.7 567.8h0M287.6 537.8h0M254.7 584.0h0M292.6 579.6h0M285.3 578.9h0M288.3 544.1h0M246.4 572.0h0M273.5 537.8h0M232.9 573.7h0M233.1 587.1h0M254.0 525.6h0M294.5 550.6h0M301.9 540.5h0M305.7 531.3h0M262.4 560.7h0M260.6 552.1h0M234.3 587.5h0M260.2 558.1h0M254.2 584.0h0M267.5 532.9h0M252.0 546.9h0M233.8 538.6h0M306.8 533.8h0M290.2 530.6h0M255.3 526.7h0M280.3 560.9h0M264.9 528.7h0M271.4 538.0h0M247.0 547.8h0M280.5 575.8h0M279.6 559.5h0M301.4 560.0h0M235.6 532.7h0M294.2 555.1h0M279.0 581.7h0M258.0 586.9h0M269.7 543.7h0M248.3 575.4h0M277.9 557.4h0M258.4 577.4h0M247.5 544.8h0M287.8 565.1h0M234.0 534.1h0M266.1 540.6h0M237.5 562.1h0M260.2 532.7h0M287.2 535.6h0M261.8 552.3h0M239.2 584.3h0M245.2 562.4h0M297.7 527.9h0M284.6 557.4h0M287.1 554.2h0M259.4 541.0h0M283.3 529.1h0M250.4 541.1h0M237.8 545.2h0M241.4 587.2h0M284.4 579.5h0M305.2 569.3h0M307.1 581.4h0M252.5 588.5h0M281.8 534.6h0M256.6 556.8h0M274.9 533.8h0M279.4 574.7h0M239.8 581.6h0M274.0 545.8h0M263.2 561.9h0M273.6 591.1h0M248.4 570.9h0M266.6 577.6h0M252.6 537.5h0M280.1 568.0h0M250.7 550.5h0M296.3 552.6h0M269.0 565.2h0M254.7 583.9h0M299.0 584.4h0M270.9 570.3h0M246.0 525.6h0M291.0 538.2h0M277.8 590.0h0M251.7 538.4h0M269.8 583.5h0M271.2 575.6h0M301.9 545.1h0M288.2 548.9h0M248.3 557.8h0M246.2 571.1h0M264.0 531.0h0M266.9 560.6h0M287.7 569.0h0M285.6 582.3h0M302.2 570.6h0M238.3 590.4h0M283.4 578.4h0M260.4 566.1h0M296.7 549.2h0M247.8 566.6h0M299.4 533.4h0M277.3 542.4h0M271.6 573.8h0M236.8 549.6h0M276.4 580.2h0M243.0 579.6h0M306.8 563.2h0M241.7 574.1h0M292.9 564.1h0M258.8 562.8h0M297.3 530.4h0M236.2 577.8h0M290.6 538.8h0M251.0 571.5h0M293.8 578.8h0M236.3 558.6h0M255.7 531.7h0M306.3 534.2h0M281.6 527.1h0M307.4 549.2h0M269.7 564.2h0M262.9 559.5h0M282.4 566.2h0M242.8 553.8h0M281.0 528.1h0M290.7 569.3h0M281.8 563.6h0M246.6 571.6h0M247.2 536.4h0M244.4 543.0h0M267.7 566.2h0M274.3 579.3h0M299.1 537.5h0M260.3 542.8h0M280.4 563.8h0M262.8 576.2h0M234.6 581.8h0M294.5 548.7h0M235.7 538.1h0M294.4 529.3h0M258.9 579.5h0M267.1 537.6h0M307.1 542.0h0M272.7 565.3h0M293.6 562.8h0M262.2 576.6h0M269.1 587.9h0M298.6 569.7h0M246.8 539.5h0M246.3 577.0h0M261.6 548.3h0M259.6 538.2h0M277.1 530.1h0M290.0 543.2h0M277.6 554.4h0M263.9 567.0h0M275.6 567.4h0M303.3 562.2h0M255.4 565.8h0M239.5 562.1h0M300.2 556.6h0M257.6 541.2h0M278.8 581.7h0M305.4 557.9h0M301.0 590.0h0M234.2 566.2h0M266.2 544.3h0M291.9 586.9h0M280.6 572.1h0M254.9 561.9h0M266.9 533.1h0M282.0 574.3h0M271.7 548.6h0M299.3 555.8h0M252.8 587.6h0M283.7 564.7h0M245.6 586.0h0M236.7 556.5h0M288.9 558.3h0M265.5 538.0h0M297.7 529.7h0M237.3 563.5h0M289.0 586.6h0M294.3 573.0h0M249.7 539.4h0M257.6 569.1h0M290.5 567.3h0M240.5 548.4h0M306.7 583.8h0M290.4 572.6h0M267.0 538.9h0M264.1 535.6h0M271.7 589.0h0M270.1 586.6h0M254.5 554.7h0M258.1 525.3h0M236.9 557.4h0M281.8 579.7h0M262.9 535.9h0M261.7 561.5h0M280.2 567.3h0M285.7 567.5h0M297.8 538.2h0M261.4 543.0h0M235.8 587.0h0M237.2 530.2h0M233.0 566.3h0M285.5 556.5h0M246.2 550.3h0M297.8 581.8h0M268.5 546.5h0M239.5 578.9h0M241.4 563.8h0M256.3 562.0h0M275.0 529.2h0M273.6 589.8h0" stroke="#6048aa" stroke-width="2"/>
<path d="M234.4 529.0h0M281.2 532.9h0M300.5 531.1h0M300.1 530.6h0M273.2 547.3h0M282.4 560.5h0M250.8 546.9h0M307.1 590.5h0M248.1 537.8h0M247.2 569.9h0M243.9 538.3h0M242.6 586.7h0M266.9 541.9h0M278.0 567.5h0M241.8 568.0h0M300.4 533.7h0M234.4 575.1h0M287.2 543.0h0M258.8 569.6h0M261.2 584.5h0M281.4 537.2h0M242.5 560.3h0M285.0 566.4h0M262.0 560.6h0M249.2 539.3h0M248.8 548.5h0M274.2 569.0h0M302.2 549.5h0M299.7 525.4h0M274.3 552.0h0M256.8 548.2h0M244.9 531.2h0M260.0 539.1h0M286.5 578.5h0M294.7 541.6h0M239.1 532.9h0M238.3 582.0h0M293.2 589.6h0M267.4 587.8h0M272.6 583.3h0M303.5 563.5h0M249.5 545.9h0M299.0 548.9h0M255.0 569.0h0M265.2 575.4h0M300.2 542.9h0M267.5 552.8h0M244.8 590.8h0M261.9 557.3h0M232.4 587.8h0M240.0 565.5h0M242.9 556.9h0M271.6 532.9h0M287.6 540.9h0M260.7 572.7h0M266.8 587.5h0M300.7 582.6h0M296.9 574.3h0M282.9 558.8h0M271.0 576.1h0M301.2 541.2h0M298.3 555.6h0M244.2 563.8h0M276.4 535.0h0M272.1 581.0h0M260.2 559.4h0M269.8 591.2h0M272.2 553.4h0M272.5 558.5h0M266.9 587.9h0M297.9 528.8h0M280.9 532.6h0M245.2 571.5h0M267.1 546.3h0M283.2 581.1h0M256.9 545.7h0M292.9 560.6h0M304.3 531.6h0M253.3 575.3h0M303.3 583.7h0M233.2 548.3h0M232.7 560.5h0M295.5 581.1h0M261.7 530.3h0M252.0 546.0h0M268.2 547.6h0M304.4 532.9h0M259.1 583.4h0M241.6 586.6h0M241.8 545.2h0M271.2 563.6h0M284.7 555.2h0M264.9 537.3h0M240.1 547.0h0M294.7 538.3h0M260.0 554.5h0M257.5 534.5h0M300.7 543.7h0M303.9 540.0h0M270.8 537.6h0M254.9 536.6h0M259.3 530.7h0M281.2 563.6h0M242.7 538.7h0M234.0 543.0h0M257.9 552.6h0M277.0 559.1h0M252.8 539.8h0M240.5 541.9h0M291.0 560.9h0M251.7 573.8h0M283.8 557.6h0M261.6 571.6h0M277.2 535.5h0M302.6 565.1h0M249.8 546.9h0M285.6 535.3h0M247.6 552.4h0M253.4 559.2h0M305.8 560.2h0M305.8 551.9h0M267.0 545.3h0M278.7 557.9h0M247.1 560.0h0M269.2 553.6h0M304.9 525.7h0M236.9 576.7h0M303.5 582.7h0M293.3 590.3h0M244.4 536.3h0M306.2 590.4h0M301.5 553.6h0M284.1 546.6h0M251.0 576.3h0M302.8 544.9h0M264.3 535.0h0M265.5 535.1h0M292.6 550.5h0M287.9 525.2h0M298.8 526.3h0M275.2 568.7h0M270.0 578.0h0M304.5 529.5h0M294.2 531.2h0M294.8 587.7h0M261.7 581.6h0M254.4 534.4h0M241.6 532.5h0M271.6 557.4h0M277.6 577.0h0M244.2 562.8h0M306.7 533.2h0M293.8 535.2h0M246.0 555.3h0M305.8 529.4h0M252.6 530.0h0M297.0 550.9h0M305.9 569.3h0M290.4 561.1h0M292.0 586.4h0M238.5 553.4h0M257.1 582.2h0M242.4 573.5h0M296.1 560.4h0M243.3 542.8h0M293.1 586.8h0M245.9 564.5h0M264.2 540.8h0M252.6 541.1h0M275.8 525.8h0M275.9 543.4h0M243.5 588.3h0M290.0 557.7h0M260.5 591.0h0M304.2 587.9h0M268.4 548.3h0M253.4 577.4h0M283.9 534.1h0M240.7 536.4h0M268.9 578.7h0M277.4 542.2h0M272.9 551.8h0M264.4 558.7h0M243.0 579.7h0M296.7 569.6h0M255.3 539.6h0M274.6 567.1h0M297.2 561.4h0M299.7 589.7h0M278.2 589.7h0M234.5 552.7h0M299.6 577.2h0M275.1 578.0h0M241.7 572.6h0M246.8 576.3h0M269.0 571.9h0M254.0 585.1h0M300.7 573.6h0M306.1 565.9h0M273.4 567.5h0M263.9 526.8h0M240.3 569.0h0M278.6 566.1h0M237.6 533.1h0M239.4 554.0h0M281.1 544.8h0M258.8 552.2h0M279.1 582.8h0M286.8 569.6h0M243.5 584.5h0M251.3 532.1h0M280.6 585.5h0M249.3 545.2h0M290.8 541.9h0M282.3 571.4h0M247.9 554.3h0M249.4 541.8h0M256.4 542.2h0M279.4 545.3h0M294.9 572.0h0M281.5 573.1h0M266.6 549.7h0M281.4 527.7h0M250.3 531.6h0M298.9 530.3h0M243.5 556.1h0M297.7 552.1h0M303.0 563.3h0M266.6 569.9h0M233.1 552.5h0M246.5 531.0h0M246.3 536.4h0M251.4 567.9h0M280.2 531.8h0M232.8 577.3h0M281.2 535.3h0M249.9 562.4h0M304.6 568.1h0M252.6 541.5h0M244.8 545.7h0M239.8 566.5h0M301.1 545.5h0M239.9 536.5h0M279.1 571.5h0M275.9 564.4h0M276.6 527.1h0M242.8 584.4h0M276.7 528.4h0M251.5 533.8h0M292.4 570.6h0M279.0 586.7h0M242.6 547.2h0M258.2 575.8h0M261.9 533.1h0M267.7 584.9h0M279.9 557.9h0M305.3 546.7h0M302.0 534.9h0M242.9 546.2h0M269.7 579.2h0M273.7 555.1h0M249.6 562.4h0M296.6 590.8h0M232.7 587.8h0M249.7 575.6h0M257.7 552.1h0M274.4 565.0h0M295.8 575.5h0M287.1 546.1h0M281.5 576.3h0M290.6 557.0h0M239.4 575.9h0M290.2 552.7h0M274.7 542.7h0M234.3 560.3h0M276.5 540.9h0M261.3 572.9h0M287.1 526.7h0M284.6 558.7h0M241.3 532.6h0M266.6 579.9h0M270.4 549.3h0M291.8 565.7h0M252.4 551.9h0M281.8 564.1h0M238.1 574.3h0M238.1 560.4h0M242.1 580.6h0M265.9 542.9h0M251.4 562.9h0M305.5 532.7h0M276.8 556.6h0M304.1 549.3h0M274.8 545.9h0M254.2 581.7h0M277.3 587.2h0M297.5 558.3h0M294.0 538.6h0M288.8 578.8h0M277.6 534.3h0M247.4 541.0h0M253.6 581.6h0M283.8 533.4h0M307.3 584.4h0M283.1 575.9h0M293.5 585.1h0M300.0 526.4h0M281.3 570.8h0M271.0 532.8h0M252.6 591.0h0M295.3 587.8h0M291.1 538.3h0M257.8 552.1h0M241.3 536.3h0M268.5 531.3h0M306.9 543.7h0M252.7 544.8h0M259.1 549.9h0M304.5 528.7h0M269.3 588.8h0M261.0 553.6h0M250.3 547.5h0M245.6 533.5h0M242.6 535.6h0M274.1 539.7h0M247.3 526.3h0M266.3 578.9h0M307.2 556.0h0M256.9 573.1h0M281.0 565.8h0M275.3 545.1h0M286.3 572.1h0M233.6 532.6h0M306.7 581.0h0M299.4 527.6h0M291.3 572.8h0M279.2 525.8h0M270.9 573.8h0M305.2 542.2h0M274.3 529.3h0M240.5 553.3h0M298.4 565.7h0M298.8 573.1h0M272.8 569.8h0M284.1 564.8h0M240.4 543.8h0M261.4 536.0h0M247.9 563.9h0M239.7 562.7h0M255.5 568.9h0M274.9 554.7h0M293.3 553.7h0M233.6 557.7h0M258.2 548.9h0M299.1 539.5h0M294.2 540.0h0M234.0 550.6h0M294.4 569.3h0M294.3 527.7h0M244.0 561.9h0M264.1 529.6h0M247.8 571.6h0M281.2 576.1h0M290.0 576.4h0M297.9 590.5h0M233.7 548.9h0M251.1 534.6h0M300.8 588.8h0M292.6 563.4h0M242.1 539.2h0M281.1 538.5h0M270.7 560.2h0M272.3 569.3h0M273.1 546.8h0M267.1 535.2h0M303.1 584.0h0M294.0 537.8h0M278.1 563.2h0M258.0 574.5h0M251.1 575.6h0M257.4 542.5h0M298.2 572.8h0M252.6 584.7h0M293.5 589.6h0M258.4 581.5h0M282.0 538.2h0M273.5 542.7h0M271.1 553.5h0M304.6 550.6h0M298.6 543.5h0M269.6 568.6h0M268.7 555.7h0M238.3 589.1h0M266.1 545.4h0M268.4 537.3h0M248.6 588.2h0M248.9 544.5h0M245.0 528.6h0M288.0 588.9h0M242.8 537.1h0M237.1 539.5h0M293.2 584.3h0M236.2 555.8h0M267.4 531.7h0M245.3 559.2h0M276.0 556.1h0M238.7 569.9h0M236.6 589.5h0M258.2 527.9h0M253.6 566.0h0M267.0 570.5h0M276.8 528.1h0M238.7 562.0h0M237.4 566.9h0M242.2 534.2h0M255.7 580.0h0M263.6 556.1h0M296.5 532.4h0M259.3 544.3h0M238.6 586.3h0M295.0 528.9h0M288.9 570.0h0M263.0 562.5h0M246.6 568.3h0M238.5 578.3h0M283.3 557.7h0M258.1 535.9h0M255.7 536.4h0M281.2 553.2h0M288.8 565.1h0M269.9 562.4h0M240.7 567.7h0M246.4 543.0h0M269.5 573.9h0M247.3 562.1h0M233.8 578.0h0M241.5 552.2h0M288.6 533.4h0M263.8 581.2h0M261.2 552.2h0M266.1 540.5h0M251.5 553.2h0M244.0 568.5h0M296.0 551.0h0M296.9 542.7h0M250.3 561.1h0M260.9 587.7h0M302.7 527.4h0M279.0 543.7h0M232.4 583.7h0M253.6 541.6h0M293.5 526.1h0M292.8 573.9h0M274.1 527.3h0M245.8 557.1h0M260.4 545.2h0M258.4 563.8h0M295.5 548.7h0M265.4 548.5h0M256.2 543.3h0M267.3 557.8h0M264.4 543.4h0M270.1 544.3h0M247.7 586.6h0M256.0 534.4h0M302.7 526.5h0M304.2 552.8h0M299.4 552.3h0M299.6 531.4h0M301.1 585.6h0M249.6 529.4h0M263.9 575.1h0M244.6 548.7h0M267.6 535.9h0M249.7 551.2h0M282.4 544.7h0M276.6 530.7h0M262.0 588.5h0M291.8 561.0h0M293.4 577.6h0M249.8 527.9h0M256.7 552.7h0M241.3 553.9h0M295.3 576.9h0M257.5 583.3h0M259.6 567.7h0M250.9 533.3h0M287.5 564.4h0M257.9 565.6h0M266.7 553.8h0M261.0 558.4h0M265.1 578.7h0M242.5 542.5h0M292.6 526.7h0M277.6 582.1h0M232.3 585.1h0M240.4 530.2h0M246.0 561.0h0M244.1 556.4h0M234.2 561.5h0M245.1 529.9h0M267.0 537.1h0M234.5 525.5h0M302.6 573.5h0M256.0 562.8h0M256.2 538.5h0M238.1 551.5h0M260.6 558.4h0M272.4 534.8h0M233.2 548.3h0M283.4 537.1h0M292.6 536.2h0M268.6 553.0h0M292.8 542.4h0M305.7 580.3h0M284.7 542.4h0M263.4 534.7h0M279.9 555.2h0M283.2 563.7h0M251.8 530.5h0M296.3 580.5h0M234.5 558.5h0M298.3 531.2h0M275.0 564.2h0M296.7 584.5h0M240.5 580.7h0M290.3 527.2h0M298.9 588.5h0M278.9 575.2h0M243.2 583.1h0M261.4 557.8h0M283.0 537.5h0M294.6 551.1h0M288.1 547.6h0M286.0 554.9h0M232.8 528.7h0M277.0 536.0h0M305.8 587.0h0M248.2 556.6h0M270.2 556.7h0M273.9 529.9h0M286.6 533.8h0M282.4 551.5h0M270.5 535.7h0M252.4 525.8h0M237.1 557.1h0M242.6 545.1h0M286.7 590.6h0M284.5 529.9h0M274.7 582.7h0M306.9 529.9h0M269.1 548.5h0M301.5 541.2h0M301.3 552.7h0M262.8 590.9h0M275.4 568.1h0M267.6 538.9h0M266.8 530.1h0M277.5 531.1h0M237.6 579.0h0M253.4 553.0h0M267.9 530.7h0M273.0 559.4h0M266.1 578.5h0M280.3 533.5h0M255.0 570.2h0M279.3 564.5h0M297.4 543.7h0M264.7 562.1h0M264.9 561.1h0M249.4 557.2h0M251.1 530.4h0M280.7 534.2h0M233.8 529.4h0M261.0 573.8h0M232.6 576.1h0M306.9 565.1h0M262.1 562.6h0M264.6 579.3h0M273.8 567.2h0M294.8 553.9h0M244.0 581.1h0M263.6 556.4h0M257.1 553.6h0M246.1 575.2h0M250.9 535.8h0M295.7 565.0h0M236.7 551.1h0M294.9 529.7h0M306.1 529.4h0M288.6 539.2h0M261.3 536.5h0M261.9 556.3h0M291.6 572.1h0M304.5 577.5h0M300.9 560.2h0M261.3 572.0h0M287.7 552.0h0M281.9 550.4h0M289.3 573.1h0M292.1 590.5h0M283.6 582.8h0M289.3 570.8h0M259.8 532.4h0" stroke="#40288e" stroke-width="1.8"/>
<path d="M255.5 586.6h0M282.6 573.7h0M300.3 544.7h0M283.2 541.2h0M246.3 546.4h0M266.6 573.9h0M263.9 556.3h0M239.8 589.5h0M238.8 554.9h0M279.8 560.2h0M289.7 535.5h0M242.7 582.4h0M289.4 554.3h0M295.8 541.2h0M267.7 528.1h0M287.2 534.4h0M300.1 553.9h0M281.4 572.9h0M255.2 539.8h0M296.2 563.7h0M285.8 555.1h0M285.9 582.7h0M241.1 545.9h0M271.3 526.8h0M241.0 569.0h0M266.5 529.2h0M233.4 549.0h0M268.4 580.7h0M292.4 569.0h0M247.9 579.2h0M275.8 575.8h0M299.2 533.3h0M305.0 533.6h0M244.7 563.3h0M277.8 570.7h0M266.8 555.3h0M240.5 583.3h0M279.1 548.2h0M290.2 549.4h0M263.3 526.3h0M244.6 545.3h0M293.2 557.3h0M250.3 563.3h0M240.3 549.6h0M267.9 588.4h0M244.9 575.1h0M253.2 532.4h0M274.3 572.9h0M303.7 577.3h0M279.6 534.4h0M280.2 572.8h0M236.6 568.4h0M266.3 551.1h0M259.0 539.5h0M264.1 568.3h0M250.7 573.3h0M298.5 543.5h0M264.0 567.7h0M261.3 590.6h0M283.5 534.8h0M268.1 541.8h0M246.9 570.7h0M255.6 556.2h0M259.2 574.9h0M293.3 541.3h0M283.9 557.2h0M232.5 576.5h0M272.3 532.8h0M280.8 577.2h0M249.1 538.5h0M233.1 559.5h0M245.5 562.4h0M265.7 535.4h0M245.1 546.3h0M265.3 537.3h0M260.2 577.0h0M253.5 546.9h0M237.6 571.6h0M263.6 579.4h0M290.9 566.6h0M277.9 529.2h0M238.4 573.1h0M288.7 543.1h0M250.1 561.7h0M236.7 557.4h0M273.8 535.0h0M248.1 536.2h0M269.5 527.9h0M267.9 567.4h0M252.3 572.6h0M248.5 560.4h0M278.1 550.1h0" stroke="#241060" stroke-width="2"/>
</g>
<clipPath id="c13"><rect x="308.4" y="526.2" width="73.4" height="64"/></clipPath>
<g clip-path="url(#c13)" stroke-linecap="round" fill="none">
<rect x="308.4" y="526.2" width="73.4" height="64" fill="#f3ecf8"/>
<path d="M377.1 559.0h0M341.7 552.9h0M350.0 549.0h0M377.5 567.8h0M372.5 590.9h0M378.7 526.4h0M361.6 544.1h0M374.3 531.8h0M349.2 551.7h0M320.9 587.8h0M331.4 584.9h0M367.4 556.5h0M377.4 574.1h0M319.3 558.2h0M381.0 528.0h0M371.0 562.8h0M326.7 530.8h0M332.5 568.0h0M308.5 569.4h0M336.7 559.4h0M326.2 590.3h0M376.2 570.4h0M333.0 529.1h0M372.3 573.3h0M370.4 563.2h0M374.8 533.7h0M333.3 573.9h0M343.9 585.0h0M356.8 563.4h0M364.1 549.5h0M349.4 559.5h0M347.4 556.0h0M360.8 576.6h0M338.2 543.2h0M328.0 591.1h0M314.9 567.8h0M358.4 577.6h0M347.8 583.6h0M319.2 582.3h0M335.5 562.8h0M343.5 556.4h0M352.4 553.7h0M377.1 589.6h0M378.8 526.8h0M382.4 565.6h0M309.7 555.0h0M319.9 588.1h0M343.6 589.4h0M346.6 539.3h0M359.8 570.2h0M372.5 554.9h0M372.8 584.7h0M374.1 570.6h0M350.8 586.1h0M357.2 541.1h0M379.1 590.9h0M367.1 551.3h0M353.8 578.9h0M342.8 566.6h0M335.9 569.1h0M324.6 568.6h0M359.5 571.5h0M325.4 541.8h0M378.0 535.8h0M357.1 587.9h0M347.5 576.1h0M310.6 575.9h0M334.1 551.2h0M351.9 563.9h0M374.3 580.7h0M340.3 533.3h0M310.7 550.9h0M367.9 548.9h0M333.3 579.3h0M374.0 589.0h0M345.2 534.8h0M358.8 558.7h0M356.9 557.9h0M364.4 578.8h0M337.3 566.9h0M363.2 573.5h0M315.1 549.5h0M317.4 563.4h0M317.6 567.8h0M335.6 530.7h0M320.2 581.5h0M349.7 573.1h0M382.7 568.7h0M358.4 580.5h0M325.5 533.3h0M382.8 539.0h0M308.8 577.8h0M381.7 556.9h0M346.4 572.0h0M309.0 557.8h0M353.4 541.4h0M318.7 550.0h0M344.9 553.3h0M330.7 588.0h0M337.9 567.1h0M308.2 589.1h0M364.9 527.3h0M363.6 586.8h0M313.6 590.3h0M374.9 535.1h0M374.8 526.7h0M339.5 585.6h0M382.4 576.7h0M374.9 533.9h0M327.3 588.0h0M364.5 560.7h0M323.1 572.7h0M373.7 528.6h0M371.6 540.9h0M351.1 536.7h0M377.0 546.3h0M339.1 577.9h0M379.7 568.5h0M312.9 563.5h0M361.0 546.2h0M318.0 542.0h0M352.6 557.7h0M322.3 539.2h0M340.5 541.9h0M312.9 553.1h0M353.0 534.6h0M342.2 586.3h0M368.5 583.9h0M357.4 553.2h0M373.4 546.7h0M315.5 576.2h0M309.2 582.8h0M319.5 581.4h0M354.6 579.0h0M321.3 533.6h0M375.6 527.3h0M371.4 526.6h0M342.1 557.5h0M329.9 582.7h0M310.2 564.8h0M377.0 584.8h0M307.9 554.4h0M355.9 589.8h0M345.5 540.6h0M362.0 573.9h0M337.5 558.9h0M312.5 542.4h0M355.1 589.9h0M350.2 539.0h0M337.6 583.1h0M308.6 555.4h0M359.2 526.2h0M359.0 586.1h0M365.2 536.8h0M342.5 588.6h0M347.5 570.5h0M352.7 528.6h0M339.4 533.8h0M358.9 553.7h0M322.3 543.4h0M340.9 534.4h0M379.2 589.2h0M346.2 530.4h0M339.5 561.4h0M334.8 559.3h0M360.3 564.1h0M341.8 558.4h0M381.8 582.2h0M334.3 559.4h0M352.4 577.3h0M342.1 540.2h0M346.8 556.8h0M308.3 589.9h0M332.2 581.1h0M366.1 532.0h0M317.1 574.4h0M363.0 550.9h0M374.2 528.4h0M361.4 555.0h0M348.1 580.9h0M357.4 589.3h0M336.4 547.2h0M321.9 576.8h0M326.7 580.0h0M332.0 537.0h0M317.6 571.5h0M316.0 577.0h0M340.2 565.1h0M348.1 566.9h0M363.3 560.7h0M365.1 589.5h0M320.0 563.8h0M341.6 536.9h0M323.1 558.1h0M318.3 562.0h0M364.2 580.6h0M322.5 578.6h0M364.2 554.2h0M318.2 579.0h0M310.3 590.4h0M327.5 583.9h0M309.1 530.0h0M336.6 530.0h0M315.1 532.7h0M336.9 561.3h0M363.5 588.6h0M321.2 548.5h0M375.8 569.6h0M343.8 573.6h0M380.1 584.9h0M371.1 565.9h0M363.5 556.9h0M380.3 569.2h0M367.2 561.9h0M311.6 566.5h0M329.6 571.3h0M346.8 575.9h0M354.3 537.3h0M355.8 570.7h0M347.3 559.6h0M321.2 581.1h0M331.7 552.2h0M325.4 535.0h0M312.7 570.5h0M380.2 581.7h0M326.8 573.1h0M375.2 533.4h0M322.8 557.6h0M319.5 541.4h0M340.9 549.0h0M333.6 525.9h0M367.0 542.0h0M333.4 579.1h0M331.8 541.0h0M349.9 545.6h0M349.4 542.1h0M373.4 569.2h0M379.3 584.4h0M328.4 530.8h0M374.7 572.9h0M347.3 584.9h0M351.9 535.1h0M320.3 526.0h0M360.1 583.6h0M368.9 560.9h0M310.4 590.8h0M318.4 558.3h0M341.7 533.6h0M337.8 581.9h0M357.9 528.3h0M356.8 572.0h0M312.1 525.8h0M337.7 535.4h0M311.4 544.7h0M373.5 551.9h0M320.6 568.4h0M316.2 550.9h0M357.4 543.2h0M378.5 589.2h0M326.2 538.5h0M374.9 531.9h0M314.9 543.2h0M332.7 543.8h0M344.4 575.2h0M331.3 530.1h0M315.7 536.1h0M343.0 552.3h0M312.2 535.0h0M323.9 548.5h0M361.1 525.2h0M382.5 565.2h0M374.6 575.3h0M382.6 550.2h0M325.2 579.8h0M350.1 548.3h0M318.3 585.5h0M315.2 586.9h0M348.7 550.9h0M324.1 581.5h0M344.1 568.0h0M380.3 567.6h0M315.0 580.4h0M335.9 536.7h0M315.4 568.0h0M360.3 529.5h0M308.0 559.3h0M366.5 551.3h0M338.9 531.1h0M361.5 578.5h0M361.7 583.0h0M366.9 567.2h0M324.0 585.2h0M364.2 561.8h0M339.6 540.5h0M360.1 584.1h0M379.7 563.3h0M370.7 557.4h0M308.3 563.0h0M376.0 587.0h0M372.3 556.4h0M344.1 534.3h0M355.5 535.0h0M365.1 563.9h0M342.8 575.0h0M335.6 563.0h0M345.3 529.8h0M349.5 533.1h0M314.9 546.1h0M367.3 574.6h0M315.9 556.6h0M379.4 571.9h0M376.4 534.5h0M347.3 589.9h0M344.7 538.1h0M352.0 525.5h0M377.9 585.0h0M372.1 557.6h0M313.3 535.3h0M315.1 561.2h0M344.6 539.8h0M331.7 558.9h0M373.1 589.1h0M376.4 568.3h0M364.7 558.3h0M365.0 533.2h0M348.1 584.0h0M342.5 572.6h0M311.9 565.4h0M358.7 558.2h0M322.5 539.3h0M381.3 571.0h0M321.1 538.2h0M362.9 578.9h0M378.9 535.6h0M319.7 547.3h0M345.4 591.0h0M335.1 539.0h0M379.8 542.8h0M326.6 571.5h0M359.8 581.4h0M381.1 535.6h0M381.9 583.7h0M366.4 578.2h0M353.2 566.3h0M334.4 554.6h0M314.2 590.3h0M350.8 539.0h0M359.0 576.1h0M374.4 538.5h0M329.8 580.2h0M342.5 550.9h0M371.7 571.5h0M349.7 585.0h0M364.9 578.1h0M341.3 576.1h0M338.0 575.6h0M311.6 581.1h0M360.6 588.8h0M312.3 552.1h0M331.5 541.4h0M372.1 555.7h0M381.9 581.0h0M372.5 563.9h0M379.6 568.1h0M310.0 552.1h0M328.2 566.4h0M365.8 550.8h0M351.3 554.0h0M351.0 570.7h0M348.5 543.3h0M309.8 534.1h0M310.6 587.9h0M320.7 555.2h0M364.2 573.6h0M381.7 584.2h0M362.4 551.0h0M368.6 588.4h0M324.4 567.9h0M320.1 554.0h0M332.0 578.0h0M345.7 572.7h0M362.8 550.3h0M353.7 557.3h0M330.2 543.7h0M352.5 562.7h0M339.4 571.1h0M325.4 591.1h0M374.1 528.5h0M372.1 586.9h0M345.2 537.1h0M332.7 590.0h0M315.3 568.5h0M351.9 558.6h0M354.8 538.4h0M320.1 525.9h0M336.2 547.1h0M338.0 564.3h0M325.3 586.0h0M316.2 530.6h0M367.6 538.9h0M345.7 563.4h0M356.0 565.0h0M382.2 584.0h0M356.9 545.4h0M346.5 538.4h0M336.6 552.0h0M358.4 537.6h0M311.2 545.5h0M340.1 564.3h0M345.5 557.5h0M378.8 552.6h0M334.5 534.4h0M378.1 570.9h0M374.0 551.2h0M357.1 548.7h0M370.3 537.1h0M341.7 559.6h0M340.0 551.0h0M317.5 552.6h0M344.5 550.5h0M353.2 546.8h0M309.4 530.2h0M335.2 540.3h0M335.1 562.2h0M368.2 587.9h0M320.8 575.0h0M356.1 572.5h0M309.4 580.5h0M337.1 526.6h0M340.7 575.6h0M319.4 540.0h0M307.9 541.5h0M313.5 542.6h0M322.6 585.0h0M365.7 569.5h0M335.8 584.7h0M344.9 586.1h0M333.8 580.6h0M309.4 556.1h0M348.8 568.5h0M346.3 547.7h0M347.1 572.7h0M320.5 529.6h0M351.7 577.7h0M372.8 527.3h0M366.8 538.2h0M317.6 552.0h0M324.7 571.6h0M375.8 541.4h0M374.5 567.0h0M361.3 587.5h0M355.1 548.8h0M351.3 570.6h0M366.0 534.2h0M322.1 543.7h0M372.4 568.7h0M341.4 554.8h0M360.0 560.4h0M359.3 575.2h0M350.7 539.3h0M362.5 583.8h0M322.5 557.2h0M352.3 530.4h0M373.6 578.5h0M352.7 563.0h0M318.8 527.5h0M309.8 527.1h0M321.1 587.2h0M342.3 557.7h0M381.6 564.8h0M353.7 550.9h0M355.6 574.8h0M319.6 527.3h0M341.6 577.0h0M350.0 529.9h0M330.3 572.3h0M308.9 533.9h0M369.9 543.9h0M330.6 529.1h0M355.9 557.0h0M339.6 535.1h0M337.3 563.1h0M319.0 564.7h0M349.9 573.4h0M344.0 567.6h0M357.9 531.8h0M354.3 568.9h0M343.7 534.0h0M326.8 573.9h0M364.5 577.1h0M316.8 569.1h0M374.5 538.9h0M339.6 553.4h0M345.8 560.7h0M381.4 585.5h0M323.6 584.9h0M377.1 590.9h0M369.6 559.9h0M349.7 577.7h0M381.3 544.0h0M355.3 557.4h0M310.6 568.7h0M322.9 587.5h0M313.9 528.8h0M379.5 548.8h0M312.4 565.9h0M348.9 559.9h0M311.2 546.6h0M308.7 526.5h0M348.1 557.9h0M339.0 550.0h0M308.5 546.1h0M341.7 559.2h0M368.6 568.8h0M343.8 546.6h0M370.1 588.8h0M308.3 556.4h0M376.9 584.5h0M335.5 554.0h0M308.1 589.9h0M320.1 541.0h0M354.8 537.7h0M381.9 531.0h0M351.9 530.5h0M320.4 552.3h0M353.5 575.6h0M340.9 553.9h0M332.0 580.5h0M339.5 536.3h0M382.4 536.7h0M358.4 545.1h0M324.7 548.5h0M380.1 570.4h0M340.2 532.9h0M375.3 540.9h0M357.2 584.1h0M355.1 561.0h0M382.4 563.2h0M375.3 551.7h0M317.8 542.6h0M316.3 576.0h0M364.2 567.7h0M339.8 533.0h0M357.8 555.8h0M320.3 577.6h0M373.1 531.1h0M350.0 569.8h0M380.2 578.0h0M353.0 573.6h0M360.2 535.4h0M335.3 545.0h0M355.4 550.8h0M367.4 556.2h0M352.8 546.1h0M355.1 550.3h0M347.4 554.9h0M326.4 580.4h0M380.8 550.7h0M382.5 574.2h0M372.6 582.0h0M316.5 532.7h0M379.5 574.0h0M311.7 572.7h0M311.2 569.4h0M338.7 562.3h0M325.2 549.2h0M373.6 585.6h0M307.6 556.8h0M340.4 572.7h0M355.6 580.6h0M347.5 537.6h0M322.3 551.1h0M377.6 546.3h0M309.2 571.3h0M373.7 561.6h0M372.8 542.9h0M361.6 537.4h0M332.5 552.6h0M325.3 537.0h0M379.7 564.4h0M371.5 559.4h0M335.4 551.4h0M310.3 581.1h0M365.9 590.2h0M339.7 587.3h0M367.0 538.3h0M354.4 556.8h0M324.4 534.5h0M318.7 576.3h0M362.0 565.1h0M364.6 574.2h0M370.3 575.0h0M335.2 544.5h0M365.1 570.3h0M366.7 588.5h0M334.2 553.4h0M312.6 541.3h0M371.7 545.9h0M352.1 541.5h0M309.8 559.7h0M320.5 527.9h0M310.0 574.4h0M382.5 527.7h0M326.3 586.2h0M362.2 528.2h0M372.1 583.7h0M372.2 536.4h0M360.1 575.4h0M331.9 560.9h0M336.5 575.2h0M327.0 556.9h0M316.2 557.2h0M362.9 579.0h0M353.5 541.8h0M375.9 577.6h0M352.5 580.8h0M322.0 536.0h0M374.8 572.2h0M367.5 533.8h0M322.9 570.8h0M347.0 531.6h0M311.9 590.5h0M317.6 553.1h0M346.2 543.8h0M322.3 527.5h0M344.0 555.5h0M350.4 577.2h0M321.1 525.9h0M313.0 571.8h0M361.4 568.2h0M342.3 562.6h0M338.2 544.2h0M377.4 551.8h0M328.5 567.8h0M324.3 572.8h0M319.5 538.5h0M380.2 530.3h0M353.5 555.5h0M357.2 549.8h0M309.8 538.7h0M377.9 567.8h0M376.8 572.6h0M340.3 552.3h0M347.2 541.4h0M353.5 575.2h0M328.3 564.5h0M378.5 588.8h0M364.1 561.9h0M314.9 556.5h0M359.7 545.7h0M375.5 569.2h0M349.6 531.7h0M330.0 530.8h0M350.4 565.8h0M316.7 587.1h0M365.7 526.9h0M352.2 536.8h0M382.4 564.1h0M346.3 543.3h0M309.3 541.4h0M345.9 533.6h0M324.6 579.6h0M377.3 573.4h0M357.3 546.2h0M308.7 582.9h0M346.5 564.5h0M350.5 525.4h0M381.1 562.4h0M337.0 555.2h0M317.9 552.2h0M356.5 535.3h0M331.3 549.2h0M318.5 538.1h0M345.5 564.9h0M339.9 528.4h0M308.0 539.2h0M321.5 533.6h0M329.3 579.8h0M341.3 536.0h0M362.4 590.0h0M368.8 583.8h0M376.9 529.1h0M319.6 532.1h0M374.1 573.0h0M369.0 564.5h0M318.8 542.4h0M307.4 581.3h0M320.9 589.6h0M378.2 536.7h0M310.7 535.9h0M334.3 529.8h0M313.2 538.1h0M363.6 529.2h0M342.4 553.7h0M334.5 560.3h0M364.1 590.3h0M368.2 531.1h0M330.1 583.9h0M345.8 556.4h0M344.8 539.8h0M317.0 529.2h0M310.3 530.0h0M366.7 569.3h0M309.5 561.0h0M331.6 529.0h0M349.6 562.7h0M377.8 568.1h0M327.0 584.4h0M365.7 563.7h0M347.8 555.1h0M317.0 530.2h0M333.8 532.2h0M347.1 552.1h0M332.6 590.2h0M375.0 582.6h0M328.1 588.1h0M372.1 570.2h0M313.5 571.9h0M324.2 537.4h0M314.5 526.6h0M351.7 544.0h0M318.4 550.8h0M335.0 577.2h0M357.5 582.0h0M314.2 583.2h0M347.8 559.6h0M324.2 581.0h0M378.4 573.1h0M360.1 589.0h0M360.1 559.8h0M351.2 537.5h0M334.8 571.3h0M355.1 580.1h0M316.5 553.7h0M373.5 555.1h0M311.0 560.9h0M314.6 581.5h0M366.9 576.1h0M339.9 532.5h0M366.7 562.3h0M374.5 578.8h0M313.8 531.8h0M338.3 551.1h0M307.6 548.1h0M332.8 587.6h0M324.7 528.0h0M351.5 555.6h0M373.1 576.7h0M337.6 581.4h0M347.7 541.7h0M380.1 578.4h0M336.6 586.8h0M338.6 566.5h0M328.7 584.9h0M328.0 544.3h0M319.9 535.3h0M342.7 528.2h0M317.0 540.9h0M353.5 551.1h0M309.5 545.9h0M318.3 577.3h0M378.4 564.4h0M379.1 575.6h0M370.7 579.8h0M344.3 572.1h0M308.9 542.3h0M364.8 545.4h0M359.1 583.1h0M340.0 569.6h0M354.0 527.9h0M357.1 586.4h0M357.7 547.0h0M336.3 591.0h0M328.8 549.9h0M330.4 566.2h0M360.4 585.7h0M330.9 569.3h0M335.0 584.4h0M360.6 546.0h0M345.3 564.1h0M338.9 539.5h0M350.3 553.3h0M364.5 536.8h0M368.8 568.1h0M326.7 571.8h0M343.9 548.1h0M373.3 580.7h0M354.8 572.6h0M313.5 527.9h0M378.2 573.9h0M373.4 562.9h0M375.7 555.9h0M335.7 550.4h0M330.4 590.1h0M350.4 578.0h0M323.8 589.6h0M320.8 554.8h0M357.0 537.1h0M312.9 562.9h0M379.2 588.9h0M317.8 560.2h0M314.3 535.8h0M312.9 563.3h0M377.8 546.1h0M312.7 527.9h0M324.7 566.2h0M313.8 559.7h0M359.5 552.9h0M316.8 559.9h0M376.8 571.9h0M324.3 587.4h0M352.2 566.3h0M331.6 586.1h0M311.8 581.2h0M359.0 584.4h0M356.9 525.5h0M380.1 565.2h0M348.7 572.7h0M374.3 555.6h0M373.4 571.9h0M381.4 537.3h0M362.1 576.5h0M342.7 559.6h0M382.5 588.5h0M325.5 536.1h0M348.2 565.7h0M349.7 553.9h0M334.9 575.6h0M351.5 575.4h0M322.0 573.0h0M373.0 526.8h0M312.8 559.2h0M354.6 564.0h0M330.1 581.8h0M364.2 569.6h0M311.2 584.9h0M348.5 585.9h0M313.6 553.3h0M312.8 563.1h0M349.7 568.3h0M348.1 568.4h0M374.5 542.7h0M370.5 559.2h0M311.7 539.9h0M349.7 565.4h0M317.5 570.8h0M344.4 567.4h0M352.7 565.1h0M315.6 578.7h0M324.6 529.3h0M338.3 564.4h0M336.2 586.1h0M327.6 569.0h0M355.0 537.9h0M307.6 580.2h0M318.9 587.4h0M359.8 543.2h0M380.7 563.3h0M362.3 590.7h0M328.8 533.9h0M355.8 575.1h0M308.9 527.3h0M347.2 588.0h0M351.8 578.5h0M380.6 555.2h0M314.8 549.0h0M344.3 580.3h0M364.7 582.4h0M321.9 581.9h0M370.2 562.0h0M312.7 550.1h0M358.0 549.9h0M307.7 548.8h0M379.4 538.0h0M338.6 544.0h0M371.6 530.2h0M353.1 551.2h0M346.8 526.1h0M360.4 573.8h0M358.3 572.3h0M358.5 572.9h0M361.0 535.9h0M324.3 535.6h0M358.3 581.8h0M313.4 579.2h0M348.9 546.5h0M328.2 571.2h0M375.2 580.1h0M373.4 545.8h0M312.7 574.5h0M355.0 551.5h0M318.6 551.4h0M310.5 532.8h0M378.5 561.4h0M378.0 530.5h0M346.0 563.7h0M344.1 572.9h0M375.6 529.9h0M336.7 547.5h0M329.9 552.4h0M357.1 564.1h0M338.3 573.1h0M368.2 555.1h0M334.9 526.8h0M351.5 567.7h0M367.6 567.0h0M321.8 544.6h0M343.2 540.6h0M365.1 580.5h0M356.5 578.9h0M311.5 550.3h0M324.3 539.6h0M368.1 574.9h0M326.0 586.6h0M345.7 558.5h0M359.3 569.1h0M325.0 530.2h0M357.7 544.9h0M343.9 576.9h0M309.2 557.8h0M366.4 575.2h0M368.7 561.5h0M371.7 565.6h0M335.2 533.6h0M340.9 563.8h0M365.4 547.5h0M346.9 577.4h0M325.9 584.9h0M333.4 556.1h0M329.3 531.2h0M313.4 582.9h0M345.7 543.3h0M326.2 577.8h0M345.5 563.9h0M323.6 567.5h0M335.1 571.6h0M311.3 565.8h0M373.7 578.3h0M313.7 587.3h0M314.4 535.9h0M361.2 570.6h0M319.0 552.2h0M334.8 569.5h0M376.7 568.7h0M310.9 563.0h0M346.9 535.8h0M365.1 556.1h0M330.6 543.5h0M358.4 563.3h0M355.1 529.4h0M326.1 550.5h0M376.9 589.7h0M381.5 581.2h0M346.7 583.2h0M340.6 544.6h0M342.9 570.2h0M359.1 528.9h0M381.3 540.5h0M348.8 537.0h0M319.5 555.1h0M315.7 552.3h0M315.9 571.3h0M321.6 571.5h0M316.5 549.5h0M335.4 571.3h0M318.1 589.9h0M333.9 529.0h0M379.9 572.4h0M360.9 534.5h0M314.8 526.9h0M322.2 570.8h0M347.6 525.9h0M377.2 571.3h0M308.2 583.7h0M361.2 574.2h0M313.2 549.9h0M347.0 588.0h0M373.0 568.6h0M374.1 537.4h0M309.3 576.5h0M330.8 581.6h0M311.4 554.6h0M319.0 574.9h0M342.7 531.2h0M369.1 574.9h0M312.1 539.1h0M350.7 552.2h0M379.1 575.8h0M322.6 534.1h0M330.7 541.2h0M316.4 563.5h0M381.4 567.0h0M325.6 531.5h0M321.5 564.4h0M374.3 542.9h0M332.1 534.5h0M332.7 548.9h0M381.1 582.2h0M360.8 571.8h0M355.0 575.7h0M370.0 542.1h0M310.2 578.4h0M327.9 582.3h0M357.0 585.1h0M368.9 580.9h0M331.6 545.0h0M333.6 551.3h0M331.0 572.8h0M343.1 569.7h0M377.2 586.8h0M317.4 540.4h0M379.4 545.3h0M334.9 539.2h0M359.9 571.9h0M317.3 590.9h0M326.6 580.4h0M328.5 552.3h0M380.3 530.4h0M326.6 553.6h0M311.7 551.6h0M353.6 583.4h0M381.3 590.3h0M333.1 541.8h0M352.8 565.7h0M359.4 560.3h0M364.2 550.6h0M381.1 584.5h0M308.5 566.9h0M349.8 552.5h0M381.7 588.0h0M340.4 586.5h0M358.7 556.9h0M321.7 569.7h0M347.3 586.7h0M382.0 588.3h0M358.8 573.6h0M356.9 556.0h0M311.1 565.1h0M355.3 565.1h0M376.8 572.0h0M354.2 559.7h0M363.4 525.4h0M357.0 577.3h0M309.5 587.5h0M359.6 580.6h0M359.8 560.7h0M354.0 550.9h0M362.6 567.0h0M365.4 571.8h0M316.9 556.1h0M348.2 571.0h0M328.9 570.6h0M313.1 530.3h0M375.8 585.7h0M352.2 565.1h0M350.9 576.9h0M342.4 577.7h0M346.4 536.8h0M369.6 568.0h0M347.1 568.4h0M346.8 563.9h0M315.6 575.8h0M309.8 538.5h0M318.7 544.7h0M375.6 588.1h0M338.4 581.5h0M332.8 588.9h0M320.2 584.3h0M338.5 532.9h0M318.6 559.8h0M364.0 574.2h0M349.3 588.9h0M346.9 530.3h0M366.9 578.5h0M318.2 586.6h0M323.0 534.2h0M343.3 556.6h0M345.9 538.9h0M320.1 532.6h0M313.7 588.9h0M367.3 526.6h0M311.1 552.5h0M311.0 531.0h0M346.7 530.8h0M341.7 534.4h0M337.3 545.6h0M308.0 586.1h0M324.4 553.2h0M364.1 580.0h0M346.1 577.5h0M338.7 541.7h0M360.1 551.3h0M350.6 579.5h0M345.7 551.4h0M382.1 580.3h0M340.1 534.8h0M360.2 551.3h0M337.6 582.4h0M310.0 554.8h0M315.2 526.1h0M371.9 564.3h0M349.9 579.9h0M313.1 558.4h0M368.4 561.9h0M353.3 530.9h0M371.5 542.8h0M336.0 547.7h0M317.6 561.8h0M339.6 564.4h0M311.3 551.8h0M361.8 588.0h0M322.6 559.8h0M377.5 563.5h0M341.8 581.1h0M369.8 565.2h0M329.8 568.9h0M331.5 564.2h0M361.5 560.0h0M338.1 526.6h0M368.4 553.0h0M327.6 557.3h0M336.1 562.2h0M353.8 559.2h0M320.0 575.9h0M359.0 531.0h0M320.5 567.1h0M333.0 575.7h0M318.0 575.0h0M349.4 564.0h0M372.9 553.6h0M353.4 590.0h0M321.0 581.0h0M361.6 578.8h0M347.8 568.2h0M381.6 544.5h0M344.3 532.0h0M338.9 587.2h0M355.6 561.2h0M320.5 574.2h0M323.5 585.7h0M373.5 578.8h0M356.1 555.8h0M308.6 533.8h0M378.5 574.5h0M342.9 530.1h0M359.4 539.3h0M347.6 542.0h0M344.1 539.2h0M310.7 545.1h0M361.2 571.5h0M364.6 539.9h0M327.0 527.9h0M351.0 539.2h0M376.1 544.3h0M332.0 537.8h0M365.9 572.7h0M378.5 562.1h0M319.8 589.7h0M364.7 549.4h0M327.5 555.5h0M352.8 563.9h0M375.7 566.8h0M330.2 563.4h0M314.1 574.7h0M356.4 583.0h0M351.5 555.6h0M337.9 561.3h0M314.4 546.1h0M311.8 558.9h0M351.9 559.2h0M326.6 549.0h0M353.7 573.7h0M329.1 563.9h0M310.5 567.4h0M309.0 573.5h0M362.1 565.1h0M321.2 557.3h0M356.8 558.7h0M307.7 571.9h0M331.7 528.2h0M343.5 555.9h0M368.1 535.0h0M364.0 574.3h0M351.2 536.7h0M362.6 528.4h0M363.4 563.4h0M337.2 582.4h0M311.4 567.0h0M371.5 534.4h0M372.9 553.9h0M332.2 560.0h0M318.2 576.9h0M340.0 573.4h0M331.5 538.5h0" stroke="#7a64b6" stroke-width="2"/>
<path d="M340.2 528.4h0M374.3 589.5h0M344.2 554.4h0M332.0 586.3h0M333.9 589.6h0M359.3 571.3h0M315.0 576.6h0M374.3 556.0h0M311.0 574.3h0M354.5 584.0h0M373.9 541.9h0M342.4 552.5h0M310.6 565.0h0M328.2 535.6h0M310.1 547.1h0M339.5 549.7h0M352.2 542.5h0M382.1 542.4h0M332.0 573.4h0M317.6 541.8h0M307.4 535.8h0M351.3 558.5h0M319.8 532.8h0M380.7 533.5h0M331.9 553.5h0M346.1 562.5h0M343.5 545.0h0M314.3 576.8h0M326.1 551.5h0M322.9 538.9h0M329.2 534.3h0M324.5 587.7h0M339.3 557.5h0M353.1 578.4h0M336.0 589.0h0M335.0 581.0h0M307.4 554.1h0M340.1 583.5h0M381.6 571.9h0M327.4 549.6h0M366.2 585.4h0M328.2 555.4h0M344.3 577.1h0M366.0 540.7h0M333.9 570.3h0M346.5 542.7h0M381.5 578.9h0M366.3 553.1h0M328.1 561.4h0M341.3 544.0h0M349.8 569.4h0M353.9 580.8h0M336.5 543.3h0M317.4 557.3h0M331.8 574.7h0M375.9 575.9h0M314.3 584.5h0M336.1 540.8h0M315.7 561.5h0M341.7 559.4h0M355.3 557.4h0M312.9 572.7h0M372.4 554.2h0M380.9 586.6h0M372.9 564.7h0M316.1 544.3h0M309.4 589.6h0M321.7 531.4h0M330.3 589.4h0M370.8 576.2h0M356.8 568.6h0M365.9 568.3h0M314.8 580.0h0M368.6 560.4h0M377.9 572.5h0M330.9 564.1h0M369.3 558.4h0M323.3 548.0h0M336.5 553.6h0M373.6 577.2h0M373.1 545.5h0M373.1 539.9h0M327.8 555.6h0M349.7 580.3h0M380.6 535.7h0M340.5 532.6h0M326.1 566.0h0M374.7 588.6h0M337.3 561.0h0M337.2 544.1h0M354.5 543.6h0M351.6 544.5h0M371.3 578.7h0M327.2 565.8h0M313.1 565.8h0M308.8 577.8h0M339.2 528.5h0M379.3 541.7h0M359.8 531.1h0M336.3 578.8h0M360.4 560.7h0M358.9 553.2h0M320.1 585.4h0M381.4 533.5h0M373.2 552.3h0M372.4 565.5h0M309.9 581.9h0M355.4 558.3h0M371.3 530.8h0M312.8 586.0h0M350.0 526.8h0M350.9 529.3h0M320.7 581.8h0M322.8 584.9h0M378.7 538.3h0M318.6 570.8h0M356.1 533.8h0M332.3 544.2h0M322.7 526.3h0M314.9 581.5h0M377.5 542.9h0M361.7 578.9h0M359.9 548.1h0M361.1 560.9h0M352.5 555.2h0M314.4 558.3h0M333.3 574.2h0M325.7 526.4h0M332.0 575.3h0M330.2 545.3h0M381.0 529.8h0M317.8 578.8h0M360.3 526.7h0M375.3 527.9h0M341.6 560.8h0M320.1 543.3h0M321.5 559.1h0M341.3 588.0h0M327.5 548.6h0M326.6 584.1h0M358.1 588.1h0M362.8 529.7h0M319.1 564.8h0M353.3 545.5h0M328.5 565.1h0M323.7 553.9h0M356.9 566.2h0M351.3 572.8h0M347.5 579.6h0M378.4 564.5h0M335.6 577.3h0M322.2 565.7h0M341.7 548.7h0M337.9 555.2h0M339.2 567.7h0M353.5 538.9h0M327.1 525.4h0M311.3 545.8h0M382.8 557.7h0M375.4 541.8h0M316.5 547.7h0M347.2 575.1h0M340.7 555.8h0M348.8 587.5h0M314.3 566.6h0M369.5 562.0h0M379.1 577.8h0M349.9 541.8h0M378.7 576.6h0M359.0 567.7h0M319.1 578.9h0M311.7 551.0h0M321.9 572.3h0M310.4 555.1h0M353.3 567.0h0M311.2 558.8h0M322.3 589.8h0M371.9 578.8h0M350.5 530.5h0M373.8 533.5h0M349.4 570.9h0M382.7 535.3h0M371.4 549.1h0M322.9 554.8h0M358.8 569.8h0M318.5 556.8h0M309.4 587.7h0M309.8 529.0h0M331.3 532.2h0M318.5 528.2h0M354.3 534.4h0M379.8 580.1h0M355.6 543.5h0M374.4 591.0h0M360.8 544.6h0M349.9 554.2h0M327.5 552.0h0M365.2 544.0h0M376.5 541.1h0M359.5 553.0h0M373.5 565.4h0M339.4 573.6h0M347.3 580.8h0M342.5 556.0h0M315.0 566.5h0M325.5 559.1h0M371.2 537.2h0M368.1 571.2h0M379.7 568.3h0M318.8 581.6h0M370.1 574.1h0M309.5 575.3h0M311.2 572.5h0M318.0 566.4h0M346.4 526.5h0M328.8 541.6h0M367.8 588.5h0M333.1 566.8h0M366.8 548.2h0M339.3 553.5h0M367.8 577.2h0M359.3 546.9h0M343.6 533.8h0M368.0 578.5h0M368.8 565.4h0M360.3 569.5h0M358.9 564.9h0M380.1 564.1h0M353.6 572.2h0M373.8 546.5h0M377.7 588.6h0M370.9 548.0h0M309.7 563.3h0M309.4 587.7h0M350.1 537.1h0M380.6 532.0h0M379.9 556.3h0M352.4 556.0h0M357.0 529.6h0M359.3 568.2h0M327.0 550.0h0M369.4 590.9h0M362.2 556.0h0M352.1 543.4h0M341.6 556.6h0M316.3 559.9h0M345.2 576.3h0M327.4 571.3h0M357.6 526.7h0M320.3 578.9h0M376.4 573.1h0M334.7 537.0h0M343.7 545.5h0M323.9 542.8h0M315.0 575.8h0M346.6 564.9h0M355.5 577.4h0M316.8 569.1h0M341.4 567.4h0M348.2 537.5h0M310.9 583.1h0M373.8 531.0h0M329.9 559.1h0M329.0 571.1h0M346.3 582.3h0M378.9 569.9h0M338.3 564.8h0M358.5 582.1h0M371.4 541.9h0M344.8 540.2h0M375.9 527.6h0M309.0 590.6h0M313.2 528.9h0M347.1 526.8h0M320.7 551.8h0M321.3 540.7h0M341.3 540.3h0M342.2 556.8h0M346.6 534.0h0M373.7 577.3h0M313.2 567.4h0M346.9 585.6h0M374.7 590.6h0M330.0 552.0h0M320.9 588.7h0M344.1 571.6h0M353.1 553.4h0M366.1 552.3h0M378.5 537.5h0M361.3 529.6h0M365.0 570.4h0M380.2 531.4h0M361.1 589.8h0M364.0 563.0h0M330.5 544.9h0M362.9 535.6h0M309.4 567.7h0M380.4 590.7h0M359.8 573.3h0M374.7 533.8h0M379.1 562.4h0M312.5 578.6h0M325.9 547.1h0M314.6 575.7h0M371.6 569.6h0M327.6 542.4h0M349.0 526.2h0M320.2 546.5h0M316.4 581.8h0M335.8 563.0h0M375.3 565.7h0M316.8 534.4h0M369.3 573.4h0M382.4 527.2h0M365.9 561.9h0M331.6 579.4h0M321.2 579.2h0M343.5 574.7h0M368.5 527.1h0M369.5 555.1h0M362.6 573.8h0M333.9 565.1h0M325.8 588.9h0M329.6 537.6h0M311.4 558.1h0M308.0 542.7h0M368.8 539.5h0M320.7 529.5h0M356.8 535.7h0M322.5 547.8h0M333.1 542.1h0M312.5 529.9h0M312.8 562.8h0M314.7 560.8h0M337.0 568.4h0M382.6 542.4h0M330.3 560.1h0M339.6 546.8h0M344.4 586.7h0M350.2 530.2h0M310.2 583.2h0M315.1 580.9h0M354.8 558.0h0M379.7 558.6h0M353.0 559.9h0M324.2 565.2h0M333.3 578.0h0M325.7 578.7h0M309.8 556.9h0M318.8 561.7h0M314.2 576.6h0M315.9 564.0h0M344.3 566.1h0M342.5 530.7h0M352.7 558.6h0M366.2 557.4h0M350.4 559.8h0M340.2 544.4h0M309.6 575.7h0M334.9 556.4h0M323.2 578.0h0M345.3 589.9h0M349.7 573.8h0M347.2 530.6h0M356.8 554.0h0M338.9 571.2h0M309.2 552.2h0M365.0 575.5h0M321.6 566.2h0M319.4 575.4h0M350.5 581.8h0M352.1 565.8h0M335.5 583.9h0M368.3 583.3h0M375.6 582.3h0M333.8 526.1h0M382.2 537.2h0M345.6 569.7h0M315.0 549.1h0M330.7 544.9h0M358.5 529.3h0M372.9 578.2h0M355.5 558.1h0M382.7 525.9h0M318.4 542.4h0M317.0 528.7h0M336.2 560.5h0M366.9 570.2h0M376.7 530.6h0M317.2 590.2h0M359.6 558.2h0M333.8 580.0h0M354.5 560.9h0M371.1 576.5h0M329.9 542.5h0M342.7 535.2h0M312.1 577.0h0M341.2 588.6h0M310.4 567.9h0M364.7 532.2h0M357.4 587.1h0M381.3 587.7h0M376.4 533.4h0M317.9 534.5h0M350.6 532.1h0M375.4 575.5h0M353.2 574.7h0M380.0 567.4h0M372.3 588.9h0M341.1 545.3h0M338.2 570.3h0M380.4 529.5h0M331.4 544.2h0M328.3 553.8h0M330.7 584.4h0M364.7 582.9h0M334.6 558.9h0M372.2 545.4h0M354.1 550.4h0M352.2 575.4h0M329.9 569.1h0M346.8 566.3h0M356.5 533.3h0M343.8 560.8h0M315.4 531.8h0M314.0 587.8h0M358.8 525.8h0M316.7 532.2h0M351.8 561.2h0M354.2 527.9h0M330.6 532.1h0M337.5 587.9h0M311.2 590.1h0M348.0 541.3h0M367.0 527.9h0M343.6 578.4h0M356.2 557.2h0M381.1 561.9h0M317.0 526.0h0M361.1 580.4h0M331.7 564.4h0M365.3 551.1h0M360.9 566.9h0M333.7 529.4h0M347.2 579.5h0M373.1 540.6h0M329.1 559.8h0M320.8 552.3h0M332.2 578.7h0M357.8 569.1h0M354.3 544.9h0M346.2 554.7h0M309.6 531.1h0M348.0 561.2h0M381.6 582.0h0M312.9 560.8h0M348.8 576.5h0M313.8 536.7h0M337.7 581.2h0M339.8 527.6h0M321.4 567.6h0M370.0 546.9h0M339.4 546.3h0M359.4 541.4h0M377.0 542.5h0M367.2 529.9h0M317.5 544.0h0M349.6 540.7h0M349.7 546.3h0M340.3 563.8h0M315.4 552.1h0M325.5 580.9h0M316.6 573.1h0M348.5 550.0h0M362.5 527.6h0M338.7 569.5h0M340.5 584.5h0M382.3 576.4h0M340.9 545.5h0M308.1 562.2h0M317.1 570.0h0M311.0 538.1h0M347.4 528.6h0M345.3 560.0h0M354.2 525.9h0M380.9 586.6h0M359.4 554.6h0M318.5 535.3h0M327.2 545.3h0M346.0 552.5h0M377.7 553.5h0M316.4 531.7h0M344.1 542.6h0M331.0 536.4h0M372.5 581.9h0M316.9 551.1h0M341.9 543.9h0M382.5 570.6h0M358.9 557.8h0M368.2 589.8h0M355.0 590.4h0M358.9 546.8h0M346.8 588.9h0M344.2 533.5h0M322.9 571.4h0M331.6 569.3h0M307.9 570.8h0M354.7 534.1h0M342.4 537.3h0M331.5 567.5h0M367.1 576.4h0M336.5 526.6h0M366.9 587.2h0M324.1 538.6h0M321.4 540.6h0M342.6 557.5h0M378.3 545.6h0M332.9 581.3h0M365.8 539.4h0M354.2 556.3h0M370.1 540.9h0M307.5 555.9h0M378.1 529.6h0M378.4 567.4h0M316.4 589.1h0M368.5 533.3h0M380.5 567.5h0M363.9 577.6h0M308.4 571.9h0M338.2 584.6h0M314.1 583.8h0M366.4 529.6h0M330.1 581.0h0M350.7 581.5h0M343.9 554.5h0M332.8 528.7h0M321.0 576.2h0M368.4 544.6h0M373.8 552.8h0M352.2 545.8h0M308.7 541.2h0M373.1 574.2h0M344.9 549.7h0M360.5 560.6h0M362.2 550.2h0M350.7 570.9h0M341.3 527.0h0M312.3 555.4h0M340.6 564.2h0M352.7 554.7h0M361.7 570.9h0M358.3 547.5h0M368.9 527.4h0M356.1 580.6h0M340.1 555.8h0M326.0 537.8h0M378.0 559.4h0M357.4 574.3h0M353.0 559.4h0M340.4 554.2h0M324.0 540.5h0M320.0 546.8h0M308.4 585.4h0M355.5 588.2h0M329.5 556.8h0M319.1 583.4h0M337.6 575.8h0M328.0 561.6h0M346.8 569.8h0M363.5 567.7h0M352.4 529.1h0M327.2 539.0h0M339.7 563.7h0M357.9 571.8h0M310.3 580.2h0M338.1 576.7h0M316.4 563.5h0M369.5 558.6h0M360.0 564.5h0M317.1 568.2h0M341.8 548.7h0M312.1 579.9h0M336.9 554.4h0M321.3 587.8h0M315.8 562.4h0M348.6 542.3h0M358.2 576.8h0M360.9 550.8h0M381.6 547.7h0M367.0 530.6h0M315.6 527.0h0M341.8 559.6h0M327.6 589.2h0M347.6 579.8h0M355.4 557.7h0M319.2 548.0h0M353.6 527.0h0M357.9 537.2h0M334.9 589.8h0M373.0 555.3h0M309.1 531.1h0M325.1 567.1h0M376.3 541.0h0M351.2 568.6h0M348.6 579.4h0M380.0 535.7h0M377.9 576.9h0M322.8 546.3h0M334.0 554.1h0M343.0 578.4h0M368.0 561.2h0M363.6 545.9h0M317.7 550.1h0M335.2 536.6h0M317.0 535.2h0M376.4 575.5h0M370.6 563.5h0M333.1 557.0h0M320.5 526.6h0M372.4 573.1h0M350.6 556.4h0M351.6 531.6h0M334.3 526.3h0M357.2 526.6h0M379.3 554.8h0M381.5 563.5h0M366.4 527.6h0M336.3 551.7h0M381.1 531.8h0M369.3 583.0h0M335.6 527.8h0M365.8 570.4h0M364.0 538.5h0M365.2 566.0h0M343.1 590.3h0M360.4 587.0h0M380.8 585.8h0M363.9 581.4h0M342.9 586.2h0M357.5 560.3h0M313.8 528.4h0M379.4 577.7h0M346.3 588.5h0M327.3 532.1h0M345.7 583.2h0M323.7 589.5h0M312.5 579.6h0M343.0 573.5h0M314.8 546.7h0M328.2 582.0h0M346.0 529.7h0M318.5 526.0h0M347.0 569.5h0M356.6 539.1h0M345.2 575.1h0M335.6 590.6h0M370.5 578.1h0M311.4 586.4h0M334.4 587.7h0M315.0 580.6h0M318.9 572.6h0M327.5 565.8h0M341.6 544.4h0M321.0 573.7h0M310.0 532.4h0M364.2 577.4h0M314.2 586.1h0M365.6 565.4h0M382.2 546.9h0M341.5 587.2h0M372.1 556.4h0M381.2 549.3h0M325.3 538.4h0M332.7 568.3h0M323.9 560.0h0M318.2 579.4h0M378.1 556.0h0M362.5 567.2h0M361.5 557.9h0" stroke="#5a449e" stroke-width="1.7"/>
</g>
<clipPath id="c14"><rect x="383.8" y="526.2" width="73.2" height="64"/></clipPath>
<g clip-path="url(#c14)" stroke-linecap="round" fill="none">
<rect x="383.8" y="526.2" width="73.2" height="64" fill="#f9f2f9"/>
<path d="M405.1 540.0h0M445.4 577.4h0M400.5 535.4h0M417.5 529.5h0M419.8 585.8h0M420.3 526.7h0M400.3 552.0h0M423.3 568.7h0M399.9 531.9h0M453.5 575.7h0M430.8 542.1h0M390.6 534.9h0M417.4 527.8h0M420.6 532.0h0M414.1 532.3h0M415.4 580.7h0M449.2 583.0h0M399.7 537.4h0M444.9 582.0h0M414.9 526.6h0M405.0 533.4h0M423.0 556.4h0M420.6 557.6h0M437.5 528.7h0M412.2 539.9h0M436.8 566.8h0M412.5 566.3h0M438.6 585.6h0M454.5 535.5h0M428.9 575.2h0M454.1 540.4h0M415.6 537.2h0M388.7 527.4h0M414.2 574.9h0M447.8 552.3h0M411.6 538.0h0M410.9 526.3h0M441.7 564.4h0M437.9 561.7h0M414.2 588.7h0M387.0 528.0h0M393.6 589.0h0M429.0 589.3h0M405.6 534.9h0M429.2 544.9h0M402.4 545.5h0M454.5 577.1h0M383.1 538.3h0M445.4 575.7h0M395.6 552.8h0M439.4 535.6h0M437.8 527.8h0M382.8 526.5h0M438.4 543.0h0M420.2 548.8h0M387.7 542.0h0M452.6 565.4h0M399.5 537.2h0M454.5 589.1h0M439.8 567.0h0M442.1 551.3h0M417.4 560.7h0M435.3 560.3h0M386.1 542.6h0M456.9 558.0h0M430.4 572.7h0M448.7 579.3h0M430.0 553.7h0M427.7 534.2h0M450.0 538.5h0M451.8 573.7h0M407.9 541.5h0M422.2 534.9h0M445.1 533.2h0M408.2 553.5h0M450.1 538.4h0M422.7 538.7h0M442.9 577.5h0M445.8 578.7h0M454.6 578.5h0M394.6 535.0h0M415.7 545.4h0M423.6 540.9h0M436.7 548.1h0M414.3 557.6h0M397.5 561.4h0M428.2 560.6h0M421.6 541.3h0M457.1 578.4h0M404.1 531.5h0M427.8 575.4h0M410.0 546.0h0M405.3 559.9h0M444.3 575.5h0M431.7 567.4h0M415.5 578.5h0M436.3 545.6h0M406.5 564.1h0M455.2 552.8h0M408.2 526.7h0M431.0 550.3h0M411.4 542.9h0M406.0 532.0h0M425.3 545.4h0M439.7 529.1h0M407.9 537.8h0M428.4 576.1h0M447.4 571.6h0M441.2 539.6h0M425.6 536.5h0M390.4 550.7h0M390.8 561.8h0M382.9 539.5h0M424.2 568.7h0M427.1 577.1h0M395.5 576.6h0M405.2 543.1h0M430.0 541.1h0M440.3 543.8h0M456.1 571.7h0M422.7 546.3h0M392.9 559.5h0M417.8 552.8h0M401.4 536.1h0M432.2 536.3h0M421.6 563.5h0M449.2 554.3h0M449.7 543.9h0M447.9 584.1h0M423.2 548.0h0M404.1 579.9h0M440.4 559.9h0M450.7 587.5h0M408.3 584.1h0M438.2 544.9h0M405.9 528.2h0M391.2 584.1h0M400.7 541.5h0M447.5 537.9h0M425.1 576.5h0M443.6 587.4h0M411.0 548.8h0M419.0 568.6h0M451.3 574.2h0M401.0 525.5h0M431.7 534.4h0M429.0 543.6h0M423.3 573.9h0M415.9 546.6h0M433.2 570.4h0M419.7 590.7h0M422.7 589.6h0M411.8 545.3h0M439.0 565.6h0M389.1 556.7h0M439.0 589.9h0M444.8 550.3h0M432.2 537.3h0M421.8 527.2h0M451.7 543.2h0M453.4 535.1h0M385.3 550.2h0M405.3 552.6h0M383.0 590.1h0M384.0 542.8h0M431.8 553.7h0M426.4 531.2h0M387.6 534.1h0M409.5 539.9h0M457.6 590.3h0M388.7 588.8h0M448.7 538.4h0M402.7 549.8h0M423.5 549.2h0M420.1 533.8h0M385.8 553.8h0M420.4 567.1h0M391.2 534.2h0M432.9 535.7h0M449.5 580.3h0M416.3 543.8h0M387.9 537.9h0M401.1 529.5h0M412.8 560.4h0M455.6 584.7h0M455.3 569.7h0M439.7 555.4h0M440.6 541.2h0M448.3 565.8h0M392.2 569.7h0M420.5 562.1h0M409.4 545.7h0M453.0 564.9h0M432.6 589.9h0M410.7 528.0h0M456.6 530.5h0M386.8 576.3h0M407.7 542.0h0M413.6 538.0h0M411.7 540.6h0M436.5 543.4h0M397.7 551.3h0M446.8 546.5h0M425.3 560.0h0M423.9 542.9h0M397.9 573.1h0M412.6 544.7h0M439.1 568.1h0M401.9 532.3h0M384.4 532.1h0M457.7 528.0h0M406.7 559.2h0M440.3 548.1h0M437.9 555.7h0M399.0 582.3h0M391.4 590.0h0M442.2 526.4h0M390.9 581.5h0M445.4 580.8h0M406.8 534.7h0M457.7 541.0h0M451.1 579.1h0M423.3 586.2h0M423.8 541.4h0M425.1 551.6h0M417.5 576.8h0M454.6 532.1h0M408.3 526.6h0M396.2 545.0h0M386.2 555.7h0M429.8 576.2h0M449.0 525.8h0M411.8 535.3h0M407.2 527.6h0M447.3 567.4h0M408.0 560.7h0M452.8 576.6h0M410.7 583.5h0M454.1 546.6h0M402.5 539.7h0M427.7 549.3h0M386.1 584.4h0M438.1 563.4h0M392.1 563.1h0M396.6 556.2h0M392.3 532.1h0M403.5 583.5h0M424.3 553.0h0M430.0 571.6h0M435.8 564.8h0M420.9 589.7h0M390.5 549.4h0M397.9 529.4h0M457.7 536.3h0M442.2 570.6h0M435.4 555.2h0M422.3 580.1h0M433.3 546.0h0M416.7 530.2h0M398.3 532.9h0M442.0 563.3h0M451.8 562.0h0M415.3 531.7h0M447.0 534.9h0M448.0 579.8h0M441.4 538.0h0M438.9 530.5h0M383.9 527.9h0M432.9 527.4h0M448.1 564.6h0M416.2 579.8h0M410.9 531.9h0M448.1 553.8h0M397.5 581.2h0M449.3 563.0h0M456.9 575.0h0M422.7 590.6h0M426.8 590.8h0M423.5 582.9h0M435.7 542.9h0M441.2 563.0h0M402.2 545.7h0M444.0 576.4h0M451.2 575.4h0M410.3 588.4h0M450.4 569.0h0M455.5 570.8h0M417.6 583.5h0M390.8 537.8h0M411.4 542.4h0M456.7 567.2h0M390.3 543.3h0M450.4 541.9h0M444.7 565.4h0M420.3 543.8h0M408.0 540.8h0M394.3 571.2h0M392.2 575.3h0M407.7 533.3h0M395.6 535.9h0M423.0 589.3h0M394.6 526.5h0M429.0 587.9h0M424.6 536.2h0M444.6 550.6h0M406.5 545.7h0M425.0 537.8h0M424.2 549.3h0M436.0 529.1h0M430.8 530.6h0M431.3 588.4h0M427.6 553.7h0M450.5 556.5h0M434.2 553.2h0M447.5 569.9h0M422.9 562.2h0M429.9 573.7h0M440.1 530.7h0M426.0 536.6h0M428.8 575.9h0M392.5 564.3h0M415.4 552.5h0M425.0 565.5h0M406.2 547.7h0M442.5 551.0h0M435.0 587.3h0M437.8 570.3h0M419.6 526.9h0M415.9 591.1h0M397.3 541.6h0M439.1 547.1h0M388.0 544.3h0M433.3 551.8h0M411.8 559.6h0M434.2 547.4h0M418.3 572.4h0M438.5 581.2h0M386.5 527.7h0M393.3 590.7h0M450.2 573.5h0M431.1 565.4h0M446.7 558.9h0M425.6 578.2h0M406.8 588.5h0M420.9 567.5h0M454.9 564.5h0M451.6 555.0h0M419.2 564.7h0M437.7 549.0h0M428.9 563.0h0M440.0 541.2h0M427.7 561.1h0M390.2 583.1h0M437.0 529.1h0M420.5 525.4h0M449.7 586.0h0M454.5 544.8h0M438.8 572.7h0M409.1 557.8h0M444.2 562.5h0M402.0 538.2h0M436.2 539.3h0M424.1 582.5h0M404.6 534.3h0M421.2 583.7h0M392.3 533.5h0M451.5 574.3h0M434.4 525.5h0M427.3 541.7h0M417.1 572.5h0M447.6 531.1h0M422.9 582.4h0M429.3 582.6h0M432.0 552.0h0M409.9 561.5h0M445.8 552.8h0M445.8 552.5h0M391.3 534.2h0M440.6 527.5h0M431.8 534.4h0M431.6 550.4h0M409.6 586.7h0M431.1 525.8h0M431.2 582.1h0M415.4 559.4h0M422.3 586.2h0M444.9 575.1h0M417.0 539.5h0M427.4 583.8h0M417.1 575.9h0M427.1 545.8h0M437.0 540.9h0M424.1 552.6h0M416.9 553.5h0M455.2 556.7h0M391.4 575.0h0M395.0 554.5h0M438.5 584.1h0M386.3 527.1h0M403.3 542.8h0M456.1 574.6h0M435.5 529.1h0M405.8 541.2h0M433.2 530.4h0M394.3 531.2h0M433.9 546.9h0M390.4 529.8h0M396.8 552.3h0M445.2 534.1h0M447.2 543.7h0M441.3 545.1h0M411.4 544.6h0M427.0 556.0h0M423.2 547.9h0M400.8 553.2h0M424.9 583.1h0M414.7 525.9h0M434.9 573.1h0M438.7 580.7h0M417.6 547.4h0M416.8 526.2h0M442.8 583.7h0M421.3 572.4h0M420.2 574.1h0M423.8 529.7h0M424.0 562.2h0M399.9 560.0h0M416.1 591.2h0M443.4 554.7h0M438.8 579.5h0M434.9 568.8h0M411.5 553.3h0M397.7 532.3h0M416.5 531.3h0M421.6 581.8h0M428.6 547.4h0M386.9 538.9h0M399.2 535.0h0M421.5 575.0h0M455.4 579.0h0M442.2 534.6h0M424.3 548.2h0M430.8 547.1h0M426.5 565.9h0M443.6 537.3h0M410.6 576.3h0M454.5 573.6h0M400.0 542.4h0M429.0 538.3h0M395.8 543.4h0M423.0 578.3h0M409.4 534.6h0M416.4 550.5h0M401.4 550.2h0M434.3 534.2h0M450.9 533.5h0M402.4 542.0h0M409.7 537.7h0M421.2 551.4h0M421.5 539.8h0M437.8 533.9h0M391.9 548.1h0M407.7 544.2h0M386.1 555.6h0M400.0 570.2h0M395.6 573.8h0M393.6 566.4h0M421.3 549.8h0M443.3 584.9h0M406.6 569.2h0M441.5 528.9h0M413.4 539.9h0M413.1 548.0h0M445.1 539.2h0M402.3 556.6h0M429.1 580.8h0M456.6 556.6h0M450.2 565.8h0M408.2 543.2h0M448.5 536.0h0M428.9 534.4h0M418.6 581.9h0M415.4 546.7h0M415.7 587.7h0M423.2 585.8h0M406.4 537.8h0M405.3 536.3h0M410.0 588.9h0M434.3 539.3h0M393.4 546.6h0M432.4 567.8h0M407.6 546.1h0M385.3 545.0h0M423.5 558.0h0M424.4 534.1h0M424.1 527.9h0M435.2 590.7h0M435.4 527.0h0M388.2 586.4h0M404.3 556.4h0M421.5 545.0h0M428.7 588.4h0M388.3 580.5h0M442.0 525.8h0M448.8 587.0h0M434.2 559.9h0M390.9 584.5h0M433.1 568.4h0M450.2 540.7h0M427.9 526.8h0M395.7 560.9h0M456.2 560.1h0M392.1 536.6h0M457.2 530.3h0M449.9 568.9h0M409.2 566.7h0M399.1 590.6h0M408.4 546.9h0M403.2 533.4h0M412.1 564.6h0M409.8 564.4h0M436.5 591.1h0M421.4 561.3h0M450.9 580.1h0M430.2 535.9h0M450.7 589.4h0M400.5 571.9h0M443.2 527.5h0M442.4 532.7h0M434.5 573.5h0M388.3 539.1h0M385.5 529.0h0M396.7 568.5h0M405.1 553.5h0M435.1 557.6h0M419.5 583.6h0M397.9 543.3h0M395.7 532.9h0M400.4 547.9h0M423.5 573.4h0M403.0 552.8h0M410.1 541.1h0M432.0 559.4h0M410.4 543.1h0M408.6 546.0h0M421.2 537.8h0M457.6 563.2h0M409.5 551.6h0M423.3 538.0h0M403.7 532.3h0M407.7 554.1h0M443.4 576.2h0M389.5 532.0h0M416.2 560.2h0M434.9 574.6h0M411.2 542.8h0M425.9 535.9h0M448.9 568.7h0M416.1 538.6h0M417.8 542.1h0M409.6 564.1h0M400.7 560.0h0M433.7 526.8h0M387.6 567.6h0M456.4 557.7h0M420.4 588.8h0M428.1 587.5h0M427.5 541.3h0M429.8 553.0h0M433.1 534.5h0M432.7 579.5h0M389.6 585.3h0M433.6 562.2h0M431.7 589.9h0M401.1 548.0h0M451.3 590.1h0M395.5 538.1h0M447.1 548.6h0M404.5 538.6h0M443.5 585.1h0M403.0 556.3h0M448.1 566.4h0" stroke="#6c56ae" stroke-width="2.1"/>
<path d="M420.0 558.1h0M426.2 556.7h0M392.5 550.9h0M410.8 551.8h0M403.4 576.0h0M417.7 530.0h0M433.4 539.5h0M435.1 563.1h0M449.3 533.1h0M449.9 528.5h0M410.0 526.9h0M455.3 545.3h0M448.9 550.1h0M414.5 528.2h0M412.4 545.8h0M444.3 526.5h0M411.0 586.0h0M412.5 571.1h0M422.0 541.0h0M405.9 543.5h0M433.6 552.5h0M437.2 580.9h0M394.6 569.6h0M443.2 532.1h0M418.7 528.4h0M456.1 576.7h0M414.9 558.7h0M442.0 574.5h0M416.4 558.1h0M433.4 544.9h0M449.6 578.9h0M445.6 575.3h0M404.6 539.2h0M418.0 536.5h0M444.9 586.4h0M418.9 554.2h0M452.2 545.1h0M403.7 531.8h0M456.1 579.3h0M398.4 551.4h0M412.9 587.4h0M396.6 558.1h0M432.8 562.5h0M413.8 587.3h0M434.7 577.8h0M445.8 569.3h0M420.0 526.8h0M403.7 552.5h0M451.3 559.5h0M436.9 562.3h0M407.5 562.9h0M408.4 549.8h0M410.0 533.1h0M415.6 530.5h0M393.1 552.9h0M452.6 530.0h0M414.3 586.3h0M407.8 535.6h0M438.8 549.1h0M454.0 557.7h0M406.9 560.4h0M438.4 578.7h0M410.8 576.1h0M406.5 536.9h0M429.2 549.9h0M450.7 569.4h0M448.5 541.7h0M426.6 551.0h0M414.1 562.6h0M455.4 556.0h0M421.8 537.7h0M433.1 551.5h0M400.7 564.3h0M421.1 545.8h0M403.6 554.8h0M435.9 579.8h0M395.1 536.6h0M404.2 546.9h0M409.4 536.8h0M451.3 570.7h0M427.2 550.8h0M401.0 590.5h0M429.5 529.3h0M443.3 590.7h0M447.3 532.6h0M433.5 572.6h0M443.3 542.0h0M449.1 527.6h0M421.1 567.3h0M390.1 545.1h0M437.9 537.9h0M429.2 544.9h0M390.5 542.9h0M415.0 539.8h0M416.3 549.4h0M435.5 556.4h0M423.4 584.0h0M451.3 563.7h0M392.2 528.1h0M397.9 589.8h0M449.9 532.9h0M443.1 526.0h0M407.8 552.1h0M400.7 533.4h0M398.2 567.3h0M450.7 576.3h0M411.2 533.9h0M395.8 530.3h0M414.0 541.0h0M413.3 533.4h0M456.7 570.4h0M420.0 574.5h0M410.1 549.7h0M438.3 569.3h0M425.6 543.0h0M445.8 559.1h0M396.0 529.0h0M451.1 580.4h0M444.2 560.7h0M400.8 566.0h0M383.8 586.9h0M383.8 544.1h0M438.7 589.7h0M445.5 561.4h0M400.3 587.8h0M385.3 578.4h0M407.2 587.9h0M429.5 569.1h0M387.6 545.7h0M416.2 537.0h0M404.3 543.5h0M439.6 557.6h0M430.8 573.5h0M417.8 588.0h0M430.4 558.8h0M399.6 526.7h0M448.8 573.5h0M426.0 539.0h0M386.3 542.9h0M414.9 530.0h0M446.4 529.2h0M415.5 545.3h0M418.1 527.0h0M390.4 542.4h0M441.4 573.0h0M433.0 570.6h0M390.0 546.5h0M423.4 586.7h0M427.4 582.3h0M444.1 570.1h0M444.6 557.4h0M409.4 533.8h0M405.6 587.4h0M419.1 551.5h0M431.3 568.8h0M408.3 583.4h0M457.6 590.2h0M428.3 526.1h0M442.4 533.2h0M438.0 588.1h0M418.9 552.1h0M401.1 552.6h0M391.7 588.1h0M429.4 588.8h0M444.7 528.3h0M391.8 567.5h0M387.1 562.5h0M428.7 576.3h0M432.0 566.6h0M442.1 571.2h0M410.9 530.6h0M408.7 527.8h0M439.3 571.9h0M416.4 582.3h0M418.1 530.3h0M455.7 578.0h0M404.1 571.2h0M447.7 565.8h0M456.7 563.8h0M387.9 586.9h0M422.4 526.0h0M412.6 541.9h0M445.3 536.8h0M432.6 544.4h0M443.6 565.7h0M445.2 585.1h0M384.9 547.4h0M401.6 540.5h0M435.7 556.9h0M431.6 538.3h0M438.7 534.2h0M420.1 580.8h0M404.3 545.2h0M450.0 563.2h0M427.4 551.9h0M421.5 552.1h0M385.5 530.0h0M448.6 552.6h0M425.2 541.3h0M395.9 539.6h0M454.5 564.9h0M387.5 531.5h0M415.0 548.2h0M419.7 533.9h0M408.7 542.5h0M390.9 539.0h0M422.0 537.0h0M411.3 543.2h0M433.3 539.1h0M394.0 538.4h0M445.1 531.5h0M441.0 540.4h0M457.3 564.3h0M449.6 576.9h0M385.7 561.6h0M410.7 577.9h0M393.5 532.6h0M434.3 528.5h0M405.1 551.8h0M405.4 540.6h0M437.6 585.5h0M444.2 572.7h0M446.5 547.3h0M457.5 532.6h0M410.2 548.0h0M389.2 537.2h0M411.4 562.5h0M455.2 554.3h0M404.5 552.9h0M390.8 584.8h0M393.6 543.5h0M389.3 571.8h0M430.1 553.8h0M422.5 556.3h0M390.6 552.4h0M392.5 545.5h0M426.3 558.2h0M441.7 581.2h0M450.0 581.1h0M431.1 562.8h0M429.8 544.3h0M438.0 568.4h0M417.4 554.1h0M421.5 586.2h0M438.9 560.6h0M423.7 554.0h0M431.8 543.7h0M422.7 537.1h0M448.7 562.0h0M443.6 573.4h0M388.8 529.2h0M444.6 566.5h0M428.7 560.9h0M419.6 569.5h0M403.3 529.5h0M430.6 545.5h0M394.2 540.3h0M404.2 557.5h0M452.5 547.4h0M438.6 560.2h0M417.4 554.7h0M448.7 578.7h0M386.9 583.2h0M432.3 564.0h0M385.0 549.6h0M390.8 529.3h0M433.5 545.3h0M432.6 535.5h0M435.8 557.7h0M408.2 525.8h0M393.5 590.5h0M432.8 536.0h0M383.2 526.8h0M401.4 570.0h0M416.5 528.1h0M408.1 586.5h0M413.1 548.0h0M428.3 583.6h0M422.4 554.8h0M388.7 563.1h0M437.2 569.7h0M443.1 565.5h0M421.8 551.9h0M445.6 574.5h0M398.1 535.7h0M426.0 556.7h0M443.3 575.3h0M450.6 536.9h0M407.4 558.0h0M400.6 546.0h0M382.8 585.5h0M418.1 546.0h0M427.5 578.2h0M414.5 576.8h0M453.0 527.5h0M416.9 558.8h0M417.9 531.5h0M440.1 533.5h0M399.6 534.5h0M388.6 528.2h0M431.9 558.8h0M394.5 531.5h0M396.8 565.6h0M407.0 562.7h0M436.5 527.7h0M429.9 547.1h0M425.8 537.3h0M389.0 557.4h0M429.0 573.0h0M408.1 529.4h0M454.6 538.6h0M418.0 563.1h0M423.0 563.6h0M419.4 574.9h0M395.1 530.8h0M439.3 570.1h0M385.8 526.0h0M419.4 566.2h0M437.1 536.6h0M418.3 582.9h0M387.0 536.3h0M428.3 561.5h0M436.5 571.7h0M409.9 533.9h0M436.7 586.4h0M452.3 565.5h0M432.0 530.4h0M416.9 527.0h0M412.0 557.3h0M440.8 585.0h0M384.7 547.0h0M412.8 588.1h0M447.6 586.7h0M407.0 580.8h0M390.5 557.1h0M416.1 542.6h0M426.1 576.5h0M417.2 590.7h0M425.3 534.9h0M420.0 541.5h0M405.8 533.7h0M408.6 531.4h0M455.9 587.2h0M450.5 570.5h0M421.7 553.8h0M425.6 578.2h0M424.1 573.4h0M389.1 537.9h0M420.7 547.0h0M400.2 549.7h0M457.1 547.8h0M384.4 552.3h0M397.9 551.2h0M402.7 530.8h0M432.4 567.8h0M409.6 529.7h0M389.2 574.5h0M440.9 538.0h0M431.7 589.6h0" stroke="#4a3292" stroke-width="1.7"/>
</g>
<rect x="441.4" y="587.5" width="13.3" height="1.5" fill="#e81c24"/>
<text x="43.6" y="524.4" font-size="7.3" text-anchor="middle">H1299</text>
<line x1="76.6" y1="515.1" x2="453.3" y2="515.1" stroke="#000" stroke-width="1.2"/>
<text x="273.7" y="512.6" font-size="7.3" text-anchor="middle">H1299ρ<tspan dy="-2.4" font-size="55%">0</tspan></text>
<text x="123.6" y="524.4" font-size="7.3" text-anchor="middle">untreated</text>
<text x="190.4" y="524.4" font-size="7.3" text-anchor="middle">NFs-CM</text>
<text x="273.7" y="524.4" font-size="7.3" text-anchor="middle">iCAFs-CM</text>
<text x="342.5" y="524.4" font-size="7.3" text-anchor="middle">iCAFs-CM+heat</text>
<text x="418.7" y="524.4" font-size="7.3" text-anchor="middle">iCAFs-CM+heat+DNase</text>
<clipPath id="c15"><rect x="5.8" y="617.2" width="74" height="64.3"/></clipPath>
<g clip-path="url(#c15)" stroke-linecap="round" fill="none">
<rect x="5.8" y="617.2" width="74" height="64.3" fill="#b68ebe"/>
<path d="M19.9 638.1h0M77.4 630.1h0M68.5 639.8h0M68.4 681.8h0M60.7 673.8h0M19.5 658.7h0M7.9 638.5h0M64.8 636.5h0M52.2 652.4h0M50.5 662.3h0M35.1 676.5h0M80.2 629.3h0M47.5 624.0h0M79.5 624.1h0M53.2 618.7h0M78.8 667.1h0M63.0 681.5h0M5.7 641.1h0M18.2 619.2h0M27.5 628.4h0M39.9 663.7h0M61.4 678.7h0M13.8 644.4h0M33.7 636.6h0M58.8 652.1h0M34.0 629.4h0M31.1 662.5h0M63.4 620.6h0M52.3 648.0h0M75.9 634.6h0M7.4 648.2h0M40.8 616.6h0M33.7 666.4h0M74.2 654.6h0M69.1 652.1h0M12.1 654.3h0M46.9 630.9h0M8.5 679.5h0M9.5 632.7h0M80.7 625.5h0M28.6 619.2h0M45.7 645.4h0M6.6 669.4h0M73.3 671.0h0M30.6 627.4h0M73.9 637.6h0M36.6 678.8h0M60.7 676.6h0M74.0 644.6h0M64.4 646.3h0M14.3 641.5h0M30.7 679.8h0M28.6 634.3h0M55.7 638.9h0M17.7 666.2h0M37.6 621.4h0M65.6 652.1h0M31.6 662.0h0M9.5 656.0h0M69.5 674.8h0M49.8 667.1h0M46.2 668.4h0M24.5 621.2h0M16.1 680.5h0M15.6 646.3h0M67.4 638.5h0M55.2 628.7h0M60.9 655.4h0M70.0 668.3h0M73.0 658.4h0M69.2 639.3h0M10.4 643.6h0M9.7 643.0h0M17.1 618.6h0M58.4 675.8h0M23.8 673.9h0M75.0 640.0h0M59.4 674.7h0M24.8 617.1h0M75.0 653.8h0M57.3 659.3h0M74.3 660.0h0M30.9 626.8h0M40.2 663.7h0M8.0 646.9h0M66.0 679.2h0M56.5 667.7h0M46.5 667.1h0M26.0 646.2h0M50.5 634.4h0M76.2 662.3h0M12.6 675.9h0M40.2 653.1h0M63.5 678.1h0M30.6 679.2h0M33.1 674.6h0M41.8 636.4h0M33.8 673.8h0M47.8 626.4h0M47.2 622.0h0M66.9 682.2h0M45.8 674.8h0M40.6 661.7h0M50.8 632.7h0M9.1 677.1h0M50.6 674.1h0M34.6 655.0h0M55.1 656.2h0M31.5 641.7h0M19.1 676.5h0M71.8 660.6h0M20.8 637.2h0M52.6 644.3h0M58.3 633.0h0M65.3 675.0h0M7.7 636.0h0M24.4 678.9h0M47.6 630.2h0M28.2 677.2h0M77.1 664.1h0M58.1 616.2h0M49.1 636.6h0M58.4 647.6h0M61.2 671.6h0M67.8 665.5h0M11.2 629.0h0M48.1 682.2h0M36.6 681.5h0M24.1 628.6h0M68.8 642.9h0M59.6 658.8h0M19.9 635.1h0M38.2 664.7h0M50.4 629.7h0M67.1 662.1h0M43.1 623.2h0M41.1 619.3h0M78.8 668.4h0M41.6 640.5h0M54.8 617.7h0M75.3 666.4h0M68.0 679.3h0M76.7 675.5h0M15.1 651.5h0M62.5 656.1h0M72.3 651.4h0M25.5 620.6h0M8.4 665.6h0M59.0 616.9h0M75.3 674.2h0M34.3 676.8h0M39.6 633.5h0M42.0 625.4h0M78.9 666.7h0M74.3 639.4h0M58.4 654.8h0M55.4 669.4h0M73.4 680.1h0M31.9 649.8h0M21.7 681.1h0M40.3 675.0h0M22.8 666.9h0M69.3 625.1h0M28.0 650.5h0M43.9 639.2h0M44.3 673.2h0M42.5 678.5h0M11.9 652.0h0M20.5 671.0h0M60.4 663.1h0M56.5 681.9h0M31.4 624.2h0M50.1 661.8h0M38.9 655.4h0M74.2 643.3h0M27.2 682.3h0M70.0 644.1h0M29.8 637.7h0M36.4 679.8h0M33.7 662.5h0M66.8 654.3h0M20.8 642.0h0M55.3 647.0h0M16.3 629.9h0M24.3 634.8h0M72.2 639.6h0M40.7 679.1h0M79.4 636.6h0M13.9 629.9h0M63.7 648.9h0M5.9 681.7h0M5.0 673.8h0M19.0 638.4h0M73.1 649.6h0M66.5 644.8h0M75.1 617.7h0M23.1 659.5h0M53.4 644.7h0M62.0 621.4h0M28.2 667.8h0M42.7 643.5h0M30.0 628.8h0M71.6 649.7h0M49.0 638.9h0M18.4 671.7h0M13.4 624.8h0M77.1 617.4h0M73.8 661.0h0M55.2 636.7h0M15.0 623.7h0M62.2 675.8h0M38.0 676.7h0M75.0 681.3h0M61.4 657.1h0M56.5 662.0h0M41.6 628.7h0M29.6 661.8h0M36.9 665.8h0M13.7 670.4h0M26.0 670.3h0M65.7 645.4h0M77.1 663.8h0M64.9 621.7h0M10.1 663.0h0M63.2 664.7h0M19.8 652.3h0M76.1 617.8h0M7.2 621.1h0M30.4 634.2h0M59.7 679.1h0M35.4 637.0h0M5.0 629.6h0M15.8 680.7h0M68.0 644.3h0M56.4 626.5h0M54.5 649.9h0M8.3 635.2h0M73.3 680.7h0M37.2 628.7h0M50.3 665.0h0M52.1 655.4h0M19.2 649.0h0M78.9 654.4h0M48.2 661.3h0M42.1 629.7h0M10.3 679.7h0M41.5 653.2h0M10.5 638.3h0M72.7 663.7h0M46.7 662.9h0M62.4 635.1h0M73.4 653.5h0M73.8 619.5h0M56.5 657.0h0M12.1 643.0h0M29.9 673.3h0M42.6 665.8h0M54.8 631.6h0M10.5 630.9h0M72.4 673.7h0M59.5 681.5h0M51.3 652.2h0M49.4 649.9h0M8.1 663.7h0M65.7 644.4h0M33.4 624.6h0M70.3 681.2h0M62.0 623.8h0M60.4 674.5h0M70.1 672.2h0M33.9 675.7h0M24.6 648.8h0M36.3 671.7h0M72.2 677.8h0M61.7 648.3h0M73.1 667.4h0M29.0 653.9h0M77.0 629.8h0M73.8 638.2h0M18.8 632.1h0M71.4 649.3h0M12.7 630.2h0M57.9 632.3h0M79.9 632.5h0M59.4 677.3h0M56.0 656.5h0M25.3 678.8h0M42.3 632.4h0M16.3 665.5h0M31.2 636.3h0M35.0 668.9h0M52.3 680.7h0M66.2 675.2h0M42.9 634.1h0M7.0 673.0h0M16.2 627.2h0M53.8 622.9h0M29.6 654.4h0M19.3 625.5h0M78.5 655.6h0M43.4 624.9h0M31.4 677.4h0M22.7 639.4h0M58.0 638.9h0M47.0 657.0h0M38.8 623.7h0M50.7 674.4h0M55.5 642.4h0M67.4 680.3h0M45.5 647.5h0M14.6 677.9h0M74.9 680.1h0M22.1 671.2h0M50.6 667.3h0M14.4 665.2h0M60.5 644.3h0M15.1 636.7h0M30.3 677.8h0M59.3 676.0h0M69.9 669.9h0M5.3 618.9h0M48.5 679.1h0M30.3 666.8h0M42.4 631.3h0M36.5 637.1h0M72.4 643.9h0M50.8 675.7h0M36.3 679.9h0M31.6 632.4h0M25.9 666.0h0M72.9 626.3h0M77.6 618.0h0M61.1 661.6h0M18.2 641.0h0M53.0 622.7h0M78.5 644.9h0M17.0 655.9h0M14.6 633.3h0M15.5 679.0h0M28.7 655.7h0M79.3 666.9h0M17.2 624.3h0M34.4 666.5h0M29.3 654.3h0M69.4 639.3h0M49.4 649.8h0M68.7 629.6h0M78.0 653.1h0M65.4 679.4h0M64.4 677.0h0M77.1 666.2h0M65.7 671.2h0M8.8 670.0h0M14.2 665.0h0M62.1 638.5h0M60.4 651.6h0M17.7 665.7h0M67.6 643.2h0M64.1 672.9h0M5.8 631.9h0M52.8 666.6h0M80.0 671.0h0M51.4 653.1h0M34.2 640.3h0M52.2 656.6h0M35.3 655.7h0M63.0 638.4h0M23.8 620.3h0M59.7 667.5h0M13.7 674.4h0M78.6 634.1h0M55.5 669.1h0M71.6 661.7h0M29.3 620.1h0M27.1 654.5h0M28.8 617.3h0M54.5 682.3h0M13.7 645.4h0M65.0 652.6h0M72.2 620.9h0M26.3 640.1h0M61.1 668.8h0M52.1 659.3h0M11.6 657.4h0M67.2 646.1h0M10.4 656.6h0M71.3 650.4h0M52.8 650.1h0M14.7 636.6h0M58.1 645.4h0M59.2 645.7h0M50.8 627.4h0M46.6 645.3h0M59.4 656.9h0M16.1 631.6h0M29.3 632.7h0M29.7 641.5h0M15.5 619.0h0M14.3 643.9h0M32.1 677.0h0M10.7 629.1h0M62.6 647.6h0M45.1 667.7h0M45.6 622.4h0M52.9 633.8h0M38.3 665.2h0M47.4 670.4h0M54.9 659.5h0M76.2 653.4h0M49.2 663.6h0M43.1 675.6h0M8.2 627.7h0M33.9 654.0h0M28.8 621.1h0M29.9 664.3h0M41.9 676.5h0M51.0 637.8h0M60.1 679.1h0M14.5 648.3h0M51.9 671.3h0M27.4 681.8h0M47.5 668.6h0M32.5 667.5h0M8.3 647.5h0M28.7 649.8h0M56.5 674.9h0M18.2 631.4h0M79.3 667.4h0M66.5 657.1h0M61.5 618.5h0M34.0 624.5h0M76.5 635.1h0M42.6 643.5h0M78.2 634.1h0M25.4 631.8h0M34.4 640.0h0M77.1 656.1h0M36.6 682.2h0M73.7 649.5h0M33.9 659.2h0M75.7 658.0h0M71.8 641.2h0M40.1 663.9h0M67.9 675.6h0M38.0 678.2h0M23.1 620.0h0M8.2 664.6h0M62.4 652.9h0M55.5 665.0h0M71.9 623.3h0M57.0 616.9h0M30.1 662.1h0M48.5 668.0h0M13.9 671.8h0M44.5 630.9h0M40.6 668.7h0M75.3 647.3h0M78.3 657.9h0M64.4 679.8h0M65.5 633.1h0M13.6 628.3h0M78.1 679.8h0M65.3 676.6h0M66.0 649.5h0M33.5 629.4h0M67.2 653.6h0M73.9 623.0h0M72.2 670.2h0M43.8 643.0h0M10.4 618.1h0M33.7 671.1h0M29.1 647.4h0M6.4 654.3h0M10.0 646.3h0M34.1 679.6h0M23.1 681.0h0M39.9 677.8h0M43.4 659.9h0M51.2 639.3h0M38.1 628.3h0M11.9 671.1h0M60.9 679.2h0M57.1 675.9h0M59.8 643.6h0M52.2 638.7h0M6.5 680.9h0M50.6 660.1h0M71.5 643.1h0M19.0 629.4h0M5.1 622.6h0M16.7 621.5h0M55.9 676.2h0M75.9 647.3h0M49.0 680.2h0M67.0 669.7h0M44.5 663.3h0M28.8 621.4h0M33.5 632.3h0M47.2 649.0h0M79.1 671.8h0M33.3 634.6h0M43.4 672.1h0M38.7 653.2h0M36.8 679.7h0M66.7 680.1h0M44.7 672.1h0M30.9 673.0h0M64.6 662.9h0M53.1 676.1h0M52.3 668.0h0M13.8 657.0h0M53.0 673.5h0M65.3 675.7h0M55.1 629.3h0M66.1 668.2h0M55.0 635.4h0M79.9 617.2h0M24.3 647.7h0M20.1 666.1h0M75.3 655.4h0M34.3 616.2h0M24.6 644.9h0M62.9 661.6h0M58.2 661.0h0M63.5 636.2h0M62.3 673.0h0M61.3 666.8h0M50.2 647.5h0M67.7 626.8h0M22.2 661.8h0M36.9 666.4h0M23.6 664.8h0M55.3 667.8h0M54.2 647.9h0M8.0 650.8h0M35.8 628.0h0M11.2 659.9h0M35.0 618.6h0M55.1 641.0h0M50.1 636.6h0M9.6 634.6h0M24.3 652.9h0M31.7 680.9h0M41.4 626.1h0M37.9 676.4h0M50.2 638.3h0M54.1 667.2h0M7.5 628.1h0M31.2 668.8h0M35.7 678.5h0M11.1 658.2h0M63.8 660.9h0M31.0 662.1h0M67.3 634.3h0M77.9 659.0h0M62.7 665.5h0M59.2 646.5h0M27.7 665.4h0M16.9 676.2h0M10.2 645.5h0M55.6 664.4h0M42.0 653.4h0M46.2 658.4h0M5.3 619.7h0M42.8 679.5h0M24.8 680.9h0M26.2 621.0h0M12.8 623.9h0M28.4 681.9h0M40.8 641.0h0M61.8 675.8h0M61.7 665.0h0M63.0 674.2h0M52.4 672.9h0M28.4 646.1h0M54.4 660.7h0M56.2 659.6h0M30.8 670.7h0M39.8 647.7h0M29.5 664.2h0M56.6 627.7h0M5.9 664.6h0M57.1 638.2h0M8.4 670.2h0M51.9 621.1h0M58.0 657.8h0M47.1 631.2h0M26.6 672.5h0M70.6 650.7h0M19.6 649.5h0M59.2 682.3h0M22.0 666.2h0M15.2 647.4h0M69.6 628.6h0M9.8 619.2h0M57.2 679.6h0M19.5 667.7h0M15.4 682.0h0M69.3 680.9h0M44.5 670.5h0M34.8 653.2h0M29.6 621.8h0M70.4 637.3h0M13.8 678.9h0M45.1 623.7h0M68.6 626.5h0M59.0 664.0h0M77.6 660.0h0M49.5 637.7h0M26.1 667.2h0M63.2 668.4h0M76.8 670.1h0M40.7 649.6h0M37.5 647.8h0M28.2 662.5h0M73.7 639.7h0M57.3 652.7h0M67.3 679.9h0M73.9 617.7h0M40.1 629.9h0M59.7 635.3h0M39.3 664.7h0M59.5 681.7h0M67.8 639.3h0M48.2 661.6h0M15.9 645.9h0M16.3 668.5h0M36.0 617.4h0M74.8 625.0h0M38.5 670.7h0M50.8 624.2h0M71.6 664.2h0M28.7 644.0h0M16.2 682.2h0M47.7 677.1h0M37.0 675.0h0M30.4 631.3h0M67.1 661.0h0M78.7 617.0h0M44.8 664.6h0M5.3 637.8h0M20.9 678.3h0M26.4 630.3h0M79.7 657.0h0M60.8 663.7h0M15.0 652.8h0M74.5 651.9h0M30.0 617.3h0M57.7 660.8h0M18.5 649.5h0M46.2 636.4h0M6.7 619.2h0M58.1 682.3h0M62.1 639.9h0M78.6 679.0h0M16.9 643.8h0M14.3 678.1h0M48.6 656.9h0M24.6 636.1h0M32.5 619.4h0M68.3 617.2h0M33.1 664.9h0M24.5 632.0h0M60.2 681.8h0M62.0 631.8h0M44.6 623.4h0M60.9 660.8h0M38.7 666.1h0M30.6 678.5h0M65.0 636.3h0M20.1 633.7h0M68.5 670.1h0M9.0 677.4h0M71.3 625.6h0M65.0 649.6h0M28.3 625.3h0M80.6 618.7h0M17.1 660.3h0M51.2 681.6h0M54.7 663.5h0M30.0 616.5h0M25.2 620.9h0M34.8 665.3h0M56.3 628.8h0M70.8 618.6h0M36.4 632.3h0M30.6 660.4h0M21.8 670.2h0M62.9 665.0h0M64.2 623.7h0M63.7 647.6h0M42.5 666.1h0M51.3 633.5h0M69.5 644.2h0M49.0 624.9h0M32.7 677.5h0M76.4 668.1h0M63.9 647.6h0M28.4 673.9h0M49.0 627.8h0M30.9 639.9h0M78.1 668.8h0M66.4 680.5h0M34.7 656.5h0M23.8 638.3h0M42.9 669.8h0M21.0 641.8h0M41.5 654.6h0M79.0 670.4h0M33.0 656.3h0M16.3 644.3h0M42.8 641.6h0M41.4 617.5h0M72.1 664.7h0M27.2 631.1h0M13.0 679.4h0M19.7 659.9h0M79.3 634.0h0M14.9 654.3h0M17.7 643.8h0M60.0 650.4h0M54.3 663.1h0M18.2 677.2h0M42.7 664.5h0M48.7 679.2h0M70.7 636.1h0M47.7 643.1h0M74.3 662.4h0M11.5 668.9h0M79.9 675.2h0M58.4 646.7h0M65.4 666.0h0M10.5 625.5h0M59.7 631.3h0M32.0 631.1h0M7.0 664.3h0M59.9 629.3h0M65.8 643.4h0M49.0 653.4h0M64.9 681.1h0M38.2 668.6h0M64.5 646.0h0M21.4 643.1h0M46.2 667.5h0M44.8 672.9h0M28.0 662.6h0M36.2 675.6h0M67.5 679.3h0M18.5 618.6h0M38.7 635.8h0M47.4 677.2h0M53.8 624.6h0M6.3 627.5h0M34.9 668.8h0M42.0 633.8h0M40.9 655.4h0M60.2 654.8h0M11.3 637.5h0M13.0 616.5h0M74.5 654.4h0M19.6 659.3h0M5.6 652.0h0M74.9 625.1h0M16.9 665.1h0M64.7 680.3h0M42.2 652.2h0M43.0 629.6h0M72.8 673.5h0M31.0 630.8h0M31.8 623.3h0M32.3 658.9h0M60.2 639.2h0M16.2 626.3h0M75.3 620.8h0M78.8 654.1h0M32.4 677.3h0M47.9 665.6h0M40.9 670.3h0M60.1 671.6h0M9.3 649.8h0M67.8 658.9h0M31.0 665.6h0M31.4 649.1h0M22.0 635.2h0M41.3 648.4h0M17.4 652.2h0M51.5 659.7h0M14.1 640.0h0M52.5 659.6h0M68.6 671.5h0M65.5 626.5h0M58.3 661.7h0M15.4 655.6h0M76.1 622.7h0M32.1 652.6h0M44.7 632.5h0M15.6 630.8h0M76.1 671.1h0M33.4 660.7h0M31.1 620.7h0M79.8 653.1h0M71.1 626.1h0M39.6 666.4h0M40.9 639.5h0M11.6 654.1h0M45.3 675.1h0M19.2 646.4h0M78.0 647.7h0M40.7 679.8h0M46.9 678.1h0M30.4 635.5h0M60.8 623.7h0M46.3 640.6h0M36.6 653.0h0M13.0 666.4h0M13.4 628.2h0M34.6 630.2h0M73.2 629.0h0M43.2 644.6h0M28.0 638.2h0M19.9 679.8h0M45.1 656.6h0M36.1 665.2h0M38.9 667.6h0M13.6 626.5h0M39.8 641.4h0M26.0 674.5h0M64.9 669.5h0M22.5 668.5h0M45.2 662.7h0M38.8 636.3h0M54.4 645.7h0M31.7 643.2h0M75.0 628.0h0M8.0 678.1h0M17.3 659.5h0M39.3 661.5h0M69.4 640.6h0M27.1 666.4h0M46.3 643.4h0M39.2 671.2h0M43.1 672.3h0M71.8 617.6h0M24.8 631.5h0M7.0 651.9h0M52.7 651.6h0M25.9 627.8h0M38.7 648.3h0M73.9 650.2h0M60.7 643.2h0M62.3 626.4h0M5.4 618.5h0M33.0 625.3h0M74.3 661.3h0M69.9 651.6h0M43.0 681.8h0M22.1 677.8h0M80.2 628.3h0M10.4 668.1h0M55.4 672.1h0M38.7 619.5h0M78.8 641.6h0M6.0 641.8h0M38.8 660.0h0M36.0 623.0h0M44.6 620.8h0M10.7 675.6h0M56.5 664.4h0M45.4 665.9h0M61.9 623.3h0M35.0 633.0h0M54.9 681.5h0M19.5 644.0h0M11.9 631.9h0M40.1 663.9h0M16.3 670.1h0M36.2 681.7h0M56.5 649.0h0M64.1 646.4h0M80.8 679.8h0M76.2 676.1h0M27.4 619.9h0M8.9 633.8h0M23.7 654.6h0M27.5 665.5h0M69.4 670.5h0M10.2 634.7h0M29.3 670.6h0M74.5 647.8h0M76.3 669.2h0M69.0 673.9h0M24.8 640.7h0M7.6 669.2h0M48.6 662.4h0M22.1 626.3h0M67.4 682.1h0M41.8 621.2h0M52.6 663.4h0M63.9 657.6h0M76.9 654.8h0M50.7 627.8h0M48.2 632.0h0M54.7 650.9h0M40.6 670.5h0M58.5 644.9h0M28.8 669.2h0M80.5 639.1h0M76.7 641.3h0M46.2 672.9h0M22.1 619.9h0M62.5 637.0h0M77.1 663.9h0M68.3 628.6h0M68.6 678.3h0M58.5 621.3h0M10.3 679.8h0M74.9 678.8h0M45.0 649.9h0M51.7 629.1h0M67.4 668.4h0M73.4 643.9h0M68.5 625.6h0M7.8 634.4h0M77.2 649.2h0M27.8 640.4h0M36.4 678.5h0M74.2 628.9h0M59.8 663.1h0M13.6 670.7h0M64.3 642.3h0M38.7 651.6h0M58.8 669.3h0M41.7 654.4h0M31.4 648.7h0M37.2 626.4h0M77.3 669.1h0M30.3 616.8h0M32.6 646.2h0M64.7 634.1h0M56.6 627.2h0M9.9 616.7h0M41.8 668.4h0M34.9 654.4h0M17.6 640.4h0M8.4 640.2h0M54.6 640.4h0M80.8 658.7h0M15.6 636.0h0M22.9 641.6h0M57.1 632.5h0M43.6 633.2h0M47.9 632.2h0M12.5 657.3h0M31.4 648.7h0M17.2 640.5h0M13.2 635.0h0M18.4 644.1h0M40.1 659.5h0M29.1 632.3h0M27.0 661.5h0M79.1 646.9h0M77.8 636.0h0M13.5 647.6h0M45.6 667.0h0M13.4 645.3h0M76.8 627.7h0M61.4 646.9h0M73.7 667.8h0M53.1 630.5h0M53.3 673.7h0M42.4 679.7h0M65.9 653.2h0M24.7 663.9h0M39.3 679.7h0M46.6 677.5h0M64.6 624.9h0M13.0 637.1h0M57.0 639.5h0M76.9 670.9h0M17.6 623.4h0M73.3 623.9h0M44.6 646.0h0M59.6 642.9h0M51.7 660.1h0M30.0 660.4h0M71.2 620.4h0M46.3 664.7h0M19.7 651.2h0M56.1 675.6h0M28.9 647.2h0M52.8 662.7h0M54.6 664.1h0M44.3 665.7h0M61.1 627.2h0M48.9 656.0h0M66.7 674.7h0M9.3 677.8h0M57.1 628.9h0M72.5 622.7h0M16.1 645.4h0M53.1 660.7h0M48.6 649.8h0M17.1 635.9h0M71.4 648.3h0M42.5 624.1h0M45.9 651.1h0M63.5 636.9h0M6.8 643.8h0M14.3 649.0h0M6.0 678.3h0M76.5 653.9h0M32.5 677.9h0M25.4 668.0h0M53.1 660.9h0M26.9 668.7h0M49.3 670.3h0M53.1 676.5h0M17.3 619.3h0M42.6 618.5h0M74.4 681.6h0M62.7 655.9h0M6.0 657.7h0M32.9 664.8h0M71.9 670.8h0M19.5 667.6h0M36.5 663.7h0M22.2 664.2h0M60.6 624.7h0M54.3 622.6h0M70.9 640.9h0M23.1 639.7h0M72.5 657.9h0M31.5 667.4h0M57.1 662.0h0M21.1 676.2h0M74.3 677.6h0M38.0 617.6h0M59.0 616.5h0M43.7 626.5h0M10.5 633.9h0M79.1 626.9h0M67.9 629.7h0M21.5 675.7h0M32.3 649.8h0M78.1 616.2h0M23.1 678.4h0M12.9 649.2h0M56.1 631.6h0M39.4 673.8h0M15.3 647.9h0M9.3 657.3h0M32.5 678.9h0M19.3 657.8h0M12.8 649.7h0M35.1 629.8h0M35.5 643.1h0M68.2 669.8h0M66.9 658.9h0M7.3 676.7h0M23.8 653.2h0M14.2 660.5h0M33.9 649.4h0M49.5 658.2h0M7.8 666.8h0M38.5 651.5h0M9.4 662.3h0M60.5 622.6h0M61.9 669.0h0M62.6 674.6h0M75.7 630.5h0M54.1 676.5h0M61.2 663.2h0M58.9 660.2h0M25.6 626.3h0M70.8 652.1h0M24.3 658.4h0M53.6 656.9h0M43.5 637.1h0M66.0 637.2h0M41.9 643.7h0M74.9 657.9h0M32.9 661.5h0M14.6 632.4h0M67.7 668.5h0M27.3 621.7h0M30.0 660.6h0M22.5 636.4h0M61.6 637.0h0M44.2 674.8h0M70.3 672.6h0M24.5 628.2h0M5.1 652.2h0M11.8 668.9h0M5.8 654.9h0M20.9 641.1h0M77.3 619.4h0M39.1 617.1h0M7.9 679.6h0M29.6 652.0h0M54.8 680.6h0M30.6 657.2h0M70.7 626.3h0M56.5 659.0h0M38.5 678.9h0M55.6 626.4h0M80.1 639.9h0M57.6 642.1h0M42.8 633.3h0M56.8 654.3h0M6.8 632.0h0M62.7 667.1h0M28.8 673.9h0M24.2 634.2h0M59.7 649.3h0M67.0 681.1h0M30.8 630.5h0M13.7 678.9h0M47.9 635.2h0M76.1 668.7h0M27.6 678.7h0M45.1 655.2h0M65.7 625.7h0M34.2 668.8h0M40.4 679.7h0M39.1 647.2h0M59.2 644.1h0M76.6 674.4h0M35.2 633.7h0M44.8 637.1h0M42.2 679.4h0M23.0 677.0h0M74.2 635.2h0M10.6 655.0h0M6.3 639.7h0M69.5 623.4h0M11.3 616.4h0M22.7 641.1h0M80.7 675.8h0M80.5 673.1h0M36.0 623.0h0M17.6 639.4h0M18.6 674.5h0M20.2 679.1h0M24.0 647.9h0M38.4 641.1h0M80.2 664.0h0" stroke="#6e20b6" stroke-width="2.2"/>
<path d="M75.2 643.0h0M12.2 644.2h0M54.2 664.9h0M38.7 658.8h0M62.2 650.2h0M53.9 655.0h0M32.8 618.7h0M45.9 666.9h0M21.4 628.4h0M74.2 616.4h0M56.6 658.4h0M71.5 671.7h0M9.0 678.6h0M61.8 620.2h0M79.6 679.0h0M5.6 628.3h0M37.9 674.7h0M34.5 618.1h0M5.4 644.8h0M49.5 644.6h0M79.2 661.3h0M78.4 648.8h0M19.7 651.4h0M71.0 670.6h0M53.8 660.6h0M20.8 632.8h0M19.1 641.5h0M43.1 638.5h0M53.7 652.0h0M30.8 645.6h0M53.7 655.7h0M13.4 671.7h0M46.2 658.5h0M7.7 649.1h0M12.0 674.4h0M23.7 636.0h0M55.2 628.3h0M60.0 680.6h0M51.6 642.8h0M51.3 651.3h0M71.0 672.2h0M68.5 657.3h0M70.0 617.3h0M7.8 671.9h0M33.3 679.1h0M33.9 651.5h0M37.1 623.6h0M44.7 676.0h0M11.6 672.0h0M49.9 647.5h0M30.3 682.4h0M75.5 638.6h0M74.5 673.6h0M79.9 655.5h0M28.6 675.5h0M69.2 647.1h0M74.2 620.4h0M71.5 673.9h0M31.6 679.7h0M77.1 655.7h0M48.2 665.9h0M53.7 655.4h0M9.3 661.7h0M26.7 640.8h0M38.2 667.6h0M49.6 659.3h0M78.9 632.0h0M51.3 625.7h0M80.5 634.3h0M50.3 658.6h0M7.6 676.7h0M57.5 666.4h0M46.1 677.5h0M30.0 634.2h0M24.4 641.8h0M60.5 651.2h0M50.8 658.7h0M76.4 661.9h0M76.7 636.9h0M24.7 618.4h0M44.2 668.7h0M57.8 637.6h0M36.7 626.5h0M67.6 678.8h0M40.5 625.3h0M54.8 651.2h0M37.5 632.2h0M65.2 676.0h0M34.9 619.3h0M18.9 631.8h0M61.9 671.6h0M75.4 659.7h0M58.6 673.7h0M63.2 676.0h0M68.1 678.1h0M36.4 676.7h0M58.1 624.6h0M75.9 637.2h0M64.4 636.3h0M68.4 634.1h0M45.6 655.0h0M74.0 642.9h0M68.5 656.4h0M23.6 649.9h0M27.3 621.2h0M42.0 619.2h0M80.3 641.6h0M68.4 655.7h0M78.0 646.1h0M41.8 665.7h0M63.5 646.0h0M68.7 664.0h0M57.4 637.6h0M61.0 624.6h0M62.4 625.7h0M80.8 643.9h0M16.9 648.8h0M25.3 648.3h0M62.8 640.2h0M19.7 669.8h0M44.4 682.4h0M37.6 621.6h0M31.7 674.4h0M61.7 675.0h0M16.5 668.4h0M18.7 653.2h0M67.4 672.0h0M29.7 648.6h0M63.1 670.5h0M38.8 652.5h0M19.2 672.4h0M8.2 673.3h0M46.9 620.6h0M25.5 634.9h0M33.0 657.1h0M51.4 676.2h0M40.3 673.1h0M77.3 620.7h0M77.5 675.3h0M79.9 646.8h0M74.9 681.0h0M45.7 674.2h0M40.0 618.5h0M60.8 682.0h0M71.0 645.1h0M28.7 661.9h0M71.6 669.6h0M8.3 662.4h0M43.5 665.7h0M47.0 651.6h0M45.5 651.0h0M59.9 662.3h0M12.8 678.6h0M52.8 668.9h0M75.5 664.0h0M18.8 676.5h0M26.4 634.3h0M23.9 656.5h0M80.7 668.5h0M63.9 620.2h0M36.5 659.4h0M61.3 647.1h0M11.3 674.2h0M38.0 634.8h0M55.1 673.1h0M21.8 644.9h0M31.8 618.4h0M19.5 668.1h0M53.1 636.7h0M62.8 651.7h0M30.4 653.7h0M39.0 647.6h0M36.0 648.3h0M39.6 667.6h0M57.2 655.8h0M61.1 670.5h0M33.8 621.2h0M50.4 625.9h0M49.5 680.5h0M53.5 645.8h0M39.4 652.3h0M77.4 675.1h0M65.4 643.4h0M45.4 627.8h0M42.8 624.7h0M23.3 647.1h0M65.3 627.0h0M32.1 679.7h0M30.3 632.8h0M19.8 651.8h0M68.5 677.4h0M5.5 668.7h0M38.1 664.2h0M62.3 651.5h0M55.4 643.8h0M38.0 641.1h0M59.7 638.3h0M5.8 656.9h0M39.7 638.2h0M46.7 679.5h0M24.1 635.8h0M44.2 669.8h0M56.6 659.1h0M26.8 661.5h0M74.4 651.0h0M47.0 633.0h0M36.6 658.3h0M37.7 629.1h0M29.7 670.5h0M52.4 649.3h0M12.6 639.8h0M49.8 642.2h0M8.7 618.3h0M77.5 644.1h0M16.2 672.7h0M73.5 637.4h0M19.2 658.6h0M42.8 627.8h0M29.3 647.6h0M54.7 677.3h0M73.9 630.8h0M50.4 666.3h0M42.6 680.9h0M52.8 672.2h0M5.7 653.4h0M13.7 680.4h0M17.5 634.1h0M78.5 620.4h0M47.7 644.5h0M36.1 631.2h0M12.4 678.4h0M12.3 641.5h0M46.5 636.3h0M62.9 657.2h0M34.5 624.8h0M56.6 621.8h0M24.3 621.7h0M28.2 646.5h0M65.6 638.4h0M39.2 675.6h0M55.1 669.2h0M40.1 661.7h0M35.7 673.9h0M61.9 643.9h0M75.3 664.8h0M35.9 636.8h0M12.7 617.8h0M4.9 644.9h0M28.9 682.5h0M17.3 673.6h0M58.0 650.1h0M71.6 679.0h0M44.7 660.9h0M52.7 679.1h0M57.7 638.9h0M27.3 660.3h0M5.5 616.7h0M16.1 650.5h0M9.1 641.0h0M55.8 674.2h0M39.8 640.1h0M25.4 655.4h0M53.4 677.2h0M51.0 630.9h0M31.6 667.7h0M75.9 648.0h0M68.7 666.5h0M55.2 676.0h0M59.8 668.8h0M45.9 660.0h0M52.0 672.5h0M24.1 626.6h0M13.9 640.4h0M73.2 617.5h0M70.6 626.7h0M68.4 668.6h0M16.6 665.3h0M30.3 662.4h0M22.2 644.7h0M30.9 662.5h0M80.7 661.3h0M61.6 668.7h0M43.0 673.4h0M39.3 675.2h0M79.9 629.2h0M15.9 674.2h0M43.1 637.0h0M65.4 659.0h0M78.9 624.9h0M45.3 651.6h0M30.4 627.7h0M12.0 669.1h0M64.9 650.6h0M58.6 623.6h0M44.9 661.7h0M71.0 678.8h0M52.7 661.5h0M8.1 670.0h0M49.6 656.9h0M34.7 630.2h0M35.2 657.5h0M60.4 648.7h0M19.8 624.3h0M79.8 639.7h0M25.9 653.6h0M11.2 639.7h0M44.5 649.3h0M61.9 652.4h0M6.9 674.8h0M44.8 637.4h0M11.2 655.6h0M78.9 624.3h0M68.2 648.4h0M51.4 662.9h0M44.4 642.1h0M46.3 660.4h0M54.7 649.5h0M52.1 643.6h0M60.5 660.0h0M28.8 666.1h0M70.4 616.3h0M45.5 637.1h0M45.6 641.2h0M62.7 647.8h0M10.0 630.9h0M25.6 669.3h0M19.7 657.9h0M28.2 667.4h0M79.2 681.2h0M32.0 626.3h0M70.2 667.6h0M55.2 661.9h0M46.9 661.9h0M61.5 647.3h0M9.3 680.2h0M20.4 624.2h0M77.8 647.1h0M14.4 632.1h0M56.5 651.4h0M13.9 675.2h0M29.0 658.3h0M72.9 668.7h0M14.4 626.1h0M48.5 673.8h0M55.5 637.1h0M16.3 649.2h0M17.3 661.2h0M71.9 669.1h0M51.3 632.8h0M30.4 628.6h0M61.2 659.7h0M78.8 675.8h0M9.7 678.2h0M19.0 616.5h0M10.6 642.7h0M68.6 679.1h0M41.4 662.0h0M8.5 651.0h0M35.1 653.0h0M66.1 647.0h0M76.0 627.4h0M6.8 654.1h0M30.6 654.8h0M29.8 652.7h0M57.7 644.8h0M19.9 641.9h0M49.5 649.2h0M69.2 624.8h0M30.9 619.1h0M6.9 652.5h0M72.9 651.2h0M79.6 624.7h0M12.1 675.5h0M74.4 631.1h0M20.1 645.6h0M72.2 656.6h0M5.6 667.2h0M56.2 670.6h0M8.1 627.1h0M29.4 664.2h0M9.7 658.8h0M12.8 665.0h0M34.5 636.2h0M48.4 643.1h0M29.8 650.1h0M29.8 656.4h0M56.2 658.1h0M71.7 669.9h0M70.0 646.8h0M62.1 681.8h0M31.9 628.3h0M67.5 643.8h0M80.6 674.7h0M35.7 621.0h0M8.8 626.4h0M5.2 664.6h0M75.7 681.8h0M14.0 664.1h0M5.6 661.5h0M21.3 679.5h0M78.7 672.7h0M72.5 626.4h0M60.2 646.2h0M21.4 650.6h0M39.3 647.9h0M35.1 631.6h0M13.5 634.3h0M51.9 674.0h0M79.6 632.3h0M23.6 664.2h0M53.9 642.6h0M48.8 665.2h0M50.4 672.2h0M78.6 618.2h0M75.0 670.8h0M51.6 637.9h0M48.2 671.2h0M24.7 636.5h0M44.3 674.7h0M47.8 641.5h0M80.0 647.4h0M7.8 628.4h0M41.8 645.8h0M51.1 648.6h0M72.8 671.9h0M54.7 664.7h0M67.9 655.3h0M62.8 667.7h0M65.3 662.1h0M26.0 660.3h0M8.7 633.2h0M39.7 659.6h0M43.7 621.6h0M63.7 676.9h0M65.4 665.2h0M77.3 681.8h0M8.1 672.0h0M76.4 682.0h0M33.0 654.4h0M44.8 660.5h0M17.9 669.3h0M9.9 669.6h0M16.6 619.8h0M40.2 667.6h0M28.6 665.1h0M20.5 664.5h0M9.6 657.1h0M57.0 674.7h0M64.9 660.1h0M66.6 633.0h0M13.6 622.0h0M38.9 673.0h0M73.7 650.4h0M61.6 628.7h0M40.4 632.5h0M50.0 632.6h0M13.0 674.6h0M30.7 665.2h0M66.5 657.4h0M66.7 642.3h0M22.2 618.7h0M16.6 620.9h0M6.8 661.3h0M19.0 672.1h0M59.2 656.4h0M27.5 653.7h0M49.9 624.8h0M59.7 677.4h0M20.1 639.2h0M36.8 636.6h0M64.0 680.5h0M73.2 635.7h0M73.3 671.0h0M58.5 680.5h0M52.1 661.8h0M50.7 631.2h0M78.7 650.2h0M70.5 625.3h0M42.7 671.1h0M64.1 655.3h0M17.2 681.6h0M25.0 656.5h0M59.6 654.8h0M80.1 673.1h0M74.3 638.7h0M70.1 666.8h0M34.6 635.9h0M33.7 652.2h0M47.1 648.3h0M70.1 656.7h0M59.4 641.7h0M15.0 646.3h0M80.7 681.5h0M7.9 619.3h0M22.6 617.6h0M76.3 618.3h0M71.2 675.9h0M50.9 658.8h0M38.0 665.7h0M23.2 629.1h0M47.4 678.2h0M23.8 630.6h0M43.6 645.8h0M34.2 658.3h0M10.0 664.6h0M22.4 625.4h0M60.5 627.4h0M36.7 645.8h0M57.6 622.4h0M42.1 668.3h0M7.7 638.0h0M39.6 666.5h0M14.0 632.7h0M40.9 651.6h0M55.5 656.3h0M6.3 644.9h0M65.6 659.6h0M52.4 640.0h0M63.7 668.7h0M49.3 659.2h0M17.8 631.4h0M30.8 636.1h0M18.7 656.9h0M66.3 663.6h0M70.1 634.3h0M14.9 619.2h0M36.2 670.5h0M49.1 630.8h0M72.6 627.9h0M40.4 654.2h0M72.8 664.6h0M78.1 680.6h0M32.2 625.5h0M73.8 668.5h0M56.7 676.6h0M63.1 647.4h0M28.4 651.5h0M22.1 635.0h0M64.7 679.6h0M70.0 667.8h0M54.7 670.2h0M13.5 654.1h0M33.1 660.6h0M57.8 640.9h0M18.3 651.4h0M31.6 651.4h0M19.4 639.8h0M27.1 620.0h0M49.6 644.9h0M32.2 682.1h0M54.5 617.4h0M51.4 680.8h0M24.6 621.7h0M6.3 617.1h0M14.7 650.7h0M38.9 660.8h0M29.7 681.0h0M7.9 647.8h0M29.5 619.5h0M11.9 644.9h0M61.3 669.0h0M33.7 623.8h0M80.7 644.3h0M25.1 677.9h0M74.7 631.9h0M39.7 679.5h0M25.9 617.8h0M5.3 658.9h0M72.0 649.9h0M10.9 653.4h0M29.7 680.5h0M53.1 679.3h0M26.0 639.8h0M72.5 652.1h0M5.7 633.1h0M11.3 671.5h0M35.6 621.7h0M75.8 653.5h0M59.7 647.9h0M8.7 660.3h0M61.4 619.5h0M17.0 658.1h0M75.2 638.4h0M9.3 630.5h0M8.0 618.9h0M74.0 681.4h0M30.8 667.2h0M15.1 621.6h0M54.6 682.3h0M35.9 646.9h0M24.6 676.9h0M9.9 674.7h0M76.4 658.5h0M48.3 669.1h0M20.5 616.8h0M5.8 678.7h0M61.4 634.6h0M7.7 618.4h0M28.9 643.8h0M43.4 649.3h0M61.7 641.2h0M15.7 663.2h0M17.3 663.7h0M29.9 636.1h0M53.4 637.3h0M78.2 617.3h0M37.8 668.3h0M9.5 673.6h0M43.6 633.2h0M31.5 682.2h0M5.5 662.7h0M9.6 642.9h0M5.5 644.3h0M72.7 675.3h0M54.4 653.0h0M48.0 657.4h0M8.2 678.8h0M39.7 671.0h0M51.2 654.5h0M33.5 642.6h0M38.7 669.1h0M19.0 671.9h0M25.2 655.3h0M10.2 620.2h0M59.8 667.4h0M76.7 678.4h0M32.6 635.1h0M16.3 655.3h0M44.7 675.3h0M71.8 672.0h0M18.0 627.4h0M12.6 623.7h0M69.1 656.3h0M15.5 627.3h0M74.8 618.5h0M64.6 681.9h0M68.6 665.0h0M6.1 680.0h0M66.6 627.0h0M63.9 639.2h0M17.0 616.2h0M45.9 674.3h0M61.6 674.9h0M61.0 643.0h0M74.3 665.9h0M58.7 666.3h0M72.4 680.1h0M12.5 670.3h0M51.4 628.6h0M71.8 664.8h0M34.8 668.2h0M22.6 656.5h0M34.7 662.3h0M31.1 654.3h0M77.8 640.4h0M46.4 640.4h0M75.1 649.2h0M80.5 656.3h0M44.5 648.6h0M75.1 617.7h0M18.7 673.8h0M25.3 639.6h0M42.1 624.5h0M39.1 666.5h0M18.5 669.1h0M78.6 653.2h0M43.6 638.0h0M40.0 624.3h0M48.7 627.6h0M14.9 658.3h0M18.9 668.1h0M50.2 665.8h0M50.6 658.3h0M14.1 667.4h0M66.5 672.5h0M36.4 639.6h0M27.4 619.4h0M43.2 650.0h0M13.9 640.9h0M23.0 679.6h0M25.8 657.0h0M47.1 664.3h0M66.9 662.7h0M59.6 617.7h0M34.4 681.9h0M80.2 661.8h0M74.3 646.8h0M41.2 642.3h0M33.0 676.8h0M72.3 631.8h0M19.9 639.2h0M19.7 643.0h0M21.5 664.7h0M79.2 678.2h0M12.6 667.2h0M34.1 680.2h0M79.6 672.4h0M58.5 681.6h0M52.3 644.2h0M30.9 654.6h0M77.7 641.5h0M54.2 647.3h0M80.6 618.5h0M23.4 663.5h0M70.7 622.0h0M47.5 671.8h0M11.6 652.7h0M73.4 625.4h0M74.9 622.6h0M59.7 681.0h0M65.0 670.2h0M66.2 623.0h0M10.4 645.6h0M62.8 637.0h0M56.3 675.6h0M38.9 638.5h0M5.2 658.2h0M54.8 642.8h0M34.0 675.8h0M43.3 634.2h0M75.6 665.7h0M50.2 640.0h0M79.3 660.8h0M37.3 665.1h0M45.3 648.5h0M36.0 639.0h0M33.4 630.4h0M34.6 637.9h0M32.5 647.9h0M25.7 670.7h0M11.1 681.8h0M42.9 623.5h0M50.3 671.0h0M71.0 626.0h0M66.6 675.4h0M74.8 667.4h0M77.0 664.7h0M13.0 674.5h0M27.8 667.7h0M22.1 620.2h0M49.4 659.6h0M7.7 674.4h0M76.8 620.1h0M30.2 620.9h0M32.9 639.5h0M8.7 657.5h0M51.6 620.2h0M20.1 657.6h0M10.3 621.9h0M68.8 620.3h0M36.8 680.7h0M44.9 681.0h0M67.7 668.9h0M60.3 639.0h0M32.3 648.0h0M77.6 635.6h0M18.6 665.4h0M17.9 635.3h0M31.3 626.1h0M54.6 672.3h0M52.9 678.0h0M35.9 662.7h0M72.1 681.7h0M78.0 616.9h0M58.7 669.2h0M22.4 639.2h0M22.4 649.9h0M39.9 650.0h0M40.8 627.3h0M23.1 630.3h0M31.6 678.8h0M27.2 620.1h0M28.2 652.2h0M64.5 645.2h0M21.1 680.9h0M73.4 682.2h0M25.9 627.6h0M8.3 668.2h0M28.1 667.1h0M75.3 675.7h0M62.6 653.2h0M61.3 618.9h0M79.1 677.5h0M76.9 681.9h0M17.6 666.7h0M70.9 671.4h0M31.0 645.5h0M80.0 627.6h0M27.9 672.0h0M62.1 625.9h0M67.8 648.3h0M19.1 635.7h0M48.0 630.5h0M45.4 665.5h0M78.0 631.5h0M78.6 658.8h0M77.2 660.0h0M74.9 640.6h0M32.0 621.8h0M55.5 655.9h0M11.6 681.3h0M80.2 651.5h0M61.6 672.2h0M39.7 643.0h0M48.0 663.9h0M62.3 643.6h0M41.9 661.8h0M45.6 661.0h0M30.5 637.1h0M23.7 681.2h0M57.2 635.9h0M72.1 676.1h0M43.8 652.1h0M38.2 631.4h0M36.0 641.6h0M53.9 623.2h0M50.0 645.3h0M72.3 620.5h0M7.3 664.8h0M9.9 681.2h0M6.0 651.1h0M72.6 617.8h0M12.6 617.3h0M26.8 673.4h0M52.2 622.7h0M60.8 652.2h0M37.9 649.4h0M31.4 670.0h0M58.0 681.7h0M62.6 657.1h0M70.1 650.8h0M64.4 665.9h0M46.6 641.7h0M17.0 670.8h0M17.4 638.1h0M51.5 663.8h0M79.9 662.8h0M12.9 626.8h0M8.4 628.8h0M15.7 664.7h0M16.0 645.4h0M42.4 678.7h0M76.3 616.8h0M43.1 621.5h0M76.7 661.4h0M16.4 654.6h0M7.0 648.0h0M61.7 627.1h0M14.5 617.0h0M7.0 619.3h0M31.8 634.7h0M5.7 663.4h0M18.4 618.1h0M10.3 667.8h0M74.0 666.4h0M45.3 617.7h0M54.4 647.7h0M9.7 678.0h0M79.6 651.4h0M59.5 626.9h0M15.6 635.3h0M17.6 650.0h0M37.2 668.0h0M43.0 652.5h0M48.5 671.8h0M37.1 657.1h0M28.6 646.1h0M53.7 677.9h0M23.0 675.1h0M40.7 621.8h0M20.2 627.1h0M68.9 679.9h0M25.4 645.0h0M77.5 675.9h0M75.0 665.6h0M62.6 676.7h0M62.5 673.3h0M35.8 625.7h0M31.8 655.9h0M11.2 674.4h0M17.4 662.1h0M9.8 680.7h0M77.7 681.1h0M78.8 680.9h0M75.9 670.5h0M63.7 669.8h0M64.2 654.7h0M16.9 616.5h0M36.4 663.7h0M69.9 674.8h0M28.9 667.9h0M14.1 667.8h0M53.5 643.7h0M76.1 638.6h0M51.4 638.7h0M46.9 631.3h0M62.0 625.9h0M39.9 662.6h0M40.5 663.1h0M40.5 679.9h0M18.3 622.7h0M67.9 671.0h0M35.7 651.5h0M76.0 650.2h0M35.2 644.2h0M40.1 629.9h0M18.2 663.2h0M48.8 623.8h0M18.1 636.8h0M31.4 677.2h0M26.3 677.3h0M30.0 619.9h0M19.6 666.7h0M46.7 658.9h0M15.3 675.7h0M14.2 632.6h0M5.3 641.6h0M58.9 680.7h0M23.8 631.6h0M32.8 634.0h0M58.6 644.6h0M21.8 620.5h0M80.6 643.4h0M30.1 671.4h0M48.2 642.0h0M9.7 643.5h0M21.7 679.2h0M7.3 625.1h0M19.2 669.1h0M43.8 627.6h0M66.6 680.5h0M10.4 664.1h0M64.6 664.5h0M52.7 681.9h0M28.9 630.3h0M77.7 651.0h0M41.5 621.1h0M28.2 633.1h0M77.1 637.3h0M23.5 634.2h0M72.4 654.0h0M28.5 652.4h0M21.1 617.9h0M20.8 644.0h0M7.1 680.7h0M77.8 637.5h0M24.9 634.1h0M74.1 634.3h0M9.4 626.2h0M25.0 616.3h0M54.6 667.7h0M70.5 660.2h0M18.9 632.9h0M28.3 646.6h0M74.7 657.2h0M60.2 658.3h0M66.6 674.9h0M6.3 675.2h0M72.8 643.7h0M8.3 642.1h0M70.0 642.6h0M30.3 626.6h0M53.2 624.9h0M74.9 666.8h0M68.9 651.3h0M22.5 634.3h0M43.0 677.2h0M73.0 634.3h0M11.1 638.6h0M27.6 667.8h0M77.7 637.1h0M57.0 626.0h0M16.4 645.8h0M79.1 653.3h0M42.0 639.7h0M8.3 661.3h0M34.2 670.2h0M32.2 672.3h0M34.4 625.7h0M75.4 616.3h0M64.8 682.3h0M50.9 657.6h0M5.4 653.6h0M69.7 630.6h0M80.7 626.4h0M12.5 629.6h0M52.1 659.1h0M68.9 677.5h0M39.7 680.7h0M74.7 662.6h0M52.7 672.5h0M50.2 661.0h0M74.2 635.9h0M26.8 645.8h0M52.7 623.3h0M44.6 628.6h0M70.4 638.3h0M40.4 618.7h0M49.6 669.7h0M41.3 635.4h0M46.7 645.5h0M62.0 669.3h0M71.5 657.7h0M41.5 673.4h0M17.0 651.8h0M12.2 655.0h0M50.5 636.8h0M53.9 679.7h0M75.1 627.5h0M33.6 634.9h0M25.6 641.9h0M59.2 650.3h0M62.9 656.1h0M38.5 628.4h0M13.0 645.0h0M40.3 666.8h0M12.8 638.7h0M54.6 674.1h0M33.8 659.7h0M68.7 644.2h0M6.8 667.3h0M35.8 676.3h0M32.2 659.3h0M17.7 680.7h0M14.3 670.3h0M13.9 626.2h0M7.6 640.1h0M61.9 636.3h0M5.7 659.9h0M36.8 643.5h0M51.5 658.3h0M68.6 632.1h0M61.0 649.7h0M11.4 622.0h0M70.7 673.6h0M8.7 630.0h0M39.1 647.9h0M25.0 672.2h0M49.2 678.1h0M15.5 617.3h0M28.5 677.4h0M16.8 677.1h0M22.3 678.5h0M39.4 678.0h0M10.1 617.9h0M45.3 668.4h0M57.8 675.6h0M24.6 677.2h0M28.3 635.3h0" stroke="#5412a6" stroke-width="2"/>
<path d="M42.0 652.9h0M23.3 660.4h0M24.0 673.6h0M41.5 663.5h0M78.1 642.2h0M18.9 660.8h0M10.9 675.6h0M56.5 673.0h0M64.4 638.9h0M73.3 648.5h0M31.0 620.0h0M69.7 627.3h0M41.3 624.8h0M27.1 624.6h0M75.4 661.3h0M26.7 642.1h0M44.9 642.3h0M44.6 650.9h0M80.0 632.7h0M42.8 658.0h0M60.2 619.4h0M70.8 629.2h0M50.3 662.6h0M31.3 659.4h0M33.4 674.8h0M78.0 662.0h0M41.0 665.4h0M27.2 657.3h0M20.6 672.0h0M61.6 657.1h0M22.7 649.6h0M31.1 666.4h0M8.7 681.6h0M42.1 680.2h0M59.5 651.6h0M41.0 672.0h0M30.3 616.8h0M46.7 674.2h0M69.5 640.3h0M71.6 647.7h0M32.3 670.2h0M80.3 641.1h0M40.3 653.4h0M53.6 631.0h0M18.3 630.1h0M9.4 644.3h0M25.6 665.2h0M52.4 624.4h0M72.4 675.5h0M54.5 632.9h0M61.2 640.7h0M56.0 626.0h0M31.8 679.1h0M53.2 619.9h0M44.3 638.9h0M37.7 634.4h0M13.0 666.3h0M11.0 616.7h0M43.1 644.2h0M26.6 617.3h0M67.8 653.8h0M27.9 620.3h0M42.1 631.4h0M56.8 622.8h0M80.0 636.0h0M8.8 652.6h0M46.5 655.7h0M5.6 632.8h0M23.7 661.9h0M9.5 671.8h0M16.9 628.7h0M63.2 677.6h0M56.1 678.2h0M29.5 622.0h0M36.8 664.1h0M33.6 665.9h0M65.7 675.1h0M11.7 668.6h0M59.6 624.1h0M43.0 646.9h0M79.6 616.5h0M66.8 651.7h0M41.5 626.4h0M15.5 671.8h0M65.0 679.9h0M63.6 671.0h0M55.6 626.3h0M11.7 676.4h0M56.4 631.0h0M37.1 669.1h0M41.7 622.2h0M35.0 628.0h0M62.1 675.8h0M25.8 623.2h0M10.2 628.7h0M79.9 625.3h0M75.4 680.9h0M75.4 658.4h0M21.8 674.7h0M41.3 627.6h0M61.5 634.7h0M9.5 670.9h0M10.2 670.9h0M50.3 681.3h0M79.4 671.5h0M55.2 636.8h0M50.2 625.5h0M55.2 630.7h0M63.5 675.2h0M7.7 652.1h0M15.6 673.2h0M61.1 682.3h0M80.0 638.3h0M74.7 633.6h0M24.2 675.5h0M43.6 674.2h0M30.9 660.7h0M74.1 648.6h0M67.2 635.6h0M42.1 678.0h0M30.6 658.4h0M21.8 644.9h0M41.6 673.6h0M36.7 668.4h0M6.3 658.3h0M79.1 653.5h0M15.8 644.2h0M37.5 623.0h0M79.5 628.7h0M70.1 631.1h0M13.5 640.7h0M4.9 655.3h0M30.8 630.7h0M57.6 661.0h0M9.3 655.5h0M43.9 629.4h0M73.2 646.1h0M53.5 681.9h0M60.0 624.3h0M28.0 627.7h0M5.8 651.1h0M22.7 669.6h0M33.5 647.1h0M10.8 667.3h0M68.0 638.5h0M40.9 648.7h0M12.1 617.6h0M47.7 678.5h0M30.2 640.0h0M6.2 648.2h0M20.1 673.6h0M54.1 670.5h0M17.4 648.7h0M50.8 680.0h0M75.3 635.2h0M73.8 670.5h0M74.4 628.2h0M20.2 643.0h0M30.4 672.5h0" stroke="#3a0888" stroke-width="2"/>
</g>
<clipPath id="c16"><rect x="81.3" y="617.2" width="73.5" height="64.3"/></clipPath>
<g clip-path="url(#c16)" stroke-linecap="round" fill="none">
<rect x="81.3" y="617.2" width="73.5" height="64.3" fill="#c9b4b8"/>
<path d="M152.3 629.6h0M89.4 681.0h0M92.3 617.5h0M83.2 639.6h0M103.7 677.8h0M97.6 638.0h0M110.5 681.7h0M113.9 662.8h0M85.0 660.1h0M103.1 641.7h0M119.9 649.9h0M108.7 664.1h0M142.3 659.0h0M99.0 616.3h0M150.0 646.5h0M104.3 627.2h0M116.7 676.4h0M108.8 623.8h0M152.3 681.3h0M80.7 671.2h0M121.8 624.8h0M145.6 666.1h0M124.8 682.0h0M154.6 657.4h0M128.3 650.7h0M101.1 629.9h0M87.0 642.1h0M141.5 634.1h0M80.5 645.9h0M139.7 644.1h0M106.7 623.1h0M123.7 617.2h0M110.8 667.0h0M93.0 624.8h0M121.5 681.8h0M135.5 633.9h0M136.7 672.8h0M107.4 643.4h0M89.5 629.3h0M98.0 653.4h0M119.4 662.5h0M94.6 618.2h0M111.2 622.9h0M152.5 662.8h0M137.8 637.7h0M117.1 662.8h0M107.5 621.7h0M99.9 672.5h0M96.7 619.1h0M85.0 628.8h0M100.7 622.1h0M108.2 629.9h0M83.5 625.9h0M81.1 676.7h0M125.5 672.3h0M138.9 642.3h0M98.7 644.2h0M88.3 635.7h0M109.4 651.3h0M122.4 669.6h0M93.6 656.8h0M146.9 676.7h0M132.6 653.2h0M111.4 662.0h0M87.1 638.4h0M97.3 663.0h0M132.3 672.6h0M95.2 643.6h0M93.9 636.2h0M81.2 643.3h0M125.2 621.3h0M139.2 663.0h0M82.5 679.7h0M125.5 662.4h0M105.9 626.0h0M110.8 630.5h0M123.1 676.9h0M92.5 640.2h0M85.7 628.1h0M98.2 621.6h0M140.5 674.6h0M143.0 677.7h0M138.8 623.9h0M132.0 644.5h0M84.1 656.5h0M86.4 638.1h0M98.2 661.3h0M98.4 626.6h0M148.7 626.8h0M103.5 680.2h0M127.7 623.9h0M148.9 658.7h0M128.9 670.2h0M132.1 628.4h0M113.3 617.0h0M128.9 638.8h0M105.6 641.3h0M102.9 617.7h0M97.9 632.2h0M147.4 673.1h0M98.1 640.4h0M104.4 669.5h0M107.0 647.4h0M118.5 630.7h0M88.6 621.6h0M95.4 636.9h0M136.6 667.6h0M101.4 675.8h0M108.5 682.2h0M97.4 682.3h0M80.4 671.8h0M100.0 674.9h0M127.3 682.0h0M96.2 647.6h0M80.7 621.7h0M125.2 675.2h0M135.2 643.2h0M119.2 643.6h0M98.7 666.6h0M152.7 624.4h0M130.1 627.4h0M116.2 633.5h0M154.3 639.6h0M112.2 624.4h0M153.0 678.7h0M96.3 616.8h0M104.2 649.7h0M97.9 663.2h0M102.8 638.6h0M151.1 659.2h0M83.1 631.7h0M132.5 655.7h0M125.9 624.5h0M106.7 662.9h0M107.3 628.8h0M108.5 668.1h0M138.6 681.5h0M101.5 652.6h0M115.0 616.3h0M101.3 647.4h0M136.4 643.0h0M121.6 644.6h0M89.8 620.1h0M87.2 646.4h0M125.8 671.3h0M113.4 654.8h0M127.5 638.1h0M127.6 651.5h0M128.8 617.2h0M83.9 651.2h0M97.5 666.7h0M131.0 671.8h0M129.6 625.8h0M103.9 628.1h0M121.7 680.3h0M103.4 666.7h0M140.6 627.0h0M107.6 631.3h0M92.6 681.8h0M134.4 671.7h0M137.1 616.4h0M111.0 670.1h0M131.5 630.3h0M96.8 616.6h0M151.2 678.4h0M133.8 665.4h0M92.1 674.7h0M105.3 659.9h0M153.7 666.1h0M130.4 648.8h0M146.8 658.4h0M137.4 645.3h0M123.7 675.8h0M81.9 674.2h0M130.7 669.4h0M117.6 651.1h0M90.2 621.7h0M98.8 641.0h0M112.0 630.3h0M149.0 672.0h0M113.5 637.6h0M108.3 640.3h0M94.1 662.6h0M107.1 616.4h0M90.5 623.7h0M137.2 673.5h0M122.6 659.0h0M116.9 629.0h0M137.8 618.8h0M102.6 651.6h0M110.5 662.3h0M141.6 619.4h0M87.8 637.1h0M134.6 660.0h0M115.8 672.8h0M117.5 632.6h0M124.5 636.0h0M155.4 667.0h0M118.3 667.7h0M106.1 645.8h0M109.3 681.7h0M138.6 665.2h0M115.0 669.0h0M82.5 671.7h0M153.5 629.5h0M95.8 625.9h0M92.9 633.3h0M126.2 622.5h0M118.1 617.2h0M84.4 668.6h0M90.4 663.4h0M112.2 621.0h0M122.7 667.6h0M116.1 679.1h0M147.1 667.5h0M125.4 644.1h0M119.0 672.9h0M150.0 619.6h0M112.0 619.9h0M87.4 618.5h0M131.0 623.5h0M151.6 628.0h0M124.4 620.8h0M91.5 665.0h0M107.0 635.1h0M83.8 653.1h0M154.9 670.6h0M91.2 633.7h0M87.9 632.0h0M103.2 661.3h0M118.1 677.0h0M151.0 625.4h0M122.8 666.2h0M92.0 617.4h0M98.6 681.2h0M107.1 674.1h0M97.6 623.7h0M124.7 663.9h0M152.7 673.5h0M85.5 664.0h0M154.3 654.1h0M116.8 670.6h0M91.0 673.1h0M115.1 677.0h0M119.8 634.4h0M125.5 632.2h0M153.6 628.9h0M115.9 680.3h0M133.7 624.1h0M106.4 620.6h0M92.6 662.6h0M93.0 667.6h0M83.6 651.7h0M108.0 634.3h0M85.2 665.6h0M133.9 677.8h0M147.5 679.7h0M80.6 625.4h0M122.8 623.4h0M131.1 634.3h0M86.6 682.0h0M133.4 671.6h0M125.6 663.1h0M152.5 674.9h0M154.5 619.1h0M140.9 672.8h0M117.4 665.3h0M101.0 639.5h0M116.9 626.1h0M140.1 626.7h0M98.4 644.3h0M140.0 641.5h0M88.9 637.9h0M126.1 619.0h0M107.2 635.2h0M115.3 631.1h0M84.4 628.8h0M149.1 650.4h0M88.4 623.8h0M109.7 679.7h0M101.7 632.6h0M125.9 621.8h0M94.3 644.8h0M109.5 633.7h0M112.3 648.9h0M93.9 635.8h0" stroke="#7428b6" stroke-width="2.4"/>
<path d="M81.0 677.6h0M86.5 637.9h0M109.2 636.4h0M135.5 679.1h0M108.2 664.7h0M137.1 672.7h0M117.9 645.8h0M85.3 633.3h0M116.7 677.6h0M104.1 662.9h0M129.7 618.2h0M127.7 631.2h0M116.4 668.3h0M101.0 659.7h0M104.2 619.1h0M124.7 644.6h0M126.7 656.7h0M133.1 670.5h0M83.5 680.1h0M107.7 658.6h0M127.7 641.6h0M105.5 678.6h0M115.6 627.8h0M98.5 671.8h0M114.7 642.3h0M107.4 626.0h0M110.8 657.4h0M129.3 624.5h0M117.9 620.3h0M93.5 674.0h0M125.6 633.0h0M129.2 662.9h0M112.5 671.1h0M139.0 674.9h0M109.4 675.7h0M90.3 671.5h0M154.7 677.6h0M134.8 627.2h0M116.6 646.1h0M99.8 673.3h0M88.0 649.8h0M119.8 648.9h0M120.0 663.5h0M115.2 681.3h0M114.7 620.7h0M96.1 625.6h0M109.8 642.4h0M122.9 620.5h0M100.4 623.9h0M83.8 632.8h0M131.3 665.2h0M131.3 673.9h0M148.1 620.4h0M111.6 677.8h0M105.0 651.6h0M122.0 620.5h0M99.4 620.6h0M141.6 616.5h0M108.3 665.9h0M98.2 672.4h0M106.7 671.0h0M122.2 677.2h0M107.5 673.9h0M102.8 642.1h0M152.9 663.5h0M146.4 620.5h0M122.0 638.8h0M126.1 665.5h0M154.9 620.4h0M129.8 618.6h0M145.1 632.1h0M118.3 617.0h0M119.7 640.9h0M90.1 628.2h0M115.7 641.7h0M117.8 635.3h0M146.2 620.5h0M102.3 638.4h0M80.7 661.3h0M89.6 669.4h0M109.0 668.4h0M114.9 623.0h0M97.3 633.2h0M104.1 665.4h0M89.6 623.8h0M144.6 617.7h0M142.4 638.4h0M99.9 640.4h0M148.0 644.8h0M124.1 650.6h0M129.0 677.8h0M97.9 671.7h0M93.4 648.0h0M111.2 666.8h0M86.8 650.4h0M137.7 674.1h0M101.8 667.2h0M141.5 618.5h0M81.1 655.9h0M146.8 617.3h0M90.8 663.1h0M120.9 664.0h0M121.2 640.9h0M110.6 641.4h0M126.4 673.5h0M107.0 633.3h0M116.0 663.3h0M99.2 620.1h0M115.6 618.8h0M148.7 637.3h0M116.2 623.5h0M112.6 639.9h0M134.1 681.5h0M118.3 626.7h0M141.7 617.0h0M110.8 632.1h0M80.7 680.4h0M95.3 652.7h0M117.7 638.9h0M94.6 641.7h0M114.0 665.9h0M128.9 673.1h0M135.7 660.0h0M137.3 655.8h0M123.5 633.4h0M133.2 617.1h0M134.8 630.5h0M109.9 675.2h0M118.4 625.4h0M131.0 657.8h0M107.9 677.6h0M82.3 675.7h0M154.7 626.9h0M100.0 631.2h0M152.9 650.0h0M127.2 643.3h0M109.4 618.7h0M133.1 666.6h0M108.5 676.2h0M152.2 670.0h0M87.8 628.1h0M142.1 624.7h0M82.3 628.4h0M111.0 617.3h0M100.7 673.5h0M85.8 617.7h0M118.4 681.6h0M133.7 677.6h0M93.0 656.1h0M138.5 629.8h0M140.8 671.1h0M111.4 679.5h0M119.7 639.2h0M154.1 682.4h0M110.8 625.1h0M112.5 644.8h0M139.0 667.5h0M125.2 625.3h0M120.7 634.5h0M150.8 671.2h0M87.5 638.0h0M120.3 623.7h0M88.7 647.3h0M104.5 618.4h0M105.5 667.8h0M94.0 650.9h0M97.6 668.4h0M152.0 637.6h0M126.1 639.7h0M128.0 674.5h0M147.3 616.3h0M92.6 627.7h0M104.4 648.4h0M102.9 671.3h0M113.9 667.1h0M129.0 645.3h0M125.0 676.9h0M80.8 675.5h0M122.5 622.3h0M102.4 653.4h0M82.7 636.0h0M152.3 656.4h0M112.1 629.1h0M153.0 679.7h0M87.6 669.7h0M141.2 641.3h0M94.1 645.6h0M85.6 617.1h0M150.4 640.4h0M138.7 676.6h0M105.0 622.5h0M119.1 629.6h0M83.0 632.2h0M113.5 669.2h0M112.3 627.9h0M92.8 658.4h0M129.8 654.7h0M146.7 630.7h0M103.4 643.0h0M96.3 641.1h0M120.0 622.5h0M105.9 661.8h0M111.2 619.4h0M142.2 664.8h0M98.8 616.5h0M113.3 660.6h0M91.7 633.5h0M146.5 666.4h0M101.2 638.9h0M116.0 669.8h0M153.8 674.3h0M86.0 621.1h0M142.0 664.3h0M147.6 659.7h0M138.0 629.4h0M91.8 627.0h0" stroke="#5614a4" stroke-width="1.8"/>
</g>
<clipPath id="c17"><rect x="157" y="617.2" width="73.6" height="64.3"/></clipPath>
<g clip-path="url(#c17)" stroke-linecap="round" fill="none">
<rect x="157" y="617.2" width="73.6" height="64.3" fill="#c7b0b8"/>
<path d="M201.9 665.0h0M220.0 677.7h0M207.5 624.0h0M230.1 635.1h0M223.8 665.9h0M180.3 632.3h0M156.5 651.0h0M185.8 628.5h0M198.3 624.4h0M165.0 637.2h0M176.8 629.7h0M184.7 667.9h0M222.0 617.2h0M202.3 618.4h0M201.5 664.6h0M187.9 649.8h0M222.3 680.0h0M180.6 623.2h0M209.8 657.4h0M203.3 664.0h0M199.3 629.4h0M166.4 618.8h0M215.0 668.7h0M213.1 671.6h0M156.5 673.4h0M180.7 624.7h0M181.6 649.1h0M171.3 621.6h0M165.7 622.8h0M165.8 669.2h0M190.8 658.6h0M157.8 621.4h0M183.3 632.9h0M219.0 616.8h0M173.0 619.0h0M230.0 639.1h0M181.1 669.9h0M174.0 668.9h0M161.9 657.5h0M171.1 674.8h0M224.6 657.8h0M189.6 642.7h0M214.1 626.7h0M158.5 627.1h0M213.3 622.6h0M231.0 675.8h0M179.5 652.0h0M173.8 633.0h0M226.6 639.4h0M203.0 671.0h0M205.1 639.5h0M158.4 663.7h0M188.7 650.1h0M175.3 632.3h0M162.0 644.8h0M184.2 636.2h0M180.6 655.2h0M226.2 659.8h0M168.5 657.7h0M168.5 651.5h0M204.3 666.6h0M203.8 628.9h0M210.7 680.2h0M169.1 660.3h0M184.7 669.4h0M224.8 662.1h0M224.8 629.9h0M174.7 668.7h0M193.3 661.8h0M184.5 650.7h0M210.0 670.4h0M185.7 633.2h0M223.0 631.0h0M181.3 627.4h0M225.0 652.5h0M227.4 681.1h0M215.2 648.9h0M210.7 681.7h0M221.8 674.1h0M184.6 657.2h0M179.3 640.8h0M170.0 659.5h0M172.9 661.6h0M213.1 674.2h0M217.2 642.9h0M156.5 616.7h0M209.0 675.1h0M198.4 681.1h0M188.5 681.9h0M214.5 665.9h0M230.8 668.0h0M230.8 674.7h0M158.2 668.2h0M212.3 621.5h0M217.1 664.5h0M180.9 646.3h0M230.8 678.1h0M226.6 627.4h0M183.9 649.1h0M207.0 620.9h0M185.0 653.5h0M183.2 617.0h0M184.4 677.0h0M226.8 623.8h0M208.5 638.6h0M163.0 637.6h0M206.2 681.8h0M231.0 676.9h0M211.8 667.5h0M158.4 666.6h0M186.6 635.0h0M183.5 642.1h0M174.5 655.7h0M171.2 658.2h0M216.1 662.9h0M178.8 654.8h0M210.0 620.8h0M156.2 669.6h0M204.2 672.3h0M223.6 641.5h0M157.3 645.3h0M190.0 671.0h0M207.4 672.8h0M229.1 618.9h0M201.8 681.6h0M224.8 669.7h0M191.0 645.1h0M209.2 665.4h0M214.4 637.0h0M180.9 636.7h0M167.3 634.5h0M158.3 654.2h0M160.3 674.3h0M163.6 671.0h0M227.2 657.7h0M164.2 658.8h0M168.8 649.1h0M227.8 630.7h0M168.7 643.8h0M223.8 627.5h0M195.0 661.4h0M209.4 681.9h0M228.2 638.5h0M175.4 617.9h0M181.8 641.0h0M219.3 659.9h0M221.4 628.9h0M218.5 646.3h0M223.9 655.7h0M182.1 639.0h0M210.6 631.4h0M181.3 636.4h0M191.6 654.5h0M185.9 654.4h0M182.2 647.4h0M202.2 631.9h0M167.6 665.9h0M210.8 626.4h0M182.6 668.9h0M173.1 644.7h0M230.4 666.5h0M175.7 677.6h0M173.0 638.9h0M182.0 642.3h0M164.5 657.8h0M172.9 625.1h0M169.8 650.5h0M227.0 670.6h0M175.5 629.2h0M229.9 617.8h0M182.6 673.2h0M169.6 650.5h0M183.7 638.4h0M176.8 660.4h0M209.6 666.2h0M211.1 661.1h0M177.4 673.1h0M165.3 648.7h0M158.2 678.0h0M228.0 622.5h0M227.7 662.6h0M157.1 622.1h0M203.0 640.7h0M165.9 674.1h0M156.3 679.9h0M185.6 667.3h0M201.9 673.7h0M170.9 663.0h0M216.6 664.0h0M161.5 655.2h0M201.1 644.0h0M187.2 670.0h0M219.6 680.5h0M176.3 644.9h0M193.6 654.9h0M216.1 618.4h0M179.2 627.2h0M157.8 673.0h0M199.0 679.8h0M166.2 643.6h0M205.2 632.8h0M182.5 636.8h0M229.7 632.8h0M177.8 661.9h0M175.7 642.5h0M211.5 617.6h0M157.1 665.7h0M157.4 666.0h0M170.7 625.5h0M190.2 674.0h0M168.4 655.4h0M163.2 675.7h0M182.6 630.3h0M178.6 649.5h0M210.8 638.6h0M225.1 645.9h0M181.3 641.4h0M167.2 681.6h0M182.0 682.5h0M164.7 641.3h0M192.9 627.0h0M188.5 660.0h0M195.8 671.5h0M180.0 623.9h0M198.5 669.9h0M206.8 681.5h0M171.4 619.7h0M170.4 677.1h0M222.6 662.0h0M219.3 662.4h0M224.2 666.7h0M196.4 616.8h0M162.1 670.4h0M201.5 676.9h0M180.4 619.1h0M184.8 675.1h0M201.9 632.0h0M228.3 618.7h0M199.4 679.6h0M169.3 623.0h0M230.8 640.9h0M202.3 676.3h0M178.3 638.2h0M191.4 681.8h0M224.6 633.7h0M171.0 648.3h0M171.9 649.2h0M167.7 659.4h0M190.7 628.9h0M199.3 669.8h0M166.9 654.6h0M215.2 629.3h0M229.0 620.2h0M157.1 667.2h0M165.0 625.8h0M217.4 673.3h0M182.8 634.4h0M205.3 667.5h0M158.6 630.5h0M175.1 629.4h0M184.2 655.2h0M231.3 665.8h0M220.9 672.6h0M186.4 659.7h0M189.8 640.4h0M185.0 638.0h0M177.7 646.7h0M203.6 649.4h0M176.3 645.4h0M196.2 629.3h0M217.3 679.8h0M161.0 629.0h0M194.8 663.9h0M192.4 634.0h0M180.2 628.3h0M158.9 631.2h0M219.1 675.8h0M164.6 670.9h0M225.4 618.0h0M205.9 672.0h0M196.1 656.1h0M161.3 671.0h0M194.8 655.3h0M181.4 654.1h0M188.6 621.5h0M215.5 659.8h0M186.5 630.7h0M176.8 639.7h0M163.3 668.6h0M157.0 659.5h0M183.1 673.0h0M164.7 672.3h0" stroke="#7428b6" stroke-width="2.6"/>
<path d="M202.1 643.5h0M214.6 637.2h0M216.7 681.8h0M224.2 657.6h0M182.8 637.7h0M179.9 658.7h0M167.7 635.8h0M163.1 632.8h0M182.8 637.4h0M222.7 668.8h0M186.9 631.9h0M211.4 676.4h0M227.0 662.1h0M218.2 630.9h0M224.7 671.0h0M157.4 669.3h0M173.4 667.2h0M196.6 659.2h0M165.0 641.2h0M218.2 636.5h0M190.5 620.2h0M229.6 655.1h0M201.7 629.9h0M221.3 671.9h0M181.5 648.8h0M223.8 680.0h0M180.2 616.8h0M228.2 636.2h0M213.5 648.7h0M178.8 659.6h0M207.0 635.1h0M179.8 670.1h0M178.5 635.7h0M169.1 638.4h0M157.4 644.9h0M167.7 648.0h0M190.6 639.7h0M178.3 634.4h0M216.7 646.7h0M158.0 678.0h0M212.0 682.0h0M200.1 622.9h0M225.0 632.4h0M178.8 638.6h0M215.1 669.8h0M196.6 643.9h0M206.8 654.7h0M219.8 671.3h0M217.8 668.2h0M224.7 637.8h0M170.0 629.1h0M195.2 665.8h0M217.2 618.6h0M169.8 666.3h0M159.1 647.5h0M176.6 666.4h0M214.7 670.6h0M222.3 668.8h0M173.3 674.3h0M185.9 633.9h0M187.7 650.6h0M181.5 627.2h0M206.3 669.5h0M218.3 677.5h0M210.2 622.9h0M231.3 658.0h0M214.6 628.2h0M191.8 617.2h0M208.4 637.4h0M181.2 672.0h0M222.1 668.3h0M205.9 662.2h0M161.3 678.6h0M163.1 622.2h0M157.1 679.2h0M194.3 679.1h0M182.5 636.4h0M224.6 642.3h0M209.1 672.2h0M196.9 630.6h0M190.6 660.4h0M156.4 676.9h0M182.0 628.0h0M187.2 677.6h0M205.8 617.1h0M185.7 677.2h0M195.8 664.1h0M182.8 632.2h0M158.9 676.6h0M160.1 633.8h0M219.7 658.8h0M161.8 651.7h0M202.5 676.2h0M181.1 644.5h0M177.9 622.5h0M185.5 656.9h0M211.5 653.0h0M204.5 662.9h0M164.6 643.0h0M223.8 634.2h0M177.8 659.8h0M167.2 624.1h0M199.3 618.1h0M188.2 678.0h0M165.0 640.1h0M230.8 621.6h0M198.4 648.6h0M211.7 651.8h0M198.7 662.0h0M224.9 620.7h0M183.1 680.4h0M210.8 621.6h0M212.5 625.6h0M199.8 672.6h0M201.0 682.0h0M208.8 658.7h0M158.9 645.2h0M172.4 664.6h0M191.4 652.8h0M229.8 668.0h0M227.7 633.0h0M196.5 621.6h0M200.5 668.5h0M229.9 621.1h0M225.8 645.5h0M209.7 648.7h0M228.4 664.6h0M216.8 633.4h0M198.6 650.0h0M183.5 666.4h0M174.3 635.0h0M179.2 660.6h0M195.0 672.3h0M201.0 676.0h0M207.6 678.2h0M174.3 638.3h0M199.1 676.9h0M229.7 643.8h0M174.8 678.6h0M158.2 673.3h0M203.1 635.3h0M156.6 669.5h0M159.4 616.9h0M213.1 644.6h0M158.2 675.6h0M178.5 634.8h0M203.5 641.9h0M226.5 679.9h0M168.4 640.1h0M198.9 680.0h0M190.2 679.5h0M223.0 676.1h0M220.6 620.7h0M199.9 619.0h0M195.3 623.7h0M217.4 648.5h0M231.5 673.9h0M216.6 627.2h0M161.5 659.9h0M228.3 617.9h0M180.2 631.3h0M160.4 665.5h0M181.3 660.4h0M169.2 639.1h0M180.7 672.1h0M188.7 631.4h0M187.4 635.5h0M191.6 632.1h0M223.4 627.5h0M183.8 637.2h0M187.5 637.2h0M218.1 616.6h0M166.1 636.2h0M201.9 650.2h0M213.9 666.0h0M180.3 630.9h0M229.2 681.0h0M220.2 642.4h0M188.6 636.6h0M184.9 674.6h0M181.2 667.9h0M163.4 656.4h0M220.9 681.5h0M227.2 672.3h0M159.7 670.1h0M215.2 659.6h0M216.3 625.5h0M231.3 661.8h0M163.2 637.4h0M212.8 620.6h0M231.5 675.0h0M176.8 643.4h0M180.6 628.1h0M194.1 663.7h0M204.9 641.2h0M171.0 629.1h0M218.5 679.4h0M211.7 669.3h0M229.9 671.2h0M220.4 630.7h0M210.5 680.6h0M175.4 662.1h0M180.1 664.5h0M211.1 641.9h0M207.7 663.0h0M227.7 637.6h0M172.5 638.3h0M179.8 669.1h0M221.1 668.8h0M199.1 654.3h0M218.7 655.2h0M210.7 647.8h0M200.8 616.3h0M169.6 653.2h0M217.3 623.3h0M229.5 616.8h0M224.9 676.5h0M158.9 678.9h0M215.0 670.8h0M181.7 670.7h0M229.8 679.8h0M199.7 639.6h0M168.7 648.3h0M158.8 682.2h0M182.6 641.2h0M207.4 624.9h0M171.8 675.7h0M172.7 652.8h0M212.4 621.4h0M189.6 679.7h0M177.3 633.1h0M226.9 635.2h0M230.4 679.8h0M174.5 642.4h0M185.5 628.6h0M178.8 621.7h0M161.0 633.5h0" stroke="#5614a4" stroke-width="1.8"/>
</g>
<clipPath id="c18"><rect x="233" y="617.2" width="73.5" height="64.3"/></clipPath>
<g clip-path="url(#c18)" stroke-linecap="round" fill="none">
<rect x="233" y="617.2" width="73.5" height="64.3" fill="#c2a4c8"/>
<path d="M276.5 658.4h0M277.8 654.2h0M253.2 624.0h0M300.5 668.7h0M263.7 646.8h0M252.8 631.7h0M237.2 636.1h0M271.6 643.1h0M303.2 636.7h0M278.0 673.9h0M287.4 638.5h0M290.1 665.4h0M278.4 633.4h0M305.4 673.1h0M306.6 626.0h0M276.8 668.8h0M273.0 646.8h0M266.9 648.9h0M288.9 657.4h0M254.8 651.5h0M305.1 678.3h0M299.3 661.4h0M234.8 620.4h0M264.8 656.6h0M235.4 681.8h0M246.1 631.1h0M285.0 661.4h0M249.7 650.1h0M296.5 645.4h0M297.0 654.8h0M291.9 639.6h0M236.1 675.6h0M259.8 669.5h0M302.1 653.4h0M293.2 660.6h0M268.8 663.3h0M257.3 673.0h0M265.6 634.4h0M237.5 656.5h0M234.4 666.3h0M272.3 657.4h0M276.7 642.6h0M254.4 671.8h0M272.7 623.2h0M254.6 648.3h0M292.6 665.7h0M282.7 639.9h0M279.4 631.6h0M246.1 651.4h0M264.0 629.5h0M307.2 679.7h0M241.2 616.3h0M281.4 638.1h0M288.9 632.7h0M288.4 650.3h0M256.6 648.9h0M287.1 631.0h0M283.3 639.2h0M297.8 635.3h0M275.6 662.5h0M301.3 634.5h0M259.6 664.0h0M239.7 673.9h0M290.2 674.7h0M292.6 631.5h0M250.9 650.3h0M259.0 644.5h0M300.7 680.4h0M257.6 621.0h0M255.4 672.0h0M255.9 633.9h0M263.1 638.2h0M266.2 639.9h0M232.8 680.4h0M233.1 645.0h0M285.3 630.6h0M284.6 676.5h0M294.4 640.2h0M268.6 650.5h0M233.5 648.5h0M251.1 670.7h0M282.3 658.4h0M301.4 664.2h0M278.0 655.6h0M248.4 650.1h0M302.2 632.0h0M295.6 640.5h0M279.6 663.9h0M239.0 670.5h0M268.1 637.5h0M261.6 649.8h0M301.9 672.8h0M301.1 656.0h0M283.7 618.9h0M284.4 676.0h0M255.9 663.5h0M301.1 649.9h0M289.4 671.7h0M276.4 659.7h0M233.9 629.7h0M262.8 663.2h0M303.7 680.2h0M287.4 670.9h0M303.1 622.4h0M266.9 669.2h0M303.6 638.5h0M251.3 623.6h0M252.7 675.7h0M269.1 647.5h0M299.5 663.5h0M239.7 669.8h0M288.9 619.3h0M270.8 635.1h0M299.2 680.3h0M306.5 632.0h0M235.6 661.3h0M245.6 630.8h0M248.3 679.3h0M270.9 642.5h0M302.1 658.6h0M254.0 675.9h0M297.1 636.3h0M272.5 652.3h0M279.8 640.2h0M244.7 675.0h0M287.3 637.1h0M247.6 656.0h0M291.2 631.8h0M261.9 633.1h0M244.1 646.1h0M259.6 649.5h0M292.5 677.8h0M278.8 628.0h0M279.3 649.1h0M289.5 662.7h0M234.1 670.1h0M304.7 616.3h0M266.8 681.5h0M272.5 631.6h0M258.1 679.3h0M294.6 664.7h0M275.2 676.1h0M267.0 670.6h0M289.2 638.5h0M303.9 648.4h0M284.0 617.7h0M269.1 666.7h0M242.6 619.1h0M269.5 644.6h0M302.7 655.8h0M279.5 664.5h0M271.6 661.0h0M281.8 662.4h0M283.7 649.9h0M273.8 663.5h0M271.4 633.5h0M288.7 650.1h0M249.1 641.4h0M283.3 660.5h0M288.8 668.1h0M264.6 681.8h0M252.2 616.9h0M266.3 672.4h0M279.3 678.9h0M287.9 681.0h0M263.9 673.0h0M251.5 676.3h0M239.8 679.8h0M285.5 660.6h0M298.1 635.4h0M259.6 639.0h0M242.7 646.6h0M279.1 669.5h0M290.1 680.1h0M300.0 645.0h0M263.2 630.6h0M268.3 673.8h0M248.3 653.2h0M300.9 659.8h0M296.0 624.0h0M286.6 658.1h0M299.8 625.1h0M304.5 622.8h0M258.2 671.2h0M236.5 627.2h0M286.8 676.9h0M294.4 634.8h0M294.3 637.6h0M304.0 651.1h0M240.0 633.7h0M234.5 629.7h0M251.4 630.3h0M246.0 624.3h0M268.7 636.9h0M261.6 643.0h0M292.1 654.3h0M243.6 650.2h0M307.1 675.1h0M267.8 663.1h0M274.7 646.6h0M263.4 664.7h0M262.4 630.6h0M253.5 675.8h0M280.3 678.4h0M304.6 673.8h0M288.1 643.0h0M262.9 646.7h0M270.7 644.3h0M251.6 639.8h0M285.5 676.6h0M279.9 678.7h0M302.3 643.7h0M247.5 642.0h0M295.1 645.0h0M276.3 679.4h0M286.8 640.6h0M281.8 680.6h0M296.7 635.7h0M274.9 671.9h0M288.4 673.6h0M290.7 659.6h0M236.0 679.7h0M256.9 653.9h0M297.1 658.3h0M284.8 675.3h0M234.1 651.9h0M302.1 673.1h0M290.3 677.8h0M267.0 666.6h0M284.8 652.9h0M246.1 664.6h0M235.9 620.8h0M289.0 675.6h0M273.5 668.1h0M241.5 638.3h0M251.0 655.2h0M299.3 671.3h0M296.5 621.1h0M299.9 634.1h0M290.8 634.2h0M258.6 670.4h0M284.0 660.9h0M281.9 660.9h0M244.9 625.4h0M289.9 677.0h0M302.0 641.4h0M307.5 673.7h0M277.5 641.5h0M287.8 659.3h0M247.9 664.3h0M280.4 616.9h0M256.2 662.8h0M288.4 639.8h0M270.8 662.5h0M249.3 623.7h0M247.1 653.0h0M243.0 681.1h0M278.7 657.7h0M299.3 660.3h0M236.9 678.1h0M238.5 621.1h0M279.6 674.0h0M249.9 678.4h0M299.3 618.1h0M286.7 631.4h0M283.4 645.1h0M260.7 656.6h0M300.9 660.2h0M249.5 679.2h0M301.4 675.7h0M249.7 678.5h0M285.0 675.9h0M292.9 653.9h0M267.8 650.3h0M289.2 659.9h0M276.5 622.6h0M237.2 681.1h0M240.1 648.4h0M246.6 631.6h0M256.5 678.4h0M271.3 649.5h0M267.5 680.2h0M263.2 628.9h0M245.0 636.5h0M237.2 655.4h0M255.8 631.3h0M244.5 661.8h0M281.0 661.7h0M281.9 663.7h0M293.2 649.6h0M288.1 656.0h0M232.3 623.0h0M292.2 642.1h0M276.5 624.3h0M241.3 671.2h0M275.1 656.9h0M250.9 662.4h0M260.7 673.4h0M270.0 657.1h0M249.0 631.6h0M282.6 626.1h0M280.3 637.9h0M269.4 657.0h0M278.4 617.5h0M275.3 673.8h0M272.7 651.5h0M269.9 635.8h0M281.1 645.2h0M299.2 655.2h0M298.6 641.6h0M279.2 635.4h0M297.3 643.0h0M289.7 631.0h0M282.8 639.7h0M304.3 663.6h0M265.6 649.8h0M250.8 623.9h0M241.2 674.8h0M304.0 651.3h0M297.5 679.0h0M277.7 657.2h0M234.2 660.3h0M281.0 658.2h0M306.0 659.2h0M248.9 648.2h0M244.5 650.5h0M286.8 662.0h0M239.1 635.2h0M270.9 652.6h0M274.1 663.4h0M248.5 616.5h0M234.4 638.0h0M280.0 632.6h0M282.1 660.7h0M280.3 679.8h0M273.5 622.4h0M274.5 650.0h0M256.3 680.1h0M249.4 641.8h0M306.0 641.2h0M238.6 669.8h0M263.6 646.2h0M275.9 654.6h0M262.1 673.1h0M273.2 633.4h0M292.7 662.6h0M270.9 643.4h0M275.0 640.8h0M303.8 678.2h0M247.2 649.9h0M263.2 640.8h0M237.0 620.5h0M241.0 628.0h0M275.3 670.4h0M306.0 627.9h0M255.1 620.7h0M279.1 663.7h0M286.1 652.2h0M284.5 660.3h0M240.8 681.5h0M264.9 627.6h0M266.0 671.0h0M253.3 640.7h0M233.4 626.5h0M298.9 623.2h0M246.0 624.0h0M253.4 670.4h0M286.4 673.4h0M275.7 623.6h0M281.3 640.9h0M267.6 681.0h0M254.7 620.8h0M292.4 617.8h0M239.1 664.5h0M263.9 663.3h0M259.5 678.6h0M260.5 635.2h0M268.3 643.3h0M298.5 674.2h0M259.2 680.3h0M303.6 619.0h0M259.9 639.2h0M277.7 633.5h0M302.4 652.4h0M239.6 618.8h0M237.8 639.8h0M266.5 636.8h0M250.5 623.1h0M286.1 669.6h0M264.6 669.0h0M296.4 655.1h0M244.4 642.3h0M270.4 619.5h0M263.7 626.8h0M293.3 664.9h0M272.4 637.4h0M247.6 637.7h0M305.0 671.7h0M269.9 634.3h0M282.2 628.4h0M269.6 669.1h0M233.8 646.0h0M253.7 656.4h0M255.1 621.9h0M277.0 635.6h0M262.6 620.4h0M245.5 657.7h0M242.8 662.8h0M256.8 679.4h0M268.5 639.2h0M302.2 656.8h0M278.7 628.0h0M288.9 659.7h0M269.4 655.0h0M232.7 668.1h0M262.0 682.3h0M303.4 653.8h0M281.8 663.4h0M287.1 619.3h0M301.3 624.4h0M307.2 675.6h0M237.1 669.8h0M281.4 646.9h0M270.2 655.5h0M285.4 656.3h0M285.1 680.2h0M286.6 650.8h0M304.0 626.8h0M292.1 679.6h0M291.2 657.6h0M278.6 640.8h0M290.9 680.1h0M267.3 650.8h0M277.6 640.7h0M238.3 660.1h0M263.8 645.9h0M273.0 625.6h0M273.8 655.1h0M277.5 661.8h0M245.9 629.0h0M271.5 637.0h0M300.8 624.7h0M248.3 681.6h0M304.9 639.4h0M302.0 620.5h0M290.7 673.3h0M292.6 652.3h0M296.4 657.8h0M291.8 632.2h0M267.7 679.1h0M297.2 620.4h0M272.5 676.2h0M272.0 630.6h0M298.1 656.3h0M249.8 644.3h0M297.4 617.1h0M278.3 657.3h0M293.3 624.2h0M239.1 665.8h0M263.8 651.8h0M253.8 679.2h0M279.1 665.4h0M247.2 675.4h0M255.9 682.3h0M305.8 624.5h0M281.4 664.2h0M263.7 624.9h0M279.3 662.9h0M298.5 635.1h0M233.1 655.3h0M236.2 664.8h0M294.9 634.5h0M281.6 666.6h0M279.0 664.2h0M247.8 663.8h0M300.2 654.3h0M239.3 674.0h0M270.7 680.0h0M252.7 670.6h0M265.1 665.0h0M280.4 654.0h0M253.2 681.9h0M263.7 633.3h0M261.9 625.7h0M280.6 637.9h0M263.6 667.0h0M254.8 651.1h0M275.5 665.5h0M244.5 673.3h0M260.4 637.1h0M269.7 670.1h0M287.9 657.6h0M289.8 640.1h0M258.5 669.9h0M256.8 657.9h0M288.7 653.3h0M233.9 672.0h0M267.1 651.4h0M250.6 618.0h0M276.1 659.5h0M259.0 671.5h0M289.0 647.8h0M255.1 680.4h0M278.1 640.5h0M272.2 651.6h0M307.3 661.5h0M234.4 668.0h0M276.5 680.4h0M233.2 652.5h0M295.1 676.3h0M281.6 682.3h0M294.4 627.3h0M266.0 649.1h0M296.4 653.6h0M293.3 665.2h0M296.0 631.3h0M279.2 633.8h0M253.1 659.2h0M295.9 667.3h0M250.9 682.4h0M246.4 653.8h0M259.8 642.0h0M260.5 645.5h0M233.8 632.6h0M298.4 628.0h0M260.0 675.1h0M279.6 643.5h0M284.2 624.7h0M283.8 620.4h0M248.1 640.8h0M257.1 660.0h0M239.3 628.7h0M277.4 637.6h0M236.1 640.4h0M233.4 661.0h0M255.0 679.8h0M300.0 682.2h0M291.9 669.6h0M287.3 669.8h0M242.6 677.0h0M240.4 664.3h0M274.2 629.3h0M251.6 641.4h0M267.4 646.6h0M251.6 660.2h0M249.2 668.7h0M306.6 669.8h0M274.4 645.2h0M249.5 671.8h0M302.7 640.9h0M237.6 659.6h0M297.1 634.3h0M301.5 658.9h0M295.2 642.1h0M299.2 654.0h0M250.0 665.1h0M289.9 619.6h0M272.1 620.2h0M302.3 666.2h0M302.4 670.5h0M233.6 635.9h0M270.5 640.0h0M293.8 638.7h0M272.8 670.5h0M289.6 673.2h0M283.8 658.9h0M276.6 646.9h0M305.8 632.2h0M233.7 675.7h0M303.0 666.9h0M275.2 621.0h0M285.1 644.7h0M271.8 636.8h0M295.7 634.8h0M255.4 677.8h0M280.4 669.5h0M280.7 658.3h0M292.8 639.9h0M247.1 674.8h0M266.5 674.5h0M262.5 635.5h0M247.8 675.3h0M285.5 640.1h0M267.3 642.6h0M279.2 681.9h0M289.6 665.4h0M298.7 670.7h0M259.9 625.3h0M232.7 679.2h0M290.5 662.9h0M306.3 652.5h0M287.0 660.5h0M306.9 623.6h0M286.4 681.8h0M247.6 654.6h0M298.7 619.1h0M257.1 646.4h0M244.3 678.1h0M277.8 674.1h0M274.8 639.3h0M235.9 621.3h0M294.0 645.0h0M293.6 620.7h0M235.9 680.6h0M270.1 657.6h0M265.4 677.7h0M291.4 669.8h0M280.3 666.5h0M302.9 648.7h0M279.3 637.5h0M278.2 673.9h0M279.6 681.2h0M241.6 652.5h0M295.3 675.9h0M289.2 617.8h0M306.0 630.5h0M304.0 662.3h0M296.4 645.2h0M244.8 644.9h0M277.8 620.4h0M250.1 673.1h0M279.3 628.2h0M246.1 650.9h0M273.6 654.1h0M285.4 655.7h0M235.1 648.6h0M273.5 617.4h0M298.3 647.4h0M237.0 641.2h0M292.2 677.1h0M257.7 651.6h0M239.7 654.4h0M266.2 647.7h0M261.7 643.3h0M299.7 640.4h0M249.7 648.1h0M289.2 649.2h0M262.6 618.7h0M264.9 647.8h0M275.6 643.9h0M292.0 653.4h0M277.5 642.0h0M282.1 648.0h0M294.0 671.7h0M240.1 663.0h0M277.8 674.7h0M289.5 647.1h0M237.5 629.4h0M284.5 657.8h0M305.3 633.7h0M286.8 620.5h0M232.5 631.1h0M257.0 662.0h0M295.8 630.6h0M307.3 618.7h0M236.5 670.5h0M300.3 650.3h0M250.3 629.6h0M266.8 661.4h0M280.4 659.6h0M265.1 661.9h0M277.4 666.3h0M306.2 635.5h0M234.5 634.1h0M266.4 667.6h0M249.1 633.7h0M306.2 637.1h0M260.9 667.6h0M252.5 658.5h0M300.0 642.3h0M297.7 667.9h0M306.4 640.0h0M303.4 632.0h0M244.4 656.1h0M303.7 639.4h0M252.7 656.7h0M269.9 676.4h0M254.7 680.9h0M303.0 618.1h0M240.9 629.2h0M234.5 671.7h0M257.6 665.7h0M300.7 624.5h0M305.2 637.8h0M277.1 630.3h0M303.2 678.3h0M297.7 617.9h0M277.1 628.0h0M266.3 656.1h0M268.6 624.2h0M293.0 638.8h0M254.3 620.7h0M291.4 644.9h0M249.9 638.9h0M295.4 618.9h0M307.1 655.5h0M257.4 632.1h0M299.4 673.5h0M233.4 650.6h0M258.3 637.1h0M275.1 630.1h0M298.4 655.1h0M279.0 647.5h0M281.6 647.7h0M262.0 663.9h0M298.8 643.8h0M270.9 629.1h0M265.8 676.7h0M248.0 649.5h0M252.6 674.2h0M297.5 658.7h0M237.7 628.9h0M295.1 637.3h0M253.0 674.7h0M271.2 676.2h0M266.6 649.6h0M256.5 653.9h0M278.9 625.5h0M277.0 622.8h0M275.7 636.5h0M242.6 622.3h0M261.7 649.2h0M275.6 620.4h0M293.7 657.4h0M256.3 646.8h0M306.8 650.5h0M294.9 649.2h0M250.0 626.7h0M234.2 665.9h0M262.4 681.1h0M276.9 634.2h0M234.5 623.6h0M276.9 680.6h0M277.9 643.9h0M294.9 654.3h0M291.3 629.7h0M267.0 655.7h0M273.8 657.3h0M278.3 672.5h0M283.9 666.3h0M307.4 650.5h0M236.5 636.3h0M262.2 655.2h0" stroke="#7428b6" stroke-width="2.3"/>
<path d="M302.6 646.8h0M263.2 656.3h0M288.7 639.6h0M246.1 616.6h0M304.2 630.4h0M254.9 660.4h0M261.6 652.2h0M276.3 630.5h0M256.9 663.2h0M277.3 680.4h0M249.1 647.3h0M269.2 636.0h0M280.6 627.2h0M276.2 618.6h0M281.5 627.7h0M284.7 628.5h0M283.7 626.9h0M284.3 677.5h0M260.7 677.8h0M285.7 641.6h0M306.0 681.8h0M295.7 671.9h0M305.4 626.1h0M304.4 651.4h0M271.7 656.3h0M259.0 645.7h0M297.1 646.2h0M300.2 625.0h0M251.2 679.4h0M275.7 641.4h0M307.1 622.9h0M297.4 660.3h0M245.2 672.5h0M243.6 631.7h0M280.5 641.8h0M257.4 674.8h0M300.5 618.2h0M291.9 618.2h0M233.4 638.5h0M244.5 677.9h0M273.2 624.2h0M304.3 650.4h0M297.8 625.5h0M301.6 638.4h0M295.3 625.3h0M288.9 665.1h0M256.1 669.4h0M292.8 665.6h0M280.1 634.8h0M250.3 645.3h0M247.7 637.2h0M283.2 673.6h0M236.7 657.6h0M272.9 644.5h0M285.0 636.6h0M300.9 662.5h0M269.1 642.3h0M275.6 670.1h0M299.7 643.1h0M303.4 662.8h0M263.7 652.0h0M297.5 623.5h0M273.4 653.9h0M285.8 631.7h0M298.6 625.4h0M296.2 651.2h0M281.2 630.7h0M239.0 616.6h0M307.5 650.4h0M301.3 682.3h0M294.0 618.2h0M288.6 658.3h0M239.3 645.9h0M242.8 650.7h0M251.1 660.1h0M267.8 655.0h0M239.6 674.8h0M301.1 633.4h0M236.7 633.6h0M238.0 643.6h0M249.1 635.1h0M303.3 663.9h0M296.3 648.7h0M259.4 677.0h0M301.7 673.2h0M291.1 635.4h0M247.6 666.7h0M297.4 657.6h0M272.6 653.2h0M301.1 681.1h0M304.6 651.1h0M245.3 618.3h0M240.4 624.8h0M270.5 630.8h0M254.3 667.2h0M288.1 655.4h0M237.2 669.4h0M254.5 643.4h0M264.0 654.6h0M298.9 665.6h0M284.2 648.8h0M234.9 677.4h0M238.9 669.1h0M266.8 621.7h0M233.7 656.7h0M278.9 665.9h0M294.9 618.5h0M246.9 631.0h0M274.3 636.8h0M295.3 626.8h0M307.0 620.3h0M274.5 654.4h0M257.9 680.5h0M280.4 620.1h0M288.0 623.3h0M256.5 672.0h0M271.5 638.7h0M277.3 649.4h0M302.6 645.1h0M294.8 658.3h0M291.5 638.1h0M263.1 680.7h0M286.5 670.8h0M298.8 632.8h0M274.1 641.5h0M251.9 616.3h0M294.7 677.8h0M235.6 652.3h0M287.5 676.0h0M280.7 657.2h0M262.9 664.9h0M298.6 622.5h0M302.6 644.7h0M291.4 662.0h0M279.3 631.0h0M268.8 667.7h0M272.7 648.6h0M241.6 665.0h0M270.0 617.0h0M242.3 622.5h0M296.4 652.4h0M234.5 618.3h0M293.1 620.9h0M237.9 660.0h0M292.4 628.2h0M295.5 642.8h0M288.5 654.1h0M233.8 669.1h0M290.8 621.1h0M270.9 655.3h0M271.1 618.3h0M261.2 658.7h0M272.0 627.9h0M281.4 621.8h0M257.2 629.8h0M243.2 646.9h0M247.0 665.6h0M275.6 665.3h0M268.3 632.8h0M280.6 664.3h0M262.5 653.8h0M246.2 642.3h0M233.2 638.2h0M267.9 650.5h0M290.0 618.3h0M256.1 675.6h0M293.3 671.5h0M256.6 645.0h0M249.0 677.4h0M258.2 673.7h0M297.9 667.6h0M262.0 638.1h0M281.4 624.6h0M253.2 654.1h0M302.5 622.1h0M264.1 670.4h0M277.9 677.0h0M262.6 626.9h0M267.7 656.8h0M257.0 672.9h0M301.1 673.7h0M258.7 673.0h0M254.1 640.0h0M269.6 634.4h0M248.6 663.9h0M241.7 678.2h0M293.1 661.2h0M250.3 681.9h0M281.2 670.4h0M243.5 676.7h0M297.6 649.8h0M249.0 628.4h0M267.7 644.6h0M248.4 629.7h0M266.6 618.0h0M305.5 634.9h0M270.7 668.0h0M259.1 639.0h0M259.7 626.6h0M303.0 657.9h0M286.5 662.5h0M282.9 643.5h0M280.1 653.0h0M288.1 665.9h0M292.4 649.6h0M298.3 671.1h0M240.3 645.2h0M271.4 629.8h0M303.4 629.2h0M280.6 671.3h0M279.9 620.6h0M297.3 654.5h0M265.0 627.5h0M244.5 640.0h0M263.2 643.5h0M240.0 659.9h0M258.1 624.0h0M305.2 621.0h0M303.8 661.7h0M247.3 668.7h0M282.0 652.6h0M307.1 631.5h0M241.4 629.4h0M296.0 619.8h0M234.8 646.6h0M279.4 638.7h0M247.8 679.1h0M249.2 672.6h0M272.6 659.6h0M236.4 655.8h0M247.1 657.3h0M257.6 653.9h0M279.5 641.9h0M307.0 618.7h0M275.9 664.9h0M285.8 665.1h0M281.1 663.9h0M251.8 680.9h0M275.7 667.8h0M278.1 675.6h0M305.1 631.1h0M257.9 677.2h0M287.7 660.5h0M278.5 645.7h0M245.5 643.9h0M267.2 669.7h0M280.2 682.2h0M261.7 632.1h0M234.0 644.5h0M251.3 634.3h0M284.7 664.3h0M294.3 651.6h0M232.4 676.2h0M271.9 651.7h0M269.1 662.6h0M250.3 677.0h0M287.3 646.9h0M232.6 678.9h0M306.1 635.9h0M244.9 661.7h0M284.4 672.7h0M280.4 664.1h0M234.7 672.6h0M304.3 617.0h0M283.1 620.4h0M255.8 627.8h0M240.6 660.8h0M302.1 659.3h0M277.7 623.7h0M305.7 668.3h0M280.1 634.3h0M248.5 674.8h0M270.0 663.3h0M289.0 657.7h0M275.5 660.7h0M305.6 650.6h0M233.1 678.8h0M279.3 626.2h0M254.7 651.3h0M292.4 680.3h0M302.9 628.8h0M298.7 617.8h0M295.0 659.5h0M239.6 667.6h0M245.6 616.4h0M269.0 618.9h0M290.6 639.3h0M248.8 659.4h0M275.0 667.3h0M253.5 626.3h0M300.0 636.0h0M252.9 618.8h0M237.7 670.9h0M249.3 647.8h0M253.4 682.3h0M294.9 633.7h0M257.8 642.0h0M239.3 644.8h0M269.7 625.6h0M236.3 643.9h0M251.4 644.8h0M279.6 652.4h0M277.5 630.4h0M294.7 639.7h0M279.4 625.1h0M253.2 621.7h0M268.7 646.7h0M259.9 639.8h0M304.0 678.6h0M306.2 629.5h0M297.4 641.9h0M234.3 673.6h0M272.7 628.2h0M264.6 618.6h0M297.6 640.5h0M264.5 652.0h0M249.1 629.5h0M244.3 678.6h0M266.5 625.4h0M284.0 630.5h0M305.0 649.2h0M285.0 624.0h0M288.9 671.3h0M256.3 637.4h0M293.6 632.8h0M285.7 636.7h0M302.1 662.2h0M297.4 652.3h0M284.4 622.7h0M303.5 631.4h0M254.9 657.6h0M294.5 671.5h0M287.8 667.5h0M245.9 674.9h0M293.7 680.2h0M283.3 664.1h0M289.2 636.6h0M305.7 667.3h0M232.6 667.4h0M284.7 623.4h0M233.0 668.2h0M265.4 627.1h0M265.2 678.0h0M281.7 661.8h0M267.9 666.1h0M251.2 627.5h0M266.1 634.2h0M263.6 649.9h0M294.6 682.3h0M275.6 634.8h0M233.3 672.7h0M284.7 621.1h0M273.2 675.3h0M243.8 674.2h0M289.7 630.3h0M241.8 655.5h0M306.3 681.7h0M253.6 668.5h0M243.1 661.7h0M297.0 666.1h0M304.3 654.9h0M266.8 678.1h0M295.4 660.2h0M246.6 622.6h0M278.9 642.9h0M259.2 643.6h0M248.9 676.3h0M281.2 645.7h0M244.5 645.4h0M292.9 625.0h0M296.7 682.3h0M281.8 633.5h0M303.6 628.8h0M245.2 618.7h0M283.6 647.3h0M279.2 634.5h0M297.7 673.7h0M257.0 664.9h0M244.7 666.0h0M260.0 649.9h0M242.9 672.8h0M238.4 618.0h0M295.5 622.0h0M239.1 659.3h0M304.7 669.2h0M270.5 631.9h0M241.3 657.8h0M275.6 647.3h0M273.5 620.7h0M255.0 644.1h0M246.3 650.1h0M279.7 646.5h0M293.5 673.2h0M302.2 625.2h0M236.3 682.3h0M272.6 618.8h0M306.8 633.0h0M273.8 654.3h0M288.9 678.8h0M287.5 664.1h0M263.7 656.5h0M300.4 656.0h0M306.3 620.6h0M304.0 646.3h0M298.8 616.5h0M280.8 658.9h0M255.5 661.7h0M274.6 639.2h0M268.3 623.8h0M245.5 670.9h0M273.8 631.9h0M284.6 640.1h0M301.9 658.6h0M283.2 670.2h0M281.7 669.3h0M244.7 675.5h0M304.3 645.7h0M251.6 670.1h0M246.0 675.9h0M272.8 662.5h0M276.8 632.2h0M299.5 664.9h0M276.0 650.7h0M302.0 633.3h0M306.6 618.5h0M298.4 653.2h0M304.0 673.9h0M282.8 660.9h0M254.6 657.1h0M274.8 619.2h0M286.3 658.1h0M243.9 662.5h0M270.1 636.8h0M262.2 657.2h0M281.8 648.6h0M238.1 646.9h0M253.1 632.6h0M250.2 643.7h0M240.2 633.9h0M272.4 642.7h0M262.4 675.0h0M305.1 633.6h0M281.0 674.1h0M256.1 630.0h0M277.3 620.5h0M258.4 617.2h0M261.8 645.2h0M275.8 659.4h0M296.7 677.4h0M258.6 641.6h0M292.5 653.8h0M275.7 682.3h0M306.8 648.3h0M275.8 681.4h0M260.3 658.9h0M278.5 681.9h0M291.3 661.7h0M273.8 638.0h0M303.4 667.8h0M285.6 666.2h0M254.2 662.6h0M248.5 644.8h0M307.3 652.7h0M233.7 677.6h0M279.1 660.0h0M245.0 672.6h0M271.1 671.0h0M260.9 674.5h0M288.7 638.1h0M297.5 634.5h0M292.2 618.8h0M282.6 672.0h0M266.2 664.5h0M233.2 675.2h0M248.7 676.7h0M265.9 676.7h0M300.1 670.0h0M294.1 654.9h0M289.5 674.1h0M278.9 664.3h0M270.1 635.1h0M259.9 651.5h0M277.2 673.8h0M262.4 642.2h0M287.8 659.8h0M306.1 635.9h0M259.1 635.2h0M263.1 639.2h0M290.6 632.5h0M296.3 618.8h0M283.4 644.9h0M292.8 661.2h0M263.1 668.3h0M274.6 678.4h0M267.1 644.6h0M246.3 639.3h0M278.4 655.7h0M257.1 654.0h0M263.5 625.8h0M261.8 653.4h0M250.7 673.3h0M232.4 666.0h0M251.8 639.8h0M271.8 645.7h0M297.7 625.3h0M305.1 658.3h0M268.7 664.7h0M238.4 620.0h0M248.3 639.9h0M260.0 655.9h0M265.9 645.1h0M281.9 639.2h0M277.2 630.0h0M251.2 651.4h0M299.2 618.8h0M307.3 616.8h0M275.9 675.6h0M245.3 653.6h0M260.2 637.0h0M282.4 642.3h0M297.4 630.5h0M271.1 639.2h0M235.3 628.4h0M233.2 679.1h0M269.8 674.8h0M305.5 618.1h0M264.9 633.9h0M255.3 637.0h0M274.7 642.3h0M298.1 668.3h0M255.8 624.7h0M305.8 665.2h0M301.8 665.6h0M280.2 646.5h0M294.5 618.4h0M252.8 670.0h0M262.4 670.2h0M262.0 617.2h0M279.3 653.9h0M272.2 670.2h0M250.1 651.8h0M274.5 668.8h0M279.8 642.2h0M236.6 626.3h0M232.3 652.1h0M293.0 647.5h0M276.5 644.9h0M304.4 681.2h0M285.5 651.9h0M290.9 635.9h0M276.7 632.4h0M263.4 663.4h0M290.8 617.3h0M285.1 670.1h0M257.3 653.9h0M269.9 657.9h0M280.3 652.7h0M247.1 656.6h0M268.1 639.3h0M288.5 625.7h0M305.2 663.5h0M240.6 639.3h0M293.2 616.9h0M294.1 617.6h0M307.0 620.8h0M295.8 623.8h0M283.9 626.6h0M296.0 674.5h0M298.4 640.3h0M301.8 634.9h0M269.2 655.5h0M265.7 677.3h0M285.3 682.2h0M273.0 682.4h0M241.7 639.6h0M282.0 640.0h0M246.7 660.1h0M258.4 639.3h0M255.0 672.1h0M301.0 631.2h0" stroke="#5614a4" stroke-width="2"/>
</g>
<clipPath id="c19"><rect x="308.2" y="617.2" width="73.6" height="64.3"/></clipPath>
<g clip-path="url(#c19)" stroke-linecap="round" fill="none">
<rect x="308.2" y="617.2" width="73.6" height="64.3" fill="#b898c2"/>
<path d="M309.1 661.0h0M324.9 637.7h0M313.5 626.9h0M380.7 649.0h0M374.4 671.2h0M348.7 622.7h0M326.8 654.9h0M366.6 670.1h0M353.7 616.9h0M329.3 645.5h0M311.3 642.0h0M354.0 652.0h0M314.6 667.7h0M349.8 639.5h0M359.2 669.1h0M374.0 659.4h0M359.9 669.9h0M325.6 670.8h0M326.0 682.4h0M342.3 662.7h0M368.4 661.9h0M367.6 674.3h0M325.6 625.8h0M318.4 645.5h0M353.4 673.8h0M307.3 655.6h0M338.9 654.1h0M367.3 640.7h0M348.4 619.6h0M365.4 647.7h0M371.3 672.1h0M317.7 647.1h0M363.7 646.6h0M351.5 622.1h0M328.9 666.6h0M323.4 638.4h0M334.6 619.2h0M339.2 622.1h0M328.1 629.1h0M312.6 647.5h0M345.3 659.0h0M328.7 653.0h0M344.6 619.2h0M372.9 630.4h0M372.5 621.7h0M320.1 634.8h0M343.1 647.0h0M382.5 656.8h0M317.4 664.7h0M381.8 662.9h0M377.6 649.4h0M330.6 617.5h0M317.1 668.1h0M342.1 626.9h0M356.9 651.6h0M332.1 640.6h0M326.6 650.0h0M345.5 670.6h0M362.3 670.0h0M377.6 662.7h0M380.6 634.5h0M330.2 669.7h0M349.0 632.8h0M370.7 660.3h0M365.5 634.9h0M364.5 621.4h0M368.7 650.2h0M339.4 673.2h0M349.4 662.2h0M369.1 678.0h0M337.5 633.8h0M351.1 656.8h0M310.5 620.5h0M368.9 671.7h0M377.9 681.9h0M377.1 644.2h0M372.4 662.7h0M314.2 661.6h0M361.5 617.3h0M307.8 653.6h0M334.6 620.9h0M319.0 647.8h0M362.3 655.6h0M359.2 653.1h0M346.8 637.6h0M346.5 646.1h0M340.6 628.4h0M363.9 623.6h0M363.9 620.8h0M382.1 665.7h0M334.6 672.9h0M374.6 641.4h0M366.9 645.6h0M350.5 678.1h0M365.9 657.5h0M319.3 662.5h0M325.7 633.1h0M358.9 634.7h0M318.9 636.6h0M341.1 637.3h0M333.1 675.9h0M332.2 628.5h0M348.0 675.0h0M361.9 641.1h0M334.2 671.5h0M371.7 618.0h0M307.9 676.8h0M345.3 671.4h0M339.8 643.2h0M348.4 677.3h0M335.4 623.0h0M353.4 618.0h0M357.7 650.2h0M377.7 678.7h0M353.4 658.6h0M348.1 663.3h0M329.8 669.8h0M366.7 650.8h0M367.0 682.2h0M370.1 637.2h0M375.4 667.5h0M327.5 622.8h0M347.1 635.3h0M375.8 682.4h0M346.3 629.2h0M324.4 659.8h0M347.7 629.2h0M335.8 617.4h0M382.7 643.8h0M329.9 650.7h0M382.6 674.7h0M350.0 627.4h0M320.0 647.8h0M318.8 618.2h0M376.9 661.2h0M374.3 670.5h0M353.0 646.6h0M314.5 650.2h0M347.5 621.2h0M370.7 622.2h0M350.9 677.6h0M375.6 680.7h0M312.4 648.5h0M372.1 634.0h0M313.5 672.8h0M342.7 680.7h0M333.2 665.7h0M327.7 664.7h0M357.7 628.7h0M334.2 620.9h0M316.9 677.6h0M356.4 622.2h0M330.2 658.7h0M309.2 669.2h0M374.5 681.1h0M313.7 619.9h0M366.3 623.5h0M326.8 663.8h0M362.9 638.7h0M340.7 665.3h0M331.6 624.0h0M335.6 633.7h0M329.6 625.1h0M366.7 644.9h0M312.2 622.4h0M326.4 652.7h0M367.9 644.5h0M319.8 638.5h0M311.1 661.3h0M333.3 660.8h0M353.4 682.3h0M351.6 629.4h0M330.3 645.0h0M310.7 662.2h0M353.0 670.8h0M316.3 639.2h0M367.2 620.4h0M354.6 663.4h0M320.4 619.4h0M342.3 620.2h0M314.1 616.7h0M323.9 650.3h0M328.4 639.4h0M360.9 656.1h0M336.9 647.5h0M312.9 624.7h0M352.1 651.5h0M373.2 637.0h0M337.2 620.0h0M356.3 619.8h0M327.1 654.6h0M367.8 623.5h0M307.4 656.8h0M339.1 637.3h0M346.8 667.8h0M372.0 648.2h0M341.8 644.6h0M335.9 672.0h0M324.7 682.1h0M378.3 662.5h0M356.5 668.2h0M363.4 641.5h0M334.6 666.8h0M355.3 632.7h0M311.6 665.4h0M346.3 652.2h0M377.4 677.6h0M360.4 649.0h0M376.9 678.4h0M317.8 675.4h0M360.0 646.3h0M311.3 622.9h0M319.5 671.5h0M337.4 625.1h0M315.4 681.1h0M343.4 682.4h0M381.1 678.8h0M307.6 654.1h0M360.3 660.4h0M348.0 629.3h0M312.9 660.8h0M316.8 649.6h0M337.8 639.0h0M349.1 671.4h0M363.3 634.0h0M378.3 664.8h0M355.7 616.2h0M345.8 616.8h0M359.4 649.8h0M360.0 655.9h0M332.6 625.8h0M362.8 642.9h0M353.0 664.1h0M357.3 640.9h0M362.6 656.8h0M337.7 640.7h0M323.6 660.5h0M311.4 631.6h0M352.9 668.4h0M339.6 656.1h0M344.8 640.9h0M363.2 681.8h0M375.7 649.5h0M355.4 657.0h0M361.2 673.0h0M370.1 648.6h0M323.2 669.6h0M350.7 647.1h0M310.7 667.1h0M340.3 628.4h0M352.3 623.6h0M381.2 658.8h0M318.6 646.4h0M357.7 638.2h0M334.9 655.2h0M349.1 640.0h0M356.6 626.1h0M351.8 631.5h0M366.5 666.6h0M358.9 648.2h0M316.1 653.9h0M334.2 659.5h0M362.2 676.9h0M337.6 647.6h0M325.8 624.5h0M373.4 626.4h0M379.9 631.7h0M341.9 622.6h0M311.9 620.1h0M332.0 644.6h0M346.0 634.6h0M346.6 624.0h0M324.9 667.0h0M361.4 655.9h0M341.0 650.9h0M349.3 660.5h0M367.7 621.8h0M315.6 667.5h0M329.9 627.4h0M330.0 673.9h0M363.9 665.9h0M338.2 636.8h0M331.0 660.4h0M347.6 667.4h0M312.9 663.0h0M366.8 638.1h0M332.5 653.9h0M324.7 622.4h0M364.1 675.7h0M371.6 664.1h0M314.7 660.3h0M310.2 627.1h0M358.0 616.4h0M329.6 639.1h0M371.4 665.2h0M334.1 668.9h0M346.5 625.9h0M377.4 621.1h0M318.9 679.6h0M368.0 659.4h0M360.5 656.4h0M373.2 647.7h0M375.9 678.2h0M352.2 655.0h0M318.8 633.2h0M380.5 640.9h0M357.3 654.9h0M351.1 643.2h0M368.2 658.8h0M337.1 678.5h0M346.0 618.3h0M309.3 666.9h0M324.7 636.1h0M344.9 666.2h0M335.9 651.0h0M362.4 627.0h0M341.6 655.8h0M353.9 622.6h0M308.0 654.1h0M382.2 662.3h0M369.7 659.5h0M369.2 662.2h0M355.4 647.8h0M333.9 664.0h0M346.9 646.2h0M314.6 674.0h0M322.1 667.4h0M376.9 635.4h0M354.6 640.9h0M325.3 647.9h0M341.6 622.6h0M339.3 655.8h0M336.6 662.5h0M352.3 678.2h0M378.6 657.9h0M362.7 657.4h0M336.8 659.6h0M309.1 627.7h0M364.7 676.7h0M372.8 622.4h0M308.9 660.8h0M311.5 627.9h0M346.6 618.4h0M331.4 631.8h0M353.6 676.7h0M370.0 621.5h0M354.5 641.8h0M310.6 676.0h0M318.9 632.3h0M352.1 620.5h0M318.6 678.9h0M380.9 673.5h0M363.4 678.7h0M308.3 652.7h0M336.9 632.3h0M348.5 659.5h0M344.9 674.7h0M331.1 643.1h0M318.1 652.3h0M323.5 662.7h0M378.9 642.9h0M362.0 645.8h0M361.1 670.6h0M355.4 646.9h0M319.9 664.2h0M329.5 661.6h0M312.1 677.8h0M361.2 640.6h0M369.8 638.0h0M382.7 672.5h0M343.5 663.7h0M372.7 638.1h0M354.9 624.9h0M333.5 657.2h0M344.1 623.6h0M350.4 648.4h0M374.3 642.4h0M348.5 651.3h0M352.7 647.5h0M338.3 646.5h0M313.7 616.7h0M372.5 643.5h0M336.3 670.7h0M334.0 655.7h0M382.5 671.0h0M336.7 629.6h0M362.1 676.8h0M356.7 653.5h0M331.1 669.5h0M314.1 658.5h0M373.5 665.8h0M326.3 626.5h0M374.6 631.0h0M370.9 677.5h0M319.3 669.1h0M358.5 682.2h0M368.6 676.4h0M336.6 662.7h0M349.6 628.5h0M317.4 662.2h0M360.3 655.6h0M354.5 637.9h0M351.1 657.0h0M322.0 645.2h0M372.2 624.7h0M346.8 625.4h0M347.4 631.9h0M338.6 643.8h0M316.2 656.8h0M323.6 654.0h0M356.9 622.3h0M317.7 641.8h0M330.2 681.8h0M372.6 645.4h0M365.4 646.6h0M335.5 632.4h0M349.0 661.8h0M329.2 664.8h0M311.7 677.3h0M339.9 666.4h0M324.2 666.2h0M322.4 621.1h0M355.3 626.3h0M316.2 617.3h0M312.4 644.0h0M313.1 676.5h0M330.6 620.8h0M347.3 627.8h0M350.1 617.8h0M329.0 628.6h0M340.0 624.1h0M352.8 644.9h0M318.3 645.9h0M329.7 621.8h0M311.4 626.0h0M347.4 675.5h0M355.5 652.9h0M362.4 633.7h0M337.5 637.1h0M349.8 640.6h0M344.6 679.3h0M378.9 652.1h0M369.6 670.2h0M331.9 668.3h0M342.9 622.9h0M314.9 670.8h0M351.3 616.6h0M341.6 626.6h0M373.2 622.2h0M333.0 647.2h0M307.5 631.8h0M359.2 638.0h0M321.8 669.1h0M374.0 640.1h0M355.5 649.3h0M357.9 640.3h0M373.6 658.0h0M347.7 621.9h0M372.5 670.8h0M378.4 669.9h0M355.7 655.1h0M366.0 667.3h0M329.9 622.3h0M369.1 642.3h0M382.2 658.8h0M330.8 631.7h0M335.5 664.0h0M360.7 649.6h0M317.8 616.9h0M365.4 650.9h0M378.0 663.2h0M311.2 646.8h0M356.2 653.0h0M361.0 636.7h0M361.0 654.7h0M350.7 633.3h0M317.9 663.8h0M370.9 669.1h0M317.5 659.4h0M371.2 653.2h0M369.1 680.6h0M343.0 652.4h0M357.7 647.7h0M330.4 655.4h0M316.1 653.8h0M317.5 645.0h0M340.3 646.8h0M324.8 633.8h0M333.0 643.3h0M351.4 634.9h0M372.2 677.0h0M321.2 654.1h0M336.7 682.5h0M363.4 627.8h0M339.5 676.7h0M322.3 627.5h0M317.4 667.1h0M363.9 617.2h0M378.0 674.2h0M311.5 665.3h0M374.0 653.8h0M357.2 652.1h0M333.6 659.3h0M358.6 637.4h0M316.5 634.0h0M327.6 659.7h0M371.7 678.1h0M374.9 651.3h0M339.3 626.2h0M332.5 656.3h0M333.3 678.4h0M336.4 657.0h0M364.7 647.4h0M324.7 623.5h0M334.8 616.2h0M338.0 648.5h0M356.7 657.0h0M316.6 669.4h0M329.0 653.0h0M328.4 623.7h0M367.9 623.1h0M353.3 638.0h0M355.8 664.3h0M323.9 621.7h0M353.9 629.2h0M326.5 660.0h0M320.8 632.2h0M332.5 636.8h0M358.8 630.7h0M378.3 650.7h0M333.7 619.6h0M365.1 631.0h0M344.5 679.6h0M348.0 678.9h0M333.3 625.8h0M380.9 672.0h0M318.5 650.5h0M332.8 670.8h0M359.7 647.6h0M370.1 658.1h0M378.5 651.3h0M365.6 643.7h0M336.2 637.1h0M357.8 629.0h0M364.3 652.9h0M377.2 661.0h0M316.0 638.3h0M357.5 640.0h0M359.1 621.2h0M332.4 650.8h0M345.9 630.3h0M328.1 626.0h0M377.4 677.1h0M343.4 659.6h0M350.2 624.5h0M339.2 647.8h0M375.8 669.3h0M326.6 665.7h0M313.8 678.3h0M349.1 659.4h0M309.8 681.6h0M347.4 617.3h0M338.9 668.3h0M328.9 654.1h0M357.9 623.3h0M344.8 624.4h0M329.1 668.3h0M355.9 637.9h0M316.9 645.5h0M358.6 627.7h0M323.7 670.0h0M308.4 628.8h0M317.8 678.1h0M329.6 659.9h0M372.5 655.9h0M320.1 642.4h0M332.5 628.4h0M313.0 680.6h0M322.1 632.4h0M368.6 623.4h0M378.7 640.3h0M354.3 638.4h0M336.7 647.7h0M341.4 630.9h0M310.0 631.0h0M371.1 648.9h0M365.8 669.9h0M358.1 629.4h0M365.0 642.1h0M359.4 667.6h0M346.3 657.3h0M355.2 670.1h0M316.7 675.1h0M350.9 652.3h0M339.5 667.3h0M314.2 674.1h0M310.9 640.5h0M378.6 645.4h0M308.1 670.7h0M363.9 680.9h0M362.3 680.7h0M341.3 655.7h0M312.3 625.8h0M378.8 657.2h0M353.3 632.6h0M372.5 642.6h0M325.2 662.5h0M336.1 624.8h0M350.9 632.9h0M380.0 678.7h0M320.6 663.1h0M357.6 617.3h0M332.1 628.6h0M359.7 630.8h0M357.4 621.6h0M310.5 623.4h0M313.3 629.1h0M382.1 658.5h0M354.9 675.3h0M311.5 638.4h0M352.6 642.7h0M352.7 650.7h0M315.0 661.3h0M318.3 660.8h0M361.7 638.2h0M346.7 635.9h0M346.6 657.4h0M307.5 672.5h0M319.7 619.2h0M377.9 671.8h0M313.0 664.5h0M365.2 668.4h0M329.8 679.3h0M378.0 656.3h0M359.3 623.5h0M363.2 622.7h0M325.5 661.4h0M309.9 641.8h0M327.9 669.7h0M370.7 676.5h0M343.1 642.9h0M379.9 617.7h0M323.5 670.6h0M353.1 639.2h0M349.2 682.3h0M312.5 650.5h0M359.3 649.9h0M324.8 630.6h0M330.9 616.4h0M358.2 669.0h0M358.3 644.6h0M373.8 652.9h0M323.0 624.6h0M339.1 625.8h0M350.5 675.2h0M377.9 668.5h0M381.5 672.1h0M332.8 627.0h0M367.7 666.3h0M339.0 645.2h0M315.8 653.3h0M376.2 620.2h0M356.4 661.9h0M370.2 638.5h0M350.6 677.8h0M343.2 644.9h0M356.0 632.3h0M312.9 625.9h0M365.6 670.7h0M336.6 656.3h0M319.4 679.2h0M367.6 621.9h0M352.8 646.1h0M366.1 666.2h0M351.5 674.0h0M363.2 646.6h0M362.5 641.8h0M336.5 659.0h0M376.7 669.7h0M343.4 653.6h0M325.4 649.9h0M370.7 681.6h0M328.3 671.2h0M354.2 641.4h0M327.6 621.4h0M350.6 648.8h0M353.1 629.0h0M341.7 627.5h0M319.7 663.3h0M368.3 659.7h0M336.5 617.3h0M371.9 627.7h0M370.9 660.3h0M341.0 638.6h0M349.8 668.3h0M362.0 629.5h0M348.0 623.0h0M376.0 660.3h0M308.2 678.2h0M338.0 655.6h0M345.6 632.2h0M333.6 650.5h0M332.5 650.5h0M365.7 659.6h0M381.0 629.7h0M342.2 625.8h0M314.5 657.6h0M330.2 653.1h0M310.8 659.7h0M343.6 659.9h0M344.9 640.1h0M347.8 662.3h0M351.6 680.5h0M337.4 676.7h0M317.3 640.5h0M361.5 645.2h0M334.8 629.1h0M341.3 667.1h0M347.3 620.2h0M331.6 671.9h0M375.9 661.3h0M322.6 644.9h0M317.6 672.6h0M346.9 657.1h0M353.2 680.4h0M327.9 653.4h0M373.2 680.1h0M357.9 671.6h0M308.4 681.4h0M320.2 669.7h0M370.4 674.6h0M355.4 659.8h0M344.4 629.5h0M331.5 645.9h0M369.0 661.3h0M382.3 618.7h0M325.2 631.1h0M355.5 639.0h0M372.3 668.9h0M324.4 680.8h0M356.0 649.1h0M321.6 627.4h0M358.3 654.4h0M350.3 634.7h0M349.2 631.4h0M319.5 633.9h0M352.0 672.7h0M323.4 655.9h0M356.4 619.8h0M373.3 650.1h0M358.0 620.8h0M324.4 658.7h0M322.2 641.5h0M338.6 655.4h0M377.2 669.3h0M379.0 650.0h0M325.2 665.4h0M333.3 651.3h0M349.3 676.1h0M378.5 667.5h0M322.9 678.2h0M371.7 655.3h0M320.7 642.7h0M367.7 669.7h0M338.3 661.5h0M344.2 625.0h0M348.7 618.0h0M328.2 631.0h0M361.9 625.3h0M351.2 628.9h0M320.8 673.0h0M363.5 623.3h0M373.6 649.8h0M322.0 621.0h0M328.5 654.8h0M323.2 639.5h0M364.9 665.2h0M382.0 678.0h0M353.5 673.5h0M319.6 679.1h0M360.3 616.5h0M360.7 649.5h0M359.2 626.8h0M314.3 658.7h0M382.6 677.2h0M328.9 662.5h0M336.3 650.5h0M312.2 642.1h0M307.9 662.7h0M341.9 617.7h0M365.0 646.2h0M378.8 658.0h0M323.0 649.4h0M315.9 626.0h0M339.5 631.0h0M341.4 619.1h0M349.5 633.7h0M357.2 671.0h0M338.1 647.1h0M360.3 666.2h0M323.6 663.7h0M333.7 635.9h0M372.0 654.4h0M354.4 670.1h0M344.1 674.4h0M316.0 663.0h0M332.8 658.5h0M338.8 672.9h0M355.0 677.8h0M331.6 617.3h0M319.2 673.8h0M320.7 661.1h0M367.7 653.2h0M321.3 636.6h0M346.5 653.0h0M317.0 674.3h0M327.2 651.8h0M366.1 673.0h0M345.1 636.0h0M379.4 628.9h0M326.6 670.4h0M349.2 631.2h0M328.4 667.4h0M318.0 656.1h0M339.9 671.0h0M311.7 626.0h0M312.8 636.5h0M339.3 627.5h0M347.6 642.8h0M323.5 666.5h0M346.7 622.4h0M320.0 631.3h0M380.0 672.1h0M319.3 677.3h0M369.1 633.6h0M376.3 667.6h0" stroke="#7026b2" stroke-width="2.3"/>
<path d="M333.1 660.9h0M320.3 619.5h0M362.6 676.0h0M337.4 632.6h0M369.6 672.0h0M328.9 634.7h0M372.7 681.7h0M330.3 621.8h0M323.6 666.5h0M313.7 677.9h0M371.4 652.5h0M309.3 662.1h0M326.1 646.4h0M356.8 663.9h0M366.3 636.6h0M335.0 655.3h0M313.3 647.0h0M374.0 680.7h0M366.3 648.6h0M323.7 627.5h0M340.6 633.4h0M364.6 665.3h0M375.1 676.6h0M335.1 624.5h0M363.3 647.5h0M379.8 651.3h0M340.6 629.5h0M377.9 668.2h0M362.1 672.1h0M344.3 673.2h0M380.8 674.4h0M329.0 679.0h0M315.9 675.8h0M315.3 663.0h0M372.7 676.1h0M371.1 633.5h0M343.4 672.7h0M330.8 675.8h0M382.6 641.1h0M370.0 676.5h0M358.2 624.5h0M352.7 643.0h0M309.3 624.1h0M373.9 631.8h0M334.8 638.8h0M331.1 680.4h0M337.8 657.0h0M343.5 629.6h0M364.4 644.6h0M317.2 660.9h0M336.3 640.7h0M329.3 664.5h0M361.7 634.4h0M309.2 650.1h0M337.4 621.9h0M382.0 672.1h0M378.8 643.1h0M326.3 647.7h0M361.8 661.1h0M316.9 654.6h0M332.7 646.5h0M322.1 661.2h0M367.0 644.5h0M325.4 654.7h0M369.5 681.6h0M350.8 616.6h0M339.9 631.5h0M362.8 648.7h0M338.6 619.2h0M323.8 674.5h0M320.0 674.7h0M324.7 641.9h0M375.6 662.4h0M332.7 654.6h0M358.4 667.6h0M341.1 679.6h0M310.3 660.6h0M375.8 662.2h0M382.5 649.0h0M351.9 651.3h0M376.1 620.3h0M327.1 639.7h0M375.6 662.6h0M380.7 664.2h0M339.0 672.8h0M333.9 662.5h0M337.0 660.6h0M321.2 661.3h0M337.3 639.5h0M328.8 631.4h0M350.5 651.8h0M308.9 674.5h0M308.5 647.3h0M353.3 661.5h0M366.1 677.3h0M355.6 660.8h0M334.5 620.8h0M366.8 680.2h0M321.1 670.6h0M330.7 669.4h0M349.5 681.6h0M315.9 621.1h0M355.3 632.9h0M316.3 657.6h0M380.0 654.3h0M381.3 668.9h0M378.5 621.0h0M340.5 657.3h0M313.6 669.2h0M350.9 629.1h0M329.7 627.3h0M363.7 619.4h0M344.1 631.1h0M318.7 644.5h0M369.9 640.4h0M353.4 659.9h0M334.8 670.7h0M381.6 627.6h0M342.7 631.7h0M360.7 626.2h0M371.4 664.9h0M317.6 636.4h0M359.8 624.5h0M327.2 679.3h0M380.3 651.9h0M329.1 676.9h0M309.4 657.9h0M356.6 620.6h0M375.5 667.4h0M359.3 682.1h0M359.5 627.1h0M380.3 635.2h0M337.3 643.5h0M345.7 636.8h0M370.3 664.5h0M335.4 669.7h0M337.5 670.9h0M357.7 665.0h0M361.8 617.1h0M332.7 619.6h0M331.8 627.1h0M310.1 646.0h0M353.1 623.7h0M332.2 661.2h0M348.6 663.0h0M321.8 666.8h0M341.4 665.3h0M317.5 631.2h0M368.9 677.0h0M342.3 651.7h0M317.3 664.1h0M316.6 649.1h0M361.1 624.7h0M362.1 676.4h0M368.4 658.4h0M362.1 632.6h0M317.6 635.2h0M308.8 618.6h0M325.4 682.0h0M337.8 640.9h0M358.3 637.9h0M364.6 676.8h0M351.2 640.5h0M309.0 659.3h0M318.8 619.2h0M349.6 619.1h0M355.1 623.3h0M382.3 636.5h0M362.6 648.1h0M380.4 636.1h0M363.0 652.9h0M356.0 624.9h0M375.0 657.7h0M346.5 622.4h0M381.7 645.6h0M344.9 678.6h0M327.9 634.4h0M368.0 664.7h0M361.1 625.3h0M374.6 654.5h0M314.1 661.2h0M373.6 673.6h0M358.4 654.3h0M350.4 647.4h0M324.5 662.8h0M368.8 659.2h0M360.0 634.2h0M364.1 634.5h0M345.2 647.3h0M317.2 664.7h0M326.1 670.5h0M348.2 636.6h0M367.3 679.2h0M366.0 668.6h0M364.8 663.9h0M348.6 668.7h0M330.8 656.7h0M315.0 637.3h0M308.3 681.4h0M318.7 632.0h0M349.3 623.1h0M330.9 618.2h0M311.7 672.1h0M368.8 659.8h0M335.4 681.2h0M309.6 619.5h0M338.9 666.5h0M382.2 654.2h0M351.2 623.7h0M312.3 626.5h0M382.7 672.9h0M380.2 672.5h0M356.1 669.7h0M355.7 682.2h0M333.5 641.4h0M378.8 664.4h0M352.3 653.0h0M372.9 616.7h0M366.1 617.0h0M307.5 645.4h0M312.1 650.9h0M354.9 659.5h0M363.3 643.1h0M361.5 654.3h0M373.4 651.7h0M379.4 675.9h0M352.0 639.0h0M330.2 619.1h0M363.9 666.0h0M367.5 660.8h0M346.2 623.8h0M331.7 679.5h0M365.3 623.2h0M372.1 671.7h0M377.7 655.9h0M315.5 642.9h0M354.6 627.8h0M315.2 645.2h0M381.5 628.0h0M321.0 636.4h0M321.9 667.2h0M317.7 643.0h0M316.5 637.1h0M352.0 654.0h0M381.2 617.5h0M374.7 668.9h0M338.0 628.9h0M358.0 647.1h0M317.1 665.0h0M366.0 654.7h0M378.2 620.9h0M361.0 649.4h0M327.9 648.0h0M314.1 616.3h0M320.2 632.9h0M359.9 635.3h0M372.2 655.4h0M357.1 640.7h0M354.9 659.7h0M318.8 670.6h0M320.5 640.5h0M369.3 629.8h0M310.0 628.9h0M309.9 673.4h0M337.6 645.0h0M363.4 662.6h0M377.4 631.9h0M348.3 666.7h0M346.0 645.6h0M332.7 665.5h0M374.0 665.8h0M319.0 643.9h0M322.8 674.6h0M338.3 638.3h0M330.2 638.4h0M323.7 624.0h0M355.6 646.0h0M317.1 649.6h0M373.6 647.2h0M326.1 641.7h0M339.4 636.1h0M323.2 641.5h0M363.5 680.3h0M323.3 672.6h0M341.0 678.0h0M314.5 626.9h0M375.8 642.9h0M319.8 630.2h0M360.2 666.6h0M329.0 620.4h0M358.9 679.4h0M360.8 665.7h0M347.4 629.0h0M357.2 671.6h0M348.0 618.0h0M320.9 638.2h0M379.2 682.4h0M364.7 631.1h0M312.7 627.1h0M344.5 644.4h0M324.6 638.3h0M310.5 669.5h0M358.9 647.6h0M334.1 662.5h0M310.1 648.3h0M338.5 681.5h0M337.5 664.3h0M365.5 674.0h0M325.1 621.1h0M337.8 624.2h0M372.6 656.1h0M370.2 667.7h0M356.5 618.3h0M349.5 668.5h0M316.0 677.1h0M363.9 618.4h0M322.1 636.2h0M375.9 670.2h0M315.7 659.5h0M335.5 674.6h0M360.4 626.8h0M322.4 680.0h0M308.8 679.1h0M350.8 633.1h0M325.0 665.8h0M332.2 662.8h0M375.2 616.8h0M359.9 633.7h0M318.1 649.4h0M346.3 667.8h0M331.1 648.0h0M314.3 672.3h0M369.7 675.3h0M377.8 672.0h0M367.0 682.1h0M321.5 671.9h0M325.3 618.1h0M320.3 616.2h0M342.3 671.8h0M356.8 676.6h0M363.3 680.4h0M365.3 641.7h0M372.6 675.2h0M376.0 644.0h0M310.7 656.6h0M334.8 640.2h0M324.7 645.3h0M313.4 625.5h0M341.2 680.2h0M356.0 629.8h0M349.9 618.7h0M370.8 658.9h0M361.3 640.2h0M311.4 663.0h0M333.8 659.5h0M326.5 682.1h0M381.3 667.1h0M356.0 643.7h0M314.4 653.1h0M316.4 660.8h0M362.8 664.5h0M325.5 658.6h0M349.6 655.9h0M352.9 657.0h0M339.9 624.1h0M323.9 658.6h0M345.6 620.8h0M326.2 661.7h0M359.4 669.3h0M348.7 649.3h0M342.5 642.1h0M371.7 659.0h0M354.4 626.8h0M357.1 624.3h0M380.5 643.2h0M347.8 643.4h0M357.1 681.8h0M322.1 672.3h0M347.9 634.0h0M370.9 665.9h0M376.9 679.5h0M353.7 647.0h0M323.0 681.4h0M377.3 664.0h0M308.6 658.4h0M361.9 652.8h0M307.5 626.8h0M312.1 659.6h0M321.6 667.5h0M342.3 619.3h0M356.2 671.7h0M355.6 649.3h0M382.3 674.6h0M370.1 647.8h0M311.2 637.7h0M326.1 660.8h0M338.9 632.0h0M369.9 630.5h0M351.9 620.0h0M356.7 635.4h0M370.2 661.2h0M363.1 638.8h0M324.6 682.1h0M347.1 635.9h0M310.6 643.2h0M352.3 673.5h0M339.3 675.0h0M334.5 644.3h0M312.3 618.2h0M351.6 632.8h0M322.3 620.0h0M362.7 676.5h0M344.8 624.8h0M360.6 679.8h0M360.8 628.8h0M365.2 655.9h0M311.1 676.5h0M323.1 654.7h0M372.9 663.4h0M322.6 681.4h0M359.6 657.2h0M313.6 680.1h0M308.4 673.9h0M367.9 663.2h0M331.4 621.9h0M333.8 644.7h0M322.5 664.4h0M379.6 654.4h0M358.1 647.6h0M323.9 656.4h0M381.9 650.5h0M319.8 663.3h0M326.1 652.9h0M357.4 631.5h0M355.5 656.7h0M369.7 618.8h0M317.6 672.4h0M349.7 657.2h0M313.6 624.0h0M330.0 669.4h0M374.1 624.0h0M361.2 671.1h0M358.8 652.4h0M355.1 632.1h0M347.3 648.4h0M361.3 656.8h0M327.8 635.7h0M379.7 659.2h0M372.5 676.8h0M375.3 622.0h0M382.8 665.0h0M367.0 654.3h0M358.0 637.7h0M341.7 625.5h0M362.2 623.0h0M381.2 646.4h0M364.9 654.3h0M348.7 625.0h0M357.5 678.7h0M347.9 648.3h0M329.1 630.3h0M374.3 656.7h0M375.8 656.1h0M361.3 653.5h0M319.0 636.8h0M344.6 677.1h0M322.6 654.3h0M338.8 635.8h0M345.3 645.1h0M327.9 675.5h0M356.5 627.7h0M361.1 642.6h0M342.0 628.1h0M349.4 663.5h0M359.8 669.2h0M321.5 659.5h0M381.8 623.0h0M314.0 663.3h0M330.1 653.8h0M323.1 641.9h0M333.0 645.8h0M325.2 636.6h0M362.1 653.8h0M362.6 669.5h0M357.4 641.6h0M372.2 652.5h0M312.4 680.3h0M314.2 618.0h0M381.0 641.3h0M344.7 651.1h0M345.1 631.3h0M332.7 660.2h0M310.2 641.2h0M330.2 645.9h0M335.9 679.1h0M329.8 647.8h0M343.5 658.7h0M313.1 681.0h0M373.1 679.8h0M340.5 623.0h0M378.8 658.4h0M328.4 654.9h0M308.9 645.1h0M365.8 677.4h0M330.4 646.9h0M369.4 620.1h0M338.0 675.9h0M329.2 650.4h0M318.0 643.1h0M367.4 680.0h0M373.1 622.8h0M353.4 644.8h0M315.1 669.8h0M363.6 644.5h0M343.9 653.9h0M308.1 680.0h0M348.2 661.6h0M361.7 629.2h0M316.6 669.7h0M377.4 619.0h0M327.7 619.3h0M366.4 682.5h0M326.6 635.2h0M344.1 668.1h0M323.6 680.4h0M369.3 649.8h0M310.6 637.2h0M349.1 658.2h0M318.0 656.8h0M338.0 663.2h0M376.9 651.1h0M326.5 670.8h0M320.5 626.0h0M375.5 659.6h0M315.9 630.7h0M351.3 668.6h0M351.5 617.4h0M361.4 675.7h0M343.2 657.3h0M353.4 631.4h0M361.9 628.3h0M310.1 672.1h0M331.7 651.4h0M354.6 647.0h0M350.5 665.8h0M351.9 618.4h0M312.8 669.5h0M330.4 637.5h0M363.9 623.3h0M310.7 662.8h0M327.5 682.5h0M375.0 632.7h0M354.5 644.4h0M329.5 657.4h0M348.1 633.7h0M381.8 662.3h0M311.3 645.4h0M344.3 668.6h0M356.9 657.5h0M348.8 680.7h0M313.3 669.6h0M363.8 624.4h0M372.9 627.6h0M364.8 671.9h0M331.4 623.8h0M353.3 681.4h0M327.8 651.1h0M375.3 650.3h0M311.8 621.6h0M372.9 627.3h0M331.2 650.9h0M356.6 662.6h0M332.6 681.5h0M369.1 673.6h0M323.4 663.7h0M323.6 678.7h0M358.3 658.8h0M362.3 623.3h0M308.2 679.3h0M348.7 668.1h0M322.1 657.1h0M310.3 671.1h0M330.0 618.3h0M317.5 682.4h0M317.1 649.3h0M308.4 627.2h0M327.1 657.0h0M345.0 644.9h0M316.1 663.6h0M369.0 646.5h0M313.5 658.3h0M319.4 636.3h0M372.2 621.5h0M367.3 629.9h0M367.6 661.4h0M330.1 663.8h0M331.1 661.4h0M365.0 660.6h0M308.3 665.1h0M374.6 634.6h0M370.8 664.4h0M347.2 633.4h0M352.6 628.0h0M381.1 670.8h0M351.0 644.9h0M343.6 638.3h0M309.6 680.6h0M316.3 643.6h0M356.8 623.7h0M316.5 652.3h0M372.4 662.2h0M343.1 644.3h0M323.8 657.2h0M353.0 624.4h0M328.8 629.6h0M366.0 625.6h0M368.3 635.9h0M366.0 677.7h0M322.2 618.9h0M320.9 634.0h0M364.5 682.1h0M366.0 637.9h0M352.1 663.9h0M308.6 618.4h0M344.9 654.6h0M355.8 671.2h0M345.3 667.4h0M317.2 666.6h0M315.8 679.3h0M359.0 645.9h0M307.8 616.6h0M320.5 625.8h0M374.1 617.3h0M335.7 676.8h0M357.5 623.4h0M339.8 674.2h0M346.7 677.4h0M318.5 625.2h0M309.5 659.5h0M332.3 640.8h0M354.1 618.4h0M349.8 643.4h0M379.2 678.0h0M380.1 627.1h0M322.2 624.5h0M376.7 644.4h0M343.7 649.8h0M345.1 648.8h0M322.4 636.3h0M353.0 657.6h0M337.9 653.5h0M382.1 673.6h0M361.0 665.4h0M356.6 622.6h0M334.6 624.1h0M308.5 634.4h0M351.5 640.1h0M370.2 623.7h0M358.2 675.7h0M363.3 665.6h0M340.9 655.4h0M382.7 665.8h0M312.4 640.4h0M312.6 650.3h0M322.7 667.4h0M373.2 669.2h0M333.5 622.9h0M368.0 622.9h0M355.6 632.9h0M308.8 654.2h0M381.6 660.7h0M345.6 634.2h0" stroke="#50129e" stroke-width="2"/>
</g>
<clipPath id="c20"><rect x="384.1" y="617.2" width="73.6" height="64.3"/></clipPath>
<g clip-path="url(#c20)" stroke-linecap="round" fill="none">
<rect x="384.1" y="617.2" width="73.6" height="64.3" fill="#c4a8c6"/>
<path d="M407.6 675.0h0M393.6 674.6h0M411.2 630.0h0M429.3 631.9h0M389.5 631.8h0M395.8 620.4h0M430.3 639.3h0M425.7 664.5h0M410.0 626.0h0M443.0 652.0h0M451.5 634.5h0M451.0 636.0h0M389.1 661.7h0M457.2 625.3h0M392.6 661.5h0M417.1 654.1h0M432.3 637.9h0M410.1 644.3h0M430.8 666.6h0M453.0 660.5h0M436.7 645.8h0M415.1 644.5h0M432.4 642.1h0M400.9 680.9h0M436.0 665.1h0M396.4 641.3h0M413.2 650.6h0M439.5 662.1h0M384.1 654.5h0M407.5 674.1h0M435.7 628.8h0M446.3 673.1h0M399.7 665.9h0M415.3 626.3h0M407.8 628.1h0M457.0 638.7h0M441.7 665.5h0M402.7 623.4h0M406.2 659.9h0M435.5 653.9h0M419.1 680.6h0M410.7 659.6h0M434.0 663.9h0M395.5 643.5h0M418.9 679.2h0M384.7 639.2h0M427.9 665.9h0M419.1 631.3h0M439.0 633.9h0M420.9 663.5h0M383.6 677.3h0M429.1 634.4h0M391.9 668.0h0M384.8 663.3h0M384.1 653.2h0M417.3 628.0h0M392.5 649.1h0M454.2 669.6h0M457.4 630.7h0M395.8 638.7h0M432.2 639.6h0M439.2 650.5h0M457.6 666.8h0M413.7 666.0h0M450.8 645.8h0M403.2 644.3h0M430.0 631.4h0M441.2 651.0h0M419.8 663.2h0M408.0 636.4h0M453.8 629.2h0M444.7 647.3h0M427.0 645.1h0M453.8 631.2h0M405.4 679.5h0M447.9 624.6h0M401.2 663.7h0M397.1 665.4h0M405.5 643.9h0M400.5 681.3h0M410.5 678.8h0M442.6 660.4h0M438.5 632.2h0M409.5 622.7h0M395.7 665.5h0M389.2 660.6h0M445.0 676.0h0M419.0 636.1h0M424.9 634.1h0M458.7 656.4h0M457.1 622.0h0M389.2 647.6h0M447.1 629.9h0M444.4 637.2h0M409.2 636.7h0M391.7 679.9h0M388.7 625.0h0M424.8 672.9h0M419.5 676.6h0M456.4 651.9h0M436.2 646.8h0M402.4 616.3h0M458.4 652.7h0M425.4 640.2h0M454.8 634.1h0M411.2 620.0h0M390.3 636.9h0M451.9 649.3h0M428.4 676.5h0M405.0 619.6h0M418.5 676.0h0M422.4 630.0h0M458.3 650.7h0M388.0 657.0h0M394.9 671.1h0M386.3 627.3h0M403.6 665.5h0M448.2 653.1h0M452.0 660.7h0M388.4 644.6h0M404.5 631.2h0M408.4 676.4h0M403.7 624.9h0M383.7 668.7h0M392.7 658.7h0M440.3 638.6h0M412.9 654.5h0M443.9 642.0h0M386.6 665.0h0M449.3 658.5h0M424.9 657.4h0M391.7 632.2h0M384.3 652.3h0M398.7 679.4h0M408.3 659.3h0M417.5 658.2h0M390.4 636.3h0M413.9 625.8h0M422.6 629.8h0M445.9 626.4h0M403.8 675.0h0M421.4 648.7h0M445.8 680.7h0M402.9 675.4h0M455.0 625.3h0M414.0 666.1h0M432.3 616.7h0M396.0 618.4h0M425.2 618.8h0M415.8 647.9h0M384.9 657.0h0M455.0 654.8h0M451.4 673.2h0M385.6 627.2h0M425.3 622.5h0M383.8 673.8h0M410.7 654.7h0M448.8 668.9h0M437.8 641.9h0M414.9 643.9h0M404.8 669.8h0M449.7 627.0h0M450.9 621.1h0M440.9 633.6h0M414.6 632.5h0M384.4 623.2h0M388.3 616.4h0M411.6 641.6h0M414.8 652.5h0M443.2 639.9h0M408.1 650.4h0M409.5 624.8h0M398.1 627.3h0M397.7 648.2h0M458.6 644.1h0M404.2 659.9h0M398.5 651.3h0M436.9 637.1h0M419.7 651.4h0M395.6 616.7h0M440.2 616.5h0M431.2 662.7h0M450.1 647.0h0M392.0 650.0h0M395.6 640.2h0M428.7 621.7h0M449.8 623.7h0M457.2 621.3h0M402.3 666.2h0M443.6 650.9h0M453.0 654.4h0M435.0 666.4h0M454.1 632.7h0M415.1 626.4h0M424.3 681.0h0M407.0 654.9h0M432.0 676.0h0M436.0 651.1h0M455.4 622.9h0M387.7 617.3h0M402.9 631.5h0M400.1 678.2h0M393.8 623.3h0M392.4 633.2h0M445.7 671.1h0M398.2 671.6h0M411.3 658.1h0M408.9 617.5h0M398.5 617.4h0M456.8 665.1h0M394.9 637.9h0M397.7 651.1h0M400.5 680.8h0M400.7 630.1h0M422.7 649.9h0M421.3 649.7h0M393.3 681.2h0M435.7 631.5h0M383.8 616.4h0M426.0 649.8h0M439.7 671.3h0M429.5 650.5h0M440.8 622.2h0M389.0 623.4h0M455.8 620.1h0M402.0 670.8h0M427.7 682.3h0M388.3 643.3h0M385.1 625.8h0M394.7 677.4h0M445.2 657.6h0M455.5 656.2h0M428.3 622.0h0M406.7 652.9h0M399.3 679.6h0M410.3 669.3h0M438.0 625.9h0M404.1 642.9h0M442.1 626.2h0M386.8 675.0h0M445.9 672.3h0M439.2 634.8h0M434.8 622.0h0M417.4 674.1h0M407.6 631.5h0M442.4 626.9h0M422.8 654.8h0M449.8 679.3h0M383.4 663.5h0M436.3 618.8h0M406.0 665.7h0M457.9 619.8h0M393.5 622.4h0M422.8 655.9h0M441.2 672.8h0M394.5 635.1h0M403.2 620.1h0M419.7 645.6h0M406.2 630.5h0M407.9 682.3h0M383.8 618.3h0M399.7 662.7h0M387.5 639.8h0M432.2 664.2h0M407.6 664.1h0M431.9 621.8h0M398.0 635.3h0M388.4 672.5h0M392.5 617.8h0M415.9 672.4h0M435.0 676.1h0M389.5 669.3h0M400.6 618.6h0M433.7 666.8h0M411.1 647.3h0M388.8 652.2h0M454.7 677.0h0M413.1 627.0h0M452.7 626.4h0M403.6 657.9h0M448.5 647.7h0M384.4 663.7h0M438.9 653.5h0M425.7 662.9h0M458.0 675.7h0M399.0 673.8h0M391.7 667.4h0M387.9 622.0h0M443.0 629.5h0M454.3 632.6h0M435.4 617.7h0M446.6 622.0h0M444.7 630.5h0M402.8 647.5h0M440.9 625.1h0M424.0 650.8h0M395.2 660.3h0M416.4 647.3h0M452.1 675.5h0M417.0 628.6h0M448.2 632.3h0M433.4 661.4h0M420.6 644.6h0M449.9 627.2h0M455.1 673.6h0M436.1 670.9h0M412.5 662.8h0M389.4 656.6h0M440.1 673.1h0M427.5 666.5h0M391.4 633.9h0M428.9 660.9h0M390.5 620.9h0M422.1 649.8h0M425.3 660.6h0M432.4 636.7h0M384.0 629.4h0M395.3 680.0h0M393.2 643.9h0M415.7 642.6h0" stroke="#7026b2" stroke-width="3"/>
<path d="M443.7 660.2h0M447.8 628.9h0M429.5 650.3h0M409.8 648.3h0M451.1 629.2h0M415.1 663.3h0M414.2 636.6h0M427.8 629.5h0M406.5 629.5h0M398.9 616.2h0M421.1 635.0h0M415.2 661.6h0M428.8 620.9h0M442.2 665.9h0M440.8 630.7h0M443.1 627.6h0M413.9 650.2h0M406.8 640.5h0M451.3 624.4h0M449.8 675.9h0M395.3 666.8h0M410.6 678.0h0M425.6 624.7h0M394.5 624.8h0M445.8 670.4h0M398.6 641.2h0M434.0 654.5h0M400.9 644.4h0M385.6 620.0h0M401.1 657.9h0M409.5 640.9h0M452.9 643.6h0M394.9 676.3h0M454.1 674.2h0M392.9 642.8h0M423.5 633.0h0M428.9 668.9h0M434.5 672.5h0M450.8 622.9h0M393.6 665.1h0M437.5 673.9h0M395.2 662.8h0M419.5 642.8h0M447.2 627.2h0M391.2 655.5h0M444.7 660.2h0M439.4 622.9h0M393.8 628.8h0M392.8 680.5h0M451.1 649.5h0M417.4 674.0h0M408.6 652.2h0M392.4 630.5h0M450.2 629.0h0M398.0 655.8h0M413.3 660.2h0M435.7 666.9h0M410.0 677.1h0M449.6 674.1h0M423.5 647.5h0M388.2 645.6h0M393.9 631.6h0M423.5 629.2h0M398.0 658.2h0M421.8 628.7h0M445.5 624.9h0M404.0 623.5h0M424.2 638.2h0M447.9 629.0h0M421.5 623.6h0M397.3 624.8h0M431.5 660.1h0M437.9 633.9h0M425.8 656.3h0M414.3 672.0h0M450.3 647.1h0M429.7 662.9h0M423.5 653.2h0M385.5 658.9h0M435.0 624.0h0M449.0 636.3h0M409.6 662.7h0M386.9 652.2h0M387.1 676.9h0M383.9 661.0h0M426.5 649.1h0M455.5 668.6h0M407.6 672.2h0M458.7 639.9h0M389.9 675.0h0M446.9 626.9h0M412.4 671.1h0M436.8 618.6h0M428.8 661.3h0M424.7 644.8h0M452.9 660.1h0M412.2 620.9h0M456.0 644.6h0M448.9 660.5h0M387.7 658.7h0M452.5 651.5h0M400.6 652.6h0M448.4 635.4h0M401.3 632.4h0M401.4 663.0h0M456.0 656.3h0M447.9 680.3h0M404.7 640.9h0M406.9 646.5h0M399.4 660.5h0M443.6 667.9h0M448.4 636.8h0M391.4 668.3h0M429.1 618.1h0M390.9 648.1h0M433.3 656.4h0M425.0 682.2h0M440.6 627.8h0M424.9 628.4h0M428.1 677.1h0M404.9 628.0h0M419.3 666.7h0M393.0 667.1h0M454.2 632.0h0M393.0 672.8h0M389.5 641.1h0M388.4 617.0h0M431.1 620.2h0M431.3 671.6h0M393.4 661.7h0M397.5 676.0h0M429.9 634.2h0M432.2 633.7h0M400.7 655.7h0M412.0 644.0h0M416.6 645.1h0M413.9 631.4h0M386.5 637.1h0M445.2 680.6h0M458.0 681.5h0M384.0 628.3h0M400.4 676.0h0M429.3 629.3h0M405.6 654.7h0M419.0 669.1h0M412.4 670.5h0M409.3 681.8h0M385.8 671.0h0M398.7 617.4h0M451.1 630.1h0M445.4 628.2h0M431.7 618.2h0M424.1 652.2h0M429.1 633.7h0M409.1 625.0h0M396.9 668.0h0M427.1 640.5h0M442.0 629.8h0M425.9 627.3h0M440.4 626.4h0M440.7 644.9h0M427.1 624.3h0M405.6 625.6h0M407.8 647.5h0M452.1 622.6h0M390.3 677.2h0M409.4 652.2h0M396.3 671.2h0M408.0 654.5h0M436.8 681.8h0M420.0 668.2h0M414.8 644.1h0M383.8 675.0h0M383.6 663.1h0M392.6 649.4h0M444.0 674.0h0M455.1 640.2h0M402.0 616.4h0M433.7 637.4h0M433.5 643.9h0M420.0 658.3h0M412.1 649.4h0M457.7 656.0h0M458.2 672.3h0M423.7 677.2h0M410.7 653.8h0M449.0 632.2h0M401.7 618.3h0M412.6 658.6h0M399.0 623.9h0M416.5 633.1h0M384.9 618.9h0M388.0 681.3h0M404.8 652.1h0M406.6 636.8h0M432.7 661.0h0M417.5 673.1h0M444.9 639.1h0M449.0 638.5h0M411.7 660.4h0M387.5 652.8h0M392.9 638.6h0M440.1 625.0h0M409.7 677.9h0M439.2 642.0h0M424.7 654.4h0M431.1 675.4h0M415.4 625.3h0M420.7 634.5h0M456.5 677.3h0M413.2 640.1h0M440.4 620.9h0M408.7 646.8h0M394.4 651.5h0M386.1 647.9h0M401.0 677.0h0M419.8 659.4h0M453.7 670.3h0M423.7 653.3h0M443.9 646.5h0M386.6 654.8h0M410.3 623.4h0M432.9 653.7h0M408.2 621.6h0M392.2 655.0h0M433.5 661.8h0M439.8 677.8h0M412.0 675.6h0M457.3 679.6h0M384.5 637.2h0M385.7 662.7h0M408.7 641.3h0M431.9 621.3h0M395.4 639.8h0M405.4 630.8h0M410.1 623.5h0M404.5 662.1h0M449.8 657.1h0M457.3 644.8h0M403.6 644.6h0M422.2 664.5h0M397.2 632.0h0M394.3 622.2h0M383.6 616.8h0M429.1 673.0h0M421.1 674.3h0M403.6 673.4h0" stroke="#5414a2" stroke-width="2.2"/>
</g>
<rect x="441.8" y="678.4" width="12.9" height="1.5" fill="#e81c24"/>
<text x="39.3" y="615.8" font-size="7.3" text-anchor="middle">A549</text>
<line x1="74.3" y1="606.2" x2="451" y2="606.2" stroke="#000" stroke-width="1.2"/>
<text x="268.6" y="603.4" font-size="7.3" text-anchor="middle">A549ρ<tspan dy="-2.4" font-size="55%">0</tspan></text>
<text x="121.6" y="616.2" font-size="7.3" text-anchor="middle">untreated</text>
<text x="189.7" y="616.2" font-size="7.3" text-anchor="middle">NFs-CM</text>
<text x="271.3" y="616.2" font-size="7.3" text-anchor="middle">iCAFs-CM</text>
<text x="340.1" y="616.2" font-size="7.3" text-anchor="middle">iCAFs-CM+heat</text>
<text x="418.7" y="616.2" font-size="7.3" text-anchor="middle">iCAFs-CM+heat+DNase</text>
<rect x="493.6" y="542.49" width="10.4" height="82.21" fill="#7f7f7f"/>
<rect x="506" y="595.97" width="10.4" height="28.73" fill="#0cc40c"/>
<rect x="518.4" y="589.78" width="10.4" height="34.92" fill="#ff8408"/>
<rect x="530.6" y="568.57" width="10.4" height="56.13" fill="#ff0a0a"/>
<rect x="543" y="570.78" width="10.4" height="53.92" fill="#ff8484"/>
<rect x="555.4" y="580.06" width="10.4" height="44.64" fill="#ff1690"/>
<path d="M498.8 542.49V541.16M496.6 541.16h4.4" stroke="#7f7f7f" stroke-width="0.6" fill="none"/>
<circle cx="495.68" cy="542.93" r="1.15" fill="#000"/>
<circle cx="498.8" cy="541.16" r="1.15" fill="#000"/>
<circle cx="501.92" cy="543.81" r="1.15" fill="#000"/>
<path d="M511.2 595.97V593.76M509 593.76h4.4" stroke="#0cc40c" stroke-width="0.6" fill="none"/>
<rect x="506.99" y="593.99" width="2.18" height="2.18" fill="#000"/>
<rect x="510.11" y="592.67" width="2.18" height="2.18" fill="#000"/>
<rect x="513.23" y="597.09" width="2.18" height="2.18" fill="#000"/>
<path d="M523.6 589.78V586.69M521.4 586.69h4.4" stroke="#ff8408" stroke-width="0.6" fill="none"/>
<path d="M520.48 586.31L521.75 588.61L519.22 588.61Z" fill="#000"/>
<path d="M523.6 592.5L524.87 594.79L522.34 594.79Z" fill="#000"/>
<path d="M526.72 587.19L527.99 589.49L525.46 589.49Z" fill="#000"/>
<path d="M535.8 568.57V567.68M533.6 567.68h4.4" stroke="#ff0a0a" stroke-width="0.6" fill="none"/>
<path d="M532.68 569.39L533.95 567.09L531.42 567.09Z" fill="#000"/>
<path d="M535.8 569.57L537.07 567.27L534.54 567.27Z" fill="#000"/>
<path d="M538.92 570.45L540.19 568.15L537.66 568.15Z" fill="#000"/>
<path d="M548.2 570.78V569.45M546 569.45h4.4" stroke="#ff8484" stroke-width="0.6" fill="none"/>
<circle cx="545.08" cy="570.07" r="1.15" fill="#000"/>
<circle cx="548.2" cy="570.95" r="1.15" fill="#000"/>
<circle cx="551.32" cy="571.66" r="1.15" fill="#000"/>
<path d="M560.6 580.06V578.29M558.4 578.29h4.4" stroke="#ff1690" stroke-width="0.6" fill="none"/>
<circle cx="557.48" cy="578.29" r="1.15" fill="#000"/>
<circle cx="560.6" cy="580.5" r="1.15" fill="#000"/>
<circle cx="563.72" cy="580.68" r="1.15" fill="#000"/>
<line x1="488.6" y1="535.8" x2="488.6" y2="625.2" stroke="#000" stroke-width="1"/>
<line x1="488.1" y1="624.7" x2="569.5" y2="624.7" stroke="#000" stroke-width="1"/>
<line x1="485.3" y1="624.7" x2="488.6" y2="624.7" stroke="#000" stroke-width="1"/>
<text x="484.3" y="626.93" font-size="6.2" text-anchor="end" font-weight="bold">0</text>
<line x1="485.3" y1="607.02" x2="488.6" y2="607.02" stroke="#000" stroke-width="1"/>
<text x="484.3" y="609.25" font-size="6.2" text-anchor="end" font-weight="bold">200</text>
<line x1="485.3" y1="589.34" x2="488.6" y2="589.34" stroke="#000" stroke-width="1"/>
<text x="484.3" y="591.57" font-size="6.2" text-anchor="end" font-weight="bold">400</text>
<line x1="485.3" y1="571.66" x2="488.6" y2="571.66" stroke="#000" stroke-width="1"/>
<text x="484.3" y="573.89" font-size="6.2" text-anchor="end" font-weight="bold">600</text>
<line x1="485.3" y1="553.98" x2="488.6" y2="553.98" stroke="#000" stroke-width="1"/>
<text x="484.3" y="556.21" font-size="6.2" text-anchor="end" font-weight="bold">800</text>
<line x1="485.3" y1="536.3" x2="488.6" y2="536.3" stroke="#000" stroke-width="1"/>
<text x="484.3" y="538.53" font-size="6.2" text-anchor="end" font-weight="bold">1000</text>
<line x1="498.8" y1="624.7" x2="498.8" y2="627.34" stroke="#000" stroke-width="0.8"/>
<line x1="511.2" y1="624.7" x2="511.2" y2="627.34" stroke="#000" stroke-width="0.8"/>
<line x1="523.6" y1="624.7" x2="523.6" y2="627.34" stroke="#000" stroke-width="0.8"/>
<line x1="535.8" y1="624.7" x2="535.8" y2="627.34" stroke="#000" stroke-width="0.8"/>
<line x1="548.2" y1="624.7" x2="548.2" y2="627.34" stroke="#000" stroke-width="0.8"/>
<line x1="560.6" y1="624.7" x2="560.6" y2="627.34" stroke="#000" stroke-width="0.8"/>
<line x1="498.2" y1="537.1" x2="512" y2="537.1" stroke="#000" stroke-width="0.9"/>
<text x="505.1" y="537.45" font-size="6.2" text-anchor="middle" font-weight="bold">***</text>
<line x1="523.6" y1="564.1" x2="538" y2="564.1" stroke="#000" stroke-width="0.9"/>
<text x="530.8" y="564.45" font-size="6.2" text-anchor="middle" font-weight="bold">***</text>
<line x1="546.4" y1="565.9" x2="560.3" y2="565.9" stroke="#000" stroke-width="0.9"/>
<text x="553.35" y="566.25" font-size="6.2" text-anchor="middle" font-weight="bold">**</text>
<text x="463.4" y="634.93" font-size="6.2">H1299</text>
<path d="M497.2 632.7h3.2M498.8 631.1v3.2" stroke="#000" stroke-width="0.7" fill="none"/>
<path d="M510.3 633h1.8" stroke="#000" stroke-width="0.7" fill="none"/>
<path d="M522.7 633h1.8" stroke="#000" stroke-width="0.7" fill="none"/>
<path d="M534.9 633h1.8" stroke="#000" stroke-width="0.7" fill="none"/>
<path d="M547.3 633h1.8" stroke="#000" stroke-width="0.7" fill="none"/>
<path d="M559.7 633h1.8" stroke="#000" stroke-width="0.7" fill="none"/>
<text x="463.4" y="642.03" font-size="6.2">H1299ρ<tspan dy="-2" font-size="65%">0</tspan></text>
<path d="M497.9 640.1h1.8" stroke="#000" stroke-width="0.7" fill="none"/>
<path d="M509.6 639.8h3.2M511.2 638.2v3.2" stroke="#000" stroke-width="0.7" fill="none"/>
<path d="M522 639.8h3.2M523.6 638.2v3.2" stroke="#000" stroke-width="0.7" fill="none"/>
<path d="M534.2 639.8h3.2M535.8 638.2v3.2" stroke="#000" stroke-width="0.7" fill="none"/>
<path d="M546.6 639.8h3.2M548.2 638.2v3.2" stroke="#000" stroke-width="0.7" fill="none"/>
<path d="M559 639.8h3.2M560.6 638.2v3.2" stroke="#000" stroke-width="0.7" fill="none"/>
<text x="463.4" y="650.03" font-size="6.2">NFs-CM</text>
<path d="M497.9 648.1h1.8" stroke="#000" stroke-width="0.7" fill="none"/>
<path d="M510.3 648.1h1.8" stroke="#000" stroke-width="0.7" fill="none"/>
<path d="M522 647.8h3.2M523.6 646.2v3.2" stroke="#000" stroke-width="0.7" fill="none"/>
<path d="M534.9 648.1h1.8" stroke="#000" stroke-width="0.7" fill="none"/>
<path d="M547.3 648.1h1.8" stroke="#000" stroke-width="0.7" fill="none"/>
<path d="M559.7 648.1h1.8" stroke="#000" stroke-width="0.7" fill="none"/>
<text x="463.4" y="657.73" font-size="6.2">iCAFs-CM</text>
<path d="M497.9 655.8h1.8" stroke="#000" stroke-width="0.7" fill="none"/>
<path d="M510.3 655.8h1.8" stroke="#000" stroke-width="0.7" fill="none"/>
<path d="M522.7 655.8h1.8" stroke="#000" stroke-width="0.7" fill="none"/>
<path d="M534.2 655.5h3.2M535.8 653.9v3.2" stroke="#000" stroke-width="0.7" fill="none"/>
<path d="M546.6 655.5h3.2M548.2 653.9v3.2" stroke="#000" stroke-width="0.7" fill="none"/>
<path d="M559 655.5h3.2M560.6 653.9v3.2" stroke="#000" stroke-width="0.7" fill="none"/>
<text x="463.4" y="665.53" font-size="6.2">heat</text>
<path d="M497.9 663.6h1.8" stroke="#000" stroke-width="0.7" fill="none"/>
<path d="M510.3 663.6h1.8" stroke="#000" stroke-width="0.7" fill="none"/>
<path d="M522.7 663.6h1.8" stroke="#000" stroke-width="0.7" fill="none"/>
<path d="M534.9 663.6h1.8" stroke="#000" stroke-width="0.7" fill="none"/>
<path d="M546.6 663.3h3.2M548.2 661.7v3.2" stroke="#000" stroke-width="0.7" fill="none"/>
<path d="M559 663.3h3.2M560.6 661.7v3.2" stroke="#000" stroke-width="0.7" fill="none"/>
<text x="463.4" y="672.93" font-size="6.2">DNase</text>
<path d="M497.9 671h1.8" stroke="#000" stroke-width="0.7" fill="none"/>
<path d="M510.3 671h1.8" stroke="#000" stroke-width="0.7" fill="none"/>
<path d="M522.7 671h1.8" stroke="#000" stroke-width="0.7" fill="none"/>
<path d="M534.9 671h1.8" stroke="#000" stroke-width="0.7" fill="none"/>
<path d="M547.3 671h1.8" stroke="#000" stroke-width="0.7" fill="none"/>
<path d="M559 670.7h3.2M560.6 669.1v3.2" stroke="#000" stroke-width="0.7" fill="none"/>
<text x="468" y="580.7" font-size="6.9" text-anchor="middle" font-weight="bold" transform="rotate(-90 468 580.7)">Cell number</text>
<rect x="603.8" y="550.23" width="10.6" height="75.07" fill="#7f7f7f"/>
<rect x="616.9" y="609.84" width="10.6" height="15.46" fill="#0cc40c"/>
<rect x="629.6" y="609.11" width="10.6" height="16.19" fill="#ff8408"/>
<rect x="642.4" y="579.96" width="10.6" height="45.34" fill="#ff0a0a"/>
<rect x="655.3" y="581.14" width="10.6" height="44.16" fill="#ff8484"/>
<rect x="668.2" y="604.25" width="10.6" height="21.05" fill="#ff1690"/>
<path d="M609.1 550.23V549.05M606.9 549.05h4.4" stroke="#7f7f7f" stroke-width="0.6" fill="none"/>
<circle cx="605.92" cy="548.76" r="1.15" fill="#000"/>
<circle cx="609.1" cy="550.82" r="1.15" fill="#000"/>
<circle cx="612.28" cy="551.26" r="1.15" fill="#000"/>
<path d="M622.2 609.84V608.96M620 608.96h4.4" stroke="#0cc40c" stroke-width="0.6" fill="none"/>
<rect x="617.93" y="608.02" width="2.18" height="2.18" fill="#000"/>
<rect x="621.11" y="608.75" width="2.18" height="2.18" fill="#000"/>
<rect x="624.29" y="609.49" width="2.18" height="2.18" fill="#000"/>
<path d="M634.9 609.11V607.93M632.7 607.93h4.4" stroke="#ff8408" stroke-width="0.6" fill="none"/>
<path d="M631.72 607.55L632.99 609.85L630.46 609.85Z" fill="#000"/>
<path d="M634.9 608.14L636.16 610.44L633.63 610.44Z" fill="#000"/>
<path d="M638.08 608.43L639.34 610.73L636.81 610.73Z" fill="#000"/>
<path d="M647.7 579.96V578.78M645.5 578.78h4.4" stroke="#ff0a0a" stroke-width="0.6" fill="none"/>
<path d="M644.52 580.64L645.78 578.34L643.25 578.34Z" fill="#000"/>
<path d="M647.7 581.52L648.96 579.22L646.43 579.22Z" fill="#000"/>
<path d="M650.88 581.96L652.14 579.66L649.61 579.66Z" fill="#000"/>
<path d="M660.6 581.14V580.26M658.4 580.26h4.4" stroke="#ff8484" stroke-width="0.6" fill="none"/>
<circle cx="657.42" cy="580.55" r="1.15" fill="#000"/>
<circle cx="660.6" cy="581.14" r="1.15" fill="#000"/>
<circle cx="663.78" cy="582.02" r="1.15" fill="#000"/>
<path d="M673.5 604.25V603.37M671.3 603.37h4.4" stroke="#ff1690" stroke-width="0.6" fill="none"/>
<circle cx="670.32" cy="603.51" r="1.15" fill="#000"/>
<circle cx="673.5" cy="604.25" r="1.15" fill="#000"/>
<circle cx="676.68" cy="604.99" r="1.15" fill="#000"/>
<line x1="598.7" y1="536.48" x2="598.7" y2="625.8" stroke="#000" stroke-width="1"/>
<line x1="598.2" y1="625.3" x2="685" y2="625.3" stroke="#000" stroke-width="1"/>
<line x1="595.4" y1="625.3" x2="598.7" y2="625.3" stroke="#000" stroke-width="1"/>
<text x="594.4" y="627.53" font-size="6.2" text-anchor="end" font-weight="bold">0</text>
<line x1="595.4" y1="595.86" x2="598.7" y2="595.86" stroke="#000" stroke-width="1"/>
<text x="594.4" y="598.09" font-size="6.2" text-anchor="end" font-weight="bold">200</text>
<line x1="595.4" y1="566.42" x2="598.7" y2="566.42" stroke="#000" stroke-width="1"/>
<text x="594.4" y="568.65" font-size="6.2" text-anchor="end" font-weight="bold">400</text>
<line x1="595.4" y1="536.98" x2="598.7" y2="536.98" stroke="#000" stroke-width="1"/>
<text x="594.4" y="539.21" font-size="6.2" text-anchor="end" font-weight="bold">600</text>
<line x1="609.1" y1="625.3" x2="609.1" y2="627.94" stroke="#000" stroke-width="0.8"/>
<line x1="622.2" y1="625.3" x2="622.2" y2="627.94" stroke="#000" stroke-width="0.8"/>
<line x1="634.9" y1="625.3" x2="634.9" y2="627.94" stroke="#000" stroke-width="0.8"/>
<line x1="647.7" y1="625.3" x2="647.7" y2="627.94" stroke="#000" stroke-width="0.8"/>
<line x1="660.6" y1="625.3" x2="660.6" y2="627.94" stroke="#000" stroke-width="0.8"/>
<line x1="673.5" y1="625.3" x2="673.5" y2="627.94" stroke="#000" stroke-width="0.8"/>
<line x1="609.5" y1="545.4" x2="621.9" y2="545.4" stroke="#000" stroke-width="0.9"/>
<text x="615.7" y="545.75" font-size="6.2" text-anchor="middle" font-weight="bold">***</text>
<line x1="635.3" y1="574.6" x2="647.4" y2="574.6" stroke="#000" stroke-width="0.9"/>
<text x="641.35" y="574.95" font-size="6.2" text-anchor="middle" font-weight="bold">***</text>
<line x1="660.5" y1="575" x2="673.3" y2="575" stroke="#000" stroke-width="0.9"/>
<text x="666.9" y="575.35" font-size="6.2" text-anchor="middle" font-weight="bold">***</text>
<text x="575.9" y="635.93" font-size="6.2">A549</text>
<path d="M607.5 633.7h3.2M609.1 632.1v3.2" stroke="#000" stroke-width="0.7" fill="none"/>
<path d="M621.3 634h1.8" stroke="#000" stroke-width="0.7" fill="none"/>
<path d="M634 634h1.8" stroke="#000" stroke-width="0.7" fill="none"/>
<path d="M646.8 634h1.8" stroke="#000" stroke-width="0.7" fill="none"/>
<path d="M659.7 634h1.8" stroke="#000" stroke-width="0.7" fill="none"/>
<path d="M672.6 634h1.8" stroke="#000" stroke-width="0.7" fill="none"/>
<text x="575.9" y="643.03" font-size="6.2">A549ρ<tspan dy="-2" font-size="65%">0</tspan></text>
<path d="M608.2 641.1h1.8" stroke="#000" stroke-width="0.7" fill="none"/>
<path d="M620.6 640.8h3.2M622.2 639.2v3.2" stroke="#000" stroke-width="0.7" fill="none"/>
<path d="M633.3 640.8h3.2M634.9 639.2v3.2" stroke="#000" stroke-width="0.7" fill="none"/>
<path d="M646.1 640.8h3.2M647.7 639.2v3.2" stroke="#000" stroke-width="0.7" fill="none"/>
<path d="M659 640.8h3.2M660.6 639.2v3.2" stroke="#000" stroke-width="0.7" fill="none"/>
<path d="M671.9 640.8h3.2M673.5 639.2v3.2" stroke="#000" stroke-width="0.7" fill="none"/>
<text x="575.9" y="651.03" font-size="6.2">NFs-CM</text>
<path d="M608.2 649.1h1.8" stroke="#000" stroke-width="0.7" fill="none"/>
<path d="M621.3 649.1h1.8" stroke="#000" stroke-width="0.7" fill="none"/>
<path d="M633.3 648.8h3.2M634.9 647.2v3.2" stroke="#000" stroke-width="0.7" fill="none"/>
<path d="M646.8 649.1h1.8" stroke="#000" stroke-width="0.7" fill="none"/>
<path d="M659.7 649.1h1.8" stroke="#000" stroke-width="0.7" fill="none"/>
<path d="M672.6 649.1h1.8" stroke="#000" stroke-width="0.7" fill="none"/>
<text x="575.9" y="659.13" font-size="6.2">iCAFs-CM</text>
<path d="M608.2 657.2h1.8" stroke="#000" stroke-width="0.7" fill="none"/>
<path d="M621.3 657.2h1.8" stroke="#000" stroke-width="0.7" fill="none"/>
<path d="M634 657.2h1.8" stroke="#000" stroke-width="0.7" fill="none"/>
<path d="M646.1 656.9h3.2M647.7 655.3v3.2" stroke="#000" stroke-width="0.7" fill="none"/>
<path d="M659 656.9h3.2M660.6 655.3v3.2" stroke="#000" stroke-width="0.7" fill="none"/>
<path d="M671.9 656.9h3.2M673.5 655.3v3.2" stroke="#000" stroke-width="0.7" fill="none"/>
<text x="575.9" y="666.83" font-size="6.2">heat</text>
<path d="M608.2 664.9h1.8" stroke="#000" stroke-width="0.7" fill="none"/>
<path d="M621.3 664.9h1.8" stroke="#000" stroke-width="0.7" fill="none"/>
<path d="M634 664.9h1.8" stroke="#000" stroke-width="0.7" fill="none"/>
<path d="M646.8 664.9h1.8" stroke="#000" stroke-width="0.7" fill="none"/>
<path d="M659 664.6h3.2M660.6 663v3.2" stroke="#000" stroke-width="0.7" fill="none"/>
<path d="M671.9 664.6h3.2M673.5 663v3.2" stroke="#000" stroke-width="0.7" fill="none"/>
<text x="575.9" y="673.93" font-size="6.2">DNase</text>
<path d="M608.2 672h1.8" stroke="#000" stroke-width="0.7" fill="none"/>
<path d="M621.3 672h1.8" stroke="#000" stroke-width="0.7" fill="none"/>
<path d="M634 672h1.8" stroke="#000" stroke-width="0.7" fill="none"/>
<path d="M646.8 672h1.8" stroke="#000" stroke-width="0.7" fill="none"/>
<path d="M659.7 672h1.8" stroke="#000" stroke-width="0.7" fill="none"/>
<path d="M671.9 671.7h3.2M673.5 670.1v3.2" stroke="#000" stroke-width="0.7" fill="none"/>
<text x="581.6" y="581.3" font-size="6.9" text-anchor="middle" font-weight="bold" transform="rotate(-90 581.6 581.3)">Cell number</text>
</svg></body></html>
